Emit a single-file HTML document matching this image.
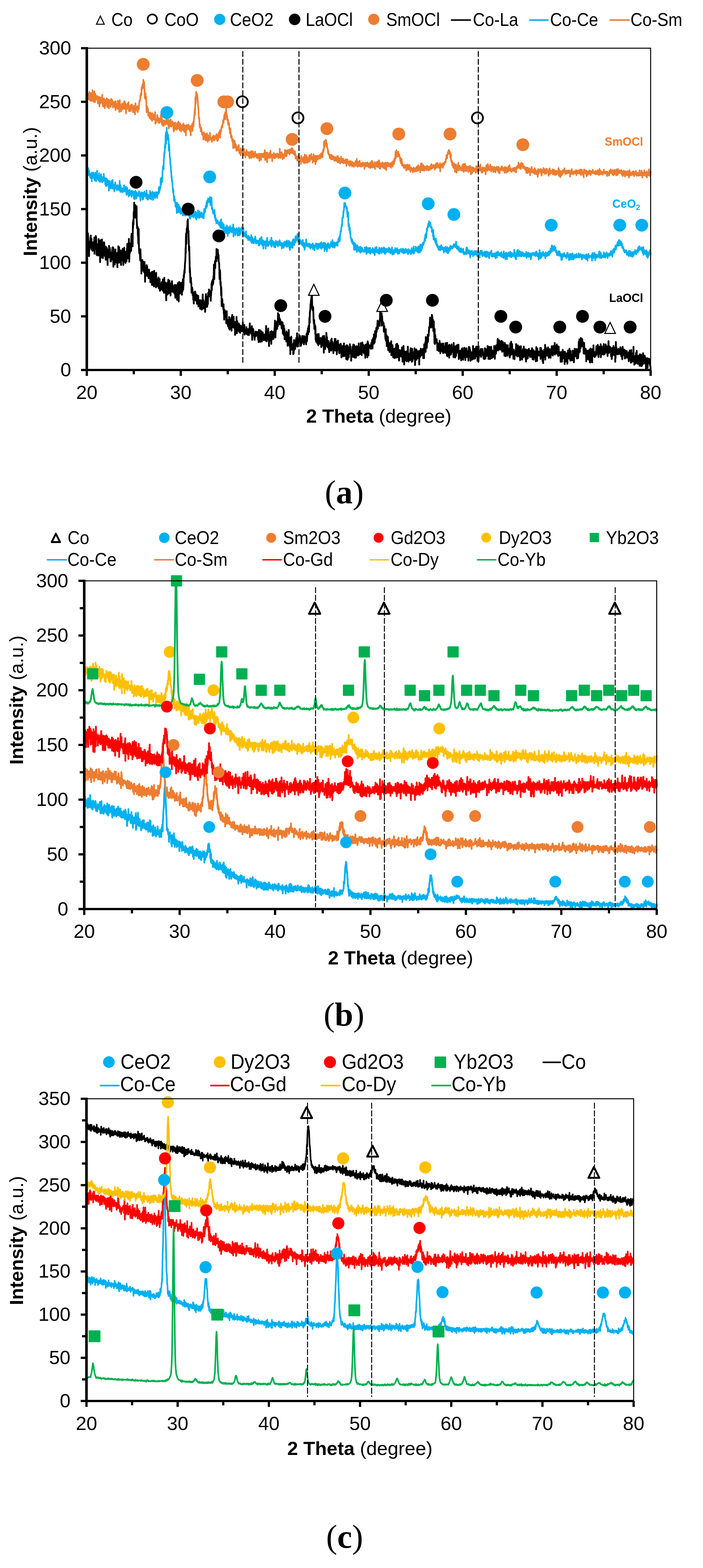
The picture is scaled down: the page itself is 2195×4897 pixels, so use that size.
<!DOCTYPE html>
<html><head><meta charset="utf-8"><title>XRD patterns</title>
<style>html,body{margin:0;padding:0;background:#fff;}svg{display:block;}</style>
</head><body>
<svg width="2195" height="4897" viewBox="0 0 2195 4897">
<rect width="2195" height="4897" fill="#fff"/>
<clipPath id="clip0"><rect x="261.0" y="151.5" width="1780.5" height="1015.0"/></clipPath>
<path d="M271 747.5 l0.5 5 0.5-14 1 11 0.5 12.5 0.5-16.5 0.5-17 0.5 7 1 32 0.5 11 0.5-11.5 0.5-12 0.5 45 1-39 0.5 19.5 0.5-9 0.5-3 0.5-4 1-13 0.5-11 0.5 22 0.5-27 0.5 38 1-18 0.5-10 0.5 15.5 0.5 16 0.5 3.5 1-8 0.5-12 0.5 23 0.5-14 0.5-0.5 1-12.5 0.5 6.5 0.5-2 0.5 19 0.5-9.5 1-16 0.5-12.5 0.5 50.5 0.5-50 0.5 3.5 1 10.5 0.5 10 0.5 10.5 0.5-31.5 0.5-8.5 1 3 0.5 9.5 0.5 17.5 0.5 28.5 0.5-21.5 1-11.5 0.5 35 0.5-29.5 0.5-0.5 0.5-4 1 33.5 0.5-9 0.5-3.5 0.5 13.5 0.5-51.5 1 40 0.5-14 0.5 10.5 0.5-32 0.5 5 1 12 0.5 50.5 0.5-39.5 0.5-10.5 0.5-5.5 1 28.5 0.5-42 0.5 55 0.5-11 0.5-27.5 1 15.5 0.5-33.5 0.5 31.5 0.5 14.5 0.5-4 1 12.5 0.5 3.5 0.5-32.5 0.5 1 0.5-12 1 35.5 0.5-41.5 0.5 34 0.5-31.5 0.5 34.5 1 5.5 0.5-16.5 0.5-13 0.5 15 0.5 13 1 13 0.5 1 0.5-32 0.5-8 0.5 20 1 15.5 0.5-32.5 0.5 36.5 0.5-9.5 0.5-22 1 48 0.5-44 0.5 16.5 0.5-11 0.5 3 1-4.5 0.5-8 0.5 24.5 0.5-36 0.5 12 1-2 0.5-5 0.5 6.5 0.5-1 0.5 13 1 25 0.5-21.5 0.5 11 0.5 10.5 0.5-27 1 13.5 0.5 7.5 0.5 0.5 0.5-21.5 0.5-1 1-15.5 0.5 21.5 0.5-17 0.5-5.5 0.5 4.5 1 56.5 0.5-57.5 0.5 14 0.5-1 0.5 1 1 0 0.5 1 0.5 11 0.5 24.5 0.5-28.5 1 11 0.5-29.5 0.5 21.5 0.5-5.5 0.5 14.5 1-5 0.5-8 0.5 23.5 0.5-28 0.5 6.5 1 17 0.5 19 0.5-45.5 0.5 12.5 0.5 4 1-4.5 0.5-32 0.5 29 0.5-2 0.5 24.5 1-48.5 0.5 11 0.5-2 0.5 16 0.5-13.5 1 8.5 0.5-4 0.5 12 0.5 20.5 0.5-38.5 1 45.5 0.5-26 0.5-0.5 0.5 13 0.5-25.5 1 12.5 0.5 3.5 0.5-14.5 0.5 15 0.5-28 1 15.5 0.5 12.5 0.5 22.5 0.5-10 0.5-36 1 17.5 0.5 3 0.5-28.5 0.5 43.5 0.5-10.5 1-1.5 0.5-16 0.5 18.5 0.5-0.5 0.5 14.5 1-35 0.5-1 0.5 19 0.5-10 0.5 21.5 1-12.5 0.5-27.5 0.5 18 0.5-32.5 0.5 45.5 1-20.5 0.5 10.5 0.5-11.5 0.5 7.5 0.5 7.5 1 3.5 0.5-58 0.5 44.5 0.5 27 0.5-21.5 1-21.5 0.5 15.5 0.5-29.5 0.5 3 0.5 14 1 2 0.5 4.5 0.5-8 0.5 7.5 0.5-43.5 1-10 0.5 36.5 0.5-6 0.5 3 0.5-17.5 1 23.5 0.5-33 0.5-42 0.5 17.5 0.5-24 1 13 0.5-39 0.5 16.5 0.5 2.5 0.5-48 1 37.5 0.5 9 0.5-23.5 0.5 1 0.5-17 1 29 0.5-24 0.5 2 0.5 25 0.5-7.5 1 19.5 0.5-40 0.5 50 0.5 3.5 0.5 15.5 1-3 0.5 2.5 0.5-3.5 0.5 27 0.5 1 1 24.5 0.5-1.5 0.5-45 0.5 31 0.5 32 1 13.5 0.5 0 0.5-9 0.5 4 0.5 15.5 1 11.5 0.5-35 0.5 17 0.5 15 0.5 0.5 1 7 0.5 36.5 0.5-41 0.5 19 0.5 0.5 1-3.5 0.5-17.5 0.5 28.5 0.5 5 0.5-28 1-0.5 0.5 25.5 0.5-20.5 0.5 13 0.5-7.5 1 23 0.5-28.5 0.5-4 0.5 9 0.5 2 1 51 0.5-45 0.5 4.5 0.5 3 0.5 7.5 1-9 0.5-4 0.5 10.5 0.5 3.5 0.5-23 1 33.5 0.5-29 0.5 13 0.5 14.5 0.5-6.5 1 9.5 0.5-21.5 0.5 5.5 0.5 13.5 0.5 8.5 1-19 0.5-8 0.5 15.5 0.5-6.5 0.5 12 1-5.5 0.5 5.5 0.5-7 0.5 25.5 0.5-29 1 13 0.5-7.5 0.5 10.5 0.5-8.5 0.5 20 1-30.5 0.5 40.5 0.5-8.5 0.5-17 0.5-16 1 17 0.5 8 0.5 16.5 0.5-16.5 0.5-1.5 1-23 0.5 15.5 0.5 30 0.5-48.5 0.5 34 1 7 0.5-31.5 0.5 21.5 0.5 4.5 0.5-7.5 1-8 0.5-1.5 0.5 33 0.5-45.5 0.5 14.5 1 19 0.5 6.5 0.5 2.5 0.5-14.5 0.5 11 1 2 0.5-21 0.5 6.5 0.5 11 0.5-15 1-8 0.5 33.5 0.5-6 0.5-20.5 0.5 3.5 1 7 0.5-12.5 0.5 31 0.5 5.5 0.5-7.5 1-13 0.5 12.5 0.5-3.5 0.5 7 0.5-4.5 1 5.5 0.5-18 0.5-5.5 0.5 17.5 0.5-3.5 1 5.5 0.5-14.5 0.5 6 0.5-19.5 0.5 36 1-19 0.5-0.5 0.5 11 0.5-12.5 0.5 27 1-47 0.5 46.5 0.5-30 0.5 27.5 0.5-30 1 21 0.5-7 0.5 1.5 0.5-13.5 0.5 19 1 35.5 0.5-29 0.5-12.5 0.5 8.5 0.5-15.5 1-3 0.5 15.5 0.5 18 0.5-38 0.5 4.5 1 18.5 0.5-31.5 0.5 32.5 0.5 10.5 0.5-13 1-16 0.5 27 0.5-38 0.5 37.5 0.5-24 1 5.5 0.5 9.5 0.5-16 0.5 34 0.5-37.5 1 19 0.5 6 0.5-16.5 0.5-4 0.5 4 1-16 0.5 12 0.5-2.5 0.5 24 0.5-8.5 1-6 0.5 8 0.5-4 0.5-2 0.5-5 1 12 0.5 3.5 0.5 6 0.5 1 0.5-26.5 1 16 0.5-11.5 0.5 27 0.5 8.5 0.5-11.5 1-28.5 0.5 1 0.5 9.5 0.5 14.5 0.5-8.5 1 2 0.5 0.5 0.5 27.5 0.5-21 0.5-9 1-22 0.5 17.5 0.5-16 0.5 23 0.5-2 1 34.5 0.5-44 0.5-1.5 0.5-15.5 0.5 28.5 1-7.5 0.5 9.5 0.5 6 0.5-6.5 0.5-5 1-22 0.5 17 0.5 9.5 0.5-12.5 0.5-1.5 1 10.5 0.5-23.5 0.5 37.5 0.5-22.5 0.5-12.5 1 24 0.5-23.5 0.5-14 0.5 8.5 0.5 24 1-15.5 0.5-29 0.5 7 0.5-1.5 0.5-12 1-11 0.5 10 0.5-14 0.5-15.5 0.5-2 1-16.5 0.5-30 0.5 16 0.5-49.5 0.5-12 1 32.5 0.5-31.5 0.5-16 0.5 5.5 0.5-6.5 1-10 0.5-12.5 0.5 18.5 0.5-24 0.5 28 1 15 0.5-7.5 0.5 23 0.5 17 0.5 22.5 1-13.5 0.5 26 0.5 25 0.5 29.5 0.5-13.5 1 29 0.5 16.5 0.5-9.5 0.5 0.5 0.5-6 1 18.5 0.5-1.5 0.5 30 0.5-11 0.5 1.5 1-6.5 0.5 12 0.5-6.5 0.5 18.5 0.5-9 1 1 0.5 22 0.5-16.5 0.5 7.5 0.5 21 1-35 0.5 17.5 0.5 7 0.5-5 0.5-5.5 1-16.5 0.5 22 0.5-7.5 0.5-10.5 0.5 11.5 1-6 0.5 20 0.5-15 0.5 11 0.5-13.5 1 26.5 0.5-2 0.5-25 0.5 19 0.5 2.5 1-5 0.5 10.5 0.5-25 0.5 33 0.5-13.5 1-5.5 0.5 6 0.5 9.5 0.5 1 0.5-15.5 1 18.5 0.5-20.5 0.5 27.5 0.5-12 0.5-7 1 16.5 0.5-23.5 0.5 8.5 0.5 13 0.5 6 1 1 0.5-20 0.5 15 0.5 2.5 0.5-14 1-31 0.5 24.5 0.5-6 0.5 6.5 0.5-7 1 26 0.5-11.5 0.5-9 0.5 3 0.5 2 1 5.5 0.5-5.5 0.5 6 0.5 20 0.5-16 1-21.5 0.5-14 0.5-4 0.5 21 0.5-11 1-1 0.5 19.5 0.5 11.5 0.5-22.5 0.5 21.5 1-19 0.5-12.5 0.5 24 0.5-19 0.5-16 1 9.5 0.5-3 0.5-6 0.5-11.5 0.5 18 1-14.5 0.5 14.5 0.5 4.5 0.5-12.5 0.5 10 1-2 0.5-1.5 0.5 19 0.5-31.5 0.5 15 1-16.5 0.5-21.5 0.5 22 0.5-2.5 0.5-26.5 1 7.5 0.5-8.5 0.5 13 0.5-17 0.5 14 1-4.5 0.5-19.5 0.5 10 0.5-21.5 0.5-25 1 45.5 0.5-16.5 0.5-28.5 0.5 10.5 0.5-21.5 1 21.5 0.5-22 0.5 1 0.5-8.5 0.5-6.5 1 15 0.5-5.5 0.5-33.5 0.5 11.5 0.5 0.5 1 1.5 0.5-5 0.5 19.5 0.5 0 0.5-25.5 1 17.5 0.5-4.5 0.5 23 0.5-18.5 0.5 18.5 1 5 0.5 6 0.5 24 0.5 20.5 0.5-2.5 1-25.5 0.5 11.5 0.5 27.5 0.5 7 0.5-9.5 1 22 0.5 20.5 0.5-25.5 0.5 16 0.5 42.5 1-21.5 0.5-0.5 0.5 1 0.5 8.5 0.5 14 1-2.5 0.5-1.5 0.5 10 0.5 4.5 0.5-17 1 29.5 0.5-4.5 0.5 22.5 0.5-29 0.5-1.5 1 5 0.5-2.5 0.5 7.5 0.5 3 0.5 0 1 10.5 0.5-16 0.5 20 0.5 15 0.5-27 1-11 0.5 35.5 0.5-9.5 0.5 8.5 0.5-3 1-4 0.5 16.5 0.5-11 0.5 15 0.5-10.5 1 8.5 0.5-1 0.5 8.5 0.5-35.5 0.5 9.5 1 30 0.5-15.5 0.5 1 0.5 1 0.5 9.5 1-26 0.5 14.5 0.5-10.5 0.5 0 0.5-10 1 39.5 0.5-43 0.5 6 0.5 9 0.5-21.5 1 26.5 0.5-7 0.5 19.5 0.5-22.5 0.5 12 1 8 0.5-31 0.5 30 0.5-3.5 0.5 2.5 1 7.5 0.5-15.5 0.5-2 0.5 5 0.5 33 1-40.5 0.5 16.5 0.5 11 0.5-22 0.5 1 1 19.5 0.5-42 0.5 45 0.5 6.5 0.5-7 1-31 0.5 20 0.5 2.5 0.5-3.5 0.5 6.5 1 1.5 0.5-0.5 0.5-16 0.5-3.5 0.5 25.5 1-15.5 0.5-6.5 0.5 23 0.5-7 0.5 7 1 3 0.5-16.5 0.5 10.5 0.5-16.5 0.5 8.5 1-5.5 0.5 9 0.5 4.5 0.5-6.5 0.5-1 1 9 0.5-13.5 0.5-3.5 0.5 7 0.5-18.5 1 28.5 0.5-13.5 0.5 11.5 0.5-7.5 0.5 13 1-23 0.5 11.5 0.5-12 0.5 30 0.5-9 1 5 0.5-4 0.5 2 0.5-6.5 0.5-1 1 0.5 0.5 6.5 0.5-9 0.5-8 0.5 22 1-11 0.5 1.5 0.5-6.5 0.5 7 0.5-0.5 1 12 0.5-12 0.5 11.5 0.5-17 0.5 8 1-1.5 0.5 11.5 0.5-20.5 0.5 2 0.5-2 1-16 0.5 27.5 0.5-15 0.5 16.5 0.5-6 1 0.5 0.5 1.5 0.5-4.5 0.5 12 0.5-4 1-6 0.5-14 0.5 31 0.5 12 0.5-15.5 1-7 0.5-0.5 0.5 1 0.5-12.5 0.5 2.5 1 12.5 0.5 5.5 0.5-1.5 0.5 0.5 0.5-1.5 1 16.5 0.5-13 0.5-0.5 0.5-2.5 0.5 1 1-11 0.5 14.5 0.5-1 0.5-11.5 0.5 9.5 1-5 0.5-5.5 0.5 3.5 0.5 2 0.5 5.5 1-10.5 0.5 6.5 0.5 8 0.5-4 0.5 13 1-3 0.5 11 0.5-14 0.5-24 0.5 22.5 1-15.5 0.5 9.5 0.5 8 0.5-24 0.5 9 1 28 0.5-33 0.5 25 0.5-10.5 0.5-10 1 11.5 0.5-16.5 0.5 4 0.5 28 0.5-13 1-9 0.5 10 0.5-4 0.5-12 0.5 5.5 1 15 0.5-13 0.5 9 0.5 7.5 0.5-1.5 1-16.5 0.5 3.5 0.5-0.5 0.5 14 0.5-11.5 1 10 0.5-1.5 0.5-9 0.5 14.5 0.5-24.5 1-21.5 0.5 24 0.5 18 0.5-9.5 0.5 15.5 1-14 0.5-10.5 0.5-1 0.5 19 0.5-16 1-10 0.5-7.5 0.5 29 0.5 2 0.5-11 1 35 0.5-28.5 0.5-3 0.5 2 0.5 13 1-16 0.5 6 0.5-18 0.5 19.5 0.5-8 1-0.5 0.5-10 0.5 36.5 0.5-26.5 0.5-13.5 1 13 0.5 13 0.5-22.5 0.5-0.5 0.5 6.5 1 9.5 0.5-5.5 0.5-6 0.5 6 0.5 11 1-14.5 0.5-9.5 0.5 4 0.5-6 0.5-3.5 1-11 0.5-16.5 0.5 15.5 0.5 23.5 0.5 13.5 1-32 0.5-3.5 0.5 12.5 0.5-18.5 0.5 10 1-15.5 0.5 7 0.5-10.5 0.5 23.5 0.5-17 1-5 0.5 13.5 0.5-40.5 0.5 27.5 0.5-23.5 1 23 0.5-5.5 0.5-17 0.5 10 0.5 1.5 1-0.5 0.5 20 0.5-10.5 0.5 7.5 0.5-12 1 10 0.5-4 0.5 2 0.5 1.5 0.5 2 1 9.5 0.5 6.5 0.5-2.5 0.5-18 0.5 10 1 0 0.5-7.5 0.5 32 0.5-17.5 0.5 20.5 1-7 0.5-8 0.5-11.5 0.5 30 0.5-6.5 1-13 0.5 32.5 0.5-20.5 0.5 9.5 0.5 7.5 1-10.5 0.5-4.5 0.5 19 0.5-14 0.5 3 1 17.5 0.5-31.5 0.5 6 0.5 24 0.5-2.5 1-15 0.5 16 0.5 16.5 0.5-33 0.5 13.5 1-21.5 0.5 19 0.5 3 0.5-30.5 0.5 36.5 1 10 0.5-13 0.5-10 0.5 28 0.5-2.5 1-15 0.5 41.5 0.5-22 0.5-21 0.5 16.5 1 13 0.5-41 0.5 40 0.5-10 0.5-1 1-5 0.5 5.5 0.5-3 0.5-1 0.5 2 1-2 0.5 29 0.5-33 0.5 22 0.5 9 1-42 0.5 31.5 0.5-17.5 0.5 11 0.5-1 1-14 0.5 18 0.5-17 0.5-0.5 0.5-9.5 1 17.5 0.5-16.5 0.5-8.5 0.5 1.5 0.5 11.5 1 1 0.5-28.5 0.5 7 0.5 34.5 0.5-20 1 3 0.5 6 0.5-1.5 0.5-4.5 0.5-5.5 1 8 0.5-2 0.5-12.5 0.5 12 0.5-3 1-6 0.5-8 0.5 4.5 0.5 9.5 0.5 1.5 1 16.5 0.5-18 0.5 15 0.5-0.5 0.5-20 1 8.5 0.5-7 0.5 13 0.5-22 0.5 12 1-12 0.5 5.5 0.5 6 0.5 7 0.5-6 1-9.5 0.5 1.5 0.5 21.5 0.5-26 0.5 14 1-12 0.5 17 0.5-16 0.5 16.5 0.5-11.5 1 4.5 0.5-1 0.5 3 0.5-6 0.5 17.5 1-31.5 0.5-2.5 0.5 15 0.5 9 0.5-10.5 1-21 0.5 1 0.5 8 0.5-17.5 0.5 19 1-9.5 0.5-17 0.5 1.5 0.5 0.5 0.5 16.5 1-43.5 0.5-2.5 0.5 17.5 0.5-34 0.5 0 1-10 0.5-14 0.5 13.5 0.5-22 0.5-4 1-4 0.5-12 0.5 11 0.5 15.5 0.5-25 1 37.5 0.5-3 0.5 11.5 0.5-4 0.5-7 1 4 0.5 17 0.5 19 0.5 6 0.5 7 1-12 0.5 27.5 0.5-15.5 0.5 15 0.5 2.5 1-12 0.5 27 0.5-22 0.5 39 0.5-4.5 1 11 0.5-8 0.5-13.5 0.5-0.5 0.5 6.5 1 1.5 0.5 17.5 0.5 2.5 0.5-18 0.5-11.5 1 20.5 0.5 11 0.5 3.5 0.5-9.5 0.5-26 1 21 0.5 10 0.5-4.5 0.5-1.5 0.5-8.5 1 11 0.5 3 0.5-8 0.5-7.5 0.5-2.5 1 2 0.5 11.5 0.5 15 0.5-10.5 0.5-12.5 1 19 0.5-18.5 0.5 10 0.5 0 0.5-19.5 1 10.5 0.5-13 0.5 27 0.5-23.5 0.5 2.5 1 46 0.5-33.5 0.5-19 0.5 9.5 0.5 14.5 1-2.5 0.5 13 0.5-17 0.5 23.5 0.5-9 1-24 0.5 13.5 0.5 4.5 0.5-3 0.5-32.5 1 20 0.5 21.5 0.5-28 0.5 21 0.5-9.5 1 16 0.5 4.5 0.5-20 0.5 19 0.5 0.5 1-19.5 0.5 24.5 0.5 3.5 0.5-22.5 0.5 29.5 1-14 0.5-4 0.5 12 0.5-2.5 0.5-20.5 1 4.5 0.5 15 0.5-17 0.5-11.5 0.5 33 1-15.5 0.5-22 0.5 16.5 0.5-2.5 0.5 12 1 7.5 0.5-22.5 0.5 6 0.5 8.5 0.5 5 1 15 0.5-21.5 0.5 10 0.5-6.5 0.5-9 1-1.5 0.5 1.5 0.5-17.5 0.5 13 0.5 22.5 1 1 0.5-36.5 0.5 35 0.5-7 0.5-20.5 1 1 0.5 20.5 0.5-3 0.5 22 0.5-8 1-6 0.5-4 0.5 4 0.5-5.5 0.5-23.5 1 20.5 0.5 2 0.5 4 0.5 2 0.5-16 1 26 0.5-10 0.5 11.5 0.5-13.5 0.5 0 1-9 0.5-3 0.5 6.5 0.5-11 0.5 0.5 1 15 0.5 0 0.5 27 0.5-26 0.5 4 1 19.5 0.5-14.5 0.5-15.5 0.5 25.5 0.5-29 1 9.5 0.5 8.5 0.5-1 0.5-11 0.5 26.5 1-40 0.5 33 0.5-0.5 0.5-22.5 0.5 5 1-6 0.5 3.5 0.5 8 0.5 19 0.5-9 1-7.5 0.5 2.5 0.5 23.5 0.5-35.5 0.5-8 1 3.5 0.5 28.5 0.5-16.5 0.5 30 0.5-44.5 1 42.5 0.5-27.5 0.5-8.5 0.5-1.5 0.5 11.5 1 20.5 0.5-15.5 0.5 2 0.5-7 0.5-7.5 1 4 0.5-17 0.5 17 0.5 12.5 0.5-23.5 1 22.5 0.5-7 0.5 1.5 0.5 28.5 0.5-30 1 0 0.5 6 0.5-1 0.5 13 0.5-15.5 1-16.5 0.5 19 0.5 4 0.5 1 0.5-30.5 1 39 0.5-25.5 0.5 8.5 0.5-21 0.5 7 1 16 0.5 17 0.5-34.5 0.5-0.5 0.5 29.5 1-21.5 0.5 17.5 0.5 0 0.5 9.5 0.5-29.5 1 7.5 0.5-3 0.5-11 0.5 9 0.5 0.5 1-2 0.5 21 0.5-12 0.5 13 0.5-3.5 1-9.5 0.5-13.5 0.5-11.5 0.5 36 0.5-14.5 1 2.5 0.5-7 0.5-1 0.5 2.5 0.5 15 1-16 0.5-6 0.5 16.5 0.5-29 0.5 25 1 4.5 0.5-11 0.5 6.5 0.5 12.5 0.5-15.5 1-19 0.5-5 0.5 29.5 0.5-17 0.5 8.5 1-2 0.5-11.5 0.5 4.5 0.5 8 0.5 12 1 2.5 0.5-12.5 0.5-5 0.5-2 0.5-3.5 1-2.5 0.5 39 0.5-38.5 0.5 22 0.5-25 1 8.5 0.5-3.5 0.5 13 0.5-9.5 0.5 24.5 1-34.5 0.5 16 0.5 25.5 0.5-42.5 0.5-7.5 1 29.5 0.5-24.5 0.5 22 0.5 17 0.5-22.5 1-8.5 0.5 2 0.5 0 0.5-3 0.5 0.5 1 4.5 0.5 3.5 0.5-4.5 0.5 0.5 0.5-1.5 1 8.5 0.5-7 0.5-8 0.5-3.5 0.5 3.5 1 0.5 0.5-9.5 0.5-4 0.5 0.5 0.5 26.5 1-16 0.5-14.5 0.5 1 0.5-3.5 0.5 2.5 1 12 0.5-25.5 0.5 28.5 0.5-29 0.5 10 1 15 0.5-14.5 0.5-20.5 0.5 19 0.5 5 1-13 0.5 4 0.5 3 0.5-22 0.5-6.5 1 13.5 0.5-15 0.5 8.5 0.5-6 0.5-4.5 1-18.5 0.5 9.5 0.5 15 0.5-20 0.5 6.5 1 1 0.5 2 0.5-11 0.5-1.5 0.5 2.5 1 10 0.5 2.5 0.5-22 0.5-1.5 0.5-23.5 1 27 0.5-14 0.5-2 0.5 15 0.5-1 1 6.5 0.5-24.5 0.5 39 0.5-15.5 0.5-14.5 1 19 0.5 7.5 0.5-7.5 0.5-1 0.5 2 1 5.5 0.5-3 0.5 0.5 0.5 26 0.5-5.5 1-12 0.5 7 0.5 6 0.5-2.5 0.5-0.5 1 23 0.5 7 0.5 1.5 0.5-32 0.5 36 1-7 0.5 1.5 0.5-11.5 0.5 34 0.5-17.5 1-12.5 0.5 3 0.5 10 0.5 9.5 0.5-21.5 1 41.5 0.5-29 0.5 7 0.5 0.5 0.5 5 1 2 0.5-7 0.5 25.5 0.5 2 0.5-15 1 2.5 0.5-0.5 0.5-15.5 0.5 26 0.5-14.5 1 5 0.5-22 0.5 44 0.5-9 0.5-0.5 1-20 0.5 25 0.5-27.5 0.5 1 0.5 9 1 5.5 0.5 23 0.5-19.5 0.5 19 0.5-12 1-6 0.5 6 0.5-14 0.5 12.5 0.5 16.5 1-5 0.5 2.5 0.5-10.5 0.5-18 0.5 9 1 2 0.5 18.5 0.5-41.5 0.5 27.5 0.5-27.5 1 37.5 0.5-3 0.5-36.5 0.5 42.5 0.5-17 1 8.5 0.5 5.5 0.5-34 0.5 36.5 0.5-21.5 1-2.5 0.5 24.5 0.5 10 0.5-1 0.5-11 1-12 0.5-1 0.5 6 0.5-1 0.5-12 1 2.5 0.5 4.5 0.5 11.5 0.5-16 0.5 7 1 10.5 0.5-2 0.5-20.5 0.5-7 0.5 27 1 18 0.5-30.5 0.5 17 0.5-18.5 0.5 12.5 1-29.5 0.5 24 0.5-9 0.5 24.5 0.5 18.5 1-34 0.5-1.5 0.5-5 0.5 14.5 0.5 8.5 1 3.5 0.5-24.5 0.5-1.5 0.5 18 0.5-4 1 2.5 0.5 13.5 0.5-24 0.5-7.5 0.5 12 1 14 0.5-14 0.5-18 0.5-8.5 0.5 21 1 12.5 0.5 13.5 0.5-5 0.5-16.5 0.5-3.5 1-0.5 0.5 6 0.5 14.5 0.5 0.5 0.5-20 1 11.5 0.5-24.5 0.5 31.5 0.5-36 0.5 27 1-10 0.5 0 0.5 6.5 0.5 19 0.5-17.5 1-23 0.5 32 0.5 6.5 0.5-18.5 0.5 2 1 10 0.5-6 0.5-3 0.5-1 0.5-6.5 1-6.5 0.5 4 0.5 0.5 0.5-15.5 0.5 6.5 1 46 0.5-29.5 0.5 14 0.5-10 0.5-17 1 11 0.5 3 0.5-20 0.5 32 0.5-16.5 1-7 0.5 5.5 0.5 13.5 0.5-13 0.5-9.5 1 5 0.5 0 0.5 0 0.5 2 0.5 15.5 1-11 0.5-8.5 0.5 39 0.5-43 0.5 4.5 1 16 0.5-4 0.5-6.5 0.5-7.5 0.5 9 1-18 0.5 8.5 0.5 13 0.5-3.5 0.5-8.5 1-6 0.5 0 0.5 8.5 0.5-3 0.5 1.5 1-10 0.5 20 0.5-18.5 0.5 27.5 0.5-27 1 1.5 0.5 2 0.5 23.5 0.5-43 0.5 7 1 9 0.5-6.5 0.5 15 0.5-18 0.5-13.5 1 30 0.5-46 0.5 34 0.5-16.5 0.5 16.5 1-16 0.5 16 0.5-9.5 0.5-8 0.5 2 1-8 0.5-17.5 0.5 22.5 0.5-5 0.5-18 1 3 0.5 1 0.5-17 0.5 4 0.5-14.5 1 0 0.5-2 0.5-5.5 0.5-15.5 0.5-7 1 14 0.5 7.5 0.5 3.5 0.5 6.5 0.5-12.5 1-4 0.5-9 0.5 21.5 0.5-36 0.5 6 1 0.5 0.5 22.5 0.5-5.5 0.5 17 0.5-24.5 1 35 0.5-4 0.5-18.5 0.5-8 0.5 33 1 7.5 0.5 27.5 0.5-44.5 0.5 19.5 0.5 28 1-28.5 0.5 6 0.5 14 0.5 4.5 0.5-12 1 7.5 0.5-0.5 0.5-6.5 0.5 2 0.5 6.5 1 3.5 0.5 22.5 0.5-1 0.5-21 0.5 3 1 2.5 0.5-3 0.5 16.5 0.5-12 0.5 18 1-11.5 0.5-9.5 0.5 18.5 0.5-29.5 0.5 9.5 1-2.5 0.5 18.5 0.5 13.5 0.5-8 0.5-14 1 9.5 0.5-11 0.5 6.5 0.5 8.5 0.5-17 1-5 0.5 24 0.5-14 0.5 4 0.5-1.5 1 4.5 0.5 13 0.5-30 0.5 27.5 0.5-2 1-17 0.5 5.5 0.5 11 0.5-1.5 0.5-5.5 1 3 0.5-12.5 0.5 20.5 0.5-17 0.5-13.5 1 15.5 0.5 12 0.5-1.5 0.5-9 0.5 8 1-21.5 0.5 35 0.5-39.5 0.5 42 0.5-22.5 1 11.5 0.5-21.5 0.5 18 0.5 4.5 0.5-9 1 1 0.5 17 0.5-27 0.5 32.5 0.5-40.5 1 17 0.5-14 0.5 17.5 0.5 2.5 0.5-16.5 1 14 0.5 11 0.5-16.5 0.5 15 0.5-15.5 1-15.5 0.5 5 0.5 11 0.5 2 0.5 2 1 3.5 0.5-11 0.5 6 0.5 3 0.5-7.5 1 26 0.5-44.5 0.5 15 0.5 23 0.5-17 1 14.5 0.5-6.5 0.5 4.5 0.5-22.5 0.5 34.5 1-18 0.5 15 0.5-18 0.5 3.5 0.5 12.5 1-32 0.5-1 0.5 24 0.5-12 0.5 8 1-4.5 0.5-14.5 0.5 21 0.5-23.5 0.5 24 1-2 0.5-22.5 0.5 18.5 0.5 26.5 0.5-25.5 1 17.5 0.5 4.5 0.5-8 0.5-14 0.5 16.5 1 3.5 0.5-11.5 0.5-9 0.5 13 0.5 7 1 10 0.5-15.5 0.5-18.5 0.5-1.5 0.5 2.5 1 11 0.5-3 0.5-13 0.5 24.5 0.5-13.5 1 25 0.5-28.5 0.5 13 0.5 8 0.5-21.5 1 21.5 0.5-3 0.5-27 0.5 29.5 0.5-4.5 1 0.5 0.5-16.5 0.5 29.5 0.5-34.5 0.5 17 1 0.5 0.5 7 0.5-8.5 0.5-18.5 0.5 14.5 1 13 0.5-6.5 0.5-10 0.5 5 0.5 4 1-10 0.5 3 0.5 16 0.5 9.5 0.5-27.5 1-15 0.5 30 0.5-7.5 0.5-17 0.5-4.5 1 19 0.5-13 0.5 5.5 0.5 14.5 0.5 16.5 1-12.5 0.5-14.5 0.5-0.5 0.5 10.5 0.5 4 1 8.5 0.5 1 0.5-17.5 0.5 16 0.5-17.5 1 9 0.5-4.5 0.5-28.5 0.5 23.5 0.5 4.5 1-2 0.5 14.5 0.5-31.5 0.5 5.5 0.5 15.5 1-8.5 0.5 10 0.5-12 0.5 19.5 0.5-18 1-14 0.5 12 0.5 11.5 0.5-17.5 0.5-11 1 13.5 0.5 7.5 0.5 10 0.5-14 0.5-17 1 44.5 0.5-33.5 0.5 9 0.5-15 0.5 18.5 1 23 0.5-47 0.5 35.5 0.5-22 0.5 10.5 1-1 0.5-2 0.5 7.5 0.5-8.5 0.5-1 1-6 0.5 8 0.5-2.5 0.5-11 0.5 25 1-11 0.5-4.5 0.5-6.5 0.5 12.5 0.5-2 1 5 0.5-18 0.5 18 0.5-11.5 0.5 9 1-1.5 0.5 14 0.5-14.5 0.5 1 0.5 16.5 1-8.5 0.5-3.5 0.5 12.5 0.5-3.5 0.5-30.5 1 28 0.5-2 0.5 6 0.5-29.5 0.5 3.5 1 7 0.5 2.5 0.5 6.5 0.5-2.5 0.5 4.5 1-15 0.5-0.5 0.5-2.5 0.5-13 0.5 15 1 1 0.5-4.5 0.5 29 0.5-17.5 0.5 17 1-35 0.5 23.5 0.5-26 0.5 8 0.5 18.5 1 12 0.5-6 0.5-24.5 0.5 15.5 0.5 13 1-14.5 0.5-22 0.5 1 0.5 23 0.5-9 1-3.5 0.5 23.5 0.5-11 0.5-1.5 0.5-9.5 1 10 0.5 9.5 0.5-20 0.5 10.5 0.5 6.5 1-0.5 0.5-12 0.5-19.5 0.5 18 0.5-15 1 37 0.5-16.5 0.5 4 0.5-12 0.5-12.5 1 14 0.5 7 0.5-25.5 0.5 18.5 0.5-12.5 1 10 0.5-14.5 0.5 9.5 0.5-14.5 0.5 1.5 1-19 0.5 25.5 0.5 9.5 0.5 1.5 0.5-7 1-11.5 0.5 12 0.5-25.5 0.5 15 0.5 13 1-5.5 0.5 2 0.5-9 0.5 14 0.5-25.5 1 19 0.5-1 0.5-12.5 0.5 19.5 0.5-7.5 1-19.5 0.5 16 0.5 2 0.5 9.5 0.5 6.5 1-30.5 0.5 22.5 0.5-22.5 0.5 29.5 0.5-21 1 17 0.5-6.5 0.5-8.5 0.5 9 0.5-3.5 1 27 0.5-12 0.5-28 0.5 26 0.5-6 1 6 0.5 5.5 0.5 10 0.5-4 0.5-31.5 1 20 0.5 12.5 0.5-3 0.5-20 0.5 20.5 1-3.5 0.5 6 0.5 1.5 0.5-33 0.5 20.5 1 2 0.5 3 0.5-14.5 0.5 7.5 0.5-3 1 2 0.5 5.5 0.5 1.5 0.5 14 0.5-14 1-30 0.5 38.5 0.5-14 0.5-3.5 0.5-10 1-16.5 0.5 34.5 0.5 5.5 0.5-22 0.5 10 1-20.5 0.5 14.5 0.5 16 0.5-5.5 0.5-6.5 1-1 0.5 18.5 0.5 9.5 0.5-3.5 0.5-25 1 9 0.5 19 0.5-14 0.5 16 0.5-19 1 7.5 0.5-3.5 0.5-5 0.5-2.5 0.5 1.5 1-13.5 0.5-12.5 0.5 18 0.5 12 0.5-10.5 1 17 0.5 1.5 0.5 0.5 0.5-13 0.5-10.5 1-11 0.5 10.5 0.5 7 0.5 16 0.5-8.5 1-5.5 0.5 8 0.5-22.5 0.5 30 0.5-1 1-12.5 0.5-18 0.5 43 0.5-11 0.5-24 1 22 0.5-30.5 0.5 32.5 0.5-21.5 0.5 13 1-6 0.5 17 0.5 6.5 0.5-27 0.5 14.5 1 4.5 0.5 2 0.5-0.5 0.5-27 0.5 25.5 1-4 0.5-28.5 0.5 27 0.5-4.5 0.5-4.5 1 7.5 0.5 4.5 0.5-22 0.5 10.5 0.5 11 1 8.5 0.5-2.5 0.5-1.5 0.5 12.5 0.5-37.5 1 12 0.5-5 0.5 22.5 0.5-10.5 0.5-3 1-3.5 0.5 3 0.5 12 0.5-26.5 0.5 4.5 1 7 0.5-11 0.5-2 0.5-2 0.5 14 1 5.5 0.5 2 0.5-15.5 0.5 18 0.5 2 1-16.5 0.5 0.5 0.5-1.5 0.5 17 0.5-13 1-7 0.5 16 0.5-2.5 0.5 0 0.5-20.5 1 7 0.5 25.5 0.5 2 0.5-24.5 0.5 9.5 1-8 0.5 3 0.5-8.5 0.5 29.5 0.5-12 1-9 0.5 0 0.5 13.5 0.5-4.5 0.5 0.5 1-7 0.5-7.5 0.5 11 0.5-1.5 0.5 22 1-11.5 0.5-33 0.5 40 0.5-34.5 0.5 18.5 1 19 0.5-39 0.5 2 0.5 20.5 0.5-15.5 1 13.5 0.5-4.5 0.5-1 0.5 4.5 0.5-9 1 2 0.5 10 0.5-9 0.5 9 0.5-7.5 1 7 0.5-6.5 0.5-17 0.5 25.5 0.5 9 1-34.5 0.5 14.5 0.5 11 0.5-4.5 0.5 7.5 1-21 0.5 2.5 0.5 1 0.5 4.5 0.5 25.5 1-10 0.5-16.5 0.5 33 0.5-29 0.5 10.5 1-18.5 0.5 9.5 0.5-14.5 0.5 8 0.5 2.5 1 12.5 0.5-18.5 0.5-19.5 0.5 46 0.5-8 1-30.5 0.5 13 0.5 9 0.5-12 0.5 5 1 11 0.5 0 0.5-17.5 0.5 6 0.5-8.5 1 4.5 0.5 14.5 0.5-24.5 0.5 27.5 0.5-5.5 1 3.5 0.5 7 0.5-23 0.5 18.5 0.5-4.5 1-18.5 0.5 0.5 0.5 16.5 0.5 7.5 0.5-13.5 1 16.5 0.5-7 0.5-7.5 0.5-3 0.5 4.5 1-5 0.5-18 0.5 8.5 0.5-9 0.5 5 1 7.5 0.5 16 0.5 1 0.5-15 0.5 4 1 5.5 0.5-15.5 0.5-9.5 0.5 14.5 0.5-2 1 7.5 0.5 1.5 0.5-30.5 0.5 36.5 0.5-12 1 3 0.5-3.5 0.5-13 0.5 1 0.5 13 1-14 0.5 22 0.5-12.5 0.5-15.5 0.5 27 1-8.5 0.5-14 0.5 27 0.5-10 0.5 5 1 9.5 0.5-16.5 0.5 14.5 0.5-27.5 0.5 19 1 3 0.5-2.5 0.5 0 0.5 4 0.5-2.5 1 7.5 0.5-0.5 0.5-11 0.5 30.5 0.5-14.5 1-9 0.5-3.5 0.5 9 0.5-6 0.5 6 1 17.5 0.5-31.5 0.5 8 0.5 14 0.5-27.5 1 9.5 0.5 15 0.5-19.5 0.5 6.5 0.5-3 1 16 0.5 0 0.5 3 0.5-3 0.5 20 1-38.5 0.5 26 0.5-20 0.5 21 0.5-16 1 15 0.5-13 0.5 17.5 0.5-11 0.5-14.5 1 5 0.5 0.5 0.5 12 0.5 15 0.5-15 1-4 0.5-22.5 0.5 10 0.5 3 0.5 10 1 1.5 0.5-15.5 0.5 11.5 0.5-0.5 0.5-25.5 1 32.5 0.5-8 0.5 0 0.5 4 0.5 9 1-30.5 0.5 30 0.5-5.5 0.5-13.5 0.5 17 1-12.5 0.5 1 0.5 0 0.5-1.5 0.5 14.5 1-10 0.5-20.5 0.5 1 0.5 19.5 0.5-19 1 23 0.5 4.5 0.5 7.5 0.5-10.5 0.5-18 1 8.5 0.5-22.5 0.5 9 0.5 13.5 0.5-2 1-0.5 0.5-14 0.5 15.5 0.5-4.5 0.5 7.5 1-23.5 0.5 18 0.5 2.5 0.5 9 0.5-29 1 17 0.5-7 0.5 3 0.5-4 0.5 19 1-14.5 0.5 2 0.5-38.5 0.5 8 0.5 8.5 1-24.5 0.5 12 0.5 28 0.5-2.5 0.5-19 1 2.5 0.5-4.5 0.5 10.5 0.5-31 0.5 24 1-17 0.5-4 0.5 23 0.5-12.5 0.5-11 1 2.5 0.5 9 0.5 5 0.5 5.5 0.5-12 1 9.5 0.5 6.5 0.5 8.5 0.5 12 0.5-12 1-21.5 0.5 28.5 0.5 3 0.5-3 0.5 1 1 5 0.5-12.5 0.5 5 0.5-9 0.5 7.5 1 5.5 0.5 26.5 0.5-25 0.5 10 0.5-19 1 12 0.5 9.5 0.5-2 0.5 8 0.5-7 1-9.5 0.5-10 0.5 8 0.5-3.5 0.5-0.5 1 14 0.5-20 0.5 31.5 0.5-16.5 0.5 7 1 16.5 0.5-41.5 0.5 41.5 0.5-31 0.5-12.5 1 22 0.5-1 0.5 19.5 0.5-19 0.5-19.5 1 22 0.5 4.5 0.5 14.5 0.5-41 0.5 9.5 1 7.5 0.5-15.5 0.5 17.5 0.5-3 0.5-28 1 34 0.5-14 0.5 0.5 0.5 1 0.5 1 1 14.5 0.5-13.5 0.5 1 0.5 5 0.5 1.5 1 2 0.5-2.5 0.5-13.5 0.5 4 0.5-18.5 1 11.5 0.5 13.5 0.5-0.5 0.5-4.5 0.5 2 1-4 0.5-22 0.5 23.5 0.5-3.5 0.5 15 1 3 0.5-15.5 0.5 3 0.5-7 0.5-13 1 20.5 0.5 2 0.5-19 0.5 16 0.5-6 1 2 0.5-23 0.5 40.5 0.5-10 0.5-17 1-6 0.5 25 0.5-25.5 0.5 18.5 0.5 3 1-1.5 0.5-11 0.5-2 0.5 15.5 0.5-12.5 1 6.5 0.5 9 0.5-33 0.5 30 0.5-12 1 14 0.5-8.5 0.5-6 0.5-1 0.5 13.5 1-10.5 0.5-5.5 0.5-13 0.5 7.5 0.5-3 1 5 0.5 14.5 0.5-4 0.5-14 0.5 18 1 5 0.5-12.5 0.5 20 0.5-11.5 0.5 4 1-8.5 0.5-19.5 0.5-11 0.5 19.5 0.5 17.5 1-19 0.5 3.5 0.5 11.5 0.5-16.5 0.5 15.5 1 1 0.5-7 0.5-7 0.5 12 0.5-8 1 24.5 0.5-24 0.5 9 0.5 0.5 0.5 23 1-12 0.5 3.5 0.5-26.5 0.5 17.5 0.5-13.5 1-4 0.5 13.5 0.5 6 0.5-25.5 0.5 11 1 17 0.5-19 0.5 13 0.5-12.5 0.5-4 1 19 0.5-14.5 0.5 39.5 0.5-40 0.5 28.5 1-50.5 0.5 25 0.5 11 0.5-19.5 0.5 21.5 1-10 0.5 5 0.5-3 0.5 6.5 0.5-11.5 1 13.5 0.5-9.5 0.5-5.5 0.5 14 0.5-16 1 4 0.5 9 0.5 2.5 0.5-5 0.5 5 1 0.5 0.5-4 0.5 1 0.5-3.5 0.5-14.5 1 5.5 0.5 1 0.5 4 0.5 13 0.5 5 1-9 0.5-16 0.5 0 0.5 30.5 0.5 3.5 1-39 0.5 3.5 0.5 23 0.5-6 0.5-1 1-11.5 0.5 18 0.5-12 0.5 4 0.5 0 1-8.5 0.5 10.5 0.5 16.5 0.5-24.5 0.5 16 1-15.5 0.5 7.5 0.5 14.5 0.5-14 0.5 10.5 1-10 0.5 8 0.5-16 0.5 20 0.5-3.5 1 4 0.5 1 0.5-5.5 0.5-5 0.5-4 1 6.5 0.5 6 0.5 12.5 0.5-28 0.5 16.5 1-10 0.5 17 0.5-29 0.5 9.5 0.5 18.5 1-14 0.5-11 0.5 17.5 0.5 17.5 0.5-24 1-15.5 0.5 39 0.5-29.5 0.5 14.5 0.5-1 1-3 0.5 2 0.5-9.5 0.5 23.5 0.5-12 1 9.5 0.5-4.5 0.5-39 0.5 43 0.5-14.5 1 2 0.5 25.5 0.5-8.5 0.5 7.5 0.5-18.5 1 13 0.5-4.5 0.5 7.5 0.5-25 0.5 1.5 1-10 0.5 19 0.5-10.5 0.5-4 0.5-11 1 38 0.5-4.5 0.5 2 0.5 4.5 0.5-23.5 1 0 0.5 24.5 0.5-3.5 0.5-15.5 0.5 9 1-8 0.5 4.5 0.5-13.5 0.5-0.5 0.5 33.5 1-36 0.5 21 0.5 7.5 0.5-19.5 0.5 18 1 3.5 0.5-10 0.5-19.5 0.5 36 0.5-8.5 1 7.5 0.5-5 0.5-12 0.5 13.5 0.5-18.5 1 2.5 0.5-7 0.5-13 0.5 33 0.5-5.5 1 1.5 0.5-2 0.5-9.5 0.5-2 0.5 13 1-21 0.5 18.5 0.5-1.5 0.5 8.5 0.5-17.5 1-0.5 0.5 8.5 0.5 24.5 0.5-21.5 0.5-9 1 11.5 0.5-3.5 0.5-7 0.5 26.5 0.5-29.5 1 30.5 0.5-22 0.5-5.5 0.5 12.5 0.5-11 1 0 0.5 11.5 0.5-1 0.5-13.5 0.5 5.5 1-3 0.5 2 0.5 11.5 0.5 5.5 0.5-0.5 1 4 0.5 7.5" fill="none" stroke="#000000" stroke-width="5.5" stroke-linejoin="round" stroke-linecap="round" clip-path="url(#clip0)"/>
<path d="M271 537.5 l0.5 0.5 0.5-8 1 19 0.5-10.5 0.5 5 0.5-10.5 0.5-8.5 1 22.5 0.5-10 0.5 2.5 0.5-2 0.5-6.5 1 16 0.5-5 0.5 5 0.5 3 0.5-1 1 7 0.5-3.5 0.5-10 0.5 2 0.5 5 1-2 0.5-1.5 0.5-5.5 0.5 26 0.5-27.5 1 8 0.5-0.5 0.5 9 0.5-5.5 0.5 3.5 1-0.5 0.5-14 0.5 16.5 0.5-2.5 0.5-9 1 15.5 0.5-9.5 0.5-1.5 0.5-3 0.5 18 1-13 0.5-11.5 0.5 22.5 0.5-20.5 0.5 7 1 18 0.5-25 0.5 3.5 0.5 14.5 0.5-8.5 1-17.5 0.5 19.5 0.5-3.5 0.5 0 0.5 1.5 1 11.5 0.5-1 0.5-8.5 0.5-4.5 0.5 5.5 1 11.5 0.5-24 0.5 17 0.5-3.5 0.5-5 1 17 0.5 1.5 0.5-16.5 0.5 16 0.5-19 1 16 0.5-20.5 0.5 7 0.5 13 0.5-2 1-2 0.5-7 0.5 16.5 0.5-12 0.5 6 1-1.5 0.5 1 0.5-1.5 0.5 0 0.5 4 1-22.5 0.5 17.5 0.5 0.5 0.5 1.5 0.5 0 1-7.5 0.5 5 0.5 1.5 0.5 14.5 0.5-14 1 6 0.5 11.5 0.5 1.5 0.5-5.5 0.5-18 1 14.5 0.5 9.5 0.5-3.5 0.5-18 0.5 6.5 1 1 0.5 0 0.5-2 0.5-2 0.5 12.5 1-6 0.5 2 0.5 23.5 0.5-27 0.5 10.5 1-10.5 0.5-3.5 0.5 8 0.5 9.5 0.5-10.5 1 12.5 0.5 4.5 0.5-16 0.5 12.5 0.5-13.5 1-2 0.5-3 0.5 13 0.5-16 0.5 22 1 2.5 0.5-26.5 0.5 6.5 0.5 13.5 0.5-3.5 1-2 0.5 6.5 0.5-1 0.5 10.5 0.5-12 1 17.5 0.5-7.5 0.5-4.5 0.5-12.5 0.5 15.5 1-19.5 0.5 13 0.5-2.5 0.5 3 0.5 1.5 1-1.5 0.5 0.5 0.5 4.5 0.5 6 0.5-11 1-4.5 0.5 11 0.5-1.5 0.5-3 0.5-6.5 1 8.5 0.5 3.5 0.5 2.5 0.5-2.5 0.5-5.5 1 4 0.5-8 0.5 13 0.5-29.5 0.5 22.5 1-2.5 0.5 14 0.5 1 0.5-21 0.5 9.5 1 3.5 0.5 2.5 0.5 1.5 0.5 3 0.5-10.5 1 4.5 0.5-1.5 0.5 9.5 0.5-11.5 0.5 5 1-1.5 0.5 7 0.5-7 0.5-4 0.5 4.5 1-0.5 0.5-14 0.5 7 0.5 2.5 0.5 2 1 8 0.5-10 0.5 10 0.5-11.5 0.5 6 1-7 0.5-2 0.5 2 0.5 19.5 0.5 4 1-14 0.5 0.5 0.5-2 0.5-7.5 0.5 16.5 1 3.5 0.5-9 0.5-2.5 0.5 9.5 0.5-7.5 1 17 0.5-17 0.5-2 0.5 14.5 0.5-3.5 1-13 0.5 17.5 0.5-13 0.5 9.5 0.5-3.5 1-2.5 0.5 3 0.5 0 0.5 1.5 0.5-6.5 1 16 0.5-19 0.5 15.5 0.5-10 0.5 4.5 1-5 0.5 0 0.5 5 0.5-8 0.5 3 1 0.5 0.5 2.5 0.5 17.5 0.5-22.5 0.5 22.5 1-9 0.5 3 0.5 7 0.5-17.5 0.5-5 1-3.5 0.5 14.5 0.5-4.5 0.5-7 0.5 13.5 1 7.5 0.5-15 0.5 1.5 0.5-4.5 0.5 3 1 4 0.5 3.5 0.5-6 0.5-2 0.5 0.5 1-1.5 0.5-0.5 0.5 5.5 0.5 3.5 0.5-14.5 1 2.5 0.5 6.5 0.5-7 0.5 10 0.5 6.5 1 2 0.5 8.5 0.5-18.5 0.5 8.5 0.5-5.5 1-1 0.5-7.5 0.5-2 0.5 1.5 0.5 0 1 12.5 0.5-4.5 0.5 13.5 0.5-21.5 0.5 0 1 20.5 0.5-19.5 0.5 4 0.5 3 0.5 4.5 1-3.5 0.5 1 0.5-14 0.5 8.5 0.5 6.5 1-3 0.5 3 0.5-6 0.5 1.5 0.5 2 1-6.5 0.5 15 0.5-7 0.5-17.5 0.5 19.5 1-5.5 0.5 10.5 0.5-7.5 0.5 12.5 0.5-17 1 8.5 0.5-5.5 0.5 12.5 0.5-13.5 0.5 0.5 1 4 0.5-1 0.5 0 0.5 3.5 0.5 2.5 1-5 0.5-17.5 0.5 23.5 0.5-9 0.5 8.5 1-11.5 0.5 8 0.5 7.5 0.5-21 0.5 6 1-3 0.5-3 0.5 10 0.5 0.5 0.5-14 1 10 0.5 9.5 0.5 6.5 0.5-12 0.5-10.5 1 5.5 0.5-1.5 0.5 6.5 0.5-5.5 0.5 1.5 1 0.5 0.5-8.5 0.5 18.5 0.5-7.5 0.5 2.5 1-8.5 0.5 7.5 0.5-9 0.5-3.5 0.5 3.5 1 2.5 0.5 4 0.5-10.5 0.5 18 0.5-5.5 1-7.5 0.5 2.5 0.5-4.5 0.5 3.5 0.5-4.5 1 3 0.5-9 0.5-11.5 0.5 11.5 0.5 6 1-5.5 0.5-2 0.5-9 0.5 6 0.5-9 1 3.5 0.5-24.5 0.5-4 0.5 12 0.5 6 1-12.5 0.5-8.5 0.5 6.5 0.5 8 0.5-1.5 1-13.5 0.5-20.5 0.5-2.5 0.5-1 0.5-11.5 1 9 0.5-5 0.5 6 0.5-32 0.5-2 1-19 0.5 6 0.5-7.5 0.5-1 0.5-18.5 1-6 0.5 13 0.5-36 0.5-2.5 0.5-10 1 36 0.5-25.5 0.5 1 0.5-25.5 0.5 22 1-8 0.5 3.5 0.5 3 0.5 17 0.5-5 1-11 0.5 17.5 0.5-10 0.5 9 0.5 34 1-21 0.5 9 0.5 3 0.5 15 0.5 13 1 6.5 0.5 2 0.5 16.5 0.5 0 0.5 0.5 1 20.5 0.5-1 0.5 11 0.5 9.5 0.5-6 1 17 0.5-3 0.5 9 0.5 1 0.5 11 1 14 0.5 2.5 0.5-8 0.5-1 0.5 18 1 5.5 0.5 12 0.5-9.5 0.5-4.5 0.5 16 1-7 0.5 8.5 0.5 1 0.5 4.5 0.5 8.5 1-4.5 0.5-7 0.5 14 0.5-7 0.5 2.5 1 22.5 0.5-15 0.5-17.5 0.5 16.5 0.5-6.5 1 10 0.5-10.5 0.5 11.5 0.5 1.5 0.5 7.5 1-24.5 0.5 18 0.5-1 0.5-3.5 0.5-3.5 1 7 0.5-9.5 0.5 18.5 0.5-2.5 0.5-4.5 1 10 0.5-15.5 0.5-0.5 0.5 16 0.5-3.5 1-2.5 0.5-8 0.5 6 0.5 2 0.5 4 1-13.5 0.5 13 0.5 8 0.5-10.5 0.5 5 1-14 0.5-4 0.5 2.5 0.5 6.5 0.5 13 1-11 0.5-3.5 0.5 8 0.5-13 0.5 21.5 1-12.5 0.5 4 0.5-6 0.5-1.5 0.5-2 1 16.5 0.5-15 0.5 13.5 0.5-1.5 0.5-1.5 1-11.5 0.5 11 0.5-6.5 0.5 4.5 0.5-8 1 9 0.5 6.5 0.5-6 0.5 6 0.5-7.5 1 11.5 0.5-5 0.5-6.5 0.5 10.5 0.5 7.5 1-22.5 0.5 22 0.5-14.5 0.5 9 0.5-8 1 1.5 0.5-1 0.5 5 0.5-2.5 0.5-4 1 2 0.5 6 0.5-8.5 0.5 2.5 0.5-2.5 1 10 0.5-9.5 0.5 10.5 0.5-9 0.5-5.5 1 5.5 0.5-1 0.5 5 0.5-6 0.5 2.5 1-5.5 0.5-3.5 0.5 19.5 0.5-8.5 0.5-10 1 5.5 0.5 5.5 0.5 13 0.5-20.5 0.5-1 1 15 0.5-10.5 0.5 11 0.5-12.5 0.5 6.5 1-17 0.5 15.5 0.5-3.5 0.5-7.5 0.5 8 1 6 0.5 5.5 0.5-9 0.5-12 0.5 9.5 1 5.5 0.5 2 0.5-9 0.5 9.5 0.5-1.5 1-1 0.5-7 0.5-4.5 0.5 14 0.5-2.5 1-3.5 0.5 5 0.5 2 0.5-10 0.5-2.5 1 3.5 0.5 10.5 0.5-12 0.5-0.5 0.5-0.5 1 15 0.5-11 0.5-10 0.5-8.5 0.5 13 1-4 0.5-3 0.5 1 0.5 3 0.5-9 1-3 0.5-8.5 0.5 1 0.5 6.5 0.5 0 1-18 0.5 15.5 0.5-2 0.5-4 0.5-15 1 8 0.5 1 0.5-1.5 0.5-9.5 0.5-4.5 1 1.5 0.5 8.5 0.5-7 0.5 2 0.5-3 1 2 0.5 7.5 0.5-5 0.5-11 0.5 19 1 6.5 0.5-18 0.5 1.5 0.5 12.5 0.5-1 1-2.5 0.5-16 0.5 19 0.5 18 0.5-7.5 1 2 0.5 6 0.5-0.5 0.5 1 0.5 11.5 1-5 0.5 1.5 0.5-1.5 0.5 6.5 0.5-3 1-1 0.5 7.5 0.5-16 0.5 23.5 0.5-1 1-6.5 0.5 9 0.5 8 0.5-5 0.5-2 1 9 0.5 7 0.5-1.5 0.5-9 0.5 9 1-4.5 0.5-0.5 0.5-0.5 0.5 3 0.5-4.5 1 9.5 0.5 0.5 0.5-4.5 0.5 3 0.5-2.5 1 8 0.5-1 0.5-5 0.5-1 0.5 2.5 1 3.5 0.5 7.5 0.5-19 0.5 5.5 0.5 15 1-10 0.5-16.5 0.5 25 0.5 3.5 0.5-10 1 3.5 0.5 0 0.5 5 0.5-16 0.5 5.5 1 5.5 0.5 5.5 0.5 15.5 0.5-27.5 0.5 13.5 1-11.5 0.5 8 0.5 3 0.5 6.5 0.5-2.5 1 6.5 0.5-8 0.5 6 0.5-4 0.5 11 1-18.5 0.5 4 0.5-3 0.5-4 0.5 8.5 1 7.5 0.5 5.5 0.5-24.5 0.5 15 0.5-9.5 1 27.5 0.5-14.5 0.5 7.5 0.5-20 0.5 8.5 1-3.5 0.5 1.5 0.5 10 0.5-4.5 0.5 6 1-9 0.5-11.5 0.5 8 0.5-9.5 0.5 10 1 7.5 0.5-13 0.5 11.5 0.5-4 0.5 4 1-2.5 0.5 6 0.5-2 0.5-2.5 0.5 0.5 1-11.5 0.5 8.5 0.5-2.5 0.5 6.5 0.5-21.5 1 37.5 0.5-17 0.5-2 0.5 3 0.5-1.5 1-7.5 0.5 12 0.5-5.5 0.5-3 0.5 2 1 15.5 0.5-9.5 0.5 1 0.5-5 0.5-1 1-5.5 0.5 10 0.5-12.5 0.5 9 0.5 6.5 1-12 0.5 10 0.5 10.5 0.5-19.5 0.5 15.5 1-8 0.5-5.5 0.5-4 0.5-2 0.5-1.5 1 24.5 0.5-2.5 0.5-5 0.5-2.5 0.5-7 1 10 0.5 3 0.5-16.5 0.5 5 0.5-5.5 1 3.5 0.5-7.5 0.5 5 0.5-3 0.5 5.5 1 2 0.5-0.5 0.5 8.5 0.5-5.5 0.5 3.5 1-4.5 0.5 13 0.5-22.5 0.5 12 0.5 13 1-1 0.5-5 0.5 1.5 0.5 0.5 0.5 0 1 5 0.5-10.5 0.5 9 0.5-4.5 0.5-2.5 1-7 0.5 19 0.5-3 0.5 2 0.5-6 1 5 0.5 3 0.5-1.5 0.5 3.5 0.5-3.5 1-3 0.5 11.5 0.5-1 0.5-6.5 0.5-5 1 8 0.5 4 0.5-6 0.5-3 0.5 5 1-2 0.5 8 0.5-8.5 0.5 4.5 0.5-5 1 11 0.5-7.5 0.5-0.5 0.5-11 0.5 23 1-15.5 0.5 18 0.5-11.5 0.5-7 0.5 2.5 1 8.5 0.5-4 0.5 2 0.5 0 0.5 5.5 1 4.5 0.5-5 0.5-1.5 0.5-3.5 0.5-4.5 1 1 0.5 1 0.5 9 0.5-10.5 0.5-7.5 1 9.5 0.5 11.5 0.5-7.5 0.5 1.5 0.5 3 1 3.5 0.5-9.5 0.5 3.5 0.5-2.5 0.5 6 1-4 0.5-2 0.5 5 0.5 2 0.5-3 1-3 0.5 8.5 0.5 6 0.5-16.5 0.5 15.5 1-9 0.5 8.5 0.5-18.5 0.5-2.5 0.5 2 1 9.5 0.5-7 0.5 5.5 0.5 1 0.5-5 1 11.5 0.5-22.5 0.5 16.5 0.5-6 0.5 1 1 15.5 0.5-4.5 0.5-11.5 0.5-0.5 0.5 12 1 7 0.5 7.5 0.5-24 0.5 6 0.5-2 1-0.5 0.5 8 0.5-8.5 0.5 7.5 0.5-4.5 1-5 0.5 12 0.5-12 0.5 23 0.5-13 1-9 0.5 5.5 0.5 8 0.5-6.5 0.5-8.5 1-10.5 0.5 21 0.5-10.5 0.5 2 0.5 12 1 1.5 0.5-14 0.5 9.5 0.5 2.5 0.5-8.5 1-0.5 0.5-0.5 0.5 4.5 0.5-5.5 0.5 4 1-1.5 0.5-5 0.5-3 0.5 5 0.5 9 1-7 0.5 10 0.5-16 0.5-9.5 0.5 29 1-8 0.5-10.5 0.5 6.5 0.5-7.5 0.5 7 1-1 0.5 3.5 0.5 2 0.5-2 0.5 5 1-11 0.5 16 0.5-14.5 0.5 8 0.5-2 1-3.5 0.5-0.5 0.5 5 0.5 9.5 0.5-10.5 1-4 0.5-7 0.5 11.5 0.5-3 0.5 3 1 1 0.5-1.5 0.5-4.5 0.5 7.5 0.5-3 1-5 0.5-3.5 0.5 15.5 0.5-12.5 0.5 5.5 1 1 0.5 2 0.5-2.5 0.5-1.5 0.5 3.5 1-15 0.5 13 0.5-9 0.5 3.5 0.5 9 1-8.5 0.5 3.5 0.5 2 0.5-3 0.5 3 1 5 0.5-1.5 0.5 9 0.5-17 0.5 7.5 1-5 0.5 4.5 0.5-2.5 0.5 1.5 0.5 6 1 1 0.5 2 0.5-9.5 0.5-7 0.5 9.5 1-10.5 0.5 11.5 0.5-9 0.5-4.5 0.5 10 1-8.5 0.5-1.5 0.5 10 0.5 1.5 0.5 2 1-4 0.5-2.5 0.5-3 0.5 12 0.5-19.5 1 19.5 0.5-6 0.5-1.5 0.5 1.5 0.5-4 1 3 0.5 5.5 0.5-7.5 0.5-9.5 0.5 5 1 13 0.5 0 0.5 5.5 0.5-20.5 0.5 25.5 1-13 0.5-9.5 0.5 0.5 0.5 0 0.5 11 1 3.5 0.5-5 0.5 3 0.5-11.5 0.5 4.5 1-7 0.5-3.5 0.5 0.5 0.5 20.5 0.5-19.5 1-6.5 0.5 6.5 0.5 6 0.5-14 0.5 18.5 1-15 0.5 14.5 0.5-6.5 0.5-8 0.5 2.5 1 4 0.5-10 0.5 4.5 0.5-13.5 0.5 19.5 1-11 0.5 4 0.5-7 0.5-3.5 0.5 6.5 1 3 0.5-14 0.5 0 0.5 10.5 0.5-15.5 1 4.5 0.5 20.5 0.5-16.5 0.5-7.5 0.5 2 1 18.5 0.5-9 0.5 2 0.5 2 0.5 2 1-2 0.5 6 0.5 6 0.5-7 0.5 9.5 1 0 0.5-7.5 0.5-2 0.5 3 0.5 2 1 3 0.5-4 0.5 8.5 0.5-1.5 0.5-7.5 1 12 0.5-18 0.5 15.5 0.5 0.5 0.5-1 1 1.5 0.5-5.5 0.5 13 0.5-14.5 0.5 6 1 15.5 0.5-13.5 0.5 6.5 0.5-8 0.5-5.5 1 1.5 0.5 7.5 0.5-5.5 0.5-7 0.5-9 1 16.5 0.5-1 0.5-4 0.5 7 0.5 1 1 1.5 0.5-6.5 0.5 5 0.5 2.5 0.5-3 1 3.5 0.5-1.5 0.5-8 0.5 6 0.5 4.5 1-4.5 0.5 3.5 0.5-9 0.5 1.5 0.5 7 1 6.5 0.5-1 0.5-5 0.5-4 0.5 7.5 1-3 0.5-0.5 0.5-6.5 0.5 0 0.5 4 1-4 0.5 8 0.5 1.5 0.5-13 0.5 18 1-7 0.5-2 0.5 4 0.5-0.5 0.5-2.5 1-4 0.5 3.5 0.5 12.5 0.5-13.5 0.5 5 1-5 0.5 0.5 0.5-4.5 0.5 2.5 0.5 2.5 1-9.5 0.5 4 0.5-1 0.5-0.5 0.5 11.5 1 3.5 0.5-16.5 0.5 13.5 0.5-9 0.5 5 1-4.5 0.5 11.5 0.5-6 0.5-4 0.5-6 1 10.5 0.5-3 0.5 0 0.5 1.5 0.5-0.5 1-1.5 0.5-4.5 0.5-5 0.5 11.5 0.5 4 1-1.5 0.5 1.5 0.5-1 0.5-17 0.5 21 1-10 0.5 5.5 0.5-5 0.5 4 0.5 0.5 1-6.5 0.5-2.5 0.5-4 0.5 4.5 0.5 9 1-10.5 0.5-4.5 0.5 12 0.5 1 0.5 13.5 1-19.5 0.5 4.5 0.5-10 0.5 6 0.5 13 1-16.5 0.5 5.5 0.5 0 0.5 2.5 0.5-5.5 1 2.5 0.5 18 0.5-14 0.5-5.5 0.5 12.5 1-17 0.5 2 0.5 9 0.5-7.5 0.5-4.5 1 10 0.5 3.5 0.5-11 0.5 7.5 0.5 3 1-7 0.5 9.5 0.5-7.5 0.5-1 0.5-3.5 1 2 0.5 0.5 0.5 3.5 0.5-14 0.5 14.5 1-7 0.5 6.5 0.5-1 0.5-6.5 0.5 4.5 1-17 0.5 18 0.5 3 0.5 2 0.5-7.5 1-0.5 0.5-5.5 0.5 0.5 0.5 4 0.5-7 1 9.5 0.5 5.5 0.5 2 0.5-7.5 0.5-7 1 7 0.5 1 0.5-7.5 0.5-1 0.5 0.5 1 2.5 0.5 4 0.5-5 0.5-4 0.5 8.5 1-5.5 0.5-4.5 0.5 13 0.5-12.5 0.5 4 1-7 0.5-6.5 0.5 4.5 0.5-2.5 0.5 7 1-14 0.5 3 0.5-5 0.5 0.5 0.5 12.5 1-17.5 0.5-1.5 0.5-9 0.5-3 0.5 3.5 1-4.5 0.5-7.5 0.5-3 0.5-2 0.5-5.5 1 4.5 0.5-18.5 0.5-7.5 0.5-0.5 0.5 0.5 1-4.5 0.5 3.5 0.5-19.5 0.5 8 0.5-10 1-2.5 0.5-10.5 0.5-11.5 0.5 14 0.5-2 1-5 0.5-6.5 0.5 1.5 0.5 8 0.5-2.5 1 3 0.5 2 0.5-0.5 0.5 6 0.5-6 1 3 0.5 1.5 0.5 19 0.5-7 0.5 15 1-15.5 0.5 11 0.5-9 0.5 21 0.5 22.5 1-3 0.5-4.5 0.5 6 0.5 14.5 0.5-8.5 1-1.5 0.5 6.5 0.5 12.5 0.5-7 0.5 4.5 1 16.5 0.5 0 0.5-0.5 0.5 3.5 0.5 5.5 1 3 0.5-6.5 0.5-1 0.5 11.5 0.5-9.5 1 12 0.5-4.5 0.5-2 0.5 0.5 0.5 4.5 1 6 0.5-1.5 0.5 6.5 0.5 10 0.5-22 1 11 0.5-10 0.5 20.5 0.5-13 0.5-5 1 1 0.5 0.5 0.5 14 0.5 2.5 0.5-1 1 2.5 0.5-10.5 0.5 16 0.5-4.5 0.5-8 1-8.5 0.5 3.5 0.5 6 0.5-5 0.5 12.5 1 0.5 0.5-9.5 0.5 7.5 0.5-1.5 0.5 5 1-8 0.5-5.5 0.5 11 0.5-11 0.5 4 1 14 0.5-6 0.5-8.5 0.5-4.5 0.5 14.5 1 2 0.5-3 0.5 0.5 0.5-9.5 0.5 8.5 1-9 0.5 0.5 0.5 9 0.5-4 0.5 0.5 1 5.5 0.5-0.5 0.5-4.5 0.5 4.5 0.5-4 1 2 0.5 2 0.5 1 0.5-1.5 0.5-12.5 1 3 0.5 3.5 0.5-2 0.5-2 0.5 11.5 1-9 0.5 5.5 0.5 10 0.5-22 0.5 5 1 14.5 0.5-13.5 0.5 4 0.5-6.5 0.5 14.5 1-3 0.5-2.5 0.5-1 0.5-4 0.5 6 1-10 0.5 12 0.5-9 0.5 12.5 0.5-5.5 1-1 0.5 5.5 0.5-15 0.5 15 0.5 3 1-8 0.5 2 0.5 1 0.5-8 0.5 0.5 1 8 0.5-1.5 0.5-4 0.5-2 0.5 4.5 1-10 0.5 5 0.5 11 0.5-10 0.5-1.5 1 9 0.5-3 0.5 1.5 0.5-8 0.5 4 1 14.5 0.5-7.5 0.5-1 0.5-4.5 0.5-11.5 1 3 0.5 4.5 0.5-3 0.5 8 0.5-8.5 1-5 0.5 17 0.5-8 0.5 0 0.5 2.5 1-1.5 0.5 2 0.5-2.5 0.5 3 0.5 3 1 5 0.5-6 0.5-2.5 0.5 5 0.5-15 1 19 0.5-15 0.5 0 0.5 4.5 0.5-0.5 1 5 0.5-3.5 0.5-2 0.5 6 0.5-10 1-3 0.5 17 0.5-10.5 0.5 1 0.5 5 1-11 0.5 11.5 0.5-0.5 0.5-7 0.5 6.5 1-5.5 0.5 3.5 0.5 1 0.5-12.5 0.5 16 1-14 0.5 16 0.5 1 0.5-2.5 0.5 4 1-8 0.5 0.5 0.5 0.5 0.5-9 0.5 12.5 1-1.5 0.5-11 0.5 7.5 0.5-6.5 0.5 2 1 2.5 0.5 3 0.5-0.5 0.5-7.5 0.5 7 1-8 0.5 6 0.5 5 0.5-14 0.5 10.5 1 3 0.5-5 0.5-1 0.5-5.5 0.5 10 1 2 0.5-4.5 0.5 8.5 0.5-3.5 0.5-7 1 3.5 0.5-4.5 0.5-1 0.5-2 0.5 5 1-9.5 0.5 18 0.5 4.5 0.5-14.5 0.5 3 1 0.5 0.5 0.5 0.5-1.5 0.5 11 0.5-10 1-3 0.5 1.5 0.5 9 0.5-6 0.5-1.5 1 1 0.5 3.5 0.5-14 0.5 10.5 0.5 1.5 1-9 0.5 3 0.5 6.5 0.5-10.5 0.5 6.5 1-1.5 0.5 6.5 0.5-13 0.5 9 0.5 5.5 1-2.5 0.5 6 0.5-6 0.5-1 0.5-5 1 3 0.5 1 0.5 1.5 0.5-2.5 0.5 7.5 1-12 0.5 5.5 0.5-0.5 0.5 0 0.5 0 1-2.5 0.5-4.5 0.5 7.5 0.5-4 0.5 0 1 6 0.5-4.5 0.5 5 0.5-2.5 0.5-1.5 1-6.5 0.5 12.5 0.5-5.5 0.5 0.5 0.5 1.5 1 1 0.5 4.5 0.5-13.5 0.5 6.5 0.5-4 1 8.5 0.5-4.5 0.5 5.5 0.5-1.5 0.5-2 1-1.5 0.5 3.5 0.5-12 0.5 9 0.5 3.5 1-3 0.5-3 0.5-0.5 0.5 5.5 0.5-2.5 1-4 0.5-2 0.5 10 0.5-2.5 0.5 7 1-10.5 0.5-5.5 0.5 11 0.5-5.5 0.5-3.5 1 8 0.5-5.5 0.5 7 0.5-6 0.5 5.5 1-6 0.5 2 0.5 0.5 0.5 0.5 0.5 7.5 1-14.5 0.5 9.5 0.5-2 0.5-12 0.5 8.5 1 6.5 0.5-3 0.5-4.5 0.5 1 0.5-2.5 1 7 0.5-5 0.5 7.5 0.5-20.5 0.5 22.5 1-13.5 0.5 10.5 0.5-9 0.5-2.5 0.5 5.5 1-3 0.5-2 0.5 2.5 0.5-3 0.5-7.5 1 13.5 0.5-10.5 0.5 9 0.5-2.5 0.5 5 1-3 0.5-4 0.5 7 0.5-1.5 0.5 1.5 1-13.5 0.5 18.5 0.5-9 0.5-2 0.5 2.5 1-12 0.5 19 0.5-11.5 0.5 4.5 0.5 1 1 6.5 0.5-8.5 0.5-2 0.5-14.5 0.5 18.5 1-5.5 0.5-8.5 0.5 15.5 0.5-11 0.5 4 1 2 0.5-15.5 0.5 1.5 0.5 9 0.5-5.5 1-4 0.5-6.5 0.5 4 0.5-4 0.5 7.5 1-4.5 0.5-3.5 0.5-0.5 0.5-3.5 0.5-0.5 1-8 0.5 4 0.5 4.5 0.5-14 0.5-6.5 1 2.5 0.5 3.5 0.5-6 0.5-4 0.5 14.5 1-14 0.5-15 0.5 6 0.5 1 0.5-9 1 0 0.5-4.5 0.5-0.5 0.5-3.5 0.5-4 1 9 0.5-11 0.5 0.5 0.5-7 0.5 5.5 1 0.5 0.5-0.5 0.5 0 0.5 1.5 0.5 7.5 1-10.5 0.5 10 0.5-0.5 0.5 6.5 0.5 0 1 0 0.5-1 0.5-0.5 0.5 15 0.5-9 1 7 0.5-4 0.5 6 0.5 4 0.5 9 1-19.5 0.5 29.5 0.5-15 0.5 5 0.5 0.5 1 7 0.5-1 0.5 7 0.5-4 0.5 4 1 5 0.5-9.5 0.5 9.5 0.5 3.5 0.5-14.5 1 18.5 0.5-1.5 0.5-9 0.5 14 0.5-5 1 0.5 0.5 3 0.5 7 0.5-5.5 0.5 2 1 3 0.5-1.5 0.5 9 0.5 0 0.5 1 1-1 0.5-7.5 0.5 8.5 0.5-11.5 0.5 12.5 1 0 0.5-3 0.5 3 0.5-4 0.5 1 1 0.5 0.5-13.5 0.5 10 0.5-7 0.5 10.5 1-2.5 0.5-0.5 0.5-4 0.5 3.5 0.5 3.5 1-5.5 0.5 1.5 0.5 0 0.5 0.5 0.5 3.5 1 10 0.5-12.5 0.5-1.5 0.5 5.5 0.5-7.5 1 1.5 0.5 2.5 0.5-2 0.5 8 0.5-12.5 1 4.5 0.5 12 0.5-7 0.5 2 0.5-5 1 2 0.5-4.5 0.5 10 0.5-13 0.5 19 1-16.5 0.5 8.5 0.5-5.5 0.5 1.5 0.5 12 1-10 0.5 0 0.5 4.5 0.5-9 0.5-2.5 1 5 0.5 4 0.5-9 0.5 3.5 0.5-9.5 1 2.5 0.5 7.5 0.5-4.5 0.5-2 0.5 1 1-0.5 0.5-2 0.5 0 0.5-0.5 0.5 7.5 1-6.5 0.5-0.5 0.5 2 0.5 1.5 0.5-3.5 1-0.5 0.5-6 0.5 8 0.5-8 0.5 3 1-1.5 0.5-1 0.5 5 0.5-1 0.5 4 1-10.5 0.5 10.5 0.5-2 0.5-1.5 0.5-13.5 1 17.5 0.5 1 0.5 3.5 0.5-10.5 0.5 4.5 1 2 0.5 4.5 0.5-6 0.5 7 0.5-0.5 1 4 0.5-11.5 0.5 0.5 0.5 7 0.5 4 1 1 0.5 3.5 0.5-4.5 0.5-6.5 0.5 11.5 1-7.5 0.5 0.5 0.5 3 0.5 5 0.5-1 1 1 0.5-12 0.5 6.5 0.5 3.5 0.5 1 1-3.5 0.5 4 0.5-6 0.5 5 0.5 1 1-5 0.5-5 0.5 15 0.5-2.5 0.5-3.5 1 8.5 0.5-3 0.5-3 0.5-0.5 0.5 1 1 4.5 0.5-4.5 0.5 1 0.5 2 0.5-2.5 1 0 0.5-12.5 0.5 13.5 0.5-18 0.5 21 1-4.5 0.5-5.5 0.5-9 0.5 14 0.5 2.5 1-3 0.5-1.5 0.5-2 0.5-3.5 0.5 5 1 5 0.5-3 0.5 5 0.5-5 0.5-1 1-4.5 0.5 13 0.5 8.5 0.5-13 0.5-1.5 1 2 0.5-6 0.5 9.5 0.5-5.5 0.5 1.5 1 2 0.5-10.5 0.5 9 0.5 1.5 0.5 1 1 0 0.5-6.5 0.5 13 0.5-10 0.5-2.5 1 3 0.5-1.5 0.5 5 0.5-10.5 0.5 6 1-2 0.5 8.5 0.5-3 0.5-5.5 0.5 1.5 1-4.5 0.5-1 0.5 1.5 0.5 6.5 0.5-4.5 1-1 0.5 10 0.5-12.5 0.5 0 0.5 16 1 0 0.5-9 0.5 3 0.5 5.5 0.5-11 1-1 0.5 4 0.5-3 0.5 4 0.5-1.5 1-1 0.5 15 0.5-10.5 0.5 0 0.5 0 1-12 0.5 9 0.5-4.5 0.5 3 0.5-7.5 1 5.5 0.5 5 0.5-1 0.5-9 0.5 15 1-5.5 0.5 7.5 0.5-3.5 0.5-4 0.5-3 1-0.5 0.5 6.5 0.5-0.5 0.5 1.5 0.5 0 1-10.5 0.5 13.5 0.5-9.5 0.5 7 0.5-2 1 5.5 0.5-5 0.5-9 0.5 15.5 0.5-16.5 1 6.5 0.5 3.5 0.5 7.5 0.5-17 0.5 2 1 6.5 0.5 6 0.5-11 0.5 4.5 0.5-7 1 9 0.5-6 0.5 4.5 0.5-4.5 0.5 4 1 12.5 0.5-1.5 0.5-8.5 0.5-7.5 0.5 5 1 0.5 0.5-1 0.5-6.5 0.5 3 0.5 0 1 2 0.5 0.5 0.5 3.5 0.5-13.5 0.5 18.5 1-4.5 0.5 1 0.5-4 0.5-1 0.5 2.5 1 6.5 0.5-5.5 0.5-2 0.5 3 0.5-3.5 1-2 0.5 8.5 0.5-8 0.5 9 0.5-1 1-9 0.5 6 0.5-2 0.5-1 0.5 13 1-6 0.5 0.5 0.5-7.5 0.5-6 0.5 8 1 1.5 0.5 6.5 0.5-7.5 0.5-2.5 0.5-1 1 5 0.5-12.5 0.5 10 0.5-1.5 0.5-5.5 1 1.5 0.5 7.5 0.5-2.5 0.5 2.5 0.5-4 1-2.5 0.5 7 0.5-6.5 0.5 6.5 0.5-8 1 10 0.5-10 0.5 2.5 0.5-3 0.5 9 1-11 0.5 15.5 0.5-6.5 0.5 0.5 0.5-2 1 8 0.5-4.5 0.5 4 0.5-3 0.5-5 1 11 0.5-20.5 0.5 2 0.5 4.5 0.5 8.5 1-5 0.5 5 0.5-1.5 0.5-4.5 0.5 6 1 10 0.5-19 0.5 8 0.5-7 0.5-3 1 8 0.5-0.5 0.5 7 0.5 1 0.5 5 1-16.5 0.5 6.5 0.5-3.5 0.5-5 0.5 1 1-3.5 0.5 11 0.5-5 0.5 2 0.5-4.5 1 8.5 0.5 1 0.5-1 0.5 1 0.5-12 1-3.5 0.5 11.5 0.5-10 0.5 6 0.5 8.5 1-5 0.5-6 0.5 12.5 0.5-13.5 0.5 11 1-10.5 0.5 1 0.5 4 0.5-2.5 0.5-0.5 1 7.5 0.5-7.5 0.5 5 0.5 2.5 0.5-7 1 1.5 0.5-14.5 0.5 14 0.5 5.5 0.5 1 1-11 0.5 16 0.5-15 0.5 4.5 0.5 2 1 13 0.5-8 0.5-2 0.5-4 0.5 1.5 1-13 0.5 14 0.5 0 0.5 1.5 0.5-7 1-13 0.5 8 0.5 10 0.5-3.5 0.5-4.5 1 10 0.5-7.5 0.5-4 0.5 0 0.5-4 1 9 0.5 1 0.5 5.5 0.5-4 0.5-9 1 12 0.5-7 0.5 5.5 0.5-5 0.5 8.5 1-5 0.5-6.5 0.5-3 0.5 11 0.5-2 1 2.5 0.5-6 0.5-2 0.5 7.5 0.5 0.5 1 2.5 0.5-9 0.5 6.5 0.5-5 0.5 0.5 1 0 0.5 1 0.5 0.5 0.5-2 0.5 7 1-4 0.5-3.5 0.5-0.5 0.5 3.5 0.5-9 1 19 0.5-7 0.5-5 0.5 1 0.5 3.5 1-3 0.5-3 0.5 6.5 0.5 3 0.5-13 1 1 0.5 12.5 0.5-9.5 0.5 4 0.5-4 1 9 0.5-3 0.5-7 0.5 5 0.5 0.5 1-5 0.5 2.5 0.5 4.5 0.5 11 0.5-12 1 4.5 0.5-7 0.5-2.5 0.5-2 0.5 4 1 1 0.5-6.5 0.5 7 0.5-4.5 0.5 4 1-5.5 0.5 4 0.5-4 0.5 4 0.5-2.5 1 5 0.5-2 0.5-0.5 0.5-4.5 0.5 4 1 4.5 0.5-8 0.5 9.5 0.5-11 0.5 0.5 1-4 0.5 7.5 0.5 4 0.5-11.5 0.5 5 1 0.5 0.5 6 0.5 3.5 0.5-5.5 0.5-1 1-2 0.5 4.5 0.5 0.5 0.5 8.5 0.5 5 1-5.5 0.5-12 0.5-0.5 0.5-11.5 0.5 0 1 20 0.5-5 0.5 11.5 0.5-12.5 0.5 2 1-7 0.5 15 0.5-11.5 0.5 2.5 0.5-1 1-3.5 0.5 8 0.5-2.5 0.5 3 0.5-12 1 0 0.5-1.5 0.5 12 0.5-2.5 0.5-0.5 1-0.5 0.5 2.5 0.5-3.5 0.5 4 0.5-6.5 1 7.5 0.5-3.5 0.5 0 0.5 11 0.5-13.5 1-5 0.5 4.5 0.5 7.5 0.5-2 0.5-9 1 11 0.5-9 0.5 2 0.5 4.5 0.5-5 1 2.5 0.5 2 0.5 1 0.5-11 0.5 8.5 1-8 0.5 0.5 0.5-3 0.5 4 0.5 7.5 1-12 0.5 2.5 0.5-0.5 0.5 4.5 0.5-5 1-10 0.5 3.5 0.5 8.5 0.5-12 0.5 0 1 5 0.5-14.5 0.5 4.5 0.5 15 0.5-11 1 4 0.5-11 0.5 9.5 0.5 2.5 0.5-1 1-5.5 0.5 3.5 0.5-5.5 0.5 12 0.5-9 1-6 0.5 0 0.5 10.5 0.5 1.5 0.5-1.5 1-1.5 0.5-4.5 0.5 8 0.5 2 0.5 5 1-5.5 0.5 5 0.5-4.5 0.5 5.5 0.5 8.5 1-8 0.5 7.5 0.5-7.5 0.5 0.5 0.5 8.5 1-8.5 0.5-2.5 0.5 2 0.5-4.5 0.5 2 1 8 0.5-0.5 0.5-9 0.5 14.5 0.5-11 1 7.5 0.5 2.5 0.5-1.5 0.5-4 0.5 7 1 1 0.5 11 0.5-17.5 0.5 8.5 0.5-7.5 1 16 0.5-10.5 0.5-4 0.5 2.5 0.5-6 1 2 0.5 5.5 0.5-7.5 0.5 8 0.5-5.5 1-1 0.5-5 0.5 7 0.5 3.5 0.5-1.5 1-0.5 0.5-2 0.5 0.5 0.5 3 0.5 2.5 1-5.5 0.5 7 0.5-5 0.5 8 0.5-13 1 4.5 0.5 5 0.5-5.5 0.5 4 0.5-13.5 1 9 0.5 4 0.5-7 0.5 5 0.5-5.5 1 9.5 0.5 8.5 0.5-14 0.5 2 0.5-1.5 1 13 0.5-10 0.5-8.5 0.5 12 0.5-4.5 1 8 0.5-15.5 0.5 6 0.5 7 0.5-6 1 0 0.5 10.5 0.5-10 0.5 8.5 0.5-2.5 1-15 0.5 8.5 0.5 1.5 0.5-2.5 0.5 8.5 1 2.5 0.5-6 0.5-7.5 0.5 1 0.5-1.5 1 5 0.5-4.5 0.5-1 0.5 10 0.5-8.5 1 5.5 0.5-4.5 0.5 2 0.5 2.5 0.5 2 1-11.5 0.5 7.5 0.5 0 0.5 3.5 0.5 0 1-4.5 0.5 1 0.5 0 0.5-3 0.5 3.5 1 1.5 0.5-11 0.5 10.5 0.5 2.5 0.5-6 1-2 0.5-1 0.5 7 0.5-8 0.5 7 1-1.5 0.5 0 0.5-7 0.5 1 0.5 6.5 1 4 0.5-5.5 0.5 4.5 0.5-2 0.5 8.5 1-13.5 0.5 1.5 0.5-1.5 0.5-1 0.5 0.5 1 6 0.5-5.5 0.5 6.5 0.5-4 0.5 7 1-7.5 0.5 7 0.5-4.5 0.5-3.5 0.5 7.5 1-8.5 0.5 2 0.5 0.5 0.5 8.5 0.5-10.5 1 12.5 0.5-9 0.5-6.5 0.5 3 0.5 10 1-2 0.5-7 0.5-1 0.5 17.5 0.5-11 1-4.5 0.5-1.5 0.5 5.5 0.5-10.5 0.5 6.5 1 0 0.5 0.5 0.5 5.5 0.5-6 0.5 0 1 1 0.5 1 0.5 1 0.5 0 0.5-2 1 2.5 0.5-1.5 0.5-1.5 0.5-0.5 0.5-3 1 9 0.5 9.5 0.5-16.5 0.5 4 0.5-12 1 9.5 0.5 5 0.5-7.5 0.5 2 0.5 6.5 1-14 0.5 8 0.5 1.5 0.5-1.5 0.5-10 1 4.5 0.5 3.5 0.5 1.5 0.5 14 0.5-19 1 8 0.5-3.5 0.5 1 0.5 0 0.5-2.5 1-1.5 0.5 10 0.5-4 0.5-4.5 0.5 2.5 1 3.5 0.5-3.5 0.5-3 0.5 2 0.5-3 1 5 0.5 0.5 0.5-4.5 0.5-11 0.5 11 1 8.5 0.5-19.5 0.5 18 0.5-1 0.5-7.5 1-0.5 0.5 1 0.5-6 0.5 8 0.5 9 1-2.5 0.5-4.5 0.5 3.5 0.5-5 0.5 4 1-1 0.5-3.5 0.5 5 0.5 0.5 0.5 0.5 1-5 0.5-1.5 0.5 3 0.5-12 0.5 6 1 0 0.5 9.5 0.5-12 0.5 3.5 0.5 4.5 1 5 0.5-9.5 0.5 6 0.5 0 0.5-8 1 6 0.5-2.5 0.5-8.5 0.5 12.5 0.5-10 1 7.5 0.5 1 0.5-3 0.5 9.5 0.5-11.5 1 2.5 0.5-4 0.5 6.5 0.5-2 0.5 1.5 1-4 0.5 0 0.5 4.5 0.5-1 0.5-7 1 3 0.5 2.5 0.5-2.5 0.5-7 0.5 9 1-13 0.5 7 0.5 1.5 0.5-2 0.5 5.5 1 3 0.5-8 0.5 11.5 0.5-7 0.5 0.5 1-13.5 0.5 4 0.5-2.5 0.5-4 0.5 4.5 1-6.5 0.5 1 0.5-1 0.5 12 0.5-11 1-2 0.5-2.5 0.5 0.5 0.5-6.5 0.5 3 1 9 0.5-2.5 0.5-9 0.5 3.5 0.5-6 1 1.5 0.5 0.5 0.5-0.5 0.5-2.5 0.5-8 1 6 0.5-7 0.5-0.5 0.5 7 0.5 5.5 1-17 0.5 10 0.5-11 0.5 5 0.5-4 1 16 0.5-14.5 0.5 7.5 0.5-3 0.5 3 1-2.5 0.5 8 0.5-1.5 0.5-8.5 0.5 10.5 1 1 0.5-3 0.5 3.5 0.5-6.5 0.5 14 1-5 0.5 0 0.5 1.5 0.5 5.5 0.5-3.5 1 4.5 0.5 5 0.5-2 0.5-0.5 0.5 6 1-2 0.5 5 0.5-7 0.5-1 0.5 5 1-1 0.5 0 0.5 2 0.5 0.5 0.5-3.5 1-2 0.5 12 0.5 1 0.5-1 0.5 2 1-6 0.5-2 0.5 3.5 0.5 2.5 0.5-4.5 1 4.5 0.5-2 0.5 7.5 0.5-14 0.5-2.5 1 13.5 0.5-1 0.5 2.5 0.5 0.5 0.5-3 1-1 0.5-10 0.5 11 0.5 2 0.5 3 1-2 0.5-4.5 0.5-6 0.5 2 0.5 4.5 1-6 0.5 12.5 0.5-6 0.5 4.5 0.5 2.5 1-9 0.5-6.5 0.5 4 0.5 2 0.5 4 1-6.5 0.5 3.5 0.5-4.5 0.5-1 0.5 2 1-9.5 0.5 10.5 0.5-5 0.5 5.5 0.5-7.5 1 2.5 0.5 7.5 0.5-9.5 0.5 1 0.5-1.5 1-2.5 0.5 7 0.5-2.5 0.5 2 0.5-10 1 10 0.5-15 0.5 9 0.5 0 0.5-4 1 4.5 0.5-7 0.5-6.5 0.5 5 0.5-4.5 1 9 0.5-5.5 0.5 3.5 0.5 2.5 0.5 0.5 1-2 0.5 0 0.5-2.5 0.5 3.5 0.5-1 1-4.5 0.5 10 0.5-3.5 0.5-5.5 0.5 15.5 1-7 0.5-4.5 0.5 3.5 0.5-10 0.5 24.5 1-18 0.5 5 0.5-2 0.5 2 0.5 0.5 1 9 0.5-8 0.5 8.5 0.5-5.5 0.5-4 1 7 0.5 0 0.5-2.5 0.5 8 0.5-14.5 1 2.5 0.5 17.5 0.5-11 0.5 1.5 0.5 2.5 1 2.5 0.5 8 0.5-18 0.5 15 0.5-13 1 0.5 0.5 4.5 0.5-2 0.5 1.5 0.5 2.5 1-6 0.5-0.5 0.5-7.5 0.5 5 0.5 4.5 1 4.5 0.5-5.5" fill="none" stroke="#00B0F0" stroke-width="5.0" stroke-linejoin="round" stroke-linecap="round" clip-path="url(#clip0)"/>
<path d="M271 299.5 l0.5 3.5 0.5 2 1 7 0.5-9.5 0.5-10.5 0.5 10 0.5-7 1-2 0.5 14.5 0.5-3 0.5 2.5 0.5 4.5 1-24.5 0.5 19 0.5-8.5 0.5 13.5 0.5-8 1 12 0.5-3.5 0.5-17.5 0.5 8.5 0.5-12 1 3 0.5 18 0.5-7 0.5-11.5 0.5 22.5 1-13 0.5 6.5 0.5-27.5 0.5 19 0.5 13.5 1-6.5 0.5 1.5 0.5-11 0.5 20.5 0.5-6.5 1-4.5 0.5-22.5 0.5 24 0.5-13.5 0.5 7 1 16.5 0.5-26.5 0.5 13 0.5-1.5 0.5 5 1-10.5 0.5 12 0.5 0 0.5-2 0.5-2.5 1-2 0.5-4 0.5 11.5 0.5-0.5 0.5 6 1 6.5 0.5-15 0.5 11 0.5-9.5 0.5-3 1-5 0.5 14 0.5-12.5 0.5 29 0.5-15 1-2 0.5-2.5 0.5-8.5 0.5 19 0.5-3 1-15.5 0.5 15 0.5-3 0.5-4 0.5 6.5 1-10.5 0.5 9.5 0.5-22.5 0.5 18 0.5 3 1 12.5 0.5-15.5 0.5 11 0.5 8 0.5-5 1-19.5 0.5 8.5 0.5-9.5 0.5 22 0.5-9.5 1 18 0.5-24.5 0.5 0.5 0.5-1.5 0.5 18.5 1-11 0.5-9 0.5 11.5 0.5-2 0.5-7.5 1 3 0.5-9 0.5 11.5 0.5-9 0.5 25 1-16 0.5 11.5 0.5-4.5 0.5-0.5 0.5-3 1-11.5 0.5 12.5 0.5 15.5 0.5-15.5 0.5-2.5 1-0.5 0.5 2.5 0.5-9.5 0.5 4 0.5-0.5 1-2 0.5 19.5 0.5-10 0.5 1 0.5-16.5 1 10 0.5 8.5 0.5-17 0.5 1.5 0.5 8 1 8.5 0.5-12.5 0.5 7 0.5 13.5 0.5-6.5 1 0 0.5-2 0.5-2.5 0.5-6 0.5 5.5 1 1.5 0.5 6 0.5-8.5 0.5 12 0.5-17.5 1-2 0.5 5.5 0.5 22.5 0.5-27 0.5 15 1 1.5 0.5-4.5 0.5-3.5 0.5 1.5 0.5 10 1-5 0.5-5 0.5 13.5 0.5-15.5 0.5-10 1 12 0.5-11.5 0.5 8 0.5-6 0.5 15.5 1 0 0.5 17 0.5-26.5 0.5 10.5 0.5-21.5 1 18 0.5 7.5 0.5-2.5 0.5-3 0.5 14 1 2 0.5-20 0.5 12.5 0.5-2 0.5-4 1-11.5 0.5 5 0.5 12.5 0.5-14.5 0.5 15.5 1-5.5 0.5-10 0.5 10.5 0.5-14.5 0.5 11.5 1-5.5 0.5-11.5 0.5 20 0.5 3 0.5-23.5 1 10.5 0.5 9 0.5-8 0.5-5.5 0.5 15 1 8.5 0.5 8.5 0.5-19 0.5 5 0.5 0.5 1-3 0.5-11 0.5 9.5 0.5-1.5 0.5-11 1 6 0.5 9.5 0.5-4.5 0.5-0.5 0.5-15.5 1 17 0.5 11 0.5-7.5 0.5-6 0.5 13.5 1-9 0.5-3.5 0.5-3.5 0.5 11 0.5 5 1-8 0.5 8 0.5-19.5 0.5 11 0.5 1 1-9 0.5 2 0.5-6.5 0.5 15 0.5-2 1 0 0.5-3 0.5 13 0.5 1.5 0.5-18 1 10 0.5 8 0.5-20.5 0.5 3.5 0.5 4 1-5 0.5-0.5 0.5 12 0.5 13.5 0.5-15 1-20 0.5 19 0.5-8.5 0.5 4.5 0.5 2 1 0.5 0.5-5.5 0.5 10 0.5 1 0.5-8 1-6.5 0.5 4.5 0.5 15 0.5-4 0.5-7 1-4.5 0.5-0.5 0.5-1.5 0.5 8 0.5-7 1-15.5 0.5-0.5 0.5-5.5 0.5 3.5 0.5-1.5 1-6.5 0.5-10.5 0.5 6 0.5-8.5 0.5-4.5 1 4 0.5 3 0.5-23.5 0.5 5.5 0.5 2 1-12.5 0.5 1.5 0.5-6.5 0.5 1 0.5-2.5 1 8.5 0.5-22 0.5 15 0.5 11.5 0.5-5 1-15 0.5 13.5 0.5 12.5 0.5 6 0.5 19.5 1-6 0.5-4.5 0.5 3.5 0.5-9 0.5 20 1-9 0.5 3.5 0.5 20.5 0.5 25 0.5-14.5 1-5 0.5 3 0.5 2 0.5 3.5 0.5 7.5 1-8 0.5 6.5 0.5 16 0.5-6.5 0.5 2 1-6 0.5 8 0.5-6.5 0.5-0.5 0.5 16 1-8.5 0.5 2.5 0.5 3.5 0.5-4 0.5-10.5 1 21.5 0.5-10.5 0.5-0.5 0.5 2 0.5-1 1-4 0.5 12 0.5 6.5 0.5-24 0.5 12 1-3.5 0.5-2 0.5 0.5 0.5 4 0.5 8.5 1 0 0.5-1.5 0.5 1.5 0.5-16.5 0.5 14.5 1-6 0.5 8 0.5-6 0.5-17 0.5 36.5 1-12.5 0.5-3 0.5 13 0.5-10.5 0.5 5.5 1-3 0.5 1.5 0.5-2.5 0.5-4 0.5-12 1 12 0.5 4 0.5-0.5 0.5-7 0.5 15.5 1-13 0.5 9 0.5-4 0.5 6 0.5-6 1 9 0.5-6.5 0.5 3.5 0.5-11 0.5 10.5 1-2.5 0.5-6.5 0.5-4.5 0.5-9 0.5 12 1 11 0.5-9.5 0.5-10.5 0.5 27.5 0.5-16 1 7 0.5 8 0.5 4 0.5-12.5 0.5 12 1-14.5 0.5 0 0.5 17 0.5-13.5 0.5-4.5 1 9.5 0.5-6.5 0.5 10.5 0.5-11.5 0.5 0.5 1 11.5 0.5-4 0.5-2 0.5 3.5 0.5 0 1-10 0.5-11.5 0.5 12 0.5 3.5 0.5 3 1-29 0.5 33 0.5-10 0.5 2.5 0.5-10.5 1 19.5 0.5-16.5 0.5 22.5 0.5-14.5 0.5 20.5 1-12.5 0.5-11.5 0.5 13.5 0.5-5.5 0.5-7 1 16 0.5-7.5 0.5 7.5 0.5-22 0.5 1.5 1 10.5 0.5 2 0.5 9.5 0.5-4 0.5-2 1 2 0.5-3 0.5 2.5 0.5-12.5 0.5 8.5 1-3.5 0.5 9 0.5-0.5 0.5 5 0.5 13 1-26.5 0.5 0.5 0.5 21 0.5-20.5 0.5 21 1-2 0.5-11 0.5 3.5 0.5-14 0.5 9 1 5 0.5 2 0.5 0.5 0.5 4 0.5-7 1 9.5 0.5-11.5 0.5-0.5 0.5-9 0.5 17.5 1-13.5 0.5 3 0.5 5.5 0.5 3 0.5-20.5 1 6.5 0.5 10 0.5 6.5 0.5-11 0.5-8 1 18 0.5 5.5 0.5-21.5 0.5 14.5 0.5-9 1 4.5 0.5-6.5 0.5 5.5 0.5 16 0.5-12 1 4 0.5 0 0.5-4.5 0.5 6 0.5-12.5 1 2 0.5 4.5 0.5-10 0.5 9.5 0.5 10.5 1-22 0.5 9 0.5 6 0.5 2.5 0.5-8.5 1 17 0.5-1.5 0.5-7 0.5-12 0.5 20 1 2.5 0.5-13 0.5 14 0.5 8 0.5-19.5 1 1 0.5-14 0.5 15.5 0.5-15.5 0.5 5.5 1 5 0.5-6.5 0.5-0.5 0.5 6.5 0.5 2 1-0.5 0.5-0.5 0.5-12.5 0.5 14.5 0.5-10.5 1 9.5 0.5 2 0.5-2.5 0.5 3 0.5 4 1-14 0.5 10.5 0.5 5 0.5 12.5 0.5-30 1 12 0.5-6 0.5-4 0.5 5.5 0.5 5 1-18.5 0.5 22.5 0.5-1.5 0.5-16 0.5-2.5 1-3 0.5-6.5 0.5 15.5 0.5-10.5 0.5-4.5 1-10 0.5-11.5 0.5-0.5 0.5-1.5 0.5-17.5 1 19 0.5-28 0.5-24.5 0.5-3 0.5 21 1-17 0.5-20 0.5 18.5 0.5-0.5 0.5-3.5 1-9 0.5 1.5 0.5 2 0.5 12 0.5-0.5 1 15.5 0.5 11 0.5-1.5 0.5 11 0.5 7 1 15 0.5 5.5 0.5-3 0.5 2 0.5 20.5 1 7.5 0.5-3.5 0.5-4.5 0.5 11 0.5-1.5 1 11 0.5-6.5 0.5-5 0.5 9.5 0.5-4 1 9 0.5-2 0.5 9.5 0.5 0 0.5-2.5 1 3 0.5-1.5 0.5-4 0.5 8 0.5 12 1-20.5 0.5-2.5 0.5 6 0.5 0 0.5-2 1 1.5 0.5 4 0.5-3.5 0.5 17.5 0.5-18.5 1 9 0.5 3.5 0.5 8 0.5-12.5 0.5-3.5 1 8.5 0.5-10.5 0.5-4.5 0.5 21.5 0.5-2 1-7 0.5 14.5 0.5-22 0.5 11.5 0.5-3 1 2 0.5-2 0.5-5 0.5 7 0.5 7 1-11.5 0.5-3 0.5 3 0.5-12.5 0.5 17.5 1 3.5 0.5-3.5 0.5-0.5 0.5-1.5 0.5 2 1-1.5 0.5-0.5 0.5 9 0.5 4 0.5-5 1-11 0.5 7 0.5-6.5 0.5 9 0.5-8 1 9.5 0.5-15 0.5 1 0.5 12 0.5-2.5 1 3 0.5-5.5 0.5 7 0.5-7 0.5-2.5 1-2 0.5 5.5 0.5-8.5 0.5 0.5 0.5 5.5 1 2.5 0.5 1 0.5-14.5 0.5 1.5 0.5 17 1-15 0.5 18.5 0.5-8 0.5 4.5 0.5-6 1 0 0.5 6 0.5-11 0.5 1 0.5-13 1-0.5 0.5-0.5 0.5 4 0.5-4.5 0.5-2 1-3.5 0.5 23 0.5-15.5 0.5 3.5 0.5-5 1-7.5 0.5 4 0.5-8 0.5-4.5 0.5 2 1-7.5 0.5 4.5 0.5-3.5 0.5 5 0.5-7 1-7 0.5-8 0.5 2 0.5 4 0.5 2.5 1-13 0.5-4.5 0.5-3 0.5-5 0.5 7.5 1-2.5 0.5-7.5 0.5-5.5 0.5 22.5 0.5-12 1-5.5 0.5 1.5 0.5-20 0.5 14.5 0.5 11 1-7 0.5 10.5 0.5-4.5 0.5 13 0.5-1 1 1 0.5-2 0.5 16.5 0.5-13 0.5 6.5 1 0.5 0.5 0.5 0.5 8 0.5-3.5 0.5 14.5 1-2 0.5 8 0.5 8 0.5-7 0.5-9 1 14.5 0.5-1 0.5 14 0.5-7.5 0.5 9.5 1-2.5 0.5-3.5 0.5 11 0.5-2.5 0.5 8 1 3 0.5-0.5 0.5-9 0.5 6 0.5 23 1-16 0.5 4 0.5-11.5 0.5 22.5 0.5-10.5 1-3.5 0.5-8.5 0.5 7 0.5 10.5 0.5-5 1-3 0.5 10 0.5 3 0.5-0.5 0.5-9 1 18.5 0.5-1.5 0.5-8.5 0.5 0 0.5-3 1 4 0.5-4 0.5 8 0.5 1 0.5 1 1 2.5 0.5 0.5 0.5-2 0.5-16 0.5 14 1 4 0.5 8 0.5-11.5 0.5 4 0.5 0.5 1 3 0.5 4 0.5-11 0.5 17.5 0.5-22.5 1 10.5 0.5-5 0.5 7 0.5-4.5 0.5 4 1-8 0.5 10 0.5-0.5 0.5 2 0.5-3.5 1-4 0.5 9 0.5-10.5 0.5 3.5 0.5 10 1-18 0.5 20 0.5-0.5 0.5-7 0.5-2 1 11.5 0.5-9 0.5 13.5 0.5-15 0.5 3.5 1-4.5 0.5 1 0.5 7.5 0.5-14 0.5-1.5 1 11 0.5 5 0.5 0.5 0.5-5 0.5 0 1 1.5 0.5-6 0.5-0.5 0.5 2 0.5 10 1-12 0.5 15.5 0.5-11.5 0.5 1 0.5 14.5 1-13.5 0.5-2.5 0.5 2.5 0.5 4 0.5-10 1 9 0.5 5.5 0.5-18 0.5 21.5 0.5-8.5 1 3.5 0.5-13.5 0.5 17.5 0.5-16 0.5 8.5 1-2.5 0.5-9.5 0.5 14.5 0.5 1.5 0.5-9.5 1 6 0.5 5 0.5 2 0.5-12.5 0.5 9.5 1-2 0.5-11 0.5 0.5 0.5-3.5 0.5 13 1-1 0.5-5 0.5 1.5 0.5 2 0.5 7 1 1 0.5-9.5 0.5-0.5 0.5 2.5 0.5 7.5 1 3 0.5-13 0.5 1.5 0.5-0.5 0.5-2 1 0 0.5 5.5 0.5-1.5 0.5 9 0.5-9 1 18 0.5-16.5 0.5 14.5 0.5-16.5 0.5-4 1 10 0.5 1 0.5-1 0.5-2 0.5 11.5 1-19.5 0.5 6.5 0.5 3.5 0.5 0 0.5-9 1 5.5 0.5 1 0.5 2.5 0.5-7 0.5 7.5 1 0 0.5-11 0.5 12 0.5-4.5 0.5-8 1 5.5 0.5-4 0.5 5 0.5-16.5 0.5 23 1 8 0.5-12 0.5-5 0.5 4.5 0.5-11.5 1 15.5 0.5 1 0.5-10 0.5 12.5 0.5 4 1 8 0.5-30.5 0.5 13.5 0.5 6 0.5-11 1 5 0.5 2 0.5-3 0.5-2 0.5-0.5 1-6 0.5 10.5 0.5-14 0.5 8.5 0.5 8 1-14.5 0.5 8 0.5 2 0.5-18.5 0.5 20 1 0.5 0.5 1 0.5-2 0.5 0 0.5 2 1-7.5 0.5-2.5 0.5 22 0.5-21 0.5 9.5 1-3 0.5-5.5 0.5 4 0.5-4.5 0.5 2.5 1-8.5 0.5 10.5 0.5 5.5 0.5 0.5 0.5-1.5 1 1.5 0.5-5 0.5-7 0.5 3.5 0.5 1 1 6.5 0.5-10.5 0.5 1.5 0.5-3 0.5 5.5 1 3 0.5 0 0.5-6.5 0.5-4 0.5 5.5 1 1.5 0.5 2 0.5-0.5 0.5 0 0.5 6.5 1-12 0.5 8.5 0.5 2 0.5-4.5 0.5-0.5 1-9 0.5-14 0.5 15 0.5 5.5 0.5-9.5 1 18 0.5-7 0.5 1 0.5-1.5 0.5 4 1-2 0.5-13 0.5 11 0.5 3.5 0.5-7.5 1-1 0.5 16 0.5-15 0.5 0.5 0.5 11.5 1-3.5 0.5-7 0.5 3 0.5-4.5 0.5 12 1-11 0.5-1.5 0.5 0.5 0.5-14 0.5 11 1 2.5 0.5 4.5 0.5-5.5 0.5-11 0.5 19 1-3.5 0.5-6 0.5 7 0.5-8 0.5 3 1-6.5 0.5-5 0.5 2.5 0.5-1 0.5 5 1-1.5 0.5-1.5 0.5 5 0.5-7 0.5-3 1 3.5 0.5 0 0.5 11 0.5-15.5 0.5 5 1-5.5 0.5 12 0.5-4.5 0.5-6.5 0.5 2.5 1-4 0.5 9 0.5-12.5 0.5 15.5 0.5-6 1 4 0.5-1 0.5-7.5 0.5-3.5 0.5 13 1 2 0.5-10 0.5 9 0.5 2.5 0.5-9 1 6.5 0.5 4 0.5-6 0.5 7.5 0.5-3.5 1-7.5 0.5 12.5 0.5 2.5 0.5-7 0.5 15 1-3.5 0.5 2 0.5 1 0.5-4.5 0.5 2.5 1-5 0.5 6 0.5 8 0.5-12 0.5 5.5 1-3 0.5 5.5 0.5 1.5 0.5-1 0.5-14 1 20.5 0.5-6 0.5 0 0.5-7.5 0.5 11.5 1-5 0.5-0.5 0.5 2.5 0.5-2.5 0.5 3.5 1-2 0.5 13.5 0.5-20.5 0.5-5.5 0.5 16.5 1-1.5 0.5 2.5 0.5-9 0.5 5.5 0.5-2.5 1-4 0.5 1 0.5 4.5 0.5 7 0.5-15.5 1-0.5 0.5 10.5 0.5-9 0.5 18 0.5-17 1 1 0.5-11.5 0.5 11 0.5 2.5 0.5-3 1 16 0.5-10.5 0.5 9.5 0.5-5 0.5-5.5 1-12.5 0.5 13 0.5-2 0.5-1.5 0.5-3.5 1 17 0.5-6.5 0.5-3 0.5 5 0.5 3 1-7.5 0.5 1 0.5-3.5 0.5-6.5 0.5 8 1-13.5 0.5 12.5 0.5 7.5 0.5-15.5 0.5-2 1 6.5 0.5 4.5 0.5 1.5 0.5-4 0.5-10.5 1-4.5 0.5 16 0.5-6.5 0.5 3.5 0.5-2.5 1 0 0.5 1.5 0.5 1.5 0.5 14 0.5-11.5 1-8.5 0.5 15.5 0.5-22 0.5 19 0.5-10 1 10.5 0.5-10 0.5 13.5 0.5-7.5 0.5-0.5 1-10.5 0.5 4 0.5 23 0.5-26.5 0.5 3.5 1 4 0.5 8.5 0.5 2 0.5-9.5 0.5-1.5 1 4 0.5-11 0.5 2.5 0.5 5 0.5-7.5 1 11.5 0.5-9 0.5-2.5 0.5 1 0.5 6.5 1-6 0.5 2.5 0.5-2 0.5 5.5 0.5-9.5 1 11 0.5-1.5 0.5-2.5 0.5-6 0.5-1.5 1-4.5 0.5 5 0.5 7.5 0.5-3.5 0.5-1.5 1 0.5 0.5 4 0.5-6.5 0.5-10 0.5 16 1-15.5 0.5 0.5 0.5-9 0.5 8 0.5-4 1-2 0.5-11.5 0.5-16 0.5 6.5 0.5 13 1-14.5 0.5-1 0.5-3.5 0.5 7 0.5-11 1-1.5 0.5 4 0.5 10 0.5-12 0.5 15.5 1 4 0.5-10 0.5 2 0.5 9 0.5 3.5 1 0.5 0.5 2.5 0.5 13 0.5-9 0.5 4 1 5.5 0.5 5 0.5-1 0.5-2 0.5 4 1 2.5 0.5 6.5 0.5-7.5 0.5-1.5 0.5 3.5 1-5 0.5 13 0.5-1.5 0.5-3 0.5-8 1 13.5 0.5-14 0.5 14.5 0.5-2.5 0.5-1 1-7.5 0.5 10.5 0.5-9 0.5 4 0.5 3 1-1 0.5-4.5 0.5-1.5 0.5 10.5 0.5-9.5 1 13 0.5-10 0.5 5.5 0.5-2.5 0.5 6 1-11 0.5 9.5 0.5-1.5 0.5-2 0.5 5.5 1 0.5 0.5-0.5 0.5-9.5 0.5-1.5 0.5 12.5 1-16 0.5 7 0.5 0.5 0.5 12.5 0.5-20 1 7 0.5 13 0.5-8 0.5-3.5 0.5 8 1-10 0.5 0.5 0.5 1.5 0.5 1.5 0.5 1.5 1 12 0.5-7 0.5-2 0.5-1.5 0.5-3.5 1-8 0.5 12 0.5 4 0.5 1.5 0.5-5 1 0.5 0.5 1 0.5-7.5 0.5 0 0.5 13.5 1-3.5 0.5-10 0.5 11 0.5 3 0.5-6.5 1-2 0.5 8 0.5 0 0.5-4 0.5-5 1 3 0.5 4 0.5 2.5 0.5-5 0.5 2.5 1-10 0.5 7 0.5 1 0.5 13 0.5-11.5 1-3 0.5-1.5 0.5 5 0.5 2.5 0.5-11.5 1 10.5 0.5-2 0.5 1 0.5 5 0.5-4.5 1 7 0.5-2.5 0.5-4.5 0.5-4 0.5 0 1 6 0.5 8 0.5-15.5 0.5 6.5 0.5 1 1 5.5 0.5-11.5 0.5 8.5 0.5-2.5 0.5 0 1 3 0.5-4.5 0.5 11.5 0.5-14.5 0.5 1 1 3 0.5 4 0.5-2 0.5-4 0.5 7 1-3.5 0.5 10.5 0.5-6 0.5-2 0.5 5.5 1-9.5 0.5 5 0.5 3.5 0.5-7 0.5-3 1-5 0.5 11 0.5 0 0.5-2 0.5 5.5 1 0.5 0.5-3 0.5-19 0.5 17.5 0.5-1 1-8.5 0.5 15.5 0.5 1.5 0.5-3.5 0.5-8.5 1 4.5 0.5 5 0.5-4 0.5 3.5 0.5-13 1 7.5 0.5-0.5 0.5-10 0.5 17.5 0.5-6 1-1.5 0.5 4 0.5-5 0.5-1.5 0.5 3 1 8 0.5-6 0.5-0.5 0.5 3 0.5-5.5 1-1 0.5 0.5 0.5-3.5 0.5 11 0.5-11 1 5 0.5 0 0.5-3.5 0.5 5.5 0.5-3 1 4 0.5-5.5 0.5 17.5 0.5-17.5 0.5 6.5 1-7.5 0.5 7 0.5 0.5 0.5-8.5 0.5 9 1 3 0.5-1 0.5-4.5 0.5-5.5 0.5 10 1-2.5 0.5 1 0.5-7.5 0.5-3 0.5 5 1 1.5 0.5 7 0.5-2 0.5 1.5 0.5 0.5 1-6 0.5 8.5 0.5-13.5 0.5 0 0.5 0 1 3 0.5 9 0.5-4 0.5 7.5 0.5-2.5 1-7.5 0.5-9.5 0.5-0.5 0.5 15 0.5-0.5 1 2 0.5-19.5 0.5 21.5 0.5-1.5 0.5-12 1-3.5 0.5 10 0.5-3.5 0.5 2.5 0.5 2 1 5 0.5-6 0.5 6.5 0.5-5.5 0.5-0.5 1-4 0.5-6.5 0.5 21.5 0.5-18.5 0.5 5 1-3.5 0.5 4.5 0.5-2.5 0.5 4.5 0.5-3 1-8 0.5 13.5 0.5 1 0.5-8.5 0.5 8 1-16 0.5 1.5 0.5 11.5 0.5 0 0.5 4 1-14 0.5 8.5 0.5-2.5 0.5-13 0.5 4.5 1 13.5 0.5 8 0.5-19.5 0.5 12.5 0.5 7.5 1-14 0.5 3.5 0.5 5 0.5-1.5 0.5-4.5 1-4.5 0.5 10 0.5-9 0.5-2.5 0.5 2.5 1-5 0.5 10.5 0.5-8 0.5 8.5 0.5 4.5 1-1 0.5 3.5 0.5-9.5 0.5-5 0.5 3.5 1-1.5 0.5 1 0.5-3.5 0.5 17 0.5-5 1-1 0.5-13.5 0.5 13.5 0.5-4.5 0.5-7 1 22 0.5-15 0.5-8 0.5 2 0.5 1 1 5 0.5 3.5 0.5-6 0.5 5.5 0.5-11.5 1 8.5 0.5-0.5 0.5-5.5 0.5 7 0.5 2.5 1-6 0.5 1 0.5 4.5 0.5-0.5 0.5-4.5 1-4.5 0.5 9.5 0.5-1.5 0.5-9 0.5 7 1 8 0.5-5 0.5-2 0.5-1.5 0.5-2 1-7 0.5 2 0.5 5.5 0.5 2.5 0.5 3.5 1-12 0.5-4 0.5-1.5 0.5 4 0.5-1.5 1 8 0.5-13.5 0.5 4 0.5-8 0.5 10 1-6.5 0.5-6.5 0.5 0.5 0.5-5.5 0.5-13.5 1 20 0.5-5.5 0.5-3 0.5-16.5 0.5 18 1-14 0.5 14.5 0.5-11.5 0.5 2.5 0.5-2 1-2 0.5 15 0.5-13.5 0.5-2 0.5 12 1-0.5 0.5 0.5 0.5 1.5 0.5-5.5 0.5 3.5 1 5 0.5 0 0.5 6 0.5-1.5 0.5 9 1-6 0.5 11 0.5-14.5 0.5 12.5 0.5 4.5 1-14.5 0.5 5 0.5 14.5 0.5-10 0.5 6 1 5 0.5 0.5 0.5-3.5 0.5-1 0.5 2 1 4 0.5 4 0.5-7 0.5 5.5 0.5 3 1-7.5 0.5-2 0.5-1 0.5 5.5 0.5 1.5 1 2 0.5-3 0.5 1.5 0.5-1 0.5 11.5 1-16.5 0.5 2 0.5 9 0.5-6.5 0.5 9.5 1-16.5 0.5 12.5 0.5-7.5 0.5 9 0.5-2 1 1 0.5-8 0.5 11.5 0.5-5.5 0.5-9.5 1 12.5 0.5-7.5 0.5-3.5 0.5 4 0.5 6 1-1 0.5 11 0.5-7 0.5-0.5 0.5-1.5 1-4 0.5 2 0.5 0 0.5 5.5 0.5-2.5 1-2 0.5 6 0.5 2.5 0.5-4.5 0.5 7.5 1-12 0.5 7 0.5-1.5 0.5-2.5 0.5-5.5 1 11 0.5-7.5 0.5 8.5 0.5-8.5 0.5 7 1 1 0.5-4.5 0.5-1.5 0.5-3 0.5-0.5 1-2 0.5 7 0.5-5 0.5 9.5 0.5-14.5 1 5.5 0.5-2 0.5 4.5 0.5 3 0.5 1 1-14.5 0.5 14.5 0.5-16.5 0.5 17 0.5-1 1-5.5 0.5 3 0.5-0.5 0.5-3 0.5 2 1-1 0.5-8 0.5 19.5 0.5-9.5 0.5 1.5 1-2 0.5-18 0.5 12.5 0.5-2 0.5-0.5 1 10.5 0.5-21 0.5 22.5 0.5-3.5 0.5-4 1 4 0.5-5 0.5 3 0.5 0 0.5-11 1 17 0.5-13 0.5 2 0.5-1.5 0.5-1 1 13 0.5-9 0.5 6.5 0.5-5 0.5 2 1-4 0.5-2.5 0.5 3.5 0.5-4 0.5 4 1-2.5 0.5 10.5 0.5-13.5 0.5-1 0.5 8 1-4 0.5 4.5 0.5-6 0.5 3.5 0.5 7 1-10 0.5 2 0.5 10 0.5-11 0.5 3.5 1 3 0.5-8.5 0.5 6 0.5 2 0.5 2 1 0 0.5-9.5 0.5 3 0.5-6 0.5-3.5 1-1 0.5 14.5 0.5-6 0.5 0 0.5-4 1 3.5 0.5 3.5 0.5-2.5 0.5-4 0.5-1.5 1 7.5 0.5-6.5 0.5-0.5 0.5-1.5 0.5 5 1 2 0.5-5.5 0.5 6.5 0.5 6.5 0.5-2 1-5.5 0.5 1 0.5 2.5 0.5-13.5 0.5 8.5 1 0.5 0.5 0.5 0.5-2 0.5 2.5 0.5 1.5 1-15 0.5 10 0.5-3 0.5-1.5 0.5 4.5 1-6.5 0.5 5.5 0.5 5 0.5 0.5 0.5 0.5 1 1 0.5-7 0.5 0 0.5 5.5 0.5-1.5 1-12 0.5 26 0.5-13 0.5-1.5 0.5-3.5 1-3 0.5 3 0.5-3.5 0.5 1 0.5 7 1-9 0.5-2 0.5 7 0.5-2 0.5 2.5 1 5.5 0.5-6 0.5-6 0.5-2.5 0.5 1.5 1 1.5 0.5-3 0.5 1 0.5 4 0.5-8 1-0.5 0.5 0.5 0.5 2.5 0.5-5.5 0.5 5 1-12.5 0.5-1 0.5 1 0.5 0.5 0.5-12 1 10 0.5-5 0.5 4.5 0.5-8.5 0.5-1.5 1-8 0.5 2.5 0.5-4 0.5 3.5 0.5-6 1 4 0.5-8 0.5 10 0.5 3 0.5-9 1 2 0.5 0 0.5 0.5 0.5 9 0.5 8 1 1.5 0.5 2 0.5-13 0.5 20.5 0.5-3 1 7.5 0.5-4 0.5-1 0.5 4 0.5 11 1-7.5 0.5-2.5 0.5 1.5 0.5 1.5 0.5 13.5 1 1 0.5-6 0.5 5 0.5-4 0.5-9 1 4.5 0.5 12 0.5-2 0.5 12 0.5-22.5 1 7 0.5 14 0.5-17 0.5 9.5 0.5-14.5 1 6 0.5 20 0.5-8 0.5 2.5 0.5-7.5 1 2 0.5-4.5 0.5 0.5 0.5 1.5 0.5-7 1-10.5 0.5 19 0.5 5 0.5-8.5 0.5 4.5 1-5.5 0.5 2.5 0.5-8.5 0.5 9 0.5 1 1 1 0.5-3 0.5 5 0.5 2 0.5-3.5 1 0 0.5-6.5 0.5 7.5 0.5-4 0.5 7 1-9.5 0.5-8 0.5 10 0.5 8 0.5-2 1 2.5 0.5-8 0.5-13.5 0.5 15 0.5 10 1-13 0.5-2.5 0.5 5.5 0.5-2.5 0.5 8.5 1-22 0.5 19 0.5-6 0.5-2.5 0.5-0.5 1 14 0.5-10 0.5-6.5 0.5 1.5 0.5 9.5 1 0.5 0.5-1.5 0.5 3.5 0.5-4.5 0.5 4 1-11 0.5 14 0.5 2.5 0.5-6.5 0.5 3 1-8 0.5 2.5 0.5 3.5 0.5-12.5 0.5 11.5 1 4.5 0.5-3 0.5-14 0.5 7.5 0.5 6 1-6.5 0.5 19.5 0.5-18.5 0.5 6.5 0.5 0 1-2.5 0.5-8 0.5 19 0.5-12 0.5 0.5 1-5 0.5 12 0.5-11.5 0.5 10 0.5-12 1 3.5 0.5 4.5 0.5 2 0.5-4.5 0.5-2 1-0.5 0.5 4 0.5-2 0.5-1 0.5 8.5 1-5 0.5 9 0.5-9.5 0.5-1.5 0.5-9.5 1 18.5 0.5-11.5 0.5 1.5 0.5 6.5 0.5-10 1-4 0.5 9.5 0.5-1.5 0.5 5.5 0.5-11.5 1-5.5 0.5 7.5 0.5 6 0.5-8.5 0.5 0 1 8 0.5 3.5 0.5-8 0.5-5 0.5 8 1-14.5 0.5 16 0.5 3 0.5-5 0.5 5.5 1-3.5 0.5 1.5 0.5 8 0.5-14 0.5 3.5 1-2.5 0.5 13 0.5-16.5 0.5 1.5 0.5 1 1 9.5 0.5-3 0.5-5.5 0.5 0.5 0.5 8 1-11 0.5 10.5 0.5-3.5 0.5 4 0.5-3.5 1-6 0.5 7.5 0.5-6.5 0.5 18.5 0.5-17 1 4 0.5-15.5 0.5 8 0.5 6.5 0.5 0.5 1 0.5 0.5 2 0.5-10.5 0.5 9.5 0.5-20.5 1 16 0.5-11 0.5 12 0.5-5 0.5 3.5 1-2 0.5 2.5 0.5-3 0.5 7 0.5-5 1-4.5 0.5-9 0.5 13 0.5-6 0.5 10.5 1-6 0.5 11 0.5-4 0.5-7.5 0.5 6 1-3 0.5-7.5 0.5 11.5 0.5 0 0.5-3 1 2 0.5-4.5 0.5 11.5 0.5-12 0.5 4.5 1-8 0.5 6 0.5-3 0.5-4 0.5 13.5 1-7 0.5-1.5 0.5-2.5 0.5 14 0.5 1 1-14.5 0.5 3.5 0.5 3 0.5-7 0.5 4.5 1-0.5 0.5-7 0.5 4.5 0.5 3 0.5 0.5 1 6.5 0.5-4.5 0.5-5 0.5 3 0.5-2.5 1-5.5 0.5 19 0.5-14.5 0.5 3 0.5 0.5 1 12.5 0.5-9.5 0.5-4.5 0.5 0 0.5-1.5 1 6 0.5-0.5 0.5-5.5 0.5 5 0.5-6 1-4.5 0.5 6 0.5-7 0.5 9.5 0.5-6 1 10 0.5-2 0.5-2.5 0.5 0 0.5 1.5 1 2.5 0.5 0 0.5-6 0.5-2.5 0.5 4 1 9 0.5-1.5 0.5 4.5 0.5-5.5 0.5-12.5 1 6.5 0.5-1 0.5 4 0.5-0.5 0.5-0.5 1 7 0.5 2.5 0.5-16 0.5 1.5 0.5 8 1-4.5 0.5 6.5 0.5-3.5 0.5 2 0.5 2.5 1-12 0.5-4.5 0.5 11 0.5-1.5 0.5-7 1 5.5 0.5-2.5 0.5-9 0.5 17 0.5-4 1-0.5 0.5-1.5 0.5 3.5 0.5 3.5 0.5-8 1 7 0.5 0 0.5 3.5 0.5-1.5 0.5-2 1-1 0.5-3.5 0.5 5.5 0.5-1 0.5-6 1-2 0.5 3.5 0.5 5 0.5-4.5 0.5-1 1 6 0.5-1 0.5-9 0.5 0 0.5 8 1-2.5 0.5-0.5 0.5 8 0.5-5.5 0.5-8 1 1.5 0.5 13.5 0.5-15.5 0.5 2.5 0.5 2 1-2.5 0.5-6 0.5 3.5 0.5-4.5 0.5 0.5 1 5.5 0.5-3 0.5-0.5 0.5-3.5 0.5-9 1 11.5 0.5-4 0.5-1 0.5 1.5 0.5 9.5 1-2 0.5-0.5 0.5-4.5 0.5-1.5 0.5-5.5 1 3.5 0.5 13 0.5-18 0.5-1.5 0.5 1.5 1 2 0.5 7.5 0.5 0 0.5-3 0.5-0.5 1 2 0.5-7 0.5 14.5 0.5-7.5 0.5 1.5 1 2.5 0.5-2.5 0.5-0.5 0.5 4.5 0.5-3 1 0 0.5 6.5 0.5-4 0.5 7.5 0.5-4.5 1-1 0.5 3 0.5-1 0.5-3 0.5 15.5 1-16.5 0.5 12.5 0.5 0 0.5-3.5 0.5-2.5 1 11.5 0.5-17.5 0.5 6.5 0.5-0.5 0.5 8.5 1-5.5 0.5-0.5 0.5-4.5 0.5 8.5 0.5-3.5 1 7 0.5-14 0.5 4 0.5 4.5 0.5 13.5 1-13.5 0.5 7 0.5-9.5 0.5 7 0.5-7 1 2.5 0.5-3.5 0.5-9 0.5 4 0.5 3 1 10 0.5-5 0.5-1.5 0.5-1 0.5 0.5 1 1.5 0.5 5 0.5-7.5 0.5 10 0.5-2.5 1-2 0.5 7 0.5-3 0.5-15 0.5 18 1-4.5 0.5-8.5 0.5-0.5 0.5 3.5 0.5 2.5 1 8 0.5-8.5 0.5 2 0.5-3.5 0.5 4 1 6 0.5-5 0.5 2.5 0.5 8.5 0.5 3 1-24.5 0.5 17 0.5-5.5 0.5-11 0.5 13 1-8 0.5-3.5 0.5 1.5 0.5 3.5 0.5-3.5 1 3.5 0.5-0.5 0.5-2 0.5 4 0.5-9 1 14.5 0.5-11 0.5 1.5 0.5-3 0.5 19 1-7 0.5-11 0.5 8 0.5-3 0.5-4 1 3 0.5 4 0.5-6 0.5 3.5 0.5-11.5 1 11 0.5-8.5 0.5 5.5 0.5 7 0.5-4 1 7.5 0.5-10.5 0.5 7 0.5-10.5 0.5 11.5 1 1 0.5-5 0.5 6 0.5-0.5 0.5-14.5 1 6.5 0.5 0 0.5-7 0.5 11 0.5-3 1-1 0.5 2 0.5 1.5 0.5 1.5 0.5-1.5 1 11.5 0.5-7.5 0.5-9.5 0.5 9 0.5-13 1-2.5 0.5 18.5 0.5-3 0.5-10.5 0.5 4 1 5 0.5 2.5 0.5-3 0.5-0.5 0.5 1.5 1-6 0.5 6 0.5-1.5 0.5-2 0.5-4 1 4.5 0.5-0.5 0.5-8 0.5 16.5 0.5-2 1-13 0.5 6 0.5 0.5 0.5 6.5 0.5-10 1 0.5 0.5-2.5 0.5 7.5 0.5 8.5 0.5-1 1-12 0.5 2 0.5 2.5 0.5 1.5 0.5 6 1-8 0.5-4 0.5 1 0.5 1 0.5 8 1-2 0.5-7.5 0.5 0 0.5 3.5 0.5 1 1-0.5 0.5-8.5 0.5-5.5 0.5 10.5 0.5 14.5 1-19.5 0.5 13 0.5-12 0.5 2 0.5 16 1-7 0.5 11.5 0.5-14.5 0.5-4 0.5 3 1-3.5 0.5 14 0.5-12.5 0.5-1 0.5 7 1-7.5 0.5 10.5 0.5-7.5 0.5-1 0.5 3 1-7 0.5 8.5 0.5-10.5 0.5 6.5 0.5 1.5 1-2.5 0.5-5.5 0.5 2.5 0.5-7.5 0.5 11 1 0 0.5 0.5 0.5 7 0.5-6.5 0.5 1.5 1-4.5 0.5 3 0.5-2.5 0.5-2.5 0.5 9.5 1-4.5 0.5 4.5 0.5-7.5 0.5 1.5 0.5-1 1 4.5 0.5-7.5 0.5 5.5 0.5-1.5 0.5 3.5 1-3.5 0.5-1.5 0.5 5.5 0.5 0.5 0.5-8 1 10 0.5-6.5 0.5 16 0.5-15 0.5-3.5 1 10 0.5-1 0.5 1 0.5-3.5 0.5 2.5 1-2 0.5-12.5 0.5 6.5 0.5 1.5 0.5 6.5 1-2 0.5-2.5 0.5-0.5 0.5 7 0.5-6 1-2 0.5 2.5 0.5-4 0.5 1 0.5 4 1-1 0.5 3 0.5-1.5 0.5-5.5 0.5 0 1 4 0.5-3.5 0.5 2 0.5-6.5 0.5 6 1 10 0.5-14.5 0.5 8.5 0.5-5 0.5 5 1-7 0.5-1 0.5 4.5 0.5 0.5 0.5 3 1-1 0.5-2 0.5-1.5 0.5 5.5 0.5-10 1 10 0.5-7 0.5 6 0.5-10 0.5 8.5 1-10.5 0.5 9.5 0.5 5.5 0.5-1.5 0.5 4.5 1-15 0.5 7.5 0.5-3.5 0.5-6 0.5 8 1 4 0.5-1.5 0.5 1.5 0.5-1.5 0.5 5 1-8.5 0.5 1.5 0.5 1 0.5 14.5 0.5-22.5 1-2.5 0.5 12 0.5-8 0.5 5 0.5-5.5 1 3 0.5 2 0.5-5.5 0.5 10.5 0.5-6 1 2 0.5-5 0.5 11.5 0.5 5.5 0.5-17.5 1 7 0.5 0.5 0.5-1 0.5 3 0.5-6.5 1 10 0.5-10 0.5 5.5 0.5 0.5 0.5 1 1-2.5 0.5-6 0.5-2.5 0.5 3 0.5 1 1-2.5 0.5 6 0.5-1 0.5 7 0.5 1.5 1-11 0.5 6.5 0.5-8 0.5 2 0.5-1 1 0 0.5-0.5 0.5 5.5 0.5-5.5 0.5 2.5 1-8 0.5 11 0.5-1.5 0.5-0.5 0.5-2.5 1 5.5 0.5-1 0.5-1 0.5 1.5 0.5-2 1-2.5 0.5 6.5 0.5-8 0.5 1.5 0.5-2.5 1 10 0.5-1.5 0.5-8.5 0.5 2.5 0.5 4.5 1-3 0.5 0.5 0.5 5.5 0.5-5.5 0.5 1.5 1 2 0.5-11 0.5 12 0.5-6 0.5 7 1-5 0.5 1 0.5 6.5 0.5-8.5 0.5 8 1-18.5 0.5 10.5 0.5-3 0.5 8.5 0.5-4.5 1-6 0.5 11.5 0.5-6.5 0.5 0 0.5 1.5 1-3 0.5 4.5 0.5 1 0.5 1 0.5-3.5 1-2 0.5 4.5 0.5 0.5 0.5 3.5 0.5-10 1 2.5 0.5 0 0.5 3 0.5-12 0.5 9.5 1 2.5 0.5-4.5 0.5 2.5 0.5 2 0.5-2.5 1-0.5 0.5 4 0.5-1.5 0.5-3.5 0.5-2 1 4.5 0.5-2.5 0.5 1.5 0.5 4.5 0.5 6.5 1-14 0.5 6.5 0.5 1.5 0.5 1.5 0.5-6.5 1 6 0.5 2 0.5 0 0.5-7.5 0.5 1 1 8 0.5-10 0.5-6 0.5 2.5 0.5 6.5 1 0 0.5-2.5 0.5-2.5 0.5-7.5 0.5 5 1 4.5 0.5 0.5 0.5-1.5 0.5 2.5 0.5-2.5 1-3 0.5-3 0.5 14 0.5-14 0.5 4.5 1 3 0.5-6 0.5 1.5 0.5 6.5 0.5 6.5 1-15 0.5 2.5 0.5 5 0.5-9.5 0.5 13 1-4.5 0.5-3 0.5 2.5 0.5-1.5 0.5 0.5 1-0.5 0.5 11 0.5-19 0.5 17 0.5-4.5 1 2.5 0.5 3 0.5-17.5 0.5 13 0.5-3 1 6 0.5-18 0.5 10.5 0.5-1.5 0.5-2.5 1 3.5 0.5-1.5 0.5 3.5 0.5 1 0.5 0 1-4 0.5-5 0.5 7.5 0.5 1 0.5-5 1 2 0.5-3.5 0.5 7.5 0.5-1.5 0.5 1.5 1-9 0.5 13.5 0.5 1 0.5-7.5 0.5 7.5 1-9 0.5 12.5 0.5-5 0.5-3 0.5-6 1 10 0.5-2 0.5-11 0.5 3.5 0.5 9 1-6.5 0.5 4 0.5 0 0.5 9 0.5-15 1-1.5 0.5 7.5 0.5-8 0.5 11 0.5-5.5 1-2 0.5 4.5 0.5 4.5 0.5-7 0.5 0.5 1-4 0.5 4.5 0.5-7.5 0.5 5 0.5 9 1-11 0.5 5.5 0.5-6 0.5 18 0.5-14.5 1 11 0.5-19.5 0.5 9 0.5 8.5 0.5-5.5 1-6 0.5 2.5 0.5 2 0.5 0.5 0.5 0.5 1 3 0.5 0.5 0.5 1 0.5-8 0.5 0 1-0.5 0.5-1.5 0.5 3 0.5 1 0.5-6 1 10.5 0.5-1.5 0.5-9 0.5 0 0.5 10 1 5 0.5-8 0.5-2 0.5 3 0.5-5 1 6.5 0.5-4 0.5 0 0.5-5.5 0.5-2 1 12 0.5-4 0.5 2.5 0.5 0.5 0.5 4.5 1-10 0.5 7.5 0.5-6.5 0.5 1.5 0.5 7 1-2.5 0.5-2 0.5 1 0.5 3 0.5 0.5 1-7 0.5-4.5 0.5 11 0.5-4 0.5-12 1 15.5 0.5-5.5 0.5 3.5 0.5 2.5 0.5-1.5 1-5 0.5 6 0.5-6.5 0.5 4.5 0.5-13 1 4.5 0.5 11.5 0.5-1.5 0.5 8 0.5-15.5 1 2 0.5-2.5 0.5 6 0.5 0 0.5 1.5 1-6.5 0.5 7.5 0.5 0.5 0.5-16 0.5 14 1-2 0.5-6.5 0.5 9 0.5-2.5 0.5-1.5 1 0 0.5 0 0.5 8.5 0.5-10 0.5 4 1-10 0.5 2.5 0.5 17 0.5-13.5 0.5-2 1 5 0.5 1 0.5 0 0.5-3 0.5 5.5 1-3 0.5-11 0.5 7 0.5-12 0.5 18.5 1-9 0.5 11.5 0.5-2 0.5 0.5 0.5-5.5 1 3.5 0.5-11" fill="none" stroke="#ED7D31" stroke-width="5.0" stroke-linejoin="round" stroke-linecap="round" clip-path="url(#clip0)"/>
<path d="M979.9 888.0L996.4 922.4L963.3 922.4Z" fill="#fff" stroke="#000000" stroke-width="3.2" stroke-linejoin="miter"/>
<path d="M1193.2 938.3L1209.8 972.6L1176.7 972.6Z" fill="#fff" stroke="#000000" stroke-width="3.2" stroke-linejoin="miter"/>
<path d="M1905.0 1006.9L1921.6 1041.3L1888.5 1041.3Z" fill="#fff" stroke="#000000" stroke-width="3.2" stroke-linejoin="miter"/>
<circle cx="756.6" cy="318.0" r="17.2" fill="none" stroke="#000000" stroke-width="5.5"/>
<circle cx="930.3" cy="368.2" r="17.2" fill="none" stroke="#000000" stroke-width="5.5"/>
<circle cx="1490.7" cy="368.2" r="17.2" fill="none" stroke="#000000" stroke-width="5.5"/>
<circle cx="521.0" cy="351.5" r="20.0" fill="#00B0F0"/>
<circle cx="654.8" cy="552.5" r="20.0" fill="#00B0F0"/>
<circle cx="1077.0" cy="602.8" r="20.0" fill="#00B0F0"/>
<circle cx="1337.0" cy="636.2" r="20.0" fill="#00B0F0"/>
<circle cx="1417.1" cy="669.8" r="20.0" fill="#00B0F0"/>
<circle cx="1721.1" cy="703.2" r="20.0" fill="#00B0F0"/>
<circle cx="1935.0" cy="703.2" r="20.0" fill="#00B0F0"/>
<circle cx="2003.9" cy="703.2" r="20.0" fill="#00B0F0"/>
<circle cx="424.8" cy="569.2" r="20.0" fill="#000000"/>
<circle cx="587.6" cy="653.0" r="20.0" fill="#000000"/>
<circle cx="683.3" cy="736.8" r="20.0" fill="#000000"/>
<circle cx="876.6" cy="954.5" r="20.0" fill="#000000"/>
<circle cx="1014.8" cy="988.0" r="20.0" fill="#000000"/>
<circle cx="1206.1" cy="937.8" r="20.0" fill="#000000"/>
<circle cx="1350.2" cy="937.8" r="20.0" fill="#000000"/>
<circle cx="1563.8" cy="988.0" r="20.0" fill="#000000"/>
<circle cx="1610.2" cy="1021.5" r="20.0" fill="#000000"/>
<circle cx="1747.8" cy="1021.5" r="20.0" fill="#000000"/>
<circle cx="1818.8" cy="988.0" r="20.0" fill="#000000"/>
<circle cx="1873.1" cy="1021.5" r="20.0" fill="#000000"/>
<circle cx="1967.5" cy="1021.5" r="20.0" fill="#000000"/>
<circle cx="447.1" cy="200.8" r="20.0" fill="#ED7D31"/>
<circle cx="615.8" cy="251.0" r="20.0" fill="#ED7D31"/>
<circle cx="698.8" cy="318.0" r="20.0" fill="#ED7D31"/>
<circle cx="710.8" cy="318.0" r="20.0" fill="#ED7D31"/>
<circle cx="912.1" cy="435.2" r="20.0" fill="#ED7D31"/>
<circle cx="1020.7" cy="401.8" r="20.0" fill="#ED7D31"/>
<circle cx="1245.1" cy="418.5" r="20.0" fill="#ED7D31"/>
<circle cx="1405.1" cy="418.5" r="20.0" fill="#ED7D31"/>
<circle cx="1632.5" cy="452.0" r="20.0" fill="#ED7D31"/>
<line x1="758.1" y1="159.5" x2="758.1" y2="1139.8" stroke="#000" stroke-width="3.2" stroke-dasharray="18 6.5"/>
<line x1="933.5" y1="159.5" x2="933.5" y2="1139.8" stroke="#000" stroke-width="3.2" stroke-dasharray="18 6.5"/>
<line x1="1493.4" y1="159.5" x2="1493.4" y2="1139.8" stroke="#000" stroke-width="3.2" stroke-dasharray="18 6.5"/>
<path d="M271.0 150.5H2031.5V1155.5" fill="none" stroke="#000" stroke-width="3.0"/>
<rect x="267.0" y="147.0" width="8.0" height="1012.0" fill="#000"/>
<rect x="267.0" y="1152.0" width="1766.0" height="7.0" fill="#000"/>
<rect x="253.0" y="1152.0" width="18.0" height="7" fill="#000"/>
<text x="222.0" y="1175.0" text-anchor="end" style="font-family:'Liberation Sans',Arial,sans-serif;font-size:60px">0</text>
<rect x="253.0" y="984.5" width="18.0" height="7" fill="#000"/>
<text x="222.0" y="1007.5" text-anchor="end" style="font-family:'Liberation Sans',Arial,sans-serif;font-size:60px">50</text>
<rect x="253.0" y="817.0" width="18.0" height="7" fill="#000"/>
<text x="222.0" y="840.0" text-anchor="end" style="font-family:'Liberation Sans',Arial,sans-serif;font-size:60px">100</text>
<rect x="253.0" y="649.5" width="18.0" height="7" fill="#000"/>
<text x="222.0" y="672.5" text-anchor="end" style="font-family:'Liberation Sans',Arial,sans-serif;font-size:60px">150</text>
<rect x="253.0" y="482.0" width="18.0" height="7" fill="#000"/>
<text x="222.0" y="505.0" text-anchor="end" style="font-family:'Liberation Sans',Arial,sans-serif;font-size:60px">200</text>
<rect x="253.0" y="314.5" width="18.0" height="7" fill="#000"/>
<text x="222.0" y="337.5" text-anchor="end" style="font-family:'Liberation Sans',Arial,sans-serif;font-size:60px">250</text>
<rect x="253.0" y="147.0" width="18.0" height="7" fill="#000"/>
<text x="222.0" y="170.0" text-anchor="end" style="font-family:'Liberation Sans',Arial,sans-serif;font-size:60px">300</text>
<rect x="267.5" y="1155.5" width="7" height="18.5" fill="#000"/>
<text x="271.0" y="1246.0" text-anchor="middle" style="font-family:'Liberation Sans',Arial,sans-serif;font-size:60px">20</text>
<rect x="414.2" y="1155.5" width="7" height="13.5" fill="#000"/>
<rect x="560.9" y="1155.5" width="7" height="18.5" fill="#000"/>
<text x="564.4" y="1246.0" text-anchor="middle" style="font-family:'Liberation Sans',Arial,sans-serif;font-size:60px">30</text>
<rect x="707.6" y="1155.5" width="7" height="13.5" fill="#000"/>
<rect x="854.3" y="1155.5" width="7" height="18.5" fill="#000"/>
<text x="857.8" y="1246.0" text-anchor="middle" style="font-family:'Liberation Sans',Arial,sans-serif;font-size:60px">40</text>
<rect x="1001.0" y="1155.5" width="7" height="13.5" fill="#000"/>
<rect x="1147.8" y="1155.5" width="7" height="18.5" fill="#000"/>
<text x="1151.2" y="1246.0" text-anchor="middle" style="font-family:'Liberation Sans',Arial,sans-serif;font-size:60px">50</text>
<rect x="1294.5" y="1155.5" width="7" height="13.5" fill="#000"/>
<rect x="1441.2" y="1155.5" width="7" height="18.5" fill="#000"/>
<text x="1444.7" y="1246.0" text-anchor="middle" style="font-family:'Liberation Sans',Arial,sans-serif;font-size:60px">60</text>
<rect x="1587.9" y="1155.5" width="7" height="13.5" fill="#000"/>
<rect x="1734.6" y="1155.5" width="7" height="18.5" fill="#000"/>
<text x="1738.1" y="1246.0" text-anchor="middle" style="font-family:'Liberation Sans',Arial,sans-serif;font-size:60px">70</text>
<rect x="1881.3" y="1155.5" width="7" height="13.5" fill="#000"/>
<rect x="2028.0" y="1155.5" width="7" height="18.5" fill="#000"/>
<text x="2031.5" y="1246.0" text-anchor="middle" style="font-family:'Liberation Sans',Arial,sans-serif;font-size:60px">80</text>
<text x="956.0" y="1320.0" style="font-family:'Liberation Sans',Arial,sans-serif;font-size:60px"><tspan font-weight="bold">2 Theta</tspan> (degree)</text>
<text transform="translate(115.0 800.0) rotate(-90)" style="font-family:'Liberation Sans',Arial,sans-serif;font-size:60px"><tspan font-weight="bold">Intensity</tspan> (a.u.)</text>
<text x="1075.0" y="1572.0" text-anchor="middle" style="font-family:'Liberation Serif','Times New Roman',serif;font-size:104px">(<tspan font-weight="bold">a</tspan>)</text>
<clipPath id="clip1"><rect x="253.0" y="1815.0" width="1807.5" height="1035.0"/></clipPath>
<path d="M263 2519 l0.5 16.5 0.5-35.5 1-13.5 0.5 20 0.5 11.5 0.5-7.5 0.5-4.5 1 12 0.5-16.5 0.5-4 0.5 19 0.5-10 1 7 0.5 1 0.5-10.5 0.5 12.5 0.5 6.5 1-2.5 0.5-4 0.5-23 0.5 20.5 0.5-5.5 1 13.5 0.5-4.5 0.5-11 0.5 9 0.5-20.5 1 10 0.5 14.5 0.5 1 0.5-37.5 0.5 17 1 14 0.5 4.5 0.5 2 0.5-15 0.5 17.5 1-11.5 0.5-9.5 0.5 24.5 0.5-4.5 0.5-7.5 1 8.5 0.5 5.5 0.5-23.5 0.5 7.5 0.5-12 1 16 0.5-2.5 0.5 3.5 0.5 2 0.5-5 1 4 0.5-2.5 0.5 1.5 0.5-13 0.5 19 1-22 0.5 22 0.5-17.5 0.5 7.5 0.5 18.5 1-2 0.5-15.5 0.5 3 0.5 12.5 0.5 4 1-18.5 0.5 7 0.5-6.5 0.5 8.5 0.5-13 1 9.5 0.5-5.5 0.5 7.5 0.5-4 0.5-1 1 10 0.5-9 0.5-6.5 0.5 0 0.5-8 1 4.5 0.5 31 0.5-23 0.5-12 0.5 17.5 1 4.5 0.5 0.5 0.5-25.5 0.5 37.5 0.5-13 1 8.5 0.5-8 0.5-5 0.5-1 0.5 3.5 1 10 0.5-4.5 0.5 4.5 0.5 7 0.5-10.5 1-15.5 0.5-2 0.5 22.5 0.5-5 0.5-7.5 1 2 0.5-2.5 0.5-5.5 0.5 17.5 0.5-4.5 1 1 0.5 7.5 0.5-16.5 0.5 2 0.5 3 1-12 0.5 25.5 0.5-32 0.5 18 0.5 18 1-9 0.5 3.5 0.5 7.5 0.5-33 0.5 8.5 1 17 0.5-1 0.5-25 0.5 12 0.5-7 1 4 0.5 14.5 0.5-6 0.5 3.5 0.5-3.5 1 3.5 0.5 0 0.5-4 0.5-6.5 0.5 3 1-9.5 0.5 25.5 0.5-15 0.5 25 0.5-18.5 1-12 0.5 1 0.5 18 0.5-12 0.5-12 1 8.5 0.5-7.5 0.5 12.5 0.5 17 0.5-21.5 1 10 0.5 7.5 0.5-4 0.5 2 0.5-12 1 9 0.5-9.5 0.5-1.5 0.5 3 0.5 19.5 1-24 0.5 4 0.5-6 0.5 1 0.5 19 1-15.5 0.5 17.5 0.5-11 0.5 3 0.5-19.5 1 11 0.5 5.5 0.5-11.5 0.5 4.5 0.5 14 1 4 0.5-4 0.5-9 0.5 15 0.5-7.5 1-3.5 0.5-12.5 0.5 17 0.5-7 0.5 17 1-18 0.5 11 0.5 8.5 0.5-18.5 0.5 8 1 5 0.5 2 0.5-11 0.5 8 0.5-5.5 1 12 0.5-8 0.5-5 0.5-8 0.5 20.5 1-9 0.5 3 0.5 0 0.5-1.5 0.5 13 1-2.5 0.5-27.5 0.5 6 0.5 8 0.5-9.5 1 14.5 0.5-1 0.5 4 0.5 0.5 0.5 12.5 1 16 0.5-26 0.5-2.5 0.5 2 0.5-8.5 1 19.5 0.5-14.5 0.5-22.5 0.5 32 0.5-11.5 1 7 0.5-6 0.5 0.5 0.5-4.5 0.5 0.5 1 14 0.5-14.5 0.5 5.5 0.5 18 0.5-18 1 21 0.5-2.5 0.5-13 0.5-19.5 0.5 20 1-7.5 0.5-1 0.5 16.5 0.5-13.5 0.5 5.5 1 29.5 0.5-24.5 0.5 0 0.5-5 0.5-2 1 18 0.5-19.5 0.5 18 0.5-13 0.5 3 1 1 0.5-6 0.5 1 0.5 14.5 0.5-8.5 1-23 0.5 52 0.5-30 0.5 4 0.5 22.5 1-38 0.5 8.5 0.5 0 0.5 17 0.5-16 1 16 0.5-37.5 0.5 30.5 0.5 2.5 0.5-19.5 1 28 0.5-8 0.5 1.5 0.5 7.5 0.5-22.5 1 17.5 0.5-16 0.5 9.5 0.5 0.5 0.5-4 1 9.5 0.5-8.5 0.5 14 0.5 12.5 0.5-4.5 1-20.5 0.5 5 0.5 12 0.5-10 0.5-10 1 21.5 0.5-22.5 0.5 14 0.5-16 0.5 12 1-7.5 0.5 12.5 0.5-17.5 0.5 17.5 0.5 4.5 1-5 0.5 8.5 0.5-8 0.5-0.5 0.5 6.5 1-11.5 0.5 10 0.5-8 0.5 15.5 0.5-1.5 1-12 0.5-6.5 0.5 12.5 0.5-11.5 0.5 15 1-8 0.5 11.5 0.5-8 0.5-14 0.5 13.5 1 16 0.5-26 0.5 23 0.5-18 0.5 4 1 6 0.5-4.5 0.5 2 0.5-22.5 0.5 14 1 9 0.5 13.5 0.5-34.5 0.5 25.5 0.5-5.5 1 3 0.5-6 0.5 9 0.5 4.5 0.5-4.5 1-7 0.5 3 0.5 11.5 0.5 13 0.5-14.5 1-9.5 0.5-9 0.5 31 0.5-10.5 0.5-1.5 1-5.5 0.5 16.5 0.5-7.5 0.5-3 0.5-8.5 1 12.5 0.5-17 0.5 6.5 0.5 14 0.5-6 1 14 0.5-15 0.5 0.5 0.5 8 0.5-12 1 10.5 0.5 2.5 0.5-11.5 0.5 2 0.5-16.5 1 22 0.5 0.5 0.5-11 0.5 9 0.5 4.5 1-6 0.5-2.5 0.5 0.5 0.5 14.5 0.5 2 1-22 0.5 17.5 0.5-11.5 0.5 10 0.5-12 1 11.5 0.5-11.5 0.5 1 0.5 16.5 0.5-25.5 1-4.5 0.5 8.5 0.5 2.5 0.5-19 0.5 1 1 19.5 0.5-35.5 0.5 3 0.5-14.5 0.5-12.5 1-12.5 0.5-4.5 0.5-14 0.5-24.5 0.5-2.5 1-18.5 0.5-3.5 0.5-12.5 0.5 9 0.5 3.5 1 20 0.5 19.5 0.5 16.5 0.5 13 0.5 12 1 16 0.5 19.5 0.5 19 0.5-7.5 0.5 1 1 1.5 0.5 9 0.5-7 0.5 8 0.5 8.5 1-2.5 0.5 2.5 0.5-1.5 0.5 25 0.5-18.5 1-1 0.5 3.5 0.5-14.5 0.5 2.5 0.5 14.5 1-2 0.5-4.5 0.5 3 0.5 6.5 0.5 0 1 18.5 0.5-15.5 0.5 3.5 0.5 18 0.5-35.5 1 6.5 0.5 13.5 0.5 1 0.5-10 0.5-5 1-1.5 0.5 21.5 0.5-9 0.5 2.5 0.5-25 1 26.5 0.5-14.5 0.5 15.5 0.5 15 0.5-17.5 1-3.5 0.5-3 0.5 12.5 0.5-9.5 0.5-1 1 12.5 0.5-12.5 0.5 15.5 0.5-8.5 0.5 15.5 1-14 0.5-2.5 0.5-2.5 0.5 2.5 0.5 12 1-9.5 0.5 9.5 0.5-9 0.5 8.5 0.5 2 1-14.5 0.5 10.5 0.5 19.5 0.5-12 0.5-11.5 1 7 0.5-7 0.5-4 0.5 15 0.5-0.5 1-9.5 0.5 3 0.5-3 0.5 8 0.5-4.5 1 18.5 0.5-6 0.5-3.5 0.5-18.5 0.5 12 1-0.5 0.5 1.5 0.5 0 0.5 13 0.5-6 1 3.5 0.5-5.5 0.5 7.5 0.5-6 0.5 3.5 1-3 0.5 13 0.5-18 0.5 0.5 0.5-3.5 1 3.5 0.5 2 0.5 12.5 0.5-11.5 0.5 2 1 4 0.5 7.5 0.5-3.5 0.5-4.5 0.5 7 1-10 0.5 0 0.5 4.5 0.5 11 0.5-16.5 1 0.5 0.5 21 0.5-20 0.5 17.5 0.5-8 1-1.5 0.5 2 0.5-15.5 0.5 18 0.5-15 1 11.5 0.5 0 0.5-13 0.5 10.5 0.5 5 1 2 0.5-12.5 0.5 8.5 0.5-11 0.5 13 1-19 0.5 15.5 0.5-10.5 0.5 27 0.5-19 1 1.5 0.5 3 0.5 21.5 0.5-25.5 0.5 0 1 15.5 0.5-7.5 0.5-3.5 0.5 0 0.5-4.5 1 12.5 0.5-5.5 0.5-8.5 0.5 7 0.5 5.5 1 5.5 0.5-22.5 0.5 22 0.5-21 0.5 7 1 8.5 0.5-5 0.5-8.5 0.5 13.5 0.5-1.5 1 6.5 0.5-7 0.5 10 0.5-10 0.5 15 1-21 0.5 15.5 0.5-14 0.5 0.5 0.5 0.5 1 15 0.5-18 0.5 4.5 0.5 21 0.5-6 1-17 0.5 24.5 0.5-21.5 0.5 10 0.5-7.5 1 8 0.5-10 0.5 4 0.5 7 0.5-2.5 1-15.5 0.5 13.5 0.5 2 0.5-5 0.5 1 1 10 0.5-20 0.5 34.5 0.5-25 0.5-3 1 11 0.5-12.5 0.5 20.5 0.5-10.5 0.5-8.5 1 1 0.5-3 0.5 13 0.5-11 0.5 7 1-3 0.5-0.5 0.5 0 0.5-14 0.5 4 1-4 0.5-9.5 0.5-8.5 0.5 23.5 0.5-24.5 1-2 0.5 10 0.5-7 0.5 4.5 0.5 10 1 0 0.5 4.5 0.5-2 0.5 26.5 0.5-20 1 6.5 0.5 24 0.5-24.5 0.5 26 0.5 2.5 1-11.5 0.5 5.5 0.5 4.5 0.5-6 0.5 0 1-1.5 0.5 21.5 0.5-3 0.5-15 0.5 4 1-4.5 0.5 1.5 0.5 0.5 0.5 14.5 0.5-6.5 1 4 0.5-1.5 0.5 5.5 0.5 3 0.5-10 1-4.5 0.5 1.5 0.5 0 0.5 7.5 0.5 1.5 1 9 0.5-22.5 0.5 6 0.5-10.5 0.5 11 1 12 0.5-11 0.5-5 0.5 7.5 0.5 9.5 1-6.5 0.5 10 0.5 0.5 0.5-1.5 0.5-8.5 1-1.5 0.5 2 0.5 6.5 0.5-20 0.5 8 1 6.5 0.5-8 0.5 5.5 0.5 2 0.5 7 1 1.5 0.5-13 0.5 4.5 0.5 6 0.5-5 1 8.5 0.5-5.5 0.5 4.5 0.5 7.5 0.5-24.5 1 9 0.5 17 0.5-8.5 0.5-23 0.5 24.5 1 2 0.5-2 0.5 9 0.5-15 0.5-7.5 1 18 0.5-1 0.5 1 0.5-14.5 0.5 30.5 1-29.5 0.5 13 0.5-5 0.5 24.5 0.5-11.5 1-6.5 0.5 9 0.5-9.5 0.5 7.5 0.5-5.5 1-10.5 0.5 10 0.5-0.5 0.5-1.5 0.5 3.5 1 3.5 0.5 15.5 0.5-6.5 0.5-11.5 0.5 10.5 1-21 0.5 7.5 0.5 3.5 0.5-13.5 0.5 17 1 0.5 0.5-8.5 0.5 21.5 0.5-0.5 0.5-8 1-2 0.5-3.5 0.5-2 0.5-2.5 0.5 11.5 1-12.5 0.5 6 0.5 0.5 0.5 5.5 0.5-7.5 1 11 0.5-17 0.5 12.5 0.5-7 0.5 6.5 1 7.5 0.5-12 0.5 5 0.5-1 0.5 0.5 1 9 0.5-3.5 0.5-8.5 0.5 7.5 0.5-7.5 1 7 0.5-4.5 0.5 10.5 0.5 0 0.5-8 1 9.5 0.5-10 0.5 7.5 0.5-3 0.5 18.5 1-10 0.5-3 0.5-4 0.5-1 0.5 9 1-14 0.5 9.5 0.5-4 0.5-2 0.5 1 1-1 0.5 9 0.5-16 0.5 21 0.5 3 1-9.5 0.5 2 0.5-14.5 0.5 13 0.5 1.5 1 2.5 0.5-6.5 0.5 4 0.5-0.5 0.5 3.5 1-3.5 0.5 4 0.5 1 0.5-16.5 0.5 8.5 1 2.5 0.5 0 0.5 3.5 0.5-0.5 0.5 0.5 1-1 0.5-0.5 0.5 3 0.5-3.5 0.5-2.5 1 11 0.5-7 0.5 20 0.5-25 0.5 3 1-4 0.5 10 0.5-6 0.5-1.5 0.5 6.5 1 2 0.5-1.5 0.5-3.5 0.5 5 0.5 8.5 1-7 0.5-9.5 0.5 1.5 0.5-1 0.5 12 1-5.5 0.5-13 0.5 16 0.5-2 0.5 10 1-6.5 0.5 6.5 0.5-7 0.5-14.5 0.5 4 1 12.5 0.5-8 0.5 3 0.5 5 0.5-23 1 13 0.5 16 0.5-17 0.5 9 0.5 7.5 1 3.5 0.5-12 0.5 1 0.5 0 0.5 7 1-5 0.5-15.5 0.5 15.5 0.5 4.5 0.5-19 1 11 0.5 8 0.5-1.5 0.5-2 0.5 12.5 1-24 0.5 6 0.5 8 0.5-2.5 0.5 4.5 1-4.5 0.5 4 0.5-7 0.5 11 0.5 0 1-18 0.5 16 0.5-7.5 0.5 4.5 0.5 3 1 0.5 0.5-4.5 0.5 2 0.5-2.5 0.5-2 1 1 0.5-9 0.5 19 0.5-16.5 0.5 4.5 1 2 0.5 4.5 0.5-9 0.5 16.5 0.5-9.5 1-7 0.5 3 0.5 3.5 0.5-4 0.5 5.5 1 12 0.5-11 0.5-5 0.5-7 0.5 6.5 1 2 0.5 1.5 0.5 12.5 0.5-10.5 0.5-11.5 1 15 0.5-5 0.5 2.5 0.5 0 0.5-9.5 1 12.5 0.5 6.5 0.5-12.5 0.5 3.5 0.5-8.5 1 5.5 0.5-2.5 0.5-1.5 0.5 16.5 0.5-9.5 1 0 0.5-1 0.5-4 0.5-8.5 0.5 17 1-12 0.5-0.5 0.5 0.5 0.5 4.5 0.5 7.5 1-3.5 0.5-5 0.5 10.5 0.5-5.5 0.5 3.5 1-6 0.5-0.5 0.5-1 0.5 5 0.5-5 1 11 0.5-11 0.5-3.5 0.5 7 0.5 3 1 6 0.5 3 0.5-16 0.5 7.5 0.5-1 1-3.5 0.5-2 0.5 8.5 0.5-13.5 0.5 12.5 1-5 0.5-3.5 0.5 11 0.5-6.5 0.5 5 1-10 0.5 5.5 0.5 4 0.5 1.5 0.5-3 1-4.5 0.5 6.5 0.5 1.5 0.5 3.5 0.5-14.5 1 16.5 0.5-15 0.5-6 0.5 17 0.5-18 1 18 0.5-12.5 0.5 4 0.5 3 0.5 0 1-3.5 0.5 5 0.5 0.5 0.5-1.5 0.5 4 1-1.5 0.5-6.5 0.5 3 0.5 4.5 0.5-4.5 1 6.5 0.5-3 0.5 6 0.5-17 0.5 8.5 1 17.5 0.5-22 0.5 4 0.5-2 0.5-0.5 1 3.5 0.5 3 0.5-5 0.5 4 0.5-1.5 1 3.5 0.5-8 0.5 2 0.5 10.5 0.5-6 1 15 0.5-12 0.5-5.5 0.5-8 0.5 7 1-5.5 0.5 8.5 0.5 7.5 0.5-10.5 0.5 2.5 1 1 0.5-4 0.5 2.5 0.5 3 0.5 9.5 1-0.5 0.5-0.5 0.5-11 0.5 0 0.5-11 1 11.5 0.5 8.5 0.5-5 0.5-1 0.5-17.5 1 24 0.5-2.5 0.5-6.5 0.5-7 0.5-6 1 15.5 0.5-12.5 0.5 6 0.5 9 0.5 4 1-8 0.5 1 0.5 0.5 0.5-1 0.5-2.5 1 0.5 0.5 10.5 0.5-16 0.5 0 0.5 0 1 5 0.5 4 0.5-2 0.5-1.5 0.5 0.5 1 4.5 0.5-12.5 0.5 12 0.5-9.5 0.5 5 1-1.5 0.5 3 0.5-5 0.5 0.5 0.5 10 1-11 0.5 10 0.5-2 0.5-13.5 0.5 4 1 7.5 0.5-4 0.5 2 0.5 5 0.5 0 1-5 0.5-5 0.5 3 0.5 8 0.5-3 1-3 0.5-0.5 0.5 7 0.5-1.5 0.5 1.5 1-13.5 0.5 7.5 0.5 5.5 0.5-9.5 0.5 15.5 1-4 0.5-5.5 0.5-3 0.5 0.5 0.5-0.5 1 1 0.5-3.5 0.5 11.5 0.5-1.5 0.5-3.5 1 8.5 0.5-3 0.5-1.5 0.5-6 0.5 0.5 1 9.5 0.5-13.5 0.5 9.5 0.5-2 0.5-0.5 1 4 0.5-2 0.5-1.5 0.5-6.5 0.5 8.5 1-7.5 0.5 9.5 0.5 1 0.5-7 0.5-1 1 10.5 0.5-16.5 0.5 5 0.5-12 0.5 11 1 3.5 0.5 4 0.5-16 0.5 11.5 0.5 7 1-12 0.5 8 0.5 3.5 0.5-11.5 0.5 8.5 1 5 0.5-6 0.5 0 0.5-0.5 0.5 8 1-4.5 0.5-10 0.5 10.5 0.5-6.5 0.5-6.5 1 3 0.5 14 0.5-6 0.5 6.5 0.5-8.5 1-1.5 0.5-0.5 0.5-2 0.5 7 0.5-7.5 1 2.5 0.5-1 0.5 1 0.5-1.5 0.5-7.5 1 12 0.5-12.5 0.5 5.5 0.5-1 0.5 7 1-1 0.5 3 0.5-12 0.5 6 0.5 13.5 1-14 0.5 15.5 0.5-10.5 0.5 0.5 0.5-13.5 1 18.5 0.5-1.5 0.5-8 0.5 4.5 0.5 3.5 1 4.5 0.5-14.5 0.5 12 0.5-8.5 0.5 14 1-7 0.5 8 0.5-18 0.5 0.5 0.5 8 1 12 0.5-15 0.5-1.5 0.5 7 0.5-9 1 9.5 0.5 4.5 0.5-6 0.5-2.5 0.5-2.5 1 4.5 0.5 4 0.5 2.5 0.5-2.5 0.5-2 1 0 0.5-6 0.5 2 0.5 0 0.5 1 1-0.5 0.5-4.5 0.5 7.5 0.5 3.5 0.5 2.5 1-4 0.5-5 0.5-1 0.5 3 0.5 7 1-0.5 0.5-4.5 0.5 6 0.5-13.5 0.5 11.5 1-14 0.5 12.5 0.5 4 0.5-6.5 0.5-6 1 3.5 0.5 7 0.5-12.5 0.5 8 0.5 17 1-18 0.5 3 0.5 4.5 0.5-2.5 0.5-2 1-3 0.5 0 0.5 11.5 0.5-4 0.5-5 1-5.5 0.5 15.5 0.5-6 0.5-7.5 0.5 3.5 1-4.5 0.5 6 0.5 6.5 0.5-5 0.5-5 1 6 0.5-19 0.5 12.5 0.5 15 0.5-10 1-1 0.5 7 0.5-6.5 0.5-0.5 0.5-4.5 1 2.5 0.5 4 0.5 1.5 0.5-3 0.5-5.5 1 6.5 0.5 5.5 0.5-0.5 0.5-1.5 0.5-6.5 1 6.5 0.5-4.5 0.5-0.5 0.5 4.5 0.5-1.5 1-0.5 0.5 0.5 0.5-2.5 0.5 3.5 0.5-5.5 1-5 0.5 13 0.5-11.5 0.5 2 0.5-7 1 2 0.5 2 0.5 2 0.5-1.5 0.5 3.5 1 4 0.5-11.5 0.5 4 0.5 4 0.5 2.5 1 0 0.5-7 0.5-1 0.5-1 0.5 1 1-5.5 0.5-2 0.5-0.5 0.5-21 0.5 7 1-1.5 0.5-2 0.5-10.5 0.5-14.5 0.5-5 1-19.5 0.5-1.5 0.5-6.5 0.5 3 0.5-11.5 1 4 0.5-1.5 0.5 7.5 0.5 14 0.5 8.5 1 0 0.5 14 0.5 8.5 0.5-2 0.5 23.5 1-2.5 0.5 4 0.5 13 0.5-2.5 0.5 2.5 1 15.5 0.5-9.5 0.5-10 0.5 7 0.5-5.5 1 3.5 0.5 3.5 0.5 3.5 0.5-3 0.5-5.5 1 13.5 0.5-2 0.5-1.5 0.5 8.5 0.5-9.5 1 2.5 0.5 3.5 0.5-3.5 0.5-7 0.5 6.5 1-4.5 0.5 16 0.5-9.5 0.5 3 0.5-0.5 1-7.5 0.5 4.5 0.5-2.5 0.5 6.5 0.5-3.5 1-3.5 0.5 12 0.5-3.5 0.5 5.5 0.5-11 1-2.5 0.5 8 0.5 2.5 0.5-5.5 0.5-5.5 1 5 0.5 1.5 0.5 2.5 0.5-7 0.5-2.5 1-0.5 0.5 16.5 0.5-5 0.5 2.5 0.5-5 1-5 0.5-5 0.5 12.5 0.5-9.5 0.5 2 1 7 0.5-2 0.5-4 0.5 0.5 0.5 4 1-1 0.5 0 0.5 5 0.5-9.5 0.5-3.5 1 9 0.5 0 0.5 8 0.5-10.5 0.5-2.5 1 3 0.5-2 0.5 0 0.5-3.5 0.5 3.5 1-1 0.5 6.5 0.5-9 0.5-5.5 0.5 8 1 10 0.5-5.5 0.5 3 0.5-9 0.5 5 1-12.5 0.5 5 0.5 4.5 0.5 8 0.5 1.5 1-19 0.5 13 0.5-4 0.5 10.5 0.5-3 1-1.5 0.5-5.5 0.5-5.5 0.5 14 0.5-5 1-10.5 0.5 7 0.5 10 0.5-5.5 0.5-5 1 1 0.5 3.5 0.5 5 0.5 0 0.5-4.5 1-1 0.5 2 0.5-2.5 0.5 9.5 0.5-11.5 1 3.5 0.5-9 0.5 8 0.5-2 0.5 1 1-2 0.5-2 0.5 4.5 0.5 0.5 0.5 7 1-12.5 0.5 6 0.5 2.5 0.5 6.5 0.5-9 1 8.5 0.5-15 0.5 1 0.5 7 0.5-4.5 1 2 0.5-8 0.5 10 0.5 6.5 0.5-7 1-9 0.5 12.5 0.5-3 0.5 5 0.5-4.5 1 4 0.5-5 0.5-2 0.5-5 0.5 8.5 1 9 0.5-9 0.5 5 0.5 3.5 0.5-11.5 1 15 0.5-9.5 0.5 6 0.5-10 0.5 3 1-2.5 0.5-2 0.5 5.5 0.5 6.5 0.5-13.5 1 3 0.5 2 0.5 2.5 0.5 4.5 0.5-5.5 1-6.5 0.5 0.5 0.5 5.5 0.5 2.5 0.5-7 1 0.5 0.5 13 0.5-9 0.5 4.5 0.5-5.5 1 2.5 0.5-5 0.5 1.5 0.5 4.5 0.5-16 1 12.5 0.5 0 0.5 2 0.5-2 0.5-5 1 5.5 0.5-1.5 0.5 3 0.5-4.5 0.5 5 1-2 0.5-2 0.5 2 0.5 13.5 0.5-8 1-5 0.5-3.5 0.5 0.5 0.5 5 0.5 1 1 1 0.5-1.5 0.5 0 0.5-3.5 0.5-0.5 1-1.5 0.5-7 0.5 14 0.5-5.5 0.5-3 1 3 0.5 0.5 0.5 1.5 0.5-9 0.5-2 1 11.5 0.5 3 0.5-7 0.5 0 0.5 4 1 3.5 0.5-16.5 0.5 13.5 0.5 1 0.5-0.5 1-9 0.5-1 0.5 12 0.5-3 0.5-2 1 4 0.5 1.5 0.5 0 0.5-7.5 0.5-2 1 13.5 0.5-4.5 0.5-3 0.5 1.5 0.5-3.5 1 3.5 0.5 4.5 0.5-7.5 0.5 6.5 0.5-4 1-4 0.5 1 0.5-1.5 0.5 2 0.5 2.5 1-7 0.5 5 0.5-6 0.5 3.5 0.5 0 1 3 0.5-4 0.5 5.5 0.5-0.5 0.5 3 1-5.5 0.5-4.5 0.5 5.5 0.5 5 0.5-2.5 1-0.5 0.5-4.5 0.5 1.5 0.5 5 0.5-5.5 1 3.5 0.5 3 0.5-8 0.5 17 0.5-14.5 1 3 0.5-4 0.5 2.5 0.5 2.5 0.5-8.5 1 4 0.5-3.5 0.5 5 0.5 4 0.5-3.5 1 3.5 0.5-8 0.5 0.5 0.5 2 0.5 2.5 1-11.5 0.5 2.5 0.5 15 0.5-6 0.5-0.5 1 0 0.5-5 0.5 7.5 0.5-4 0.5 3 1 0 0.5-2.5 0.5 1.5 0.5 0 0.5-3 1-6.5 0.5 8 0.5-0.5 0.5 2 0.5-2 1 1.5 0.5 7.5 0.5-7 0.5-1.5 0.5-3 1 7 0.5-2 0.5-3.5 0.5 4 0.5-7 1 3.5 0.5-12.5 0.5 20.5 0.5-5 0.5-3 1 3 0.5 7 0.5-6.5 0.5 0 0.5-11.5 1 5.5 0.5 2 0.5-1.5 0.5 1.5 0.5 8.5 1-7.5 0.5-3.5 0.5 4 0.5-13.5 0.5 14.5 1 2 0.5-8.5 0.5 5.5 0.5 0 0.5-1.5 1 1.5 0.5 4.5 0.5-2 0.5 5.5 0.5-10 1 2.5 0.5 1.5 0.5-4.5 0.5 2 0.5 4.5 1-3 0.5-0.5 0.5-3.5 0.5 2 0.5 7.5 1-5.5 0.5-2 0.5 4.5 0.5-13.5 0.5 6.5 1 5.5 0.5 1 0.5-8.5 0.5 2.5 0.5-0.5 1 1.5 0.5 8.5 0.5-1.5 0.5-1 0.5 2 1-5.5 0.5 3 0.5-10.5 0.5 6.5 0.5 3.5 1-2 0.5 2.5 0.5-5 0.5-1.5 0.5-6 1 2.5 0.5 9 0.5-3 0.5 3 0.5-7 1 3.5 0.5-2 0.5 7 0.5-7 0.5 4.5 1 5.5 0.5-6 0.5-7 0.5 12 0.5-7 1 1 0.5 2 0.5-10 0.5-2 0.5 4.5 1-3.5 0.5-3.5 0.5-15 0.5 8.5 0.5 1.5 1-10.5 0.5 11.5 0.5-14.5 0.5-13 0.5 2.5 1-12 0.5-4.5 0.5 6.5 0.5-17 0.5-1 1 3 0.5-2.5 0.5 1.5 0.5-1.5 0.5 5 1 5 0.5 2.5 0.5 15.5 0.5 0.5 0.5 5.5 1 4.5 0.5 5.5 0.5 8.5 0.5 3 0.5-3 1 7.5 0.5-8.5 0.5 8 0.5 6.5 0.5-5 1 5.5 0.5-0.5 0.5 2.5 0.5-4 0.5-5 1 7 0.5-0.5 0.5 0 0.5 9.5 0.5-12 1 1.5 0.5 0.5 0.5 10 0.5 6 0.5-2 1-6.5 0.5-12.5 0.5 14 0.5 4 0.5-9 1 2 0.5 0 0.5 3 0.5-5 0.5-1.5 1 1 0.5 0.5 0.5 3 0.5-1.5 0.5 2 1-1 0.5-6.5 0.5 13 0.5-5 0.5 4.5 1-1 0.5-3 0.5-0.5 0.5 0.5 0.5-0.5 1-5 0.5 13 0.5-10.5 0.5 4 0.5 4.5 1-4 0.5 2 0.5-4 0.5 1.5 0.5 6 1-11 0.5 2 0.5-5 0.5 4 0.5 12 1-5.5 0.5-9.5 0.5-1.5 0.5 7 0.5-7.5 1 3.5 0.5 11 0.5-6 0.5-8.5 0.5 6.5 1 11.5 0.5-7 0.5-1.5 0.5 3.5 0.5-7.5 1 5.5 0.5 6 0.5-6.5 0.5 0 0.5-2.5 1 2 0.5 1.5 0.5-6.5 0.5-0.5 0.5 4.5 1 4.5 0.5 3 0.5-6 0.5-1 0.5-7.5 1 8 0.5 1 0.5-4.5 0.5 5 0.5-9.5 1 1.5 0.5 8.5 0.5-11.5 0.5 9 0.5-5 1 3 0.5 6 0.5-6 0.5 0 0.5 13 1-9 0.5-2.5 0.5 3 0.5-12.5 0.5 10.5 1-1.5 0.5-4 0.5-1 0.5 2 0.5 2 1-6 0.5 3.5 0.5 2.5 0.5-7.5 0.5-3.5 1 2.5 0.5 2 0.5 5 0.5-4 0.5-2.5 1-2.5 0.5 3.5 0.5 1.5 0.5-1.5 0.5 2.5 1 1.5 0.5-5 0.5 4 0.5-3 0.5 5 1-2 0.5 3.5 0.5 2 0.5-3 0.5 6 1-3 0.5 3.5 0.5 1.5 0.5-6 0.5 8 1-5.5 0.5-1.5 0.5-0.5 0.5 10 0.5-13.5 1 3.5 0.5 7 0.5-3 0.5 1.5 0.5 1 1-6 0.5 4 0.5-3 0.5-0.5 0.5-10 1 11.5 0.5 1 0.5 6 0.5-8.5 0.5 3.5 1-4 0.5 3 0.5-2 0.5-1.5 0.5 5.5 1 0 0.5 2 0.5-10.5 0.5 4 0.5 8.5 1-11 0.5 5.5 0.5-2.5 0.5 5 0.5 0 1 1.5 0.5-1.5 0.5-1.5 0.5 2.5 0.5 0.5 1 0.5 0.5-2 0.5-8 0.5 2.5 0.5 8.5 1-6.5 0.5 1.5 0.5 1 0.5 3 0.5-5 1 2 0.5-6 0.5-0.5 0.5 10.5 0.5-11.5 1 15.5 0.5-13 0.5 6 0.5-7.5 0.5 10.5 1-8 0.5-1 0.5 5 0.5-6 0.5 7.5 1 0 0.5-1 0.5 1 0.5 0.5 0.5-7.5 1 5.5 0.5-4.5 0.5 3.5 0.5-0.5 0.5-3 1 0.5 0.5 6.5 0.5-2.5 0.5-5.5 0.5 3.5 1 5.5 0.5-5.5 0.5 11 0.5-10 0.5 5 1-7.5 0.5 0 0.5 11.5 0.5-5.5 0.5-9.5 1 11 0.5-7.5 0.5 9.5 0.5-4.5 0.5-6 1 9.5 0.5-6 0.5-1 0.5-2 0.5 7.5 1-4.5 0.5-2.5 0.5-3.5 0.5 8.5 0.5-1 1-2 0.5 3 0.5-1.5 0.5-0.5 0.5-4 1 4 0.5-4.5 0.5 1 0.5 6 0.5 1 1 1 0.5-5 0.5 3.5 0.5-3.5 0.5-0.5 1 4 0.5-6.5 0.5 12 0.5-9 0.5-4.5 1 3 0.5-1 0.5 7.5 0.5-10.5 0.5 1 1 7.5 0.5-5.5 0.5 0 0.5 4 0.5-5 1-1.5 0.5-0.5 0.5 7 0.5 4.5 0.5-4 1-3.5 0.5 2 0.5 2.5 0.5-3 0.5 7.5 1-1 0.5-8 0.5 6 0.5 4.5 0.5-9.5 1-1.5 0.5 2.5 0.5 1.5 0.5 0 0.5-1.5 1-4 0.5 6.5 0.5-1 0.5-3 0.5 5 1-3.5 0.5-4 0.5 1 0.5 8 0.5-4.5 1-0.5 0.5 0.5 0.5-3.5 0.5 8 0.5-1.5 1-4 0.5 7 0.5-7.5 0.5 2.5 0.5 0 1 2 0.5-1.5 0.5 1.5 0.5 2.5 0.5-3 1 2 0.5-2 0.5-6 0.5 10.5 0.5-18.5 1 15.5 0.5-12.5 0.5 3.5 0.5 3.5 0.5 4.5 1-1 0.5 0 0.5 1.5 0.5-4.5 0.5-2.5 1 4 0.5-5 0.5 0.5 0.5 12.5 0.5-3 1-4 0.5 6.5 0.5-5 0.5-11 0.5 9 1-3.5 0.5 8 0.5-8.5 0.5 11.5 0.5-5.5 1-1 0.5-5.5 0.5 5.5 0.5-0.5 0.5 0.5 1-0.5 0.5 5 0.5-8.5 0.5 2.5 0.5-7.5 1 15 0.5-5.5 0.5-1.5 0.5-1 0.5 0 1 6 0.5-9.5 0.5 0 0.5 5.5 0.5-0.5 1-3.5 0.5-9 0.5 11.5 0.5 3.5 0.5-4.5 1 5 0.5-11 0.5 10 0.5 3 0.5 1.5 1-10 0.5 2 0.5 6.5 0.5-4 0.5 0 1-3.5 0.5 4.5 0.5-2 0.5 0 0.5-2.5 1 0.5 0.5 0.5 0.5-5 0.5 1 0.5 8 1-1.5 0.5-8.5 0.5 12 0.5-7.5 0.5 2 1-5.5 0.5 7.5 0.5-4 0.5-0.5 0.5 0.5 1 2.5 0.5 2.5 0.5 0.5 0.5-3 0.5-1.5 1 0.5 0.5-2.5 0.5 2.5 0.5 2.5 0.5 1 1-6 0.5 5 0.5-2 0.5-3.5 0.5 8.5 1-1 0.5-3 0.5-7 0.5 8.5 0.5-7 1 6 0.5 7 0.5-14.5 0.5 6.5 0.5 1.5 1-4 0.5 13 0.5-13 0.5 0.5 0.5-0.5 1 3 0.5-1.5 0.5-2 0.5 3 0.5-2.5 1 0 0.5 0.5 0.5 3 0.5-1.5 0.5 7 1-8 0.5 1.5 0.5-3.5 0.5 5 0.5 4.5 1-9 0.5 10.5 0.5-4 0.5-7.5 0.5 8.5 1 3 0.5-2 0.5 2 0.5-10.5 0.5 0 1 8 0.5-4.5 0.5 5.5 0.5-9.5 0.5 1.5 1 6 0.5-7 0.5 9.5 0.5-6.5 0.5 10.5 1-13 0.5 6.5 0.5-3.5 0.5 0 0.5 0 1-4 0.5 6 0.5-4 0.5 5 0.5-2.5 1-4 0.5 7.5 0.5-3 0.5 5 0.5 2.5 1-6 0.5-6 0.5 10 0.5-4 0.5-3.5 1 0.5 0.5 0 0.5-2 0.5-6.5 0.5 6.5 1 5.5 0.5-5 0.5 6 0.5-3.5 0.5-3 1-0.5 0.5 1.5 0.5 4.5 0.5 0.5 0.5-13 1 9 0.5 2 0.5-3.5 0.5 0.5 0.5 3 1-2 0.5 0 0.5-1 0.5 2.5 0.5 0 1 4 0.5-10.5 0.5-5 0.5 16.5 0.5-11 1 8 0.5-13 0.5 12 0.5 3 0.5-2 1-3 0.5-2.5 0.5 1.5 0.5 0 0.5 2.5 1 0 0.5 5.5 0.5-7.5 0.5 3.5 0.5-1.5 1-4.5 0.5 4.5 0.5 0.5 0.5 6 0.5-9.5 1 5 0.5-3 0.5 7.5 0.5-2 0.5-8 1 1.5 0.5 7 0.5-3 0.5 0 0.5-1 1-0.5 0.5-2.5 0.5 3.5 0.5-4 0.5 4 1 4.5 0.5-8 0.5 7 0.5-5.5 0.5 1.5 1 0.5 0.5-1 0.5-3 0.5 5.5 0.5-2 1-2.5 0.5 2.5 0.5 3 0.5-3.5 0.5-2 1 5 0.5-5 0.5 11.5 0.5-11.5 0.5 7.5 1-1 0.5-7.5 0.5 4.5 0.5-0.5 0.5 1 1-1.5 0.5-2.5 0.5 4 0.5-6 0.5 4 1 4 0.5 0 0.5-3 0.5-2.5 0.5 1.5 1-3 0.5 4 0.5 9 0.5-7.5 0.5-5.5 1-0.5 0.5 9.5 0.5-7.5 0.5 4.5 0.5 4 1-7.5 0.5 2.5 0.5 3.5 0.5-4.5 0.5-0.5 1-4.5 0.5 4.5 0.5-1.5 0.5 0.5 0.5 4.5 1-1.5 0.5-3.5 0.5 2 0.5-2.5 0.5 6.5 1-9 0.5-0.5 0.5 7 0.5-5.5 0.5-1 1-0.5 0.5 1 0.5 0.5 0.5 0.5 0.5-3 1-4.5 0.5 0.5 0.5-4 0.5 5 0.5-0.5 1-8 0.5 5 0.5 0 0.5-5 0.5 9.5 1-5 0.5 2.5 0.5 0.5 0.5-2.5 0.5 3 1-2.5 0.5 6.5 0.5-2.5 0.5 0 0.5 9.5 1-5 0.5-1 0.5-3 0.5 4 0.5 8.5 1-8 0.5 0.5 0.5 15 0.5-11.5 0.5-2 1 3 0.5 5.5 0.5-8.5 0.5 4.5 0.5-5 1 6 0.5-1 0.5-1.5 0.5 5 0.5-1 1 4 0.5 0 0.5-14.5 0.5 5.5 0.5-3 1 9 0.5-5.5 0.5-3.5 0.5 9 0.5-4.5 1 1 0.5-2.5 0.5 6.5 0.5 1.5 0.5-7 1 3.5 0.5 0 0.5 5.5 0.5-5 0.5-2 1 4 0.5-2 0.5 5 0.5 0 0.5-3.5 1-13.5 0.5 10 0.5 3 0.5-2.5 0.5 3 1-5 0.5 6 0.5-3 0.5 2 0.5 1.5 1-11 0.5 5.5 0.5 4.5 0.5-6.5 0.5 6 1-1 0.5-4.5 0.5 0.5 0.5 14 0.5-13 1-4.5 0.5 11 0.5-6.5 0.5 2.5 0.5-2.5 1 3 0.5 0 0.5-4.5 0.5 13.5 0.5-12 1 1.5 0.5 1.5 0.5 1.5 0.5-4.5 0.5 3 1-6.5 0.5 8.5 0.5-8 0.5 2.5 0.5 4 1 1.5 0.5-1 0.5 7 0.5-10.5 0.5 2 1 2 0.5-3.5 0.5 6 0.5-2.5 0.5 0.5 1 0.5 0.5-1.5 0.5 2.5 0.5-8.5 0.5 4 1-0.5 0.5 2 0.5 4.5 0.5-0.5 0.5-2 1-0.5 0.5-2 0.5 3.5 0.5 2.5 0.5-4.5 1-2.5 0.5 10 0.5-15.5 0.5 3 0.5 0 1-3.5 0.5 8.5 0.5-3 0.5 5.5 0.5-3 1-1 0.5 12 0.5-6 0.5-3 0.5-8.5 1 4.5 0.5-4.5 0.5-3.5 0.5 10 0.5 1 1-8 0.5 10 0.5-2 0.5-1.5 0.5 2.5 1 2 0.5-3.5 0.5-10 0.5 12 0.5-7.5 1 0 0.5 1.5 0.5-2.5 0.5 7.5 0.5-8.5 1 8.5 0.5 2.5 0.5-4.5 0.5-2 0.5 0.5 1 6 0.5-6.5 0.5-2 0.5 3.5 0.5 3 1 3 0.5-0.5 0.5-3.5 0.5-5.5 0.5 6 1-1 0.5 5.5 0.5 5 0.5-15 0.5 2 1-1.5 0.5-2.5 0.5 4.5 0.5 2 0.5 7 1-5 0.5-7.5 0.5 2 0.5 5 0.5-13 1 9 0.5 1 0.5 3.5 0.5-1 0.5-1 1-8 0.5 5 0.5 4.5 0.5-1.5 0.5-2.5 1 4.5 0.5-3 0.5-0.5 0.5-0.5 0.5-1 1-1.5 0.5 5 0.5-1 0.5 2.5 0.5-0.5 1 2 0.5-13 0.5 9.5 0.5 0 0.5 0.5 1-3 0.5-2.5 0.5 5 0.5-10 0.5 5 1 4 0.5 1.5 0.5-1.5 0.5-7.5 0.5 5 1 5 0.5-5 0.5 3.5 0.5 0 0.5-6 1 2 0.5 10 0.5-7.5 0.5 2 0.5-1.5 1-1.5 0.5-0.5 0.5 0.5 0.5 2 0.5 0 1 2 0.5-3 0.5 9 0.5-7.5 0.5-5.5 1 1.5 0.5 5 0.5 0 0.5-1 0.5-1.5 1 1 0.5-8.5 0.5 3.5 0.5 1 0.5 4.5 1-3 0.5 6.5 0.5-3 0.5 1.5 0.5 0 1-1.5 0.5-3 0.5 3 0.5-3 0.5-1 1-1 0.5 2 0.5 5 0.5-6 0.5 2 1 3 0.5 0.5 0.5 0 0.5-5.5 0.5 13.5 1-15 0.5 5 0.5-1.5 0.5 1.5 0.5-7 1-0.5 0.5 7.5 0.5-3.5 0.5 5.5 0.5-6.5 1 3.5 0.5-7 0.5 6 0.5 0 0.5 4.5 1-2 0.5 8.5 0.5-11.5 0.5 5.5 0.5-8.5 1 7 0.5 3 0.5-4.5 0.5 4.5 0.5-2.5 1-1.5 0.5-1.5 0.5 0.5 0.5-3 0.5 6 1 0 0.5-2.5 0.5 0 0.5-1 0.5 4 1-1.5 0.5-1.5 0.5-1 0.5 0 0.5 5.5 1-7.5 0.5 1 0.5 2.5 0.5 0.5 0.5-4 1-1 0.5 0.5 0.5 1 0.5-2.5 0.5 3 1 6.5 0.5-0.5 0.5 0.5 0.5-7 0.5-1 1 5.5 0.5 0.5 0.5-5 0.5 5 0.5-1.5 1-3.5 0.5-4 0.5 6 0.5-7 0.5 2.5 1 0 0.5 4 0.5-9.5 0.5 8 0.5-6 1 4 0.5 3 0.5 1.5 0.5-9 0.5 0.5 1-1 0.5 5 0.5-3.5 0.5-6.5 0.5-2 1-0.5 0.5 7.5 0.5-7 0.5 1 0.5 3.5 1-9.5 0.5 2 0.5-7.5 0.5 10.5 0.5 2.5 1-4 0.5 3 0.5 3 0.5-10 0.5 2 1 4.5 0.5 8.5 0.5-7.5 0.5-2 0.5 3.5 1 2 0.5-3.5 0.5 11 0.5-5.5 0.5 11.5 1-4 0.5 1 0.5-4 0.5 1.5 0.5 1.5 1 2.5 0.5-1.5 0.5-3 0.5 7 0.5-0.5 1-3 0.5-1.5 0.5 1 0.5 3.5 0.5-1.5 1 7 0.5-11.5 0.5 3 0.5 10.5 0.5-10.5 1 5.5 0.5-3.5 0.5 2.5 0.5-4 0.5 1.5 1 6.5 0.5 0 0.5-8.5 0.5 2 0.5 5 1-7 0.5 5 0.5-3 0.5-0.5 0.5 3 1-3 0.5-1 0.5 2.5 0.5-5 0.5 1.5 1 3 0.5 1.5 0.5-7.5 0.5 8.5 0.5-1.5 1 5.5 0.5-10.5 0.5 8.5 0.5-2.5 0.5 2.5 1-4 0.5-4.5 0.5 6.5 0.5-6 0.5 9.5 1-5.5 0.5 5 0.5-5 0.5 0 0.5 1 1 2 0.5 1 0.5-4.5 0.5-1 0.5-0.5 1-4 0.5 7 0.5-3.5 0.5 2.5 0.5-2.5 1 4 0.5 0 0.5-2.5 0.5-4 0.5 7 1-6.5 0.5 8.5 0.5-6.5 0.5 5 0.5-2 1-5 0.5-0.5 0.5-7.5 0.5 13.5 0.5-2.5 1-4 0.5-4.5 0.5 8 0.5-5.5 0.5-9.5 1 9 0.5-1.5 0.5 0 0.5 11.5 0.5-12.5 1 0.5 0.5 1.5 0.5-3.5 0.5 2 0.5-0.5 1 0.5 0.5 0.5 0.5 0 0.5 4.5 0.5-9 1 2.5 0.5 2 0.5 7 0.5-3.5 0.5 0.5 1-2.5 0.5 1.5 0.5 0.5 0.5 4 0.5-2.5 1-5.5 0.5 11 0.5-7 0.5 0.5 0.5 2.5 1 2 0.5 8.5 0.5-11.5 0.5-2.5 0.5 4.5 1 2 0.5-3.5 0.5 3 0.5-1 0.5-4.5 1 4.5 0.5 4 0.5 4 0.5-12 0.5 11 1 0.5 0.5-0.5 0.5 0 0.5-1 0.5-9 1 10.5 0.5-1 0.5-3 0.5-1 0.5-2 1 8.5 0.5-12" fill="none" stroke="#00B0F0" stroke-width="5.5" stroke-linejoin="round" stroke-linecap="round" clip-path="url(#clip1)"/>
<path d="M263 2426.5 l0.5-9.5 0.5 2.5 1-8 0.5 7 0.5-2 0.5-17 0.5 21.5 1 16.5 0.5-13.5 0.5-4.5 0.5-15.5 0.5 11 1 3.5 0.5-6 0.5-8.5 0.5 15.5 0.5-0.5 1-7 0.5 23.5 0.5-20.5 0.5-5.5 0.5 20 1-12 0.5 8 0.5-7 0.5-0.5 0.5 9.5 1-19 0.5 15 0.5-2 0.5-11.5 0.5 8 1-18.5 0.5 37.5 0.5-9.5 0.5-4 0.5 19.5 1-31.5 0.5-3.5 0.5-5 0.5 7.5 0.5 18 1-12.5 0.5-3 0.5 9.5 0.5 4 0.5-15.5 1 4 0.5 15.5 0.5-13.5 0.5-4 0.5 27 1-29 0.5 7.5 0.5 1.5 0.5-2 0.5 11 1-15.5 0.5 10.5 0.5-3 0.5-15.5 0.5 14 1-1 0.5-15.5 0.5 25 0.5-12 0.5 6 1 1 0.5 4 0.5 1 0.5-4 0.5 10 1-14 0.5 14.5 0.5-12 0.5-7 0.5-14 1 24 0.5-5.5 0.5 9.5 0.5-19 0.5 14.5 1 10 0.5-19 0.5-2.5 0.5 6 0.5 0.5 1-2 0.5 3.5 0.5 4.5 0.5-4 0.5 13.5 1-24.5 0.5 15.5 0.5-16.5 0.5 37 0.5-32.5 1-6.5 0.5 5.5 0.5 16.5 0.5-5 0.5 3 1 8 0.5-13.5 0.5 13.5 0.5-6 0.5 11.5 1-16 0.5-9 0.5 6 0.5-10.5 0.5 1 1-4 0.5 13 0.5 6 0.5-7 0.5 3 1-3 0.5-0.5 0.5 25 0.5-21 0.5 6 1-2 0.5-28.5 0.5 18 0.5 6 0.5-17 1 26 0.5-2.5 0.5-3 0.5-6.5 0.5-2 1 1 0.5-12.5 0.5 25.5 0.5-13.5 0.5 7.5 1 3 0.5-8.5 0.5-8.5 0.5 10 0.5 19 1-27.5 0.5 29 0.5-24.5 0.5 1 0.5 9.5 1 3 0.5 3 0.5-14 0.5-2.5 0.5-2.5 1 10 0.5 6.5 0.5-2.5 0.5-2.5 0.5 0.5 1-19 0.5 17.5 0.5-12.5 0.5 19.5 0.5-10.5 1 5 0.5-1.5 0.5-17 0.5 23 0.5 2.5 1 0 0.5 1 0.5 11 0.5-18.5 0.5-3 1 13.5 0.5 3.5 0.5-9.5 0.5-4 0.5 5.5 1-20 0.5 29 0.5-19 0.5 15 0.5-12.5 1 15 0.5-0.5 0.5 7 0.5-7 0.5-11.5 1 10.5 0.5-6.5 0.5-3.5 0.5 30.5 0.5-29.5 1-20.5 0.5 31.5 0.5-24 0.5 31.5 0.5-11 1-6.5 0.5 7 0.5 2 0.5 11 0.5-15.5 1 10.5 0.5-9 0.5-0.5 0.5-1 0.5 6.5 1-7 0.5 1.5 0.5 0 0.5 5 0.5 3.5 1-6.5 0.5-0.5 0.5 1 0.5 6.5 0.5-5 1 6.5 0.5 5 0.5 3 0.5-9 0.5 13.5 1-9 0.5 3 0.5-15 0.5-3 0.5 20.5 1-10.5 0.5-6 0.5 21.5 0.5-3.5 0.5-2 1-6 0.5 9.5 0.5-4.5 0.5-15.5 0.5 21.5 1-7.5 0.5-2 0.5 11.5 0.5-14.5 0.5 3.5 1 1 0.5 3.5 0.5-13 0.5 8 0.5 8.5 1-6.5 0.5 7 0.5-3.5 0.5-3.5 0.5-2.5 1 3 0.5 17.5 0.5-7.5 0.5-10.5 0.5-6 1 11.5 0.5 19.5 0.5-18.5 0.5-14 0.5 17.5 1 3 0.5-2.5 0.5-3.5 0.5-6 0.5 15 1-13.5 0.5 2.5 0.5 7.5 0.5 0 0.5-3 1 6.5 0.5 9 0.5-13 0.5-13 0.5 12 1-7 0.5 9 0.5 7 0.5-19.5 0.5-0.5 1 29.5 0.5-32.5 0.5 9.5 0.5 11 0.5-24 1 20 0.5-5.5 0.5 20.5 0.5-19.5 0.5 3 1-1.5 0.5-8 0.5 6.5 0.5 7 0.5-10.5 1 14 0.5 10 0.5 4.5 0.5-19 0.5-7.5 1-8 0.5 6 0.5 16 0.5 4.5 0.5-15 1 11.5 0.5-7.5 0.5 8 0.5 5.5 0.5-24 1 23 0.5-8.5 0.5-8.5 0.5 13 0.5-1.5 1-11.5 0.5 8.5 0.5 8 0.5-17 0.5 13.5 1 8 0.5-19 0.5 7 0.5-12.5 0.5 17.5 1-11.5 0.5 8 0.5 4.5 0.5-2.5 0.5 2 1-3 0.5-8.5 0.5-9 0.5 18 0.5-5 1-0.5 0.5 6.5 0.5-6.5 0.5 11 0.5-15.5 1 9.5 0.5-3 0.5 3 0.5-5.5 0.5 10.5 1-20.5 0.5 4.5 0.5 12.5 0.5-23.5 0.5 14.5 1-0.5 0.5 18.5 0.5-11.5 0.5 21 0.5-39 1 18 0.5 0.5 0.5 12.5 0.5 6.5 0.5-16 1-28 0.5 30.5 0.5-8.5 0.5 2 0.5 1 1 11 0.5-19 0.5 11.5 0.5-3 0.5-1.5 1-8.5 0.5 7.5 0.5-6.5 0.5 1 0.5 5.5 1 10.5 0.5-4 0.5-2 0.5-1.5 0.5-5 1 13 0.5-31.5 0.5 18 0.5 2.5 0.5-10 1 3 0.5 11 0.5-14.5 0.5 0.5 0.5-3.5 1-9.5 0.5 5.5 0.5 4 0.5-11 0.5-0.5 1-14.5 0.5-15 0.5-3 0.5-16.5 0.5 1 1-19 0.5-9 0.5-11.5 0.5-14.5 0.5-15 1-11 0.5 22 0.5-1 0.5 0 0.5 23.5 1 10 0.5 19.5 0.5 4.5 0.5-3.5 0.5 15 1 7.5 0.5 22.5 0.5 2 0.5-4 0.5 19 1 9.5 0.5 7 0.5-6.5 0.5 18.5 0.5-18 1-1 0.5-6.5 0.5 8.5 0.5-10.5 0.5 26.5 1-11 0.5-1 0.5 3.5 0.5-3.5 0.5 12.5 1 5.5 0.5-10.5 0.5 1.5 0.5 5 0.5-11 1 14 0.5-8 0.5 3.5 0.5-11.5 0.5 16 1-9 0.5-18.5 0.5 22 0.5-20 0.5 21 1-27.5 0.5 30.5 0.5 3 0.5-13.5 0.5 4.5 1 4.5 0.5-4 0.5 4 0.5-5 0.5-13.5 1 19.5 0.5-0.5 0.5 3 0.5-11.5 0.5 7 1 3 0.5-13 0.5 7.5 0.5 0 0.5 17 1-18.5 0.5 10.5 0.5 0.5 0.5-9 0.5-2 1 6.5 0.5 1.5 0.5 4 0.5 4.5 0.5-23 1 20 0.5-4.5 0.5 8.5 0.5-7 0.5-2 1 7 0.5-2 0.5-5 0.5 5.5 0.5-8.5 1 8.5 0.5 3 0.5-11.5 0.5-6 0.5 32 1-19.5 0.5 5 0.5-25 0.5 34.5 0.5-17.5 1 2.5 0.5 14.5 0.5-3 0.5-9.5 0.5 10.5 1-2.5 0.5 3 0.5-3 0.5-3 0.5 8.5 1-10 0.5 18.5 0.5-23.5 0.5 14 0.5-1.5 1 11 0.5-8.5 0.5 7 0.5 0.5 0.5-21.5 1 13.5 0.5 0 0.5-15 0.5 15.5 0.5 3.5 1 4.5 0.5-3 0.5-7 0.5-16 0.5 29.5 1-11 0.5 7 0.5-6.5 0.5 4 0.5 2.5 1 4.5 0.5-6 0.5-3 0.5 5 0.5 12.5 1-11 0.5-2 0.5 14 0.5-10.5 0.5-15.5 1 3 0.5 19 0.5-5.5 0.5-14.5 0.5 13 1-2.5 0.5 10 0.5-3.5 0.5-7 0.5-3.5 1 9.5 0.5 2 0.5 0 0.5-3.5 0.5 3 1 2.5 0.5-20.5 0.5 17.5 0.5 8 0.5-0.5 1-1.5 0.5-22 0.5 9.5 0.5 3 0.5-1 1 5 0.5 1 0.5 19 0.5-20.5 0.5 7 1 3 0.5-24 0.5 23 0.5-4.5 0.5 19.5 1-28.5 0.5 11.5 0.5-6 0.5 10 0.5-14 1 11 0.5-10.5 0.5-7.5 0.5 2.5 0.5-8 1 19.5 0.5-9 0.5 1.5 0.5-1 0.5 3 1 7.5 0.5-11.5 0.5-2 0.5 3.5 0.5 2 1-1 0.5 5 0.5-7.5 0.5-6.5 0.5 22.5 1-18 0.5-2.5 0.5 4.5 0.5-13 0.5-1 1 10.5 0.5 2.5 0.5-26 0.5 7.5 0.5-9 1-4.5 0.5 6 0.5-6.5 0.5-23.5 0.5 1.5 1-13.5 0.5 2 0.5-17.5 0.5-3 0.5-9 1-21 0.5 7 0.5-31.5 0.5 28.5 0.5-11 1 7 0.5 11.5 0.5 8.5 0.5 16.5 0.5 16 1-6.5 0.5 2.5 0.5 19.5 0.5 14 0.5-4 1 12.5 0.5 1 0.5 9.5 0.5-4 0.5 0 1 15.5 0.5-3.5 0.5 15 0.5-21 0.5 15 1-5.5 0.5-5 0.5 5.5 0.5 4.5 0.5-6.5 1-4.5 0.5 18 0.5-25.5 0.5 21.5 0.5-1 1-14 0.5 1.5 0.5 18.5 0.5-4 0.5 8 1-14.5 0.5-16.5 0.5 10.5 0.5 4.5 0.5-14.5 1 0.5 0.5-27.5 0.5 21 0.5-3.5 0.5-10.5 1 0.5 0.5-9.5 0.5 2 0.5-18.5 0.5 9.5 1-4 0.5 4 0.5 1 0.5-1 0.5-3 1 15.5 0.5 18 0.5-14.5 0.5 9.5 0.5 6 1 7.5 0.5 20 0.5-11.5 0.5 14.5 0.5-11.5 1 8.5 0.5 13.5 0.5-13.5 0.5 15.5 0.5-1 1 3 0.5 2 0.5-3 0.5 7 0.5-9.5 1 16.5 0.5-5 0.5 2 0.5 10 0.5-24 1 23.5 0.5-8 0.5-9.5 0.5 8 0.5 7 1-3 0.5 10 0.5-12.5 0.5-6.5 0.5 4.5 1 8 0.5-2.5 0.5 10.5 0.5-5 0.5 0 1-5 0.5-2.5 0.5 10 0.5-1 0.5 1.5 1 17 0.5-15.5 0.5-12 0.5 1 0.5-14.5 1 25 0.5-4 0.5-1.5 0.5 12.5 0.5-16.5 1 3.5 0.5 13 0.5-4.5 0.5-22 0.5 8.5 1 12.5 0.5 5 0.5-4.5 0.5-2 0.5-5.5 1 5.5 0.5-11.5 0.5 10 0.5 3.5 0.5 7 1-4.5 0.5 0.5 0.5 1 0.5-4.5 0.5 4 1-2.5 0.5 2 0.5 13.5 0.5-2 0.5-8.5 1 1 0.5-2 0.5 5.5 0.5-2.5 0.5 4.5 1-4.5 0.5-9 0.5 20.5 0.5-6 0.5-1.5 1 0 0.5 1.5 0.5-13.5 0.5 8.5 0.5 8.5 1-5 0.5 0.5 0.5 12 0.5-13 0.5-1 1 2.5 0.5 1 0.5-4 0.5 9 0.5 1 1 0 0.5-2 0.5-5.5 0.5 6 0.5-6 1-1.5 0.5 6.5 0.5 4 0.5-1 0.5 2 1 7 0.5-9.5 0.5-3 0.5 1 0.5 6.5 1 5 0.5-17.5 0.5 7 0.5 1.5 0.5 3 1-16.5 0.5 23 0.5-14 0.5-5.5 0.5 5.5 1 9.5 0.5 2.5 0.5-14.5 0.5 15 0.5-8 1 17.5 0.5-13.5 0.5-10 0.5 11 0.5 4.5 1-3.5 0.5-8 0.5 8 0.5 2.5 0.5-8.5 1-11 0.5 22.5 0.5-13 0.5 9.5 0.5-8 1-5 0.5 15.5 0.5-4 0.5-3 0.5 1 1-1 0.5 8.5 0.5-18.5 0.5 19 0.5-4.5 1 4.5 0.5-15.5 0.5 17.5 0.5-20 0.5 7.5 1 7.5 0.5-7 0.5 6.5 0.5-10 0.5-9.5 1 13.5 0.5 1.5 0.5-7 0.5 5.5 0.5 24 1-18 0.5 12.5 0.5-14.5 0.5-5.5 0.5 5.5 1 14.5 0.5-9.5 0.5-10.5 0.5 8.5 0.5 4.5 1-9 0.5 15.5 0.5-14 0.5 0.5 0.5 7.5 1-12.5 0.5-2 0.5 11.5 0.5-2 0.5-5 1 4.5 0.5-0.5 0.5 1.5 0.5 4.5 0.5-11 1-2 0.5-9 0.5 22.5 0.5-7 0.5-5.5 1 4.5 0.5-7.5 0.5 12 0.5-7 0.5 3.5 1-5.5 0.5 3 0.5 10 0.5-13 0.5 3.5 1 0.5 0.5 7 0.5-13 0.5 12.5 0.5-4.5 1-1 0.5 2.5 0.5 1 0.5-6.5 0.5-4.5 1 19.5 0.5-14.5 0.5 3.5 0.5-4 0.5 2 1 4 0.5 6.5 0.5-16 0.5 8.5 0.5 9 1-8.5 0.5 2 0.5 4.5 0.5 2.5 0.5-6 1 6 0.5 0.5 0.5-16.5 0.5 14 0.5-0.5 1-5 0.5 8 0.5-6 0.5-13.5 0.5 8.5 1-4 0.5 4.5 0.5 1 0.5 7 0.5-10 1 2 0.5-5.5 0.5 6 0.5-2 0.5 8 1-7 0.5 8 0.5 6 0.5-3 0.5-22 1 13.5 0.5-3 0.5 6.5 0.5 2.5 0.5 0.5 1 12 0.5-13 0.5-5.5 0.5-6 0.5 7.5 1-4.5 0.5 5 0.5-10.5 0.5 13.5 0.5-2.5 1-7 0.5 4.5 0.5 4 0.5-11 0.5 10.5 1-23.5 0.5 29.5 0.5-9 0.5 7.5 0.5-10.5 1 11.5 0.5-4 0.5-9.5 0.5 7.5 0.5-7.5 1 15.5 0.5-12 0.5 12 0.5-12.5 0.5-8 1 15 0.5 8 0.5-15.5 0.5 7 0.5-7.5 1 8.5 0.5 7 0.5-8 0.5-10.5 0.5 4.5 1 4 0.5 1.5 0.5-5.5 0.5-0.5 0.5-3 1 5.5 0.5 2 0.5-9.5 0.5-1.5 0.5 10 1 22.5 0.5-19.5 0.5-10 0.5-10.5 0.5 24 1-4.5 0.5 1.5 0.5-8 0.5 4 0.5 5 1-7.5 0.5-1 0.5 2.5 0.5-7 0.5 9.5 1 1 0.5 3 0.5-12.5 0.5 10.5 0.5-5.5 1 5 0.5 13 0.5-7.5 0.5-8 0.5-0.5 1 8.5 0.5-9 0.5-5.5 0.5 7.5 0.5-2.5 1 4.5 0.5 3.5 0.5 3 0.5-5 0.5-9 1 14 0.5-6 0.5 0.5 0.5 8.5 0.5-19.5 1 4 0.5-3 0.5 6.5 0.5-14.5 0.5 5.5 1 19 0.5-24.5 0.5 3.5 0.5 6 0.5-3.5 1 6 0.5-3 0.5-5.5 0.5 0 0.5 6.5 1-9.5 0.5 3.5 0.5 13.5 0.5-1.5 0.5-6 1-5.5 0.5 2.5 0.5-10 0.5 6.5 0.5-2 1 2 0.5-2 0.5-8.5 0.5-9 0.5 16.5 1 6 0.5-4 0.5 9 0.5-3 0.5-0.5 1-8.5 0.5 6 0.5-1 0.5 8 0.5-8 1 1.5 0.5-0.5 0.5 7 0.5 15 0.5-5.5 1-16.5 0.5-4 0.5 6.5 0.5-8 0.5 5.5 1-0.5 0.5 10 0.5-3.5 0.5 5.5 0.5-2.5 1-5 0.5-2.5 0.5 9.5 0.5-0.5 0.5-7 1 4 0.5 7 0.5-7 0.5 3.5 0.5-2 1 0.5 0.5-1 0.5 7 0.5 7.5 0.5-10 1-4.5 0.5 11.5 0.5-6.5 0.5-18 0.5 23.5 1-1 0.5-5.5 0.5 15.5 0.5-13.5 0.5 2.5 1 1 0.5-11.5 0.5 0.5 0.5 4.5 0.5 5 1-2.5 0.5-2 0.5-7.5 0.5 17.5 0.5-8 1 11.5 0.5-8.5 0.5 6 0.5-8.5 0.5-1.5 1 1.5 0.5-4 0.5 7.5 0.5-11 0.5 7 1 0 0.5-6 0.5 8 0.5 2.5 0.5-3.5 1-2 0.5-2 0.5 1 0.5-8.5 0.5 23.5 1-16.5 0.5-0.5 0.5 2 0.5 7 0.5-7 1 1 0.5 8.5 0.5-9 0.5-2.5 0.5 3.5 1 5.5 0.5-5.5 0.5-0.5 0.5 8 0.5-1.5 1 5.5 0.5-8.5 0.5 5 0.5-8.5 0.5 1 1 6 0.5-4.5 0.5-1.5 0.5-5 0.5-0.5 1 3.5 0.5 10.5 0.5-17 0.5 12.5 0.5 11 1-2 0.5-17.5 0.5 3 0.5 8.5 0.5-1 1-17.5 0.5 23.5 0.5-6.5 0.5-5.5 0.5 10 1-3 0.5-10.5 0.5 7.5 0.5-4.5 0.5 14 1-13 0.5 0 0.5 12 0.5-5 0.5-2.5 1 10 0.5-16.5 0.5 15.5 0.5-9 0.5-5.5 1 4 0.5-5.5 0.5 13.5 0.5-1.5 0.5-10 1 5.5 0.5 1 0.5-3.5 0.5-1.5 0.5 0 1 9 0.5-9 0.5-1.5 0.5-6.5 0.5 6.5 1-4 0.5 5 0.5-5 0.5 3.5 0.5-6.5 1 11 0.5 12 0.5-7 0.5-1.5 0.5-1.5 1 3 0.5-15 0.5 21.5 0.5-5.5 0.5 1 1-14 0.5 6 0.5 1 0.5 4.5 0.5 3 1-3 0.5-4.5 0.5 3.5 0.5-15.5 0.5 10 1 14.5 0.5 0.5 0.5 0 0.5-7.5 0.5 3.5 1-4 0.5 8 0.5-3.5 0.5-1.5 0.5-4.5 1 5 0.5-15 0.5 3.5 0.5 4.5 0.5 6 1 2.5 0.5-5.5 0.5-4 0.5 2 0.5 5 1 8 0.5-11.5 0.5 7.5 0.5-5 0.5-11.5 1 14 0.5-2.5 0.5-15.5 0.5 12 0.5-1.5 1 5 0.5-3 0.5-2 0.5 2 0.5-5 1 11 0.5-9.5 0.5 0 0.5 16 0.5-18 1 1.5 0.5 5 0.5 1 0.5 8 0.5-10 1 9 0.5-12 0.5 8 0.5-8 0.5 1 1 10.5 0.5-3.5 0.5-1.5 0.5-6 0.5 0 1 5 0.5-5.5 0.5 3 0.5-4.5 0.5 2.5 1 0.5 0.5 9.5 0.5 2.5 0.5-14 0.5-14.5 1 14.5 0.5-7 0.5 9 0.5 3 0.5 7 1-12.5 0.5-8 0.5 1.5 0.5-7 0.5-6.5 1-9.5 0.5 4.5 0.5 9 0.5-24 0.5 13.5 1 7.5 0.5-13.5 0.5-8 0.5-1.5 0.5 0.5 1 0.5 0.5-0.5 0.5-2 0.5 0.5 0.5 17 1-6.5 0.5-0.5 0.5-7.5 0.5 22 0.5 9.5 1-10 0.5-3 0.5 19.5 0.5-6.5 0.5-5.5 1-2.5 0.5 21.5 0.5 3.5 0.5-7.5 0.5 5.5 1-8 0.5-2 0.5 1 0.5 9 0.5 3 1-8 0.5 1.5 0.5 11 0.5-14.5 0.5 13 1-3 0.5-11 0.5 11.5 0.5-11.5 0.5-0.5 1 15 0.5-3.5 0.5-1 0.5-2 0.5 0.5 1 2 0.5 13.5 0.5-2 0.5-13 0.5 1.5 1-2 0.5 0 0.5-5 0.5 12 0.5-3 1-1 0.5 3.5 0.5 4.5 0.5-7 0.5 1.5 1-1.5 0.5 3 0.5-12 0.5 1.5 0.5 10 1 11 0.5-9 0.5-11.5 0.5 13 0.5-12.5 1 6 0.5-2.5 0.5 13 0.5-0.5 0.5-9.5 1-5 0.5 17.5 0.5-18.5 0.5-9.5 0.5 18.5 1 8 0.5-7 0.5 2 0.5-7.5 0.5 6 1-6 0.5 3.5 0.5-4.5 0.5 7 0.5 13.5 1-6.5 0.5-8.5 0.5-4.5 0.5 2 0.5 2.5 1 1 0.5-2.5 0.5 1.5 0.5 0.5 0.5-10 1 9 0.5-10.5 0.5 7.5 0.5 2.5 0.5 2 1-4 0.5 9 0.5-11 0.5 6 0.5 3.5 1-5 0.5-9.5 0.5 5 0.5 8.5 0.5-8 1 0 0.5 11 0.5-6 0.5 6 0.5-11 1 6 0.5-4 0.5 6 0.5 7 0.5-7.5 1 3 0.5-1.5 0.5-2 0.5 3 0.5-9.5 1 3.5 0.5 2.5 0.5 2 0.5 2.5 0.5 0.5 1-11 0.5 3.5 0.5-3.5 0.5 7 0.5 0.5 1-3 0.5 5 0.5 4 0.5-0.5 0.5-7.5 1 6.5 0.5-11.5 0.5-3.5 0.5 10 0.5-1.5 1-6.5 0.5 6.5 0.5 17 0.5-24 0.5 15 1-9 0.5 2.5 0.5 5 0.5-6 0.5-1.5 1 4 0.5 1.5 0.5-13 0.5 3 0.5 3.5 1 0.5 0.5 17 0.5-13.5 0.5-8 0.5-4.5 1 16 0.5-15.5 0.5 12 0.5-3 0.5 1.5 1 5 0.5-6 0.5 1 0.5 9 0.5-7 1-3 0.5 3 0.5-9.5 0.5 1.5 0.5 1.5 1 20 0.5-14 0.5 5.5 0.5-3 0.5-5 1-3.5 0.5 5 0.5 20.5 0.5-16 0.5-1 1 3.5 0.5-0.5 0.5-0.5 0.5-2.5 0.5-10.5 1 8.5 0.5 6.5 0.5-16 0.5 16.5 0.5-7.5 1-10.5 0.5 4.5 0.5 8 0.5-2.5 0.5 3.5 1 3 0.5-3.5 0.5 4.5 0.5 6.5 0.5-9.5 1 17 0.5-22 0.5 4 0.5-1.5 0.5 0 1 5 0.5-7 0.5 9.5 0.5-5.5 0.5 7 1-12 0.5-1 0.5 6 0.5-1.5 0.5 1.5 1-6.5 0.5 2 0.5 3.5 0.5 1 0.5-5.5 1-0.5 0.5 7 0.5 10 0.5-7.5 0.5-6 1-5 0.5 1 0.5 8.5 0.5-11.5 0.5 10 1-10.5 0.5 14.5 0.5-3.5 0.5-11.5 0.5 11 1-3.5 0.5-2 0.5 8 0.5-5 0.5-1 1-9.5 0.5 7.5 0.5-4.5 0.5 13 0.5-6 1 3.5 0.5 10 0.5-2 0.5-10.5 0.5 20 1-15 0.5-7 0.5 13 0.5-17.5 0.5 3.5 1 2 0.5 1 0.5 2.5 0.5-9.5 0.5 0 1 14 0.5-5 0.5 0 0.5-1.5 0.5-18.5 1 19 0.5 14.5 0.5-23 0.5 22 0.5-19.5 1-1.5 0.5 5.5 0.5-0.5 0.5 4 0.5-1.5 1-1 0.5 9 0.5-6 0.5-4 0.5 8.5 1-14.5 0.5 3.5 0.5-4.5 0.5 5.5 0.5 4 1 9 0.5-5.5 0.5 2 0.5-20.5 0.5 25.5 1-4 0.5-7 0.5 7 0.5-7 0.5-0.5 1-2 0.5 8 0.5 1.5 0.5-7.5 0.5 10 1-10.5 0.5-2 0.5-2.5 0.5 11.5 0.5 3.5 1-23.5 0.5 16.5 0.5-2.5 0.5 3.5 0.5-2 1 7.5 0.5-11.5 0.5 14.5 0.5-11.5 0.5 3 1 0.5 0.5 0 0.5 9.5 0.5-25.5 0.5 28.5 1-25.5 0.5 21 0.5-15 0.5 7 0.5 12.5 1-17 0.5 4 0.5-7 0.5 1 0.5-1 1-15.5 0.5 22.5 0.5-1 0.5-3 0.5 8.5 1 8.5 0.5-4 0.5-7.5 0.5-5.5 0.5-7 1 0 0.5 8 0.5-2.5 0.5 2 0.5 1 1-6 0.5 3 0.5 0.5 0.5-3.5 0.5-5 1 4.5 0.5 5 0.5-6.5 0.5 3.5 0.5 10.5 1-6 0.5 1.5 0.5-8 0.5 1.5 0.5-1 1 5 0.5 1.5 0.5 0.5 0.5-8.5 0.5 4 1-5.5 0.5 6.5 0.5 15.5 0.5-6.5 0.5-0.5 1-10.5 0.5 1.5 0.5-6 0.5 12 0.5-6 1 7.5 0.5-10.5 0.5 4 0.5-1 0.5-6.5 1 13 0.5 6 0.5-9 0.5-1.5 0.5-11 1 20 0.5-25 0.5 11 0.5 1 0.5 4 1-0.5 0.5-1.5 0.5 7.5 0.5-7.5 0.5 2 1 0.5 0.5-3.5 0.5-5.5 0.5 7.5 0.5 8.5 1-20 0.5 17 0.5-11 0.5 11.5 0.5-20 1 9 0.5-8.5 0.5 6.5 0.5-1 0.5-0.5 1 5.5 0.5-3 0.5 0.5 0.5 0 0.5-13.5 1-5 0.5 13.5 0.5-16.5 0.5 0 0.5-9 1 3 0.5 2 0.5-18 0.5 4 0.5 2 1 0 0.5 7.5 0.5-9 0.5 10 0.5 6 1-6.5 0.5 13 0.5 1.5 0.5 3.5 0.5 11.5 1-23.5 0.5 22 0.5-9.5 0.5 12.5 0.5 5.5 1-9 0.5 14 0.5-5 0.5-1.5 0.5-8 1 16.5 0.5-17.5 0.5 7 0.5-5 0.5 0 1 10.5 0.5-8 0.5 12 0.5-6.5 0.5-0.5 1 2.5 0.5-2 0.5-4.5 0.5-3 0.5 10 1 6.5 0.5-15 0.5 4.5 0.5 7.5 0.5-0.5 1-4.5 0.5-1 0.5 3.5 0.5-11 0.5 3 1 4 0.5 7 0.5-16 0.5 3 0.5 12.5 1-6 0.5 4.5 0.5-7 0.5 2.5 0.5-4.5 1 1.5 0.5-10 0.5 10.5 0.5 6 0.5 6 1-4 0.5-11 0.5-9.5 0.5 4 0.5 4 1 9 0.5 4.5 0.5-20.5 0.5 14 0.5 1 1-14.5 0.5 18.5 0.5 4 0.5-7.5 0.5 7 1-3 0.5-2 0.5-3.5 0.5 7 0.5 4 1-8.5 0.5 1.5 0.5 0.5 0.5-13.5 0.5 17 1-5 0.5-9.5 0.5 8 0.5-2 0.5-3 1 6.5 0.5-7 0.5 4.5 0.5-3.5 0.5 3.5 1 2 0.5-2.5 0.5-8.5 0.5 10.5 0.5-4 1 8 0.5-8 0.5 4 0.5 3 0.5-0.5 1-5.5 0.5 1.5 0.5-3.5 0.5 10.5 0.5-9.5 1 22 0.5-16 0.5-1 0.5 2 0.5-5.5 1 3 0.5 0 0.5 9.5 0.5-15.5 0.5 3.5 1 4 0.5-5.5 0.5-3.5 0.5-4.5 0.5 17.5 1-3.5 0.5 5.5 0.5-19 0.5 12.5 0.5-0.5 1 0 0.5 1 0.5-8.5 0.5 15 0.5-3 1-2 0.5-2 0.5 2 0.5-3.5 0.5 3 1-1 0.5 1.5 0.5 3.5 0.5-11 0.5 2.5 1-4.5 0.5 1 0.5 1 0.5 15 0.5-6.5 1 1 0.5-4.5 0.5 6.5 0.5-10.5 0.5 3 1-3 0.5 5.5 0.5 0 0.5-8 0.5 11.5 1-20.5 0.5 10.5 0.5 1.5 0.5-7.5 0.5 9 1-5 0.5 5.5 0.5 7.5 0.5-12.5 0.5 11 1-3.5 0.5 15 0.5-27.5 0.5-2 0.5 9 1 9 0.5-12.5 0.5-0.5 0.5 16.5 0.5-8 1-1.5 0.5 17.5 0.5-14 0.5-8 0.5 3.5 1 6 0.5-5.5 0.5-13.5 0.5 14 0.5 3 1-4.5 0.5-4.5 0.5 4.5 0.5 4.5 0.5-4.5 1 15 0.5-27.5 0.5 19.5 0.5-3 0.5 4.5 1-0.5 0.5-9.5 0.5-2.5 0.5 9 0.5-2 1-5.5 0.5 7 0.5-1.5 0.5 7 0.5-14.5 1 8 0.5 3 0.5-16.5 0.5 22.5 0.5-4 1 5 0.5-5.5 0.5-11.5 0.5 4 0.5 3.5 1-3 0.5 8 0.5-1 0.5-5 0.5-0.5 1 9.5 0.5-13.5 0.5 10.5 0.5-8 0.5-6.5 1 18.5 0.5-11 0.5 0 0.5 12 0.5-11 1-0.5 0.5-11 0.5 13 0.5-2 0.5-1 1 3 0.5-1.5 0.5 3 0.5 14.5 0.5-24.5 1 8.5 0.5 2.5 0.5-4.5 0.5 2 0.5-1.5 1 1 0.5 1.5 0.5 1 0.5 3 0.5-5 1 2 0.5-1.5 0.5-0.5 0.5-5.5 0.5 7 1-2 0.5 0 0.5-15 0.5 12.5 0.5-5 1 8 0.5-5 0.5 5.5 0.5-5.5 0.5-2 1 1 0.5 15 0.5-10 0.5 7.5 0.5-10 1-2 0.5 2 0.5-1 0.5-7.5 0.5 6.5 1 10.5 0.5-5.5 0.5-0.5 0.5-3 0.5 7.5 1-21.5 0.5 21 0.5-9 0.5 14.5 0.5-11.5 1 3 0.5 4 0.5-3.5 0.5-10 0.5 18 1-14 0.5 15.5 0.5-9.5 0.5-1.5 0.5 8.5 1-8 0.5 4.5 0.5-6.5 0.5-8 0.5 18 1-4.5 0.5 5.5 0.5-9 0.5-0.5 0.5-3 1 6.5 0.5-4 0.5 4.5 0.5-4.5 0.5-2 1 2 0.5 6 0.5-7.5 0.5 5 0.5-2 1-2.5 0.5-1 0.5 0.5 0.5 5 0.5-3.5 1-1 0.5 12 0.5-8.5 0.5 7.5 0.5-13.5 1 5 0.5 9 0.5-20.5 0.5 6.5 0.5-1.5 1 13.5 0.5-4.5 0.5 4.5 0.5-12.5 0.5 5.5 1 9.5 0.5-13.5 0.5 12.5 0.5-3 0.5-9 1 8.5 0.5 12.5 0.5-20 0.5 8.5 0.5-4.5 1 2 0.5-3 0.5 8 0.5-0.5 0.5-18.5 1 15 0.5-4 0.5-5 0.5 3 0.5 1 1 1 0.5-2.5 0.5 1 0.5 0.5 0.5-2.5 1 9 0.5-12.5 0.5 16.5 0.5-7 0.5-5 1 5.5 0.5-3.5 0.5 8.5 0.5-11 0.5-0.5 1 9 0.5-2 0.5-2 0.5 12 0.5-13 1-2.5 0.5 3.5 0.5 9 0.5-18.5 0.5 12 1 4 0.5-2.5 0.5-10.5 0.5 3.5 0.5 4.5 1-6.5 0.5 7 0.5 10.5 0.5 0 0.5 0 1-10 0.5-3 0.5-1 0.5 9.5 0.5 0.5 1-7 0.5 2.5 0.5-8.5 0.5-1.5 0.5 4.5 1-1 0.5 6 0.5-11 0.5 13.5 0.5-7 1 8 0.5-1.5 0.5-0.5 0.5-11 0.5 16 1-3 0.5-15.5 0.5 1.5 0.5 13.5 0.5-1.5 1-1 0.5 2.5 0.5-11 0.5 6.5 0.5-0.5 1 1 0.5 7 0.5-2 0.5-4.5 0.5 16.5 1-8.5 0.5 1 0.5-9 0.5 1.5 0.5-5.5 1-1 0.5 16.5 0.5-3.5 0.5-1.5 0.5-2.5 1-9.5 0.5 10 0.5-6.5 0.5 10 0.5 2 1-6 0.5-1 0.5-2 0.5-6 0.5 12.5 1 0 0.5-1.5 0.5-4 0.5 4 0.5-6.5 1 2.5 0.5 0 0.5 1 0.5 0 0.5 3 1-6 0.5 13 0.5-13 0.5-1 0.5 8.5 1 2.5 0.5-8 0.5-4 0.5 6 0.5-2 1-3.5 0.5 11 0.5 1 0.5-1.5 0.5 0.5 1 3 0.5-11 0.5 3 0.5-6.5 0.5 5.5 1 4.5 0.5-14.5 0.5 15 0.5-11.5 0.5 7 1-4.5 0.5-6.5 0.5 18 0.5-13.5 0.5-7 1 16 0.5-5.5 0.5-1.5 0.5 1 0.5 4.5 1-3 0.5 1 0.5-1.5 0.5 4 0.5-5.5 1 6 0.5-1 0.5 7 0.5-7 0.5 4 1-6 0.5-2.5 0.5-4.5 0.5 3.5 0.5 10.5 1-1.5 0.5 4 0.5-4.5 0.5-2 0.5-7.5 1 2 0.5 9 0.5-3 0.5-8.5 0.5 18 1-7.5 0.5-6.5 0.5 9.5 0.5-13 0.5 5.5 1 0.5 0.5-11 0.5 9.5 0.5-4 0.5 8 1 2.5 0.5-12.5 0.5 5 0.5-1 0.5-2 1 9.5 0.5-5.5 0.5 5 0.5-5.5 0.5 7.5 1-5.5 0.5 12 0.5-18.5 0.5 6.5 0.5-3 1-0.5 0.5-2.5 0.5-0.5 0.5 6 0.5-1 1 5.5 0.5-6.5 0.5-1.5 0.5-3 0.5 9 1-1.5 0.5 6 0.5-2 0.5-15 0.5 11.5 1-6.5 0.5 10 0.5-8 0.5 1.5 0.5-4 1 9.5 0.5-1.5 0.5-7.5 0.5 11 0.5 2 1-9.5 0.5-4 0.5 2 0.5 22 0.5-13 1-2.5 0.5-4.5 0.5 10 0.5-1.5 0.5-9 1 5.5 0.5-8 0.5 4 0.5-6 0.5 1.5 1 10 0.5-12.5 0.5 13 0.5-3.5 0.5-0.5 1-2.5 0.5 3.5 0.5-8 0.5 15 0.5 0 1-3.5 0.5-3.5 0.5 7.5 0.5-9.5 0.5-7 1 7.5 0.5-1 0.5-1 0.5 0.5 0.5-6.5 1 7.5 0.5-2 0.5 5 0.5-5.5 0.5 2 1 3 0.5 1.5 0.5-13.5 0.5 12.5 0.5 6 1-9.5 0.5 0.5 0.5-1.5 0.5 9.5 0.5-6 1-7 0.5 11 0.5-14 0.5 14 0.5-8 1 3 0.5-3 0.5 7 0.5 0 0.5-4 1 6.5 0.5-3.5 0.5-7.5 0.5 5 0.5-10 1 9.5 0.5-1 0.5-1 0.5 7 0.5 7.5 1-12.5 0.5-3.5 0.5-3.5 0.5 17 0.5-10.5 1-0.5 0.5-0.5 0.5 0 0.5 3 0.5 0.5 1-2 0.5 1 0.5 4 0.5-1 0.5-6 1 11.5 0.5 0.5 0.5-11 0.5 1.5 0.5 1 1-2.5 0.5-2.5 0.5-2.5 0.5 8 0.5-13.5 1 2 0.5 11.5 0.5-4.5 0.5-1 0.5-1.5 1 2 0.5 18 0.5-8 0.5-7 0.5 0 1 6 0.5-2 0.5-7 0.5 9 0.5-2 1-8.5 0.5 15 0.5-3.5 0.5-3 0.5 0.5 1-8 0.5 2 0.5 7.5 0.5 0 0.5-0.5 1-2 0.5 1.5 0.5 1.5 0.5-5.5 0.5-5 1 7.5 0.5-7.5 0.5 0.5 0.5-7.5 0.5 21.5 1-12.5 0.5 4 0.5 8 0.5-0.5 0.5-9 1 4 0.5 1.5 0.5-2.5 0.5 3 0.5 2.5 1-5.5 0.5 1.5 0.5 2.5 0.5-13.5 0.5 7 1-5 0.5 2.5 0.5-13 0.5 17 0.5 0.5 1-7.5 0.5 3.5 0.5 3 0.5-7.5 0.5 9.5 1-9.5 0.5 16.5 0.5-14 0.5 6.5 0.5-1.5 1 4 0.5 8 0.5-14.5 0.5-0.5 0.5 1 1 2.5 0.5-3 0.5-2 0.5 2.5 0.5 8 1-7 0.5 7.5 0.5-8.5 0.5 2.5 0.5 2.5 1-4.5 0.5-6 0.5 7 0.5 8 0.5 1 1-10.5 0.5 1.5 0.5-0.5 0.5-2.5 0.5 18 1-22 0.5 13.5 0.5-7.5 0.5 3 0.5-4 1 15 0.5-6.5 0.5-0.5 0.5-8.5 0.5 2 1 7 0.5 4 0.5-7 0.5-3 0.5-11 1 10 0.5 4 0.5-7.5 0.5 9.5 0.5-18.5 1 5.5 0.5 13 0.5-3 0.5-3 0.5 6 1 1.5 0.5-12 0.5 2 0.5 12 0.5-7 1 0.5 0.5-13 0.5 10 0.5 18 0.5-17.5 1-3 0.5 4.5 0.5-3.5 0.5 8.5 0.5 1.5 1-1 0.5-1 0.5-7.5 0.5 4.5 0.5-3.5 1-4 0.5 5.5 0.5-2.5 0.5 3 0.5-0.5 1-1 0.5-13.5 0.5 18.5 0.5 2 0.5 1.5 1-10 0.5 3 0.5 5.5 0.5 1.5 0.5-8.5 1-2.5 0.5-7 0.5 9 0.5-10 0.5 23 1-11 0.5 0 0.5 4 0.5-3 0.5-8 1 8 0.5 4 0.5-9.5 0.5 3.5 0.5 1 1-3.5 0.5 1 0.5 0 0.5 4 0.5-11 1 20 0.5-6.5 0.5-16.5 0.5 19.5 0.5-13.5 1 10 0.5-1 0.5-4 0.5 1.5 0.5 5 1-6 0.5 9.5 0.5-9 0.5 6 0.5-7.5 1 1 0.5-2.5 0.5 1 0.5 4 0.5-13 1 7 0.5 3.5 0.5 6.5 0.5-6 0.5 0 1 5.5 0.5-2.5 0.5 1.5 0.5-0.5 0.5 1 1-3 0.5 3.5 0.5-2.5 0.5-8.5 0.5 8.5 1 15 0.5-18.5 0.5 0.5 0.5-6.5 0.5 11 1 0 0.5 4 0.5-16 0.5 13.5 0.5 1 1-12 0.5 4 0.5 3 0.5 0 0.5 2.5 1 0.5 0.5 0.5 0.5-10 0.5 8 0.5-3.5 1 0 0.5-2 0.5 0 0.5 3.5 0.5-4.5 1 0.5 0.5 1.5 0.5-6 0.5 12 0.5 0.5 1-2.5 0.5-7 0.5-2.5 0.5 5.5 0.5 15 1-11.5 0.5 9.5 0.5-15.5 0.5 2.5 0.5 5 1-6 0.5 0.5 0.5 4 0.5 3.5 0.5-10.5 1 11 0.5-8.5 0.5 10 0.5-0.5 0.5-6 1 9.5 0.5-4.5 0.5-6 0.5 12.5 0.5-5.5 1-7.5 0.5-4.5 0.5 10 0.5-2.5 0.5 11 1-16 0.5 5 0.5-1.5 0.5-5.5 0.5 6.5 1-3.5 0.5 3 0.5 1 0.5 5.5 0.5-15 1 12 0.5-3.5 0.5-4.5 0.5-0.5 0.5 9 1-12 0.5 8.5 0.5-4 0.5 9.5 0.5-9 1 7 0.5 3 0.5-8.5 0.5 9.5 0.5-9 1 5 0.5 4.5 0.5-9 0.5 15.5 0.5-11.5 1 7.5 0.5-4.5 0.5-10 0.5-1 0.5 5 1 2.5 0.5-5 0.5-0.5 0.5 3.5 0.5-9 1 1.5 0.5 2 0.5 7.5 0.5-3 0.5 0 1 4 0.5-3 0.5-1.5 0.5 5 0.5-0.5 1-6 0.5 0 0.5 10 0.5-8.5 0.5 1 1 3 0.5 7.5 0.5-8.5 0.5-17 0.5 12 1-4 0.5 2 0.5 3.5 0.5 1.5 0.5-2.5 1 1.5 0.5 8.5 0.5-3.5 0.5-5 0.5 1 1 4 0.5 7.5 0.5-9.5 0.5 3 0.5-3.5 1-6 0.5-4 0.5 3.5 0.5 8 0.5 4.5 1-10 0.5 7.5 0.5-10 0.5-3 0.5 12 1 1.5 0.5-8.5 0.5 5.5 0.5-17.5 0.5 24.5 1-5.5 0.5-3 0.5-2 0.5 0 0.5 5 1-11.5 0.5 7 0.5-10.5 0.5 6 0.5 12.5 1-6.5 0.5 4 0.5-2.5 0.5-4 0.5 8 1-8 0.5 4 0.5 9 0.5-9 0.5-0.5 1-11 0.5 16 0.5-2 0.5-4 0.5 4.5 1-15.5 0.5 13.5 0.5 7 0.5-9.5 0.5 12.5 1-19 0.5 11.5 0.5-8.5 0.5 3.5 0.5-4 1 4.5 0.5-5.5 0.5 1 0.5-3.5 0.5 3.5 1 11 0.5-1 0.5-2.5 0.5-10.5 0.5 6.5 1 1 0.5 4 0.5 5 0.5-6 0.5 3 1-0.5 0.5-3 0.5-8.5 0.5-2 0.5 16.5 1-10.5 0.5-2.5 0.5-4.5 0.5 15.5 0.5-5 1 10 0.5-6.5 0.5 1.5 0.5-6.5 0.5-4.5 1 2.5 0.5 3 0.5 4.5 0.5-7 0.5 1 1 14 0.5-12.5 0.5 1 0.5 5 0.5-3 1-1.5 0.5-5.5 0.5-2.5 0.5 5.5 0.5 1.5 1 1.5 0.5 0.5 0.5-8.5 0.5 5.5 0.5-9.5 1 7.5 0.5-2.5 0.5 11 0.5-8.5 0.5 10 1-12 0.5-2 0.5-3 0.5 5 0.5 5 1 2 0.5-1.5 0.5-6.5 0.5 4 0.5-3.5 1 5.5 0.5-3.5 0.5 8 0.5-4 0.5-5 1 4.5 0.5-5 0.5 5 0.5-7.5 0.5 6.5 1 1.5 0.5 0.5 0.5 3.5 0.5-4 0.5-1 1 4.5 0.5-8 0.5 0 0.5 4 0.5-1 1 8 0.5-7.5 0.5-7.5 0.5 13.5 0.5 1 1-9.5 0.5 6 0.5-4.5 0.5 1 0.5-7.5 1 14.5 0.5 0.5 0.5-8 0.5 4 0.5-6.5 1 7.5 0.5-4.5 0.5-1 0.5 2.5 0.5 2 1-2 0.5-10.5 0.5 0 0.5 3 0.5 1.5 1 3.5 0.5-3 0.5 2 0.5 17.5 0.5-16 1 2 0.5-10 0.5 8.5 0.5 1 0.5 1 1 5 0.5-6 0.5-1.5 0.5 2 0.5-5 1 6.5 0.5-4 0.5-12 0.5 15.5 0.5-8.5 1 8 0.5-5.5 0.5-5 0.5 5 0.5 1.5 1 3 0.5 6.5 0.5-10 0.5 9 0.5-1.5 1-0.5 0.5-5.5 0.5 1 0.5 3 0.5-13 1 1.5 0.5 10 0.5 9 0.5-8 0.5-3 1 4 0.5-3.5" fill="none" stroke="#ED7D31" stroke-width="5.5" stroke-linejoin="round" stroke-linecap="round" clip-path="url(#clip1)"/>
<path d="M263 2305 l0.5-12.5 0.5-10.5 1 26.5 0.5-21.5 0.5 14.5 0.5-21 0.5 18.5 1-5 0.5 39.5 0.5-43 0.5-3.5 0.5 3.5 1 11 0.5-14.5 0.5 13.5 0.5-5.5 0.5 22.5 1-39 0.5 29.5 0.5 25 0.5-5 0.5-34 1 1 0.5 7 0.5-14.5 0.5 3.5 0.5-21.5 1 30.5 0.5-21 0.5 26 0.5 4 0.5-33.5 1 50.5 0.5-47 0.5 2.5 0.5 31 0.5-21 1-5 0.5 28 0.5-27 0.5 2 0.5 34 1-28.5 0.5 4.5 0.5 2 0.5-3.5 0.5 49.5 1-70 0.5 36 0.5-8 0.5-6.5 0.5-1 1-1 0.5 51.5 0.5-33 0.5-30.5 0.5 29 1-12 0.5 16 0.5 13 0.5-61.5 0.5 36.5 1-10 0.5 2.5 0.5-6 0.5 12.5 0.5-5.5 1 1 0.5 8.5 0.5-7 0.5 26 0.5-12 1-19.5 0.5 16 0.5-16.5 0.5 3.5 0.5 12.5 1 7 0.5-13.5 0.5 5 0.5-4.5 0.5 7 1 11.5 0.5-4 0.5 2 0.5-27 0.5 7.5 1-20 0.5 16 0.5 14 0.5-20.5 0.5 28 1-6 0.5 12.5 0.5-23 0.5 5.5 0.5 33 1-23.5 0.5-18.5 0.5-2.5 0.5 14.5 0.5-8 1 21.5 0.5 17 0.5-39 0.5 23 0.5-28 1 35.5 0.5-3 0.5 11 0.5-27 0.5 3.5 1 5.5 0.5-3 0.5-25 0.5 20.5 0.5-10 1 0 0.5 17 0.5-23.5 0.5 8 0.5 18.5 1-7 0.5 6.5 0.5 6 0.5 3 0.5-9 1-19.5 0.5 6 0.5-0.5 0.5-0.5 0.5 15 1 7.5 0.5-6.5 0.5 7.5 0.5-15.5 0.5 5 1-14 0.5 7.5 0.5 7 0.5-6 0.5 16.5 1-20.5 0.5-12.5 0.5 41.5 0.5-17.5 0.5 16.5 1-30 0.5 18 0.5-24.5 0.5 31.5 0.5-22 1 30 0.5-19.5 0.5 4.5 0.5-6.5 0.5 13.5 1-25 0.5-1 0.5 10.5 0.5 37 0.5-42.5 1-2 0.5-5 0.5 22.5 0.5 10.5 0.5-14 1 8.5 0.5-21.5 0.5 24.5 0.5-24.5 0.5 5 1 24.5 0.5-27.5 0.5 10 0.5-23.5 0.5 20 1 12.5 0.5-11 0.5 14.5 0.5-22.5 0.5 45.5 1-48 0.5 27 0.5-1.5 0.5-4 0.5-17.5 1 9 0.5-37.5 0.5 25.5 0.5 7 0.5 5.5 1 4 0.5-31.5 0.5 32 0.5-2.5 0.5-5.5 1 1.5 0.5-3.5 0.5 11 0.5 3.5 0.5-8.5 1 23 0.5-11.5 0.5-4 0.5-15 0.5 30 1-20 0.5 10.5 0.5-17.5 0.5 5 0.5-3.5 1-21.5 0.5 71 0.5-43 0.5 2 0.5-5.5 1-4 0.5 17 0.5-1.5 0.5 0 0.5 10.5 1-18.5 0.5 1 0.5-9 0.5-3.5 0.5 34 1-32 0.5 33 0.5 13 0.5-30.5 0.5-12.5 1 15 0.5 5 0.5-26.5 0.5 27 0.5-0.5 1-7 0.5-17 0.5 24.5 0.5-5 0.5 14.5 1-8.5 0.5-4.5 0.5-15 0.5 4 0.5 9 1 16 0.5-26 0.5 14 0.5 25.5 0.5-54 1 25 0.5 21.5 0.5-22 0.5 14 0.5-14.5 1 14 0.5-3 0.5-17 0.5-21 0.5 27 1-1 0.5 11.5 0.5 5 0.5-5.5 0.5 9.5 1-18.5 0.5-24 0.5 3.5 0.5 14 0.5 15 1 3.5 0.5-20.5 0.5 35 0.5-6 0.5-21.5 1 6.5 0.5 15.5 0.5-14 0.5 9 0.5 7.5 1 1 0.5-44 0.5 31 0.5 1.5 0.5 4 1-10 0.5 18 0.5-11 0.5-19.5 0.5 22.5 1 5.5 0.5-29 0.5 17 0.5-4 0.5-4 1 17 0.5 5.5 0.5 10 0.5-24 0.5 7.5 1-5.5 0.5 21.5 0.5-29.5 0.5 21 0.5 2.5 1-5.5 0.5-1 0.5 6.5 0.5-4.5 0.5-1 1-24 0.5 17.5 0.5-16 0.5 0 0.5 16.5 1-10.5 0.5 42 0.5-33 0.5-6.5 0.5 7.5 1 13 0.5-11 0.5 6.5 0.5-4.5 0.5-2 1 22.5 0.5-19.5 0.5-12.5 0.5-3 0.5-2 1 34.5 0.5-18.5 0.5 15 0.5-16.5 0.5-8 1 0 0.5-18.5 0.5 22 0.5-31 0.5 60 1-16 0.5 1 0.5 7.5 0.5 0 0.5 6.5 1-30 0.5 18 0.5-17.5 0.5 11.5 0.5 10 1 10.5 0.5-14 0.5-15.5 0.5 20.5 0.5 2.5 1 3 0.5-4.5 0.5-21.5 0.5 9.5 0.5 4 1 3 0.5-18 0.5 5.5 0.5 24 0.5-4.5 1-18 0.5 5 0.5-0.5 0.5 7 0.5-1.5 1 3.5 0.5-11.5 0.5-5.5 0.5 29 0.5-28 1 16.5 0.5-16 0.5-11.5 0.5 33 0.5-22 1-3 0.5 33.5 0.5-35 0.5 16.5 0.5-6 1-3 0.5 10.5 0.5-17.5 0.5 22.5 0.5-18 1 29 0.5-20.5 0.5 9 0.5-8.5 0.5-8 1 17 0.5-10 0.5 7.5 0.5-10.5 0.5 6.5 1-16.5 0.5 1.5 0.5-2.5 0.5 27.5 0.5-33 1 7 0.5-10 0.5 0.5 0.5-23.5 0.5-3.5 1-11.5 0.5-1 0.5-0.5 0.5-10 0.5 5 1 3 0.5 16.5 0.5-30 0.5-16.5 0.5 2.5 1 1.5 0.5 8.5 0.5 3 0.5-14 0.5 15.5 1 7 0.5-14 0.5 25 0.5-16.5 0.5 38.5 1-20 0.5 41 0.5-11 0.5 8 0.5-9.5 1-6.5 0.5 23.5 0.5-8 0.5 5 0.5-18.5 1 2 0.5 47.5 0.5-13.5 0.5-22 0.5 21.5 1-0.5 0.5 7 0.5-2.5 0.5 6.5 0.5-12.5 1 11 0.5 8.5 0.5-11.5 0.5 25 0.5-59.5 1 33 0.5-4.5 0.5 4 0.5-4.5 0.5 9.5 1 0 0.5-3.5 0.5 9.5 0.5-22.5 0.5 10 1-4 0.5 17.5 0.5-12.5 0.5-9.5 0.5 26.5 1-1.5 0.5-14 0.5 5.5 0.5-1.5 0.5 3.5 1 31.5 0.5-21.5 0.5-14.5 0.5-22 0.5 27.5 1 7.5 0.5-19.5 0.5 12 0.5-11.5 0.5 16 1-11 0.5 32 0.5-32 0.5 2.5 0.5 7.5 1 1.5 0.5-7.5 0.5 19.5 0.5-29 0.5-3.5 1 18.5 0.5 7.5 0.5 2 0.5-26 0.5 24 1 3 0.5-2.5 0.5-7 0.5 24.5 0.5-27.5 1 1 0.5-5.5 0.5 26.5 0.5-17 0.5 8 1-18.5 0.5 1 0.5 18 0.5-3.5 0.5 4 1-9 0.5-14 0.5-16 0.5 43.5 0.5-21.5 1 13 0.5 18 0.5-16 0.5-15 0.5 7.5 1 5 0.5 19 0.5-7 0.5-17.5 0.5 15.5 1-10.5 0.5-2.5 0.5-5.5 0.5 11.5 0.5 5 1-17 0.5 7 0.5 2 0.5 14 0.5-15 1-11.5 0.5 20 0.5 2 0.5 3 0.5 10.5 1-3.5 0.5-10 0.5-15.5 0.5-6.5 0.5 52.5 1-14.5 0.5-25.5 0.5 23.5 0.5-24 0.5-5.5 1 0.5 0.5 19.5 0.5 2 0.5-24.5 0.5 0 1 9 0.5 18.5 0.5 4 0.5-12 0.5 9.5 1-19.5 0.5 7.5 0.5 12.5 0.5-41 0.5 27 1-6 0.5 18.5 0.5 9 0.5-18 0.5-2.5 1 20 0.5-54 0.5 40 0.5-8.5 0.5 8 1 7.5 0.5-11.5 0.5 10.5 0.5-12 0.5 14 1 10 0.5-32 0.5 22.5 0.5-18 0.5 36.5 1-26.5 0.5 14.5 0.5-36.5 0.5 25.5 0.5-12.5 1 10.5 0.5 0.5 0.5-0.5 0.5-27.5 0.5 36.5 1-16.5 0.5 24 0.5-1 0.5-10.5 0.5 0 1-2.5 0.5-10.5 0.5 11.5 0.5 0 0.5-12.5 1 7.5 0.5 9.5 0.5-7.5 0.5-8.5 0.5-19.5 1 18 0.5 6.5 0.5-7 0.5 7.5 0.5-7 1-6.5 0.5 14 0.5 15 0.5-13.5 0.5-23 1 6.5 0.5 22 0.5-26.5 0.5-18.5 0.5 33 1-17 0.5-6.5 0.5-11.5 0.5 23.5 0.5-31.5 1 4 0.5 49 0.5-30.5 0.5-3 0.5 9.5 1-11.5 0.5-32 0.5 3.5 0.5 19 0.5-18 1 2 0.5-32.5 0.5 26 0.5 2 0.5 11 1-28 0.5 29 0.5 11.5 0.5-9 0.5 0.5 1 11 0.5-23 0.5-2.5 0.5 21 0.5-2.5 1 19 0.5 10 0.5-12 0.5-1.5 0.5 11.5 1 22.5 0.5-10 0.5-16 0.5-2 0.5 2.5 1 6 0.5 4.5 0.5 5 0.5 3 0.5-5.5 1 4.5 0.5 10.5 0.5 4 0.5 13 0.5-17.5 1-9.5 0.5-2 0.5 5 0.5 10.5 0.5 1 1-21 0.5 32 0.5-9.5 0.5-4 0.5-2.5 1-7.5 0.5 1.5 0.5 8 0.5-0.5 0.5-17.5 1 11.5 0.5 13.5 0.5 3.5 0.5-19.5 0.5 3.5 1 8.5 0.5 2 0.5 12.5 0.5-0.5 0.5 1 1-52.5 0.5 52 0.5-30 0.5-8.5 0.5 17.5 1 10.5 0.5 9 0.5 2 0.5-29 0.5 7.5 1-8 0.5 19.5 0.5-5 0.5 25.5 0.5-27.5 1-7.5 0.5 0.5 0.5 15 0.5-6 0.5 3 1 3.5 0.5-4.5 0.5-12.5 0.5-4 0.5 32 1-19.5 0.5 0.5 0.5-15.5 0.5 1 0.5 39.5 1-24 0.5 0.5 0.5 28.5 0.5-22 0.5 13.5 1-29.5 0.5 39 0.5-12.5 0.5-12 0.5-3.5 1-2 0.5-3.5 0.5 9 0.5-5.5 0.5-13.5 1 49.5 0.5-39 0.5 40 0.5-34 0.5-14.5 1 17 0.5-17 0.5 25.5 0.5 5 0.5-9.5 1 11 0.5-8.5 0.5 15.5 0.5-23.5 0.5 10 1-9 0.5 10 0.5-4 0.5-11 0.5 13 1 25.5 0.5-17.5 0.5 6 0.5-5.5 0.5-4 1 2 0.5-8.5 0.5 6.5 0.5-4 0.5 4 1-12 0.5 4.5 0.5 12.5 0.5 12 0.5-21.5 1-18.5 0.5 28.5 0.5-3.5 0.5-15 0.5 13 1-13 0.5 2 0.5 13.5 0.5-1 0.5 2.5 1 9 0.5-2.5 0.5-20.5 0.5 21.5 0.5 24.5 1-34 0.5 2.5 0.5 5.5 0.5-24 0.5 23.5 1-23.5 0.5 6.5 0.5 14 0.5 2 0.5-7 1 1.5 0.5 9 0.5 4 0.5 4 0.5-14 1-5.5 0.5 9 0.5-11 0.5 8.5 0.5-20 1 5.5 0.5 2 0.5 7 0.5 7.5 0.5-1.5 1-5 0.5-28 0.5 45 0.5-34.5 0.5 19.5 1-17 0.5 9.5 0.5 7.5 0.5 3 0.5-2.5 1 7.5 0.5-42 0.5 30 0.5 21.5 0.5-26 1 1 0.5 10 0.5 14.5 0.5-2 0.5-8.5 1 1.5 0.5-6 0.5-38 0.5 22.5 0.5 8.5 1 10 0.5-15 0.5-1.5 0.5 17 0.5-22.5 1 14.5 0.5 1.5 0.5-14.5 0.5 25 0.5-7 1 7 0.5-31.5 0.5 32 0.5-14.5 0.5-20 1 33 0.5-26 0.5 49.5 0.5-24.5 0.5-15.5 1 15 0.5 4.5 0.5-17.5 0.5 11 0.5-7 1 13.5 0.5 8 0.5-9 0.5-15 0.5-7 1 10 0.5 10 0.5-3.5 0.5-31 0.5-1.5 1 34 0.5-8.5 0.5 14 0.5-17.5 0.5-2 1 13 0.5-16.5 0.5 28 0.5-20 0.5 13 1 0.5 0.5 20.5 0.5-43 0.5 23 0.5-11 1-2 0.5 5.5 0.5-12.5 0.5 24 0.5-15 1 20.5 0.5-5 0.5-0.5 0.5 9.5 0.5-9.5 1-18.5 0.5 15.5 0.5-1 0.5-15 0.5 18.5 1-7.5 0.5 16.5 0.5-20.5 0.5 31 0.5-23.5 1 11 0.5-5 0.5 16.5 0.5-21 0.5-3.5 1-4.5 0.5-5.5 0.5 10.5 0.5-4 0.5 15 1-5 0.5 1.5 0.5 18.5 0.5-20.5 0.5-8.5 1 12 0.5 4 0.5-17.5 0.5 28 0.5-20.5 1-17.5 0.5 3.5 0.5-0.5 0.5 33 0.5-20 1 4.5 0.5-0.5 0.5 2.5 0.5-14.5 0.5 20 1 10.5 0.5-23 0.5 0 0.5-6 0.5 3.5 1 34 0.5-36 0.5 6.5 0.5-20.5 0.5 21 1-11.5 0.5-10.5 0.5 27 0.5-11.5 0.5-3 1 21 0.5-4.5 0.5-2.5 0.5-9.5 0.5 6 1-18 0.5 11 0.5 16.5 0.5 8.5 0.5-28.5 1-12.5 0.5 28.5 0.5-31 0.5 45 0.5-14 1 4 0.5-13.5 0.5-3.5 0.5 3 0.5 19 1-1 0.5-28.5 0.5 19 0.5-2.5 0.5-3.5 1 6.5 0.5-6.5 0.5 2 0.5 0 0.5-22.5 1-5.5 0.5 27 0.5-8.5 0.5 19 0.5-9 1-20 0.5 13.5 0.5 2 0.5 10 0.5-8.5 1 6 0.5 23 0.5-27 0.5 10 0.5-23 1 37.5 0.5-24.5 0.5-7 0.5 6.5 0.5-17 1 5 0.5 40.5 0.5-47.5 0.5 30.5 0.5-25 1 20 0.5-11.5 0.5 11 0.5-5.5 0.5-31 1 24 0.5 8.5 0.5 1 0.5 13.5 0.5-24.5 1-2 0.5 7.5 0.5 3.5 0.5-3 0.5-5 1 16.5 0.5-30.5 0.5 25 0.5-6 0.5 13.5 1-23 0.5 41 0.5-39 0.5 18.5 0.5 0.5 1-17.5 0.5 6 0.5 2.5 0.5 2.5 0.5 2 1-7.5 0.5 7 0.5-21.5 0.5 18 0.5-18 1 23 0.5-2.5 0.5 3.5 0.5 2.5 0.5-9.5 1 21.5 0.5-23.5 0.5 12 0.5-12 0.5 2 1 14.5 0.5-12.5 0.5-14 0.5 9 0.5 3 1 10.5 0.5 5.5 0.5-22 0.5-7.5 0.5 16.5 1-5.5 0.5 14.5 0.5-7.5 0.5 5 0.5-9.5 1-7.5 0.5 11 0.5 2 0.5-14 0.5 9.5 1 4.5 0.5-17.5 0.5 23.5 0.5-28 0.5 25 1-18.5 0.5 14.5 0.5-29 0.5 47 0.5-19 1-32 0.5 31 0.5-10.5 0.5 9 0.5-21 1 11.5 0.5 19.5 0.5-8 0.5-14.5 0.5 16 1-14.5 0.5 15 0.5-10.5 0.5 3.5 0.5 5 1 2.5 0.5 19 0.5-23 0.5-13 0.5 7 1 20.5 0.5-12 0.5-14.5 0.5-7 0.5 22.5 1-26 0.5 18.5 0.5 3.5 0.5 16.5 0.5-20 1 9 0.5-11.5 0.5-6.5 0.5 10 0.5-3.5 1-1 0.5 15 0.5-9 0.5 0.5 0.5 15 1-5 0.5-2 0.5 8 0.5-13.5 0.5 7.5 1-31 0.5 23 0.5-0.5 0.5 5.5 0.5-0.5 1-18.5 0.5-6.5 0.5 24 0.5-11 0.5-8.5 1 8 0.5 9.5 0.5 5 0.5-4.5 0.5-2 1 2 0.5-9 0.5-3.5 0.5 2 0.5-13.5 1 7.5 0.5 13.5 0.5 2.5 0.5-5 0.5-11.5 1 11.5 0.5-12.5 0.5 15 0.5 7 0.5-12.5 1 3 0.5-4 0.5-21 0.5 26.5 0.5-3.5 1 8 0.5 16.5 0.5-20 0.5-6 0.5 5 1 13 0.5-5.5 0.5-15.5 0.5-4 0.5 4.5 1 10.5 0.5-0.5 0.5 5 0.5-21 0.5 20.5 1-8.5 0.5 6.5 0.5 12.5 0.5-32 0.5 19 1-14.5 0.5 18.5 0.5 2.5 0.5-4 0.5-1 1-25.5 0.5 18.5 0.5-12 0.5 16.5 0.5-12.5 1 18.5 0.5-9.5 0.5-20.5 0.5 20.5 0.5 13 1-45.5 0.5 26 0.5 11 0.5 6.5 0.5-11.5 1-22.5 0.5 34 0.5-17 0.5 14.5 0.5 22.5 1-9.5 0.5-10.5 0.5-1.5 0.5-22.5 0.5 29 1-3 0.5-21 0.5 15.5 0.5-19.5 0.5 16.5 1 4.5 0.5-17 0.5 15 0.5-21.5 0.5 8 1-1 0.5 17 0.5 4 0.5-18.5 0.5-16.5 1 25.5 0.5-1.5 0.5 4.5 0.5 5.5 0.5-8.5 1 7.5 0.5-1.5 0.5 14 0.5-13.5 0.5 5 1-8.5 0.5-3 0.5-14.5 0.5 26 0.5-19.5 1 1.5 0.5 4 0.5-4.5 0.5 35.5 0.5-24 1-1.5 0.5-22 0.5 21 0.5-4.5 0.5 30.5 1-33 0.5 25 0.5-8 0.5-43 0.5 42 1-6 0.5-22.5 0.5 12.5 0.5 22 0.5-22 1 14 0.5 18.5 0.5-29 0.5-2.5 0.5-6 1 19.5 0.5 7.5 0.5 4.5 0.5-18.5 0.5-3.5 1-7 0.5-7 0.5 6 0.5 44.5 0.5-42 1 6.5 0.5 2 0.5 11 0.5-16 0.5-0.5 1-4 0.5 7 0.5 0.5 0.5 7 0.5-4.5 1-1.5 0.5-19 0.5 14 0.5-6 0.5 7 1 7.5 0.5 1 0.5-13.5 0.5 2 0.5 4.5 1 4 0.5-6 0.5 4.5 0.5-7 0.5 17.5 1-17.5 0.5 4 0.5-14 0.5 13.5 0.5-5 1 13.5 0.5 8.5 0.5-15 0.5-5 0.5 10 1-21.5 0.5 13 0.5 17.5 0.5 0 0.5-13.5 1-18.5 0.5 6.5 0.5 21.5 0.5-0.5 0.5-22 1 3.5 0.5-8.5 0.5 22 0.5-15.5 0.5 8.5 1-7.5 0.5-1 0.5-2.5 0.5 17 0.5-8.5 1-12 0.5 15 0.5-19 0.5 1.5 0.5 3.5 1-3.5 0.5 4 0.5-15.5 0.5 17.5 0.5-38.5 1 28 0.5-2.5 0.5 6.5 0.5-3 0.5-11.5 1-27 0.5 32 0.5 17 0.5-11.5 0.5-24 1 21.5 0.5-8.5 0.5-1 0.5-22 0.5 26.5 1-5 0.5 26.5 0.5-29 0.5-0.5 0.5 27.5 1-13.5 0.5 11.5 0.5-7 0.5 3 0.5-12.5 1-25 0.5 51.5 0.5-13.5 0.5-1 0.5 3 1 6 0.5-26.5 0.5 22 0.5 4.5 0.5 1 1-10 0.5-1 0.5 5.5 0.5 0 0.5 9 1-6.5 0.5 10.5 0.5 7 0.5-10 0.5-6 1 21.5 0.5-2.5 0.5-17 0.5 10 0.5-9 1 21 0.5-17.5 0.5 2 0.5 0.5 0.5 0 1-1 0.5 8.5 0.5-4.5 0.5-21 0.5 21 1 4 0.5-1 0.5 6.5 0.5-18 0.5 7 1 8.5 0.5-24 0.5 4 0.5 13.5 0.5 10 1-6.5 0.5-4.5 0.5 2 0.5 6 0.5-5 1-3 0.5-8.5 0.5 19.5 0.5-15 0.5 22.5 1-19.5 0.5 17 0.5-29.5 0.5 36 0.5-25 1-21.5 0.5 29 0.5 11 0.5 7.5 0.5-16 1 15 0.5-17 0.5-13.5 0.5-7.5 0.5 32 1-27.5 0.5 11.5 0.5 17 0.5-16.5 0.5 5.5 1 1.5 0.5-7.5 0.5 6.5 0.5 13.5 0.5-17.5 1 2.5 0.5-10.5 0.5 1.5 0.5 8 0.5-7.5 1 0.5 0.5 25 0.5-9 0.5-9 0.5-1.5 1 1 0.5-0.5 0.5-13 0.5 19.5 0.5-11 1 2.5 0.5-5 0.5 1 0.5 15 0.5-5 1-3 0.5 18.5 0.5-29.5 0.5 19.5 0.5 1.5 1-16 0.5 6.5 0.5-0.5 0.5 5.5 0.5-5.5 1 8.5 0.5-3.5 0.5-3 0.5-1.5 0.5 1.5 1 2.5 0.5-2.5 0.5-7 0.5-6 0.5 17 1-5 0.5-7 0.5 12 0.5-10.5 0.5-5 1-1 0.5 3.5 0.5 5 0.5 11.5 0.5-22.5 1 8.5 0.5 1.5 0.5-4 0.5-17.5 0.5 28 1-9.5 0.5 5 0.5-12 0.5 9 0.5 7.5 1-23.5 0.5 25 0.5-11 0.5-11.5 0.5 15 1 14.5 0.5-20.5 0.5 21.5 0.5-5 0.5 0 1-21 0.5 18 0.5 4.5 0.5-4 0.5-14 1 20 0.5-46.5 0.5 62 0.5-27.5 0.5-12.5 1 38 0.5-27 0.5 0.5 0.5-7.5 0.5 9.5 1 1 0.5 0.5 0.5 3 0.5-16 0.5-18.5 1 7.5 0.5 28 0.5-19 0.5-5 0.5 13.5 1-9.5 0.5 14 0.5-1.5 0.5 13.5 0.5-30.5 1 28.5 0.5-8.5 0.5-5 0.5-1 0.5-1 1-9 0.5 21.5 0.5-15.5 0.5 13 0.5 4 1-9 0.5-11.5 0.5 13 0.5 5 0.5-7.5 1 0 0.5-15 0.5 8 0.5-14 0.5 29 1-13.5 0.5 10.5 0.5-10.5 0.5 9 0.5 5 1-8.5 0.5-23 0.5 11 0.5 6.5 0.5 4.5 1 9 0.5 10 0.5-30.5 0.5 20.5 0.5-22.5 1 8 0.5-3.5 0.5 5.5 0.5 1 0.5 11.5 1 1 0.5-16 0.5-2.5 0.5 5.5 0.5-4.5 1 2 0.5-0.5 0.5-2 0.5-1 0.5 6.5 1 6.5 0.5-11.5 0.5 8 0.5-0.5 0.5-2 1-4.5 0.5-1.5 0.5-11 0.5 21 0.5 4 1-4 0.5 10.5 0.5-15 0.5 22.5 0.5-19 1-6.5 0.5 13.5 0.5-30 0.5 34 0.5-5.5 1-16 0.5-11 0.5 3 0.5 22 0.5-4.5 1 0.5 0.5-3 0.5 11 0.5-19 0.5 20 1 0 0.5-2 0.5-24 0.5 15.5 0.5 28.5 1-27 0.5-19 0.5 13 0.5 13 0.5-4.5 1-2 0.5-3 0.5-0.5 0.5-6.5 0.5-5.5 1 2.5 0.5 2 0.5-4 0.5 22 0.5 2.5 1-17.5 0.5-3 0.5 14.5 0.5-7 0.5-25 1 16.5 0.5 3 0.5 5 0.5 0.5 0.5 16 1-17 0.5 5.5 0.5 16.5 0.5-41 0.5 36.5 1-19 0.5 10 0.5-1 0.5 2 0.5-20.5 1 10.5 0.5-4.5 0.5 18 0.5-20.5 0.5 4.5 1-4 0.5 8 0.5 7 0.5 5.5 0.5-17.5 1 0.5 0.5-1 0.5 5.5 0.5-1 0.5 11 1 5.5 0.5-14.5 0.5 33.5 0.5-30.5 0.5-8.5 1 2.5 0.5-14 0.5 5 0.5 26 0.5-10 1-2 0.5-0.5 0.5 4.5 0.5-17.5 0.5 24.5 1-13 0.5 11 0.5-5 0.5-4.5 0.5 13.5 1-2 0.5-12.5 0.5 8 0.5 24.5 0.5-26 1-14.5 0.5 11 0.5-4 0.5-4.5 0.5 4 1-3.5 0.5 22 0.5-39 0.5 7 0.5 28.5 1-6 0.5-6.5 0.5-10 0.5 14 0.5-12 1 3.5 0.5 6 0.5 13.5 0.5-14.5 0.5 3 1-5 0.5-20.5 0.5 29.5 0.5-8 0.5 16.5 1-13.5 0.5-20.5 0.5 25.5 0.5-13 0.5-1.5 1-10 0.5 26 0.5-13 0.5-0.5 0.5-7.5 1 6 0.5-8 0.5 1.5 0.5 8.5 0.5 17 1-8 0.5-11 0.5-5 0.5 7 0.5-12.5 1 5 0.5 14 0.5-10 0.5-13 0.5 21 1-21 0.5 15 0.5 3 0.5-33.5 0.5 27.5 1-11.5 0.5 3.5 0.5 3 0.5 3 0.5-7 1-27 0.5 28.5 0.5-24.5 0.5 35 0.5 7.5 1-32.5 0.5 6.5 0.5 5.5 0.5 2.5 0.5-10 1 16 0.5-26 0.5 3.5 0.5 10 0.5 9.5 1-16.5 0.5-1.5 0.5 0 0.5 12 0.5 7.5 1 4 0.5-1.5 0.5-19.5 0.5 4 0.5 16 1-29 0.5 17.5 0.5 18.5 0.5-21.5 0.5-6 1-2.5 0.5 15 0.5-5.5 0.5-0.5 0.5-16.5 1 12 0.5-18 0.5 31 0.5-25 0.5 12.5 1-23.5 0.5 43.5 0.5-14.5 0.5 1.5 0.5-24 1 16.5 0.5 13 0.5-27.5 0.5 38 0.5-9 1 1.5 0.5-5 0.5-8.5 0.5 3 0.5-7 1-18 0.5 28.5 0.5-9 0.5 4.5 0.5 10 1-10 0.5-11.5 0.5-5.5 0.5 21 0.5-1 1 4 0.5-6.5 0.5-5 0.5 9.5 0.5 1.5 1-5 0.5-1.5 0.5 13 0.5-2.5 0.5-7 1 7.5 0.5 18 0.5-7 0.5 0.5 0.5 8.5 1-9.5 0.5-3.5 0.5-5.5 0.5-12.5 0.5-7 1 22.5 0.5-6.5 0.5-13.5 0.5 13.5 0.5-1 1 7 0.5 7.5 0.5-7.5 0.5-5.5 0.5 11.5 1-0.5 0.5-2.5 0.5 24 0.5-23 0.5-8 1 16.5 0.5-19 0.5 1.5 0.5 8.5 0.5-6 1-1.5 0.5-15.5 0.5 14 0.5-7.5 0.5-3 1 8.5 0.5 0.5 0.5 0 0.5 12 0.5-15 1 16 0.5-29 0.5 36 0.5-33 0.5 33 1-15.5 0.5-2 0.5 7 0.5 2.5 0.5-4 1 23 0.5-38.5 0.5 6 0.5 1.5 0.5 22 1-13 0.5-12 0.5 6 0.5 12 0.5 6.5 1-24.5 0.5 6 0.5-1 0.5 2.5 0.5 14.5 1-8.5 0.5-3 0.5-5 0.5 3.5 0.5 17 1-31.5 0.5 8.5 0.5 4.5 0.5 0 0.5 0.5 1 22 0.5 7 0.5-26 0.5-21 0.5 16.5 1 14.5 0.5-14 0.5-16 0.5 30.5 0.5-16.5 1 1.5 0.5 3 0.5 10.5 0.5-0.5 0.5 1.5 1-1 0.5-15 0.5 6.5 0.5-7 0.5-9.5 1-6.5 0.5 33.5 0.5-24.5 0.5-0.5 0.5-5.5 1 18.5 0.5-15.5 0.5 19 0.5-32.5 0.5 20.5 1 9 0.5-11.5 0.5 20 0.5-25 0.5-3 1-4 0.5 19 0.5 18 0.5-13 0.5-13 1 2.5 0.5 10.5 0.5-0.5 0.5 6 0.5-8 1 6 0.5-16.5 0.5 8 0.5 7 0.5-1 1-9 0.5 13 0.5-15 0.5 16 0.5 15 1 1.5 0.5-23 0.5 5.5 0.5-14.5 0.5 0.5 1-24.5 0.5 29.5 0.5 3 0.5-6 0.5 10.5 1-7 0.5 13 0.5-28.5 0.5 18 0.5-6 1-3 0.5 14 0.5-10.5 0.5 2.5 0.5 3.5 1-25.5 0.5 29.5 0.5-29.5 0.5 34 0.5 12 1-27.5 0.5-4.5 0.5 9 0.5 0.5 0.5 14.5 1-17.5 0.5-7 0.5 15.5 0.5 12 0.5-19 1 3.5 0.5-6.5 0.5-8.5 0.5 11.5 0.5-17 1 36.5 0.5-11 0.5 8.5 0.5-9.5 0.5-1.5 1 0.5 0.5-16.5 0.5 12 0.5 17 0.5-4 1-16.5 0.5 34.5 0.5-20.5 0.5-17.5 0.5 7.5 1-7 0.5 7.5 0.5 13.5 0.5-9 0.5 9 1-14.5 0.5-15.5 0.5 28.5 0.5-9.5 0.5 9.5 1-15.5 0.5-5 0.5 23.5 0.5-35.5 0.5 17 1-0.5 0.5 3 0.5-2 0.5 7 0.5-12.5 1 6 0.5 10.5 0.5-16 0.5-5 0.5 11.5 1-7.5 0.5 12.5 0.5-9 0.5 12 0.5-16.5 1-4.5 0.5-1.5 0.5 10.5 0.5 3 0.5 3.5 1-14 0.5 18.5 0.5-4 0.5-1.5 0.5-3.5 1 2 0.5-13 0.5-5 0.5 5 0.5 6 1 4 0.5 3.5 0.5-9.5 0.5 9 0.5-4 1 0.5 0.5-3.5 0.5 0.5 0.5 33 0.5-27.5 1 9.5 0.5 2 0.5-1.5 0.5-8.5 0.5 1.5 1 7 0.5-16.5 0.5 25.5 0.5-19.5 0.5 10.5 1-32 0.5 18.5 0.5 9.5 0.5-10.5 0.5 1.5 1-9 0.5 13.5 0.5 7 0.5 1 0.5-9.5 1 12 0.5-20.5 0.5 9 0.5-3 0.5 3.5 1 7 0.5-12.5 0.5 3.5 0.5-11.5 0.5 17 1-1 0.5-18 0.5 17.5 0.5 2 0.5-9 1-17 0.5 8 0.5-2.5 0.5 20.5 0.5-29 1 20.5 0.5-3.5 0.5-6 0.5 21.5 0.5-17 1 28 0.5-6 0.5-21 0.5-2.5 0.5 12 1-4.5 0.5 17.5 0.5-16.5 0.5 12 0.5-12 1-21 0.5 30 0.5-11.5 0.5-6.5 0.5 4 1 13 0.5 8.5 0.5-20 0.5 6.5 0.5 7.5 1-18 0.5 15 0.5-9 0.5 5.5 0.5-9.5 1-3.5 0.5 13 0.5 1 0.5-3.5 0.5 0 1-10.5 0.5 12 0.5-8 0.5 3 0.5 9 1-14 0.5 0.5 0.5 5 0.5 27 0.5-31.5 1 12 0.5-6.5 0.5 5.5 0.5-19 0.5 11 1-10 0.5 26 0.5-1 0.5-11 0.5 4.5 1-3 0.5 8 0.5-3.5 0.5-6.5 0.5 1 1 1 0.5-19.5 0.5 27.5 0.5 0 0.5-25.5 1 14.5 0.5-5 0.5-5.5 0.5 27 0.5-24 1 24.5 0.5-9 0.5-22 0.5 26 0.5 0 1-21 0.5 7.5 0.5 19.5 0.5-12.5 0.5 18.5 1-34.5 0.5 25.5 0.5-1 0.5-15.5 0.5 4 1-7 0.5 13 0.5-1.5 0.5 0 0.5 15.5 1-21.5 0.5 25 0.5-38.5 0.5 5.5 0.5 7 1-0.5 0.5 7 0.5 7.5 0.5-9 0.5-8 1 13 0.5-16 0.5-0.5 0.5-6.5 0.5-0.5 1 13 0.5 9.5 0.5 3.5 0.5-6.5 0.5-5 1 6 0.5-3 0.5-5 0.5 7.5 0.5 1 1 16.5 0.5-24 0.5 18 0.5-13.5 0.5-3 1 13 0.5-10.5 0.5-3 0.5 5.5 0.5-3.5 1-19 0.5 26 0.5-10.5 0.5 10.5 0.5-13 1-12 0.5 14 0.5-1 0.5 36.5 0.5-29.5 1 7.5 0.5-4 0.5-13.5 0.5 12 0.5-10.5 1 4.5 0.5 9 0.5-9.5 0.5 17 0.5-21.5 1-1.5 0.5-2.5 0.5 7 0.5 9.5 0.5-1.5 1 12.5 0.5-17.5 0.5-1 0.5-8.5 0.5 20.5 1-10.5 0.5 16 0.5-23.5 0.5 7.5 0.5-2 1-1.5 0.5 3 0.5 3.5 0.5-10 0.5 10.5 1-17 0.5 17 0.5 0.5 0.5-18.5 0.5 19.5 1-3 0.5-9.5 0.5 1.5 0.5 15 0.5-39.5 1 15.5 0.5-4 0.5 29 0.5-18.5 0.5 3 1 7 0.5 2 0.5-8.5 0.5-19 0.5 28 1-19 0.5 44.5 0.5-27.5 0.5 3.5 0.5 24.5 1-39.5 0.5 33 0.5-20 0.5 3.5 0.5-17 1 3.5 0.5 8 0.5 5.5 0.5-3 0.5-18.5 1 27.5 0.5 7 0.5 11 0.5-43.5 0.5 14 1-3.5 0.5-0.5 0.5-6.5 0.5 10.5 0.5 2.5 1 3 0.5-1 0.5 0.5 0.5-15.5 0.5 18.5 1 1 0.5-5.5 0.5 1 0.5 4.5 0.5-11.5 1-13 0.5 13 0.5-6 0.5 3 0.5 7.5 1-1.5 0.5 3 0.5-7 0.5 8 0.5 3.5 1-27.5 0.5 4.5 0.5 7 0.5-1.5 0.5 16.5 1-8.5 0.5 13.5 0.5 5.5 0.5-8.5 0.5-2 1-17 0.5 4.5 0.5 20.5 0.5-13.5 0.5-11.5 1 9 0.5 6 0.5-6.5 0.5 8 0.5-15 1 5 0.5-7 0.5 1 0.5-2 0.5 2 1-15.5 0.5 19 0.5 0 0.5 24 0.5-9.5 1-13 0.5-5 0.5-3.5 0.5 17.5 0.5 1.5 1-10.5 0.5 2.5 0.5 1 0.5-19 0.5 7 1 14.5 0.5 7.5 0.5 13.5 0.5-40.5 0.5 16.5 1 4.5 0.5 6 0.5-5.5 0.5-3 0.5-23.5 1 33.5 0.5-24.5 0.5 13 0.5-1.5 0.5 6 1-4.5 0.5 20.5 0.5-17 0.5 9 0.5-4 1-8.5 0.5-5 0.5 4 0.5-14 0.5 6 1 13.5 0.5 7 0.5-15 0.5-11.5 0.5 10 1 5.5 0.5-15 0.5 9 0.5 11.5 0.5 1.5 1 5.5 0.5-11.5 0.5-15 0.5-2.5 0.5 6.5 1 10 0.5-2 0.5-26.5 0.5 36.5 0.5-4 1-16 0.5-1.5 0.5 22.5 0.5-11 0.5 4.5 1-4.5 0.5-9 0.5 29.5 0.5-18 0.5 14.5 1-30.5 0.5 21 0.5-9 0.5-3.5 0.5 4 1-14 0.5 42.5 0.5-38.5 0.5 26.5 0.5 3.5 1 1.5 0.5-29.5 0.5 21 0.5-21.5 0.5 3 1 24.5 0.5-15.5 0.5 0 0.5-18.5 0.5 22 1 3 0.5-19 0.5 15.5 0.5 24.5 0.5-31 1 2 0.5-2 0.5 2.5 0.5 0 0.5 4.5 1-9 0.5-6 0.5-1.5 0.5-6.5 0.5 19.5 1 1.5 0.5-5.5 0.5 3.5 0.5-7 0.5 2 1 6 0.5-2.5 0.5 13 0.5-23 0.5 20.5 1-16.5 0.5-3 0.5 4 0.5 4.5 0.5-7 1-5 0.5 13 0.5 8.5 0.5-15 0.5-1.5 1-4.5 0.5 5 0.5-6.5 0.5 11.5 0.5-4 1-13.5 0.5 39 0.5-6.5 0.5-1.5 0.5-25 1 18.5 0.5-6 0.5 11.5 0.5-15.5 0.5 11.5 1-13.5 0.5 1.5 0.5 7 0.5 5 0.5-5.5 1 12.5 0.5-14 0.5 21 0.5-15 0.5 7.5 1-20.5 0.5 19.5 0.5-7 0.5-13 0.5 29 1-35 0.5 3 0.5-5 0.5 3.5 0.5 11 1-10.5 0.5 8.5 0.5 0 0.5-1 0.5-1 1 8.5 0.5 8 0.5-18.5 0.5 12 0.5-4 1-2.5 0.5 6 0.5-2 0.5-2 0.5 13 1-17.5 0.5 7 0.5 0.5 0.5 16.5 0.5-31.5 1 17 0.5 10 0.5-39.5 0.5 27.5 0.5-6 1 19.5 0.5-23.5 0.5-8.5 0.5 8.5 0.5 19 1-8.5 0.5-3 0.5-6 0.5 14.5 0.5-9.5 1-4.5 0.5 5.5 0.5 3 0.5-1 0.5-27.5 1 10.5 0.5 4 0.5 13.5 0.5-3 0.5-12.5 1-3.5 0.5 16.5 0.5 4 0.5-11.5 0.5 7 1 18.5 0.5-21.5 0.5 1 0.5-12 0.5 9 1-2.5 0.5 23 0.5-10 0.5-7 0.5-12 1 9 0.5 10.5 0.5-12 0.5-1.5 0.5 6 1-12.5 0.5 15 0.5 9.5 0.5-6 0.5-16.5 1-0.5 0.5 11.5 0.5-13 0.5 1.5 0.5 6.5 1 12.5 0.5-8.5 0.5-3 0.5 5.5 0.5 0.5 1-13 0.5-9 0.5 19.5 0.5-31.5 0.5 24.5 1 3.5 0.5-7 0.5 7 0.5 6 0.5 0 1-18 0.5 33 0.5-11 0.5 3 0.5-22 1 1 0.5 3 0.5-20.5 0.5 23.5 0.5-9.5 1 15 0.5 2 0.5 2.5 0.5-6 0.5 1.5 1-4 0.5 3.5 0.5 4.5 0.5-6.5 0.5 3 1 3.5 0.5-4 0.5 3 0.5 2 0.5-10 1-8.5 0.5 8.5 0.5-3 0.5-14 0.5 26.5 1 2.5 0.5-7.5 0.5-4.5 0.5 1.5 0.5-7.5 1 1 0.5 19 0.5-21.5 0.5 1.5 0.5 7 1-4.5 0.5 2 0.5 4.5 0.5 1 0.5-11 1 12 0.5-5.5 0.5 1 0.5 4.5 0.5-12 1 8.5 0.5 12 0.5-7.5 0.5 4 0.5-7.5 1-3 0.5 10 0.5 2 0.5-1 0.5-6.5 1-2.5 0.5 5.5 0.5 3.5 0.5-23.5 0.5 12 1-2 0.5 3.5 0.5 2 0.5-1 0.5 9.5 1 1 0.5-3 0.5-8 0.5 7 0.5-10.5 1 2.5 0.5 10.5 0.5-18.5 0.5 16.5 0.5 0.5 1-20.5 0.5 18 0.5-8 0.5 21 0.5-12.5 1-2 0.5 1.5 0.5-23.5 0.5 7 0.5 8.5 1 25 0.5-11.5 0.5-6 0.5 2.5 0.5 1 1-6.5 0.5 5 0.5-14 0.5 12.5 0.5-19 1 24 0.5-12.5 0.5 24 0.5-14 0.5 0 1-2.5 0.5-7 0.5 3 0.5-2.5 0.5 3 1 4 0.5 4.5 0.5 6.5 0.5-21 0.5 6.5 1-3 0.5 8.5 0.5-7.5 0.5-3.5 0.5 22.5 1-31 0.5 16.5 0.5 1 0.5-12 0.5 3 1 4.5 0.5 8.5 0.5-1.5 0.5-9.5 0.5 2 1 8.5 0.5-5 0.5 3 0.5-27.5 0.5 29.5 1-6.5 0.5-2.5 0.5 18 0.5-21.5 0.5 3 1 1.5 0.5 15 0.5-23 0.5 17 0.5 10 1-13.5 0.5-8 0.5 2.5 0.5 1 0.5-6.5 1 9.5 0.5 4 0.5-11 0.5 8.5 0.5 0.5 1-14.5 0.5-22 0.5 26 0.5 9 0.5-13 1 12.5 0.5-9 0.5 17.5 0.5-13 0.5 8.5 1 3 0.5-8 0.5-11 0.5 17.5 0.5-17 1-9 0.5-8 0.5 14.5 0.5 14.5 0.5-4 1-6 0.5 14 0.5 5 0.5-16.5 0.5 11.5 1-14 0.5 22.5 0.5-24 0.5 8 0.5 1.5 1 1.5 0.5-7 0.5-5 0.5 16.5 0.5-5.5 1 3 0.5-17 0.5-10 0.5 13 0.5 12 1-14 0.5-19 0.5 24 0.5-3 0.5 11 1-4 0.5-6 0.5 25 0.5-11 0.5-34 1 30.5 0.5 0 0.5 10 0.5-15 0.5 3.5 1-4.5 0.5-1 0.5 1.5 0.5 8.5 0.5-3.5 1-12.5 0.5 4.5 0.5 13.5 0.5-33.5 0.5 13.5 1 8.5 0.5-11.5 0.5 6.5 0.5 8 0.5 12.5 1-20.5 0.5 15 0.5-9.5 0.5-6.5 0.5 12.5 1 14 0.5-2 0.5-20.5 0.5 8.5 0.5-9.5 1 11 0.5-25 0.5 5.5 0.5 18 0.5-28 1 36.5 0.5-4 0.5-11.5 0.5 13.5 0.5-5 1-21.5 0.5 25.5 0.5-18 0.5 6 0.5-13.5 1 18 0.5-6 0.5-19.5 0.5 14 0.5 6.5 1 5 0.5-25.5 0.5 22.5 0.5-4.5 0.5 8 1 9.5 0.5-6.5 0.5 2 0.5-12 0.5 5 1 8 0.5-24.5 0.5-10 0.5 25 0.5-5 1 2.5 0.5 1 0.5-10.5 0.5 17 0.5-5 1-5 0.5 10.5 0.5-6 0.5-11 0.5 18 1-7 0.5 8.5 0.5-13.5 0.5 5.5 0.5-19 1 29 0.5 7 0.5-22 0.5 1.5 0.5 6 1-9.5 0.5 15.5 0.5-3.5 0.5 2.5 0.5-4.5 1-1.5 0.5-7.5 0.5-5 0.5 30.5 0.5-24.5 1 12 0.5-12 0.5 11.5 0.5-8 0.5 2 1-6.5 0.5 5.5 0.5-3.5 0.5 6 0.5-5 1 0 0.5-21 0.5 25.5 0.5-8 0.5-4 1 18 0.5-26 0.5 20.5 0.5 1.5 0.5-15 1 13 0.5 2 0.5 3 0.5-8 0.5 26 1-33 0.5 10 0.5-17 0.5 18.5 0.5-11.5 1 17 0.5-23.5 0.5 9 0.5 14 0.5 1.5 1-24.5 0.5 20" fill="none" stroke="#FF0000" stroke-width="5.5" stroke-linejoin="round" stroke-linecap="round" clip-path="url(#clip1)"/>
<path d="M263 2066 l0.5 9.5 0.5 40.5 1-15.5 0.5-4 0.5-10 0.5 6 0.5 1.5 1 13 0.5-13 0.5-9 0.5 8.5 0.5 2 1-3.5 0.5 1 0.5-9.5 0.5 6.5 0.5 11.5 1-2 0.5 5 0.5-16 0.5 10 0.5-8.5 1 1.5 0.5-5.5 0.5 9.5 0.5-0.5 0.5 1 1 2.5 0.5-12 0.5-4.5 0.5 11 0.5 10.5 1 2 0.5-6 0.5-14.5 0.5 8.5 0.5-4 1 37 0.5-43.5 0.5 10 0.5 3 0.5-4 1 0.5 0.5 7.5 0.5 2.5 0.5-17.5 0.5-12.5 1 20.5 0.5 1.5 0.5-9.5 0.5 7 0.5-1.5 1 9 0.5-7.5 0.5-3 0.5 9 0.5-6 1 13 0.5-35.5 0.5 30 0.5 0.5 0.5-22 1 24 0.5-24 0.5 29 0.5-9.5 0.5 11 1-1.5 0.5-16.5 0.5 1.5 0.5 8 0.5 9 1-11 0.5-9.5 0.5 25.5 0.5-22.5 0.5-0.5 1 11.5 0.5-19 0.5 31.5 0.5-23.5 0.5-2 1 9 0.5 30.5 0.5-18 0.5 6.5 0.5 3.5 1-5 0.5-27 0.5 23.5 0.5 7 0.5-12 1 2 0.5-2.5 0.5 6.5 0.5 2 0.5-25.5 1 13.5 0.5-3 0.5 8 0.5-2 0.5-2.5 1 5 0.5 0 0.5-1 0.5 4 0.5 15.5 1-9 0.5-11.5 0.5-0.5 0.5 6 0.5 18 1-22.5 0.5-1 0.5-1 0.5-11 0.5 11 1 5 0.5-7.5 0.5 6.5 0.5-2 0.5-2 1 12.5 0.5 0 0.5-19 0.5 16 0.5-7 1 14.5 0.5 6 0.5-3.5 0.5-17 0.5 0 1 23 0.5-33 0.5 13 0.5 19 0.5-21.5 1 2.5 0.5-11 0.5 14 0.5-6 0.5-0.5 1 15 0.5-4 0.5 3 0.5-7.5 0.5 9 1-12.5 0.5 22 0.5-26 0.5 13.5 0.5-3.5 1 16.5 0.5-27 0.5 15.5 0.5 32.5 0.5-36 1 14 0.5-5.5 0.5 12.5 0.5-16 0.5 7 1 12.5 0.5-33 0.5 15.5 0.5-3.5 0.5-12 1 31.5 0.5-13.5 0.5 0.5 0.5-3 0.5 5 1 2 0.5-10.5 0.5 11 0.5 8.5 0.5-7.5 1-17.5 0.5 21 0.5-37 0.5 48 0.5-24 1 16.5 0.5-28.5 0.5 20.5 0.5-7.5 0.5 0.5 1 16 0.5-1 0.5-16 0.5 24 0.5-13 1 4.5 0.5-10.5 0.5 1 0.5 34 0.5-59.5 1 31.5 0.5-10 0.5 5 0.5 12.5 0.5-5 1-7 0.5 12.5 0.5-9 0.5-18 0.5 29 1-14 0.5 11 0.5 21.5 0.5-17.5 0.5-5.5 1-8.5 0.5 16.5 0.5-24 0.5 22 0.5-2 1-3 0.5-13 0.5 17 0.5-12.5 0.5-6 1 24.5 0.5-7 0.5 9.5 0.5-24 0.5 1.5 1-5 0.5 10 0.5 3.5 0.5 2 0.5 0.5 1 4.5 0.5-9 0.5 4.5 0.5-1 0.5 6 1-7.5 0.5 14.5 0.5-14 0.5 11.5 0.5-4 1-8.5 0.5 2 0.5-3.5 0.5-13.5 0.5 13 1 11 0.5 13.5 0.5-23 0.5 15.5 0.5-3.5 1 8 0.5 2.5 0.5-12 0.5-2.5 0.5 5.5 1 20.5 0.5-15 0.5-4.5 0.5 3.5 0.5-19.5 1 31.5 0.5-6 0.5 1.5 0.5-18 0.5 6.5 1 5 0.5-11.5 0.5 4 0.5 21 0.5-30.5 1 2.5 0.5 1 0.5 5 0.5 18 0.5-16.5 1-10 0.5-1.5 0.5 24.5 0.5-4 0.5-1.5 1 0 0.5-6.5 0.5 17.5 0.5-24.5 0.5-2 1 5 0.5 12 0.5-17 0.5 27 0.5-9.5 1 0 0.5-12 0.5-7.5 0.5 33 0.5-22.5 1 17.5 0.5-10.5 0.5 2.5 0.5-20.5 0.5 19.5 1 5 0.5-5 0.5 6.5 0.5-4.5 0.5 5 1-17.5 0.5 19.5 0.5 6.5 0.5-14 0.5-3.5 1 3 0.5 6.5 0.5-11 0.5 5.5 0.5 5.5 1 4.5 0.5 0 0.5-14.5 0.5-5.5 0.5 17.5 1-18 0.5 19.5 0.5-3 0.5-13 0.5 9.5 1 1 0.5-17.5 0.5 17.5 0.5 4.5 0.5-9 1-3 0.5 4 0.5 13 0.5-18 0.5 8 1 33 0.5-38 0.5 25 0.5-13 0.5 8.5 1-21 0.5 22 0.5-27 0.5 12.5 0.5 10 1-13.5 0.5-5 0.5 23.5 0.5-3 0.5-25 1 24.5 0.5-13.5 0.5 11 0.5-8.5 0.5-2.5 1 2 0.5 22.5 0.5-21 0.5 5 0.5-2 1-5.5 0.5-1.5 0.5 0.5 0.5 0 0.5 9.5 1-9.5 0.5 7 0.5-10.5 0.5 10 0.5-11.5 1 14 0.5 19 0.5-14 0.5-8 0.5 9 1 9 0.5-15 0.5-3 0.5 6 0.5 0.5 1 13.5 0.5-19.5 0.5 16.5 0.5-15.5 0.5 3.5 1-7 0.5 14.5 0.5 3 0.5-7 0.5 12 1 0.5 0.5-18 0.5 9.5 0.5-9 0.5 19.5 1-5.5 0.5-19.5 0.5 18 0.5-24.5 0.5 30 1-25.5 0.5 5.5 0.5 15 0.5-3 0.5-8 1 10 0.5-2.5 0.5 4.5 0.5-4.5 0.5-11 1 3.5 0.5-6 0.5 4 0.5 8.5 0.5-3.5 1 6.5 0.5-16 0.5-4 0.5 6.5 0.5-2.5 1 8 0.5-30 0.5 10.5 0.5 2 0.5-9 1-7.5 0.5 8 0.5 2 0.5-1 0.5-18 1-5.5 0.5 0.5 0.5-7 0.5 14.5 0.5-11 1-18.5 0.5-7 0.5-7.5 0.5 13.5 0.5-10.5 1-3 0.5 16.5 0.5-8 0.5 0.5 0.5 20.5 1-7 0.5 23 0.5-2.5 0.5 1 0.5 3.5 1 5.5 0.5 16.5 0.5-4.5 0.5 6 0.5 25.5 1-33.5 0.5 21 0.5 10 0.5-4.5 0.5 14 1-14.5 0.5 12 0.5 4.5 0.5-8.5 0.5-9.5 1 17.5 0.5-8 0.5-8.5 0.5 2.5 0.5 26 1-1.5 0.5-13.5 0.5 5 0.5-7 0.5 8 1 2.5 0.5-3 0.5 16 0.5-21 0.5-6 1 9.5 0.5-5.5 0.5-6.5 0.5 16 0.5 0.5 1 1 0.5 9.5 0.5-15.5 0.5 9.5 0.5-16.5 1 16.5 0.5 2.5 0.5-12 0.5 8.5 0.5-15 1 22 0.5-8 0.5 0.5 0.5-6 0.5 0.5 1-1 0.5 31.5 0.5-29 0.5 6.5 0.5 10.5 1-11.5 0.5-7 0.5 11 0.5 6 0.5-22 1 23 0.5-3.5 0.5-13 0.5 7.5 0.5 5 1 4.5 0.5 0.5 0.5-15.5 0.5 0 0.5 21.5 1-0.5 0.5-16.5 0.5-2 0.5 24 0.5-9 1 3.5 0.5-7.5 0.5 12.5 0.5-2.5 0.5-13.5 1-20.5 0.5 36 0.5-16.5 0.5 16.5 0.5-21.5 1 20.5 0.5-12.5 0.5 3.5 0.5-6.5 0.5 8 1 23.5 0.5-40.5 0.5 29 0.5-11.5 0.5 3.5 1 7.5 0.5-10.5 0.5 20 0.5-10 0.5-3 1 10.5 0.5-22.5 0.5 4.5 0.5 20 0.5-5 1-3.5 0.5-9.5 0.5-2.5 0.5-3 0.5 19 1-11.5 0.5-14 0.5 23 0.5 6 0.5-2.5 1-2 0.5 5 0.5-4 0.5 2 0.5-2.5 1 2 0.5 20 0.5-28 0.5 5.5 0.5 0.5 1 6.5 0.5 13 0.5-21 0.5 5 0.5 21.5 1-25 0.5-3 0.5 1 0.5 6 0.5 15.5 1-13.5 0.5 2 0.5 0 0.5 3 0.5-2 1-1.5 0.5-9 0.5 19.5 0.5-13.5 0.5-1.5 1 1.5 0.5-4 0.5 7.5 0.5 1 0.5-16 1-3 0.5 3.5 0.5 13.5 0.5-6 0.5 10 1-0.5 0.5 5.5 0.5-4.5 0.5-6.5 0.5 1.5 1 12.5 0.5-10 0.5-16.5 0.5 21.5 0.5-14 1 3 0.5-7 0.5 21.5 0.5-12 0.5-17.5 1 12.5 0.5 1 0.5 17 0.5 6.5 0.5-20.5 1 13.5 0.5-11.5 0.5 17 0.5-11 0.5-36 1 19.5 0.5 9 0.5 3 0.5-8 0.5 13.5 1-14.5 0.5-10 0.5 12 0.5 4 0.5-7 1-7 0.5-5.5 0.5 19 0.5-28 0.5 20 1-4 0.5 10 0.5-7 0.5 4.5 0.5-9 1 5.5 0.5 0 0.5 17.5 0.5-28.5 0.5-2 1 5 0.5 0.5 0.5-6.5 0.5 0.5 0.5-1 1 11.5 0.5-22.5 0.5 8.5 0.5 7 0.5 17.5 1-13.5 0.5 6.5 0.5-1 0.5 6.5 0.5 1.5 1-10 0.5 4.5 0.5 11 0.5 11 0.5-36.5 1 25 0.5-20 0.5 23.5 0.5-9.5 0.5 25.5 1-19.5 0.5 5.5 0.5 6 0.5-2 0.5-18.5 1 9 0.5-7.5 0.5-3 0.5 16.5 0.5-2 1-10 0.5 2.5 0.5 7.5 0.5-8.5 0.5 11.5 1 13 0.5 2.5 0.5-5.5 0.5-3.5 0.5-1 1-1 0.5 12 0.5-5 0.5 5 0.5 6.5 1-14.5 0.5 5.5 0.5-4 0.5 14.5 0.5 0 1 14.5 0.5-14 0.5-21.5 0.5 11.5 0.5 7 1 2 0.5-23.5 0.5 5 0.5 20 0.5-6.5 1 5.5 0.5-8 0.5 11 0.5-17 0.5 2.5 1 15.5 0.5-3.5 0.5 2 0.5-4 0.5-1 1 2 0.5-1 0.5 2 0.5-5.5 0.5 2.5 1 15.5 0.5-9.5 0.5 6 0.5-8.5 0.5-5 1-14 0.5 26 0.5-11.5 0.5 13.5 0.5 4.5 1-6.5 0.5-7.5 0.5-3.5 0.5 16.5 0.5-13.5 1 6 0.5 6 0.5-2.5 0.5 4 0.5-6 1 15.5 0.5-16.5 0.5 28 0.5-31.5 0.5 9.5 1-9.5 0.5 3.5 0.5 4.5 0.5-1.5 0.5 20.5 1-16.5 0.5 6 0.5-3.5 0.5-6.5 0.5 17 1-7.5 0.5-0.5 0.5 6.5 0.5-10 0.5 2.5 1 5 0.5-8 0.5 8.5 0.5 9.5 0.5-3.5 1-5 0.5 1 0.5 13 0.5-15.5 0.5 8.5 1 6.5 0.5-4 0.5-9.5 0.5 12 0.5-10 1 1.5 0.5 10 0.5 6 0.5-14 0.5-3.5 1 22 0.5-15 0.5 10 0.5-3.5 0.5 0 1-9.5 0.5 19.5 0.5-9.5 0.5-15 0.5 19.5 1-2 0.5 19.5 0.5-25.5 0.5-7 0.5 15 1-6.5 0.5 6 0.5-11 0.5 5 0.5 0.5 1 3.5 0.5 7 0.5-26.5 0.5 32 0.5-33 1 21.5 0.5-15 0.5 6.5 0.5 10 0.5 8.5 1-11.5 0.5-8.5 0.5 9.5 0.5 4.5 0.5-2 1-18 0.5 17.5 0.5 0 0.5-5.5 0.5 0 1 5.5 0.5 10.5 0.5-14.5 0.5-0.5 0.5 9.5 1-7.5 0.5 3.5 0.5 0 0.5-6 0.5 6 1 13 0.5-16.5 0.5-10.5 0.5 33.5 0.5-3.5 1-13 0.5 13 0.5-22.5 0.5 11.5 0.5-2 1-20.5 0.5 10.5 0.5 5 0.5 4.5 0.5 3 1 1 0.5-14 0.5 11 0.5 4 0.5-14 1 0 0.5 10.5 0.5-4.5 0.5-3.5 0.5 5 1-2.5 0.5-3 0.5 13.5 0.5-4 0.5 12 1-11.5 0.5-10 0.5-1.5 0.5 2 0.5 8 1 18 0.5-18 0.5 11 0.5 2.5 0.5-24.5 1 13 0.5 6 0.5-11 0.5 13 0.5-16 1-3 0.5 5 0.5 4.5 0.5-6.5 0.5 5 1-2.5 0.5 5 0.5-4.5 0.5-2.5 0.5 0.5 1-2.5 0.5 17 0.5-6 0.5 14 0.5-16.5 1 2.5 0.5 10 0.5-21 0.5 5.5 0.5-6 1 5.5 0.5-4.5 0.5 8 0.5-9.5 0.5 9.5 1 0 0.5-1 0.5-12 0.5 14.5 0.5-7 1 13 0.5 5 0.5-17 0.5 4.5 0.5-20.5 1 33.5 0.5-8 0.5-5 0.5-9 0.5 15 1-1 0.5 8 0.5-18 0.5 1.5 0.5-10 1 17 0.5-12.5 0.5 12.5 0.5-2.5 0.5-19.5 1 19 0.5 5 0.5-11 0.5 22.5 0.5-21 1 5 0.5 16.5 0.5-24 0.5 10 0.5 5.5 1-5 0.5-0.5 0.5-7.5 0.5 3 0.5-6 1 7.5 0.5-3.5 0.5 2.5 0.5 11 0.5-13.5 1 21 0.5-19.5 0.5 14.5 0.5-11.5 0.5 2 1 1.5 0.5-1 0.5-10 0.5-2.5 0.5 15.5 1 0 0.5-17.5 0.5 11 0.5-7.5 0.5 15 1-3.5 0.5-16.5 0.5 34 0.5-14 0.5-5 1 4.5 0.5 3.5 0.5-7.5 0.5 6 0.5-1 1-24.5 0.5 34.5 0.5-26.5 0.5 21 0.5-6.5 1-5.5 0.5-0.5 0.5 11.5 0.5-16 0.5 2 1-11.5 0.5 15.5 0.5 3 0.5-5 0.5 4 1-4.5 0.5 1 0.5 11 0.5-6 0.5-21 1 13 0.5 4 0.5 11.5 0.5-4 0.5-5 1-10.5 0.5 22 0.5-19.5 0.5 11.5 0.5 2 1 3 0.5-8.5 0.5-10 0.5 17.5 0.5-1 1-12.5 0.5 4.5 0.5 1.5 0.5 5.5 0.5 9.5 1-7 0.5-14 0.5 5.5 0.5 2.5 0.5-10.5 1-4 0.5 10 0.5-2.5 0.5-3 0.5 5 1 6 0.5-1.5 0.5-1.5 0.5 1.5 0.5-12.5 1-7.5 0.5 10 0.5 6.5 0.5 5 0.5 2.5 1-26.5 0.5 12 0.5 7.5 0.5 7.5 0.5-16 1 16 0.5-0.5 0.5-9 0.5 10.5 0.5-12.5 1-5.5 0.5 19 0.5 2 0.5-16.5 0.5 7 1 4 0.5-2.5 0.5-15 0.5 26 0.5-8 1 7 0.5-7.5 0.5 3.5 0.5-11.5 0.5 0 1 2 0.5 2.5 0.5-7 0.5-1 0.5 13 1-1 0.5 2 0.5-28 0.5 30 0.5-3 1 0.5 0.5-1 0.5-6 0.5-5.5 0.5 6.5 1 0 0.5-2.5 0.5-6 0.5 10 0.5-14 1 15.5 0.5-4.5 0.5 7.5 0.5-5 0.5-9.5 1 16 0.5-11 0.5 9.5 0.5 0.5 0.5-12.5 1 0.5 0.5 15 0.5-1 0.5-8 0.5 1.5 1 17.5 0.5-16.5 0.5-3 0.5 2 0.5-13.5 1 22 0.5-4.5 0.5-1.5 0.5 7 0.5-17.5 1-4.5 0.5 9 0.5-2 0.5 1 0.5 1.5 1-5.5 0.5 11.5 0.5-11.5 0.5 8.5 0.5 11.5 1-10.5 0.5 8.5 0.5-14 0.5 4.5 0.5 16 1-8.5 0.5-8 0.5-4 0.5 7.5 0.5 10.5 1-13.5 0.5-14.5 0.5 6.5 0.5 12.5 0.5-9 1 0.5 0.5 5 0.5 9 0.5-2.5 0.5-7 1 3.5 0.5 3.5 0.5-8 0.5-2 0.5-1 1 10 0.5-12 0.5 9.5 0.5-11.5 0.5 1 1 8.5 0.5 5 0.5-4 0.5 7 0.5-10.5 1 0 0.5-8.5 0.5 12.5 0.5-10.5 0.5 5 1 9 0.5 2.5 0.5-2.5 0.5-2 0.5-22 1 19.5 0.5-2 0.5-1 0.5 5 0.5-5.5 1 6.5 0.5 10 0.5-4 0.5-18 0.5 6 1-2.5 0.5-2.5 0.5 10 0.5-7.5 0.5-0.5 1 13 0.5-15.5 0.5-12 0.5 12.5 0.5 0.5 1 9.5 0.5-7.5 0.5 7 0.5 2.5 0.5-12 1 0.5 0.5 1 0.5 17.5 0.5-9 0.5-1 1 4 0.5-12 0.5 2 0.5 1.5 0.5 1.5 1 1 0.5 0 0.5-3 0.5 21.5 0.5-16 1-9 0.5 0.5 0.5 11 0.5-13 0.5 6.5 1 9.5 0.5-1 0.5-16 0.5 11.5 0.5 5 1-1 0.5-8 0.5 5.5 0.5-8 0.5 9.5 1 20.5 0.5-27 0.5-7 0.5 14 0.5-13 1 13.5 0.5-13.5 0.5 4 0.5 17.5 0.5 12.5 1-22.5 0.5-10 0.5 26 0.5-1 0.5-17 1 8.5 0.5-3.5 0.5 5.5 0.5-13.5 0.5 1.5 1 0.5 0.5 1 0.5 0 0.5 8 0.5-8 1 8.5 0.5-19 0.5 11 0.5-8 0.5 4 1 14.5 0.5-14 0.5 23.5 0.5-10.5 0.5-4.5 1-16.5 0.5 20.5 0.5-0.5 0.5 9 0.5-4.5 1-7 0.5 13 0.5-9 0.5-17.5 0.5 5 1 0.5 0.5-9 0.5 7.5 0.5 15 0.5-1.5 1-22 0.5 16 0.5-17 0.5 8 0.5 33.5 1-17.5 0.5-0.5 0.5 7 0.5-8 0.5-1 1-1.5 0.5-3.5 0.5-12.5 0.5-9.5 0.5 24 1-4.5 0.5 14.5 0.5-5.5 0.5-4 0.5-3.5 1 4.5 0.5-11 0.5 13.5 0.5 6.5 0.5-5 1-5 0.5-4.5 0.5 14.5 0.5 8.5 0.5-20.5 1 2 0.5 5 0.5-0.5 0.5 2.5 0.5-5 1-8.5 0.5 11.5 0.5-7 0.5-5.5 0.5 16.5 1-14 0.5 4 0.5-2.5 0.5 7 0.5 0 1-12 0.5 11.5 0.5 13.5 0.5-21.5 0.5 6 1-0.5 0.5 9.5 0.5-21.5 0.5 9 0.5 6 1-3 0.5-0.5 0.5 15.5 0.5-26.5 0.5 5.5 1 10 0.5-15.5 0.5 23 0.5-11.5 0.5-11 1 1.5 0.5-10 0.5 2.5 0.5 16 0.5-10 1 13.5 0.5-5.5 0.5-5.5 0.5-5.5 0.5-2.5 1 18.5 0.5-9 0.5-5 0.5-17.5 0.5 13 1 14 0.5-26 0.5 31 0.5-4.5 0.5-20.5 1 3 0.5 22.5 0.5-22 0.5 8.5 0.5-23.5 1 5 0.5 3.5 0.5 0.5 0.5 2.5 0.5-1 1-14 0.5 0.5 0.5-1.5 0.5-14.5 0.5 14 1 15.5 0.5-12 0.5 11 0.5-9 0.5 1 1 4.5 0.5-3 0.5-2.5 0.5-5 0.5 1.5 1 2.5 0.5 12 0.5-9 0.5-4.5 0.5 10.5 1 2.5 0.5-15 0.5 21.5 0.5-7.5 0.5 5.5 1 9.5 0.5-7 0.5-5 0.5 9.5 0.5-7.5 1 5 0.5 3.5 0.5 0.5 0.5-5.5 0.5-7.5 1 20.5 0.5-7.5 0.5-4 0.5 7 0.5 0.5 1 7.5 0.5 4.5 0.5-20 0.5 13.5 0.5 7.5 1-10.5 0.5 3.5 0.5-5.5 0.5-1.5 0.5 28.5 1-24.5 0.5 5 0.5 7 0.5-19.5 0.5 18.5 1-2.5 0.5-5.5 0.5-4.5 0.5 19.5 0.5 1.5 1-10.5 0.5-4 0.5 9.5 0.5-9.5 0.5 0 1 0.5 0.5-9.5 0.5 15.5 0.5 7 0.5-15 1-7 0.5 8.5 0.5 3.5 0.5 19 0.5-31 1 18 0.5-2 0.5 3.5 0.5-12.5 0.5 15 1-8.5 0.5 1 0.5 1 0.5 3.5 0.5 5 1 1.5 0.5-12.5 0.5 5.5 0.5-6 0.5 0 1 8 0.5-19 0.5 15 0.5 2 0.5 2.5 1-6 0.5 3.5 0.5-1 0.5 2 0.5-3 1-11 0.5 16 0.5-9 0.5-1.5 0.5 7 1-7.5 0.5 1.5 0.5 10 0.5 4 0.5-9.5 1 8 0.5-3 0.5 3.5 0.5-2 0.5-3 1-4.5 0.5 16.5 0.5-10.5 0.5 0.5 0.5-9 1 20.5 0.5-19 0.5 1 0.5 4.5 0.5 11.5 1 1.5 0.5-19.5 0.5 1.5 0.5 3.5 0.5-6 1 5.5 0.5 12.5 0.5-7.5 0.5 8.5 0.5-27.5 1 9 0.5 11 0.5-3 0.5 1.5 0.5 2.5 1-10.5 0.5-2 0.5 0 0.5 9.5 0.5 7 1-15.5 0.5 4 0.5 12.5 0.5-15 0.5 9.5 1-12 0.5 2.5 0.5-2 0.5 5.5 0.5 6.5 1-5 0.5 9 0.5-9 0.5-5.5 0.5 1 1 7 0.5-14 0.5 11.5 0.5-1.5 0.5-3.5 1 19 0.5-10.5 0.5 5.5 0.5-8.5 0.5-2.5 1 2 0.5-4.5 0.5 2 0.5-0.5 0.5 11.5 1-6.5 0.5 1 0.5 1 0.5-12 0.5 4.5 1-2 0.5-8.5 0.5-3.5 0.5 9.5 0.5 11.5 1 1.5 0.5-1.5 0.5-11 0.5 9 0.5-2 1-7.5 0.5-1 0.5 12.5 0.5-11.5 0.5 5 1-0.5 0.5-2.5 0.5 7.5 0.5-10 0.5 15.5 1-10.5 0.5 8 0.5-16.5 0.5 1.5 0.5 8 1 10.5 0.5-10.5 0.5 0.5 0.5 5 0.5-2 1-4 0.5 9 0.5-7.5 0.5 8.5 0.5-2 1-5 0.5-8 0.5 7.5 0.5-4 0.5 9 1-21 0.5 32.5 0.5-32.5 0.5 17 0.5-4.5 1 4 0.5 0.5 0.5 1 0.5-14 0.5 13 1-3.5 0.5 4 0.5 2 0.5-10 0.5 5.5 1-4.5 0.5 1.5 0.5 7 0.5 1.5 0.5-11 1 10 0.5-4 0.5-3.5 0.5 3 0.5 9.5 1-6 0.5-13 0.5 4.5 0.5-3.5 0.5 9 1 0.5 0.5-13 0.5 12 0.5-6 0.5 2 1 13 0.5-1.5 0.5-10.5 0.5 8.5 0.5-9.5 1 6.5 0.5-8.5 0.5 9 0.5-0.5 0.5-6 1-11.5 0.5 23 0.5-12.5 0.5 5 0.5-11.5 1 12 0.5-1 0.5-4.5 0.5 3 0.5 9.5 1-13.5 0.5 9 0.5-2.5 0.5 4.5 0.5-4 1 20.5 0.5-19.5 0.5-6.5 0.5 1.5 0.5-4.5 1 5 0.5 1.5 0.5-5.5 0.5 10 0.5-26.5 1 39 0.5 5.5 0.5-22.5 0.5 3.5 0.5-18 1 7.5 0.5 4 0.5 5.5 0.5 9.5 0.5-7.5 1-15.5 0.5 3 0.5 6.5 0.5 3 0.5-1 1 11.5 0.5-16.5 0.5 1 0.5 2.5 0.5 15 1-10 0.5 5 0.5-1 0.5-17.5 0.5 13 1 4 0.5-13 0.5 9 0.5-2 0.5-14 1 11 0.5-1 0.5-6 0.5 9.5 0.5-8 1 7.5 0.5 4.5 0.5-8.5 0.5-7.5 0.5 17 1-2.5 0.5-13 0.5-1 0.5 6 0.5-11.5 1 15.5 0.5 2.5 0.5 9 0.5-10.5 0.5-8.5 1 9 0.5 6.5 0.5-15 0.5 14.5 0.5-8.5 1-1.5 0.5 5.5 0.5 5 0.5-13 0.5 12 1 1.5 0.5-3 0.5-5.5 0.5-15 0.5 17.5 1-13.5 0.5-5 0.5 18.5 0.5-11.5 0.5 8.5 1 6.5 0.5-1 0.5-4.5 0.5-10 0.5 2.5 1 9.5 0.5 12 0.5-11 0.5-1.5 0.5 3.5 1-1.5 0.5-2 0.5 7.5 0.5 0.5 0.5-1 1-5 0.5 10 0.5-15 0.5-0.5 0.5-0.5 1 9.5 0.5-22 0.5 26 0.5 1.5 0.5-20.5 1 11 0.5 1.5 0.5-10.5 0.5-1.5 0.5 4.5 1-4.5 0.5 11 0.5 1 0.5-15.5 0.5 6 1 11.5 0.5-1 0.5-18.5 0.5 11 0.5 5.5 1-9 0.5 5 0.5 2.5 0.5-5.5 0.5-3.5 1-1 0.5 13 0.5-8.5 0.5 2.5 0.5-2 1-4.5 0.5 8.5 0.5-5.5 0.5 4.5 0.5 1 1-2.5 0.5-7.5 0.5 10.5 0.5 8 0.5-8 1-5 0.5-10 0.5-4 0.5 32 0.5-17 1-1 0.5-3.5 0.5 3.5 0.5 11 0.5-18.5 1 9 0.5 4 0.5-7 0.5-6 0.5 4.5 1 12 0.5-14.5 0.5-8.5 0.5 15.5 0.5 5 1-4 0.5-17.5 0.5 21.5 0.5-20 0.5 0.5 1 10 0.5-3 0.5-3.5 0.5 9 0.5 7 1-18.5 0.5 9.5 0.5 10.5 0.5-17.5 0.5 3 1-8.5 0.5 10.5 0.5-8 0.5 2 0.5-12 1 25 0.5-13.5 0.5 9.5 0.5-4 0.5-1.5 1 19.5 0.5-13.5 0.5-15 0.5 9 0.5-16 1 17.5 0.5-10.5 0.5 2.5 0.5 13 0.5-5.5 1-11 0.5-0.5 0.5 4 0.5 0.5 0.5 5 1-13.5 0.5 13 0.5-13 0.5 9 0.5 4.5 1-4 0.5 0 0.5 1 0.5-2 0.5 6 1-2 0.5-14.5 0.5 11 0.5-5.5 0.5-2 1 9 0.5-3.5 0.5 2 0.5 18 0.5-15 1-1.5 0.5-3.5 0.5 8 0.5-6.5 0.5 6.5 1 4.5 0.5-8.5 0.5-7.5 0.5 0.5 0.5 9 1 8 0.5-8 0.5 3.5 0.5-3 0.5 6 1 12 0.5-19 0.5 23.5 0.5-16.5 0.5 0.5 1 5 0.5-9.5 0.5 18 0.5-11.5 0.5-6.5 1 10.5 0.5-9.5 0.5 1.5 0.5 5.5 0.5 6 1 1.5 0.5-13 0.5 6.5 0.5-7 0.5 3 1 7 0.5-5 0.5 1.5 0.5 1 0.5 0 1 5.5 0.5-3.5 0.5 0 0.5 14 0.5-17 1 22 0.5-4 0.5-10 0.5-1 0.5-8.5 1 8 0.5 1 0.5-24.5 0.5 27 0.5-1 1-16 0.5 7.5 0.5 19 0.5-8 0.5-6.5 1-8 0.5 1 0.5 9 0.5-0.5 0.5-14 1 30 0.5-22 0.5 12 0.5-15 0.5 8 1 0 0.5-6.5 0.5 4.5 0.5 4.5 0.5-13 1 14 0.5-11.5 0.5 12 0.5-6.5 0.5 23 1-37.5 0.5 37.5 0.5-28.5 0.5 16.5 0.5-8 1 8.5 0.5-11 0.5 0 0.5-4 0.5 6 1-2.5 0.5-1 0.5 3.5 0.5 4.5 0.5-9.5 1 1 0.5-4 0.5 9 0.5-15.5 0.5 17 1-21 0.5 10 0.5 8.5 0.5-13.5 0.5 15 1-4.5 0.5-0.5 0.5 4 0.5-10 0.5 8.5 1 12 0.5-0.5 0.5-10 0.5 2 0.5-10 1 24.5 0.5-14 0.5 0.5 0.5-3 0.5-11.5 1 7 0.5-0.5 0.5 8.5 0.5 5.5 0.5-13 1 1.5 0.5-11.5 0.5 19.5 0.5-7.5 0.5 3 1 6.5 0.5-19.5 0.5-4.5 0.5 18.5 0.5-8 1 13.5 0.5-5.5 0.5-11.5 0.5 11 0.5-4 1-3.5 0.5 1.5 0.5 10 0.5-9.5 0.5-1 1 5.5 0.5 5 0.5-8 0.5-5 0.5 9.5 1-1 0.5-8.5 0.5 15.5 0.5-2 0.5 2 1-8 0.5 10 0.5-17.5 0.5-1.5 0.5 3 1-2.5 0.5 10 0.5-4.5 0.5 5.5 0.5-0.5 1-4.5 0.5-2.5 0.5 4.5 0.5-6.5 0.5 11.5 1-3 0.5-18 0.5 14 0.5 9.5 0.5 2.5 1-18 0.5 3.5 0.5 4.5 0.5 2.5 0.5-4 1 5.5 0.5 1.5 0.5 8 0.5-16 0.5 4 1-8.5 0.5 5.5 0.5-5.5 0.5 11 0.5-10 1 5.5 0.5 0.5 0.5-4 0.5 10 0.5-8 1 1 0.5 5 0.5-6 0.5-2.5 0.5 1.5 1 7 0.5-6.5 0.5 5 0.5 7.5 0.5 0 1-8.5 0.5 1.5 0.5 2.5 0.5-8.5 0.5 5.5 1 1 0.5-15.5 0.5 18.5 0.5-9 0.5 5.5 1-8 0.5 13 0.5-5.5 0.5-7 0.5 0 1 2 0.5 8.5 0.5-10 0.5 8.5 0.5-9.5 1 12.5 0.5-8.5 0.5 11 0.5-5 0.5-4 1 2.5 0.5-3 0.5-2.5 0.5 1 0.5 1 1 2.5 0.5 0 0.5-6.5 0.5 15 0.5-10.5 1-22 0.5 15.5 0.5 5.5 0.5 10 0.5-10 1 7.5 0.5-7.5 0.5-6 0.5 8.5 0.5-3.5 1-12 0.5 17 0.5 0 0.5-2 0.5 4 1-8 0.5 5 0.5-6.5 0.5-4 0.5 10.5 1-7.5 0.5 4 0.5 5.5 0.5-7.5 0.5 13 1-13 0.5 3 0.5 8 0.5-1 0.5-15 1 16.5 0.5-0.5 0.5 7 0.5-32.5 0.5 5.5 1 29 0.5-12 0.5-10.5 0.5 8.5 0.5 5 1 4.5 0.5-10.5 0.5-1.5 0.5-5.5 0.5 11 1-3.5 0.5 8 0.5-16.5 0.5 7.5 0.5 7 1-17 0.5 8 0.5-10 0.5 4 0.5 4 1 10 0.5-9.5 0.5 24 0.5-32.5 0.5 19 1-6.5 0.5-8.5 0.5 4 0.5 1.5 0.5 13.5 1-11.5 0.5-0.5 0.5 0.5 0.5-2 0.5 4.5 1-8 0.5-9 0.5 2.5 0.5 3 0.5-5.5 1 30 0.5-20.5 0.5 5 0.5 4 0.5-9 1-13.5 0.5 13 0.5-0.5 0.5-4.5 0.5 17 1 0 0.5-2.5 0.5-9.5 0.5 2.5 0.5 6 1-6 0.5-2.5 0.5 4.5 0.5 6 0.5 1.5 1-23.5 0.5 23 0.5-12.5 0.5 3.5 0.5 0 1 14 0.5-3.5 0.5-12 0.5 10.5 0.5-4 1 6.5 0.5-11 0.5 8.5 0.5-10.5 0.5 15 1-15 0.5 12 0.5-6 0.5-1.5 0.5 1 1-11 0.5 1 0.5-2.5 0.5 6.5 0.5-12 1 31.5 0.5-21.5 0.5 9 0.5-12.5 0.5 12.5 1-1 0.5-3.5 0.5 13 0.5-24.5 0.5 6 1 4.5 0.5 14.5 0.5-21.5 0.5 22 0.5-32 1 24.5 0.5-8 0.5 1.5 0.5-2 0.5 0.5 1 8 0.5-5.5 0.5-6 0.5-6.5 0.5 14.5 1 1 0.5-6.5 0.5 1.5 0.5-7.5 0.5 7.5 1-0.5 0.5 4.5 0.5-4 0.5-4.5 0.5-4 1 17 0.5 0.5 0.5-16 0.5 0 0.5 7.5 1 7 0.5 5 0.5-2 0.5-8.5 0.5 9 1-16 0.5-10 0.5 11 0.5 10 0.5-8 1-16.5 0.5 22 0.5-8.5 0.5-7.5 0.5 10.5 1 5 0.5-1.5 0.5 7 0.5-7 0.5-8.5 1 12.5 0.5-4.5 0.5-5 0.5 12.5 0.5-26.5 1 18.5 0.5-1.5 0.5 3 0.5-0.5 0.5 1 1 14.5 0.5-15.5 0.5 1.5 0.5 2.5 0.5-11.5 1 26 0.5-17 0.5 14.5 0.5-14 0.5-4.5 1 12 0.5-10.5 0.5-6 0.5 10.5 0.5-14.5 1 15 0.5-6 0.5 5 0.5-13.5 0.5 11.5 1-1 0.5-7.5 0.5 12.5 0.5 5.5 0.5-11 1 2 0.5-12 0.5 14 0.5 2.5 0.5-6.5 1 9.5 0.5-5.5 0.5-8.5 0.5 0 0.5 8.5 1-0.5 0.5-11 0.5 10 0.5 10 0.5-15.5 1-11.5 0.5 13 0.5-7.5 0.5 11 0.5 0.5 1 7 0.5 4.5 0.5-14.5 0.5 3 0.5 3.5 1-0.5 0.5-6.5 0.5 7 0.5 3.5 0.5 0.5 1-11.5 0.5 5 0.5-1.5 0.5 8.5 0.5-9.5 1-0.5 0.5 13.5 0.5-13 0.5-19 0.5 22.5 1 13 0.5-6.5 0.5-16 0.5 1.5 0.5 9 1 1.5 0.5-5.5 0.5 6.5 0.5-1 0.5 6 1-12 0.5 13 0.5-5 0.5-1.5 0.5-12.5 1 1 0.5 3.5 0.5 2.5 0.5-7 0.5 9.5 1 12 0.5-10.5 0.5 4.5 0.5-8.5 0.5 2.5 1 2.5 0.5-8.5 0.5 22.5 0.5-9 0.5-27.5 1 24 0.5-2.5 0.5-10.5 0.5 12 0.5-2.5 1-4 0.5-0.5 0.5-1 0.5 3 0.5-9 1 18.5 0.5-18 0.5 23 0.5-1.5 0.5-15.5 1 1 0.5 11 0.5-7.5 0.5-0.5 0.5-8.5 1-12.5 0.5 24 0.5-4 0.5 1 0.5-5.5 1 4.5 0.5-0.5 0.5 8 0.5-7.5 0.5-4.5 1 10 0.5-12.5 0.5 13 0.5-13 0.5 17.5 1-23 0.5 14 0.5-1 0.5 3.5 0.5 9.5 1-6.5 0.5 1 0.5-5 0.5-6.5 0.5 8 1-20 0.5 16.5 0.5 6.5 0.5-7 0.5-6.5 1 2.5 0.5 1.5 0.5-3 0.5 12 0.5-7 1 13.5 0.5-14.5 0.5 17 0.5-18 0.5-1.5 1-6 0.5 0.5 0.5 10 0.5-1.5 0.5-4.5 1 15.5 0.5-11.5 0.5 6 0.5 1.5 0.5-5 1 0 0.5-6.5 0.5 12 0.5-9.5 0.5-5.5 1 9 0.5 10 0.5-12.5 0.5 5 0.5 8 1-6 0.5-2 0.5-6 0.5 8 0.5-10 1 13.5 0.5 5.5 0.5-10 0.5-1.5 0.5-4 1 0 0.5 7.5 0.5-11 0.5 2 0.5 13 1-12 0.5 6 0.5-1.5 0.5-11.5 0.5-7 1 24 0.5-10.5 0.5 13 0.5-9 0.5-1 1 5 0.5 2.5 0.5-15.5 0.5 7 0.5-0.5 1 4.5 0.5 4 0.5-7 0.5 2.5 0.5 4 1-4.5 0.5-6 0.5 3 0.5-2 0.5-3.5 1 10 0.5-3 0.5 2 0.5-1.5 0.5-15 1 18 0.5 6 0.5 3 0.5-21.5 0.5 14 1 2 0.5-10 0.5 9 0.5-10.5 0.5-2 1 12.5 0.5-21 0.5 11.5 0.5 6.5 0.5-5.5 1-3.5 0.5 7.5 0.5-5.5 0.5 7 0.5-4 1 11 0.5-11.5 0.5 6 0.5 1.5 0.5 4 1-0.5 0.5-6.5 0.5-3.5 0.5 3.5 0.5-3.5 1-1.5 0.5-9 0.5 15 0.5-3 0.5-2 1-0.5 0.5 3.5 0.5 6.5 0.5 9 0.5-6 1-1 0.5-3.5 0.5 0.5 0.5-6.5 0.5-0.5 1-4.5 0.5 7.5 0.5-12 0.5 0 0.5 21 1-15.5 0.5 13 0.5-9.5 0.5-1.5 0.5 0 1-5 0.5 5 0.5-5 0.5 0.5 0.5 2 1 3.5 0.5-2.5 0.5 11 0.5-2 0.5-1 1-11.5 0.5 10.5 0.5-1.5 0.5 9.5 0.5-26 1 20 0.5-4 0.5-2 0.5 11.5 0.5-6 1-5.5 0.5 9 0.5-16 0.5 8 0.5-5.5 1 13 0.5-6.5 0.5-1 0.5-0.5 0.5 15 1-23 0.5 3.5 0.5 17 0.5-8.5 0.5-0.5 1-6.5 0.5 9.5 0.5 4 0.5-0.5 0.5-13.5 1 19 0.5-13.5 0.5-1 0.5 11 0.5-10.5 1-0.5 0.5-4 0.5 1.5 0.5 5.5 0.5 0.5 1-5 0.5 0 0.5-1 0.5-4 0.5 17 1-12 0.5-3 0.5 6 0.5 7.5 0.5-9 1 2.5 0.5-9.5 0.5 17.5 0.5-6.5 0.5 7 1-13.5 0.5 1 0.5 6 0.5 2 0.5-3 1-5.5 0.5 1 0.5 8 0.5-4 0.5-8 1 20.5 0.5-3.5 0.5-8 0.5 1.5 0.5-1 1-21 0.5 14 0.5 2.5 0.5-2 0.5 12 1-6 0.5-6 0.5-7 0.5 9 0.5-1 1 12 0.5-14.5 0.5 8 0.5-3.5 0.5-4 1 5 0.5 21 0.5-17 0.5-1.5 0.5-3 1-2 0.5-1 0.5 8.5 0.5-11 0.5 1 1-0.5 0.5-0.5 0.5 9.5 0.5-9 0.5 3 1 6.5 0.5 0 0.5-5 0.5 13.5 0.5-8 1-6.5 0.5-1 0.5 1.5 0.5 4 0.5-0.5 1 4 0.5-6 0.5-6 0.5 4 0.5-4 1-8 0.5 1 0.5 6.5 0.5 6.5 0.5-21 1 20.5 0.5 3.5 0.5-5 0.5 3.5 0.5-6.5 1 2 0.5-7 0.5 9 0.5 17.5 0.5-10.5 1-4.5 0.5-0.5 0.5-14.5 0.5 19 0.5-9 1 6 0.5-5.5 0.5-2.5 0.5 7.5 0.5 5.5 1 1 0.5-8.5 0.5 4.5 0.5-11 0.5 11 1-0.5 0.5-5 0.5-4.5 0.5 11.5 0.5-6.5 1 5 0.5-1.5 0.5 0.5 0.5-1.5 0.5 17.5 1-30.5 0.5 9 0.5 2.5 0.5 8 0.5-7.5 1-1 0.5-2.5 0.5 17.5 0.5-14 0.5 5 1-6.5 0.5 4 0.5 0 0.5 5 0.5-10 1 9 0.5-6 0.5 5 0.5-5 0.5-3 1 2 0.5-2 0.5 10 0.5-23 0.5 10 1 1 0.5 1.5 0.5 6.5 0.5 0.5 0.5-7 1 3 0.5-0.5 0.5 0 0.5-3 0.5-5 1-2 0.5 7.5 0.5 10.5 0.5-6 0.5 0.5 1 4 0.5-1 0.5 3 0.5-15 0.5 15.5 1-14.5 0.5 10.5 0.5-7.5 0.5 9 0.5 5.5 1-7.5 0.5-3 0.5 5.5 0.5-8.5 0.5-3.5 1 3 0.5-0.5 0.5 7.5 0.5-8.5 0.5-5 1 21 0.5-20.5 0.5 4 0.5 16 0.5-15.5 1 1.5 0.5 3.5 0.5 2 0.5-2.5 0.5 9 1-9.5 0.5-11 0.5 24 0.5 0.5 0.5-19 1 0 0.5 7 0.5-9 0.5-13 0.5 24 1-5.5 0.5 1.5 0.5-1 0.5-5.5 0.5 21 1-11 0.5-4 0.5 4.5 0.5-5.5 0.5 7.5 1 16.5 0.5-32 0.5 15 0.5-5 0.5 12.5 1-15.5 0.5-2.5 0.5 15 0.5-13 0.5-1 1 4.5 0.5 7 0.5-6 0.5 5 0.5-4.5 1-2.5 0.5 9.5 0.5-9 0.5 2 0.5-4.5 1 6.5 0.5 0 0.5-6 0.5 12.5 0.5-8 1 6 0.5-2 0.5-6 0.5 3 0.5-15.5 1 25 0.5-11 0.5 4 0.5-6 0.5-2.5 1 5.5 0.5-5 0.5 5 0.5 3 0.5-12.5 1 7.5 0.5 13 0.5-22 0.5 7 0.5 5 1 2.5 0.5-2 0.5 10.5 0.5-24.5 0.5 11.5 1-7.5 0.5 5 0.5 6 0.5-6 0.5 10.5 1-10 0.5 0.5 0.5 8.5 0.5 0.5 0.5-7.5 1-13 0.5 12 0.5 4.5 0.5-6.5 0.5 13.5 1-3.5 0.5-10 0.5 7 0.5-5 0.5 2.5 1 7.5 0.5-12.5 0.5 4 0.5 3.5 0.5-11 1 15 0.5-26 0.5 9 0.5 8 0.5 18.5 1-6 0.5-4.5 0.5-5.5 0.5-15.5 0.5 17 1-7.5 0.5 9.5 0.5-0.5 0.5-7.5 0.5 15.5 1-7.5 0.5-0.5 0.5 3 0.5-7 0.5-4.5 1 5.5 0.5-8.5 0.5 0 0.5 4 0.5 9 1-0.5 0.5-5 0.5-3.5 0.5 6.5 0.5-4.5 1-3 0.5 1 0.5-4 0.5 12 0.5-3 1-10 0.5 21.5 0.5-11.5 0.5-5.5 0.5 1.5 1 14 0.5-10.5 0.5-7.5 0.5 6 0.5 7.5 1-14.5 0.5 9 0.5-6 0.5 3 0.5 2 1 2.5 0.5-7.5 0.5 6 0.5-1 0.5 21 1-14 0.5-4 0.5-9.5 0.5 1.5 0.5-7 1 6 0.5 3.5 0.5 7 0.5 3.5 0.5-18 1 10.5 0.5-1 0.5 3 0.5-7.5 0.5 3.5 1 3 0.5-15" fill="none" stroke="#FFC000" stroke-width="5.5" stroke-linejoin="round" stroke-linecap="round" clip-path="url(#clip1)"/>
<circle cx="529.9" cy="2036.1" r="18.5" fill="#FFC000"/>
<circle cx="666.4" cy="2155.7" r="18.5" fill="#FFC000"/>
<circle cx="1103.1" cy="2241.1" r="18.5" fill="#FFC000"/>
<circle cx="1371.5" cy="2275.2" r="18.5" fill="#FFC000"/>
<rect x="272.0" y="2086.9" width="35.0" height="35.0" rx="2" fill="#00B050"/>
<rect x="533.6" y="1796.5" width="35.0" height="35.0" rx="2" fill="#00B050"/>
<rect x="605.1" y="2104.0" width="35.0" height="35.0" rx="2" fill="#00B050"/>
<rect x="674.8" y="2018.6" width="35.0" height="35.0" rx="2" fill="#00B050"/>
<rect x="737.7" y="2086.9" width="35.0" height="35.0" rx="2" fill="#00B050"/>
<rect x="798.1" y="2138.2" width="35.0" height="35.0" rx="2" fill="#00B050"/>
<rect x="856.2" y="2138.2" width="35.0" height="35.0" rx="2" fill="#00B050"/>
<rect x="1070.7" y="2138.2" width="35.0" height="35.0" rx="2" fill="#00B050"/>
<rect x="1119.9" y="2018.6" width="35.0" height="35.0" rx="2" fill="#00B050"/>
<rect x="1263.2" y="2138.2" width="35.0" height="35.0" rx="2" fill="#00B050"/>
<rect x="1307.9" y="2155.2" width="35.0" height="35.0" rx="2" fill="#00B050"/>
<rect x="1352.9" y="2138.2" width="35.0" height="35.0" rx="2" fill="#00B050"/>
<rect x="1397.2" y="2018.6" width="35.0" height="35.0" rx="2" fill="#00B050"/>
<rect x="1439.5" y="2138.2" width="35.0" height="35.0" rx="2" fill="#00B050"/>
<rect x="1482.2" y="2138.2" width="35.0" height="35.0" rx="2" fill="#00B050"/>
<rect x="1524.8" y="2155.2" width="35.0" height="35.0" rx="2" fill="#00B050"/>
<rect x="1608.5" y="2138.2" width="35.0" height="35.0" rx="2" fill="#00B050"/>
<rect x="1648.1" y="2155.2" width="35.0" height="35.0" rx="2" fill="#00B050"/>
<rect x="1767.3" y="2155.2" width="35.0" height="35.0" rx="2" fill="#00B050"/>
<rect x="1806.9" y="2138.2" width="35.0" height="35.0" rx="2" fill="#00B050"/>
<rect x="1845.3" y="2155.2" width="35.0" height="35.0" rx="2" fill="#00B050"/>
<rect x="1883.1" y="2138.2" width="35.0" height="35.0" rx="2" fill="#00B050"/>
<rect x="1923.4" y="2155.2" width="35.0" height="35.0" rx="2" fill="#00B050"/>
<rect x="1961.2" y="2138.2" width="35.0" height="35.0" rx="2" fill="#00B050"/>
<rect x="1999.9" y="2155.2" width="35.0" height="35.0" rx="2" fill="#00B050"/>
<path d="M263 2195 l1 0.5 1 0.5 1-2 1 3 1-4.5 1-0.5 1 2 1 1 1-1.5 1 4 1-3 1 0 1 3 1-3 1-0.5 1-1 1-3 1 1.5 1-0.5 1-4.5 1-4.5 1-9 1-4.5 1-9.5 1-2.5 1-5 1 3.5 1 7.5 1 5.5 1 8 1 7 1 4.5 1 4 1 1 1 0.5 1 1.5 1 0.5 1 1 1-0.5 1 2 1-1.5 1 0 1 1.5 1 0.5 1 1.5 1-2 1-1 1 0.5 1-0.5 1 1.5 1-0.5 1-1.5 1 2.5 1-1.5 1 1.5 1-1 1 1 1-1.5 1 3 1-1.5 1 0.5 1 0 1-2.5 1 1 1 2 1 1.5 1-3 1 2 1-0.5 1-2 1 0.5 1 0 1 2 1-1 1-1 1 2.5 1 0 1 0 1-1 1-2.5 1 2 1-1 1 1 1-1 1 1 1 2 1-3 1 2.5 1-0.5 1 0 1-3.5 1 1.5 1 1.5 1 0 1 0 1 0 1 0.5 1-2 1 1 1 0 1 0 1 2 1-0.5 1-2.5 1 0 1 1.5 1 1.5 1-2.5 1 0.5 1 0.5 1 0.5 1-0.5 1-0.5 1 0 1 1 1 1.5 1-1 1-1.5 1 0.5 1 0.5 1 0 1 0 1 1 1-1 1 1 1 2 1-3 1 0.5 1-1 1 1 1-2 1 1 1 1 1 1 1-2 1 2 1 0.5 1-1.5 1 1 1-2 1 3 1 1.5 1-3 1-1.5 1 2.5 1-0.5 1 1.5 1 1.5 1-3 1 0 1 0 1 1.5 1-1.5 1 1 1 0 1-1.5 1 0.5 1 1 1-0.5 1 1 1-3.5 1 2.5 1 0 1-0.5 1 0.5 1 1 1-0.5 1-0.5 1 2.5 1-4 1 1 1 1 1 0.5 1-1 1 1 1-1 1-0.5 1-2 1 1 1 3 1-1 1 0.5 1 0.5 1-1.5 1 0.5 1-0.5 1 0.5 1 1.5 1-2.5 1 2 1-3 1 3.5 1-2 1-0.5 1-1 1 1 1 1 1-1 1-0.5 1 2 1 0.5 1 2 1-1.5 1-1.5 1 0.5 1 1 1-0.5 1-0.5 1 1 1-0.5 1-0.5 1 0 1-0.5 1 0.5 1 0 1-1.5 1 1 1-0.5 1 0 1 1 1 4 1-3 1-3.5 1 4 1-2.5 1 0.5 1 1.5 1 0.5 1-2.5 1 2.5 1-2 1 0.5 1 0 1-1 1 3 1-0.5 1-1 1-0.5 1-0.5 1 2 1-1.5 1 0.5 1-0.5 1 1 1-2.5 1 2 1 1 1-3.5 1 0.5 1 0.5 1 1 1-1.5 1-1 1 3 1-0.5 1 2.5 1-4.5 1 0.5 1-0.5 1 1 1-1.5 1-1 1 1.5 1-2.5 1 2.5 1 0 1-1 1-2.5 1 1 1-2 1-1.5 1-2.5 1-1 1-2 1-1.5 1-3 1-3 1-6 1-10.5 1-17.5 1-27 1-47.5 1-65 1-84.5 1-87 1-63 1-8.5 1 58 1 84.5 1 86.5 1 68 1 51 1 31 1 20 1 9.5 1 5 1 6 1 3.5 1 0.5 1 3 1 3.5 1 1.5 1-0.5 1 0.5 1-0.5 1 2.5 1-0.5 1 1 1-1 1 0.5 1 1.5 1 1 1-0.5 1-1.5 1 1 1 2.5 1-1 1 0.5 1-1.5 1 2 1 0 1-1.5 1 3 1-1.5 1-0.5 1 0 1 0.5 1 0.5 1-2.5 1-0.5 1-0.5 1-4 1-2.5 1-3.5 1-4 1-5.5 1 2 1 2.5 1 3 1 3 1 5 1 1 1 4 1 2 1 1 1 0.5 1-1 1 1 1-2.5 1 0.5 1-0.5 1 1 1 1.5 1-1.5 1-0.5 1-1.5 1-3 1 1.5 1 0 1-1.5 1 0 1-3.5 1 1 1 2.5 1-1 1 2.5 1 1.5 1 0.5 1-0.5 1 0.5 1 2.5 1 1.5 1 0.5 1 0 1 0.5 1-3 1 3.5 1-2.5 1 1 1-1 1-0.5 1 2 1-3.5 1 0 1 0 1 3 1 0.5 1 1.5 1 0 1-2.5 1 1 1-0.5 1-0.5 1-0.5 1 2.5 1-1.5 1 1 1-1.5 1 0.5 1-1 1-0.5 1 1.5 1-2.5 1 3.5 1 0 1-0.5 1-3 1 1.5 1 0.5 1 1 1-1 1-0.5 1 0.5 1-1.5 1 0 1-4.5 1 3 1-1 1-3 1 0.5 1-2.5 1-5 1-8 1-11 1-18 1-26 1-27 1-26.5 1-8 1 9 1 23.5 1 29.5 1 23.5 1 19.5 1 11.5 1 8.5 1 4.5 1 3 1 3 1-1.5 1 2 1 1.5 1-0.5 1 0.5 1 1 1-0.5 1 2 1 0.5 1-1 1-2 1 3 1-1 1 1 1 2.5 1-2.5 1 1.5 1 0.5 1 0 1-2 1 1.5 1-1.5 1 1.5 1-3 1 1.5 1 3.5 1-2.5 1 3 1-4 1 1.5 1-0.5 1 1 1 0 1 0.5 1 0.5 1-1.5 1 2 1-1.5 1 1 1-4.5 1 3.5 1 0 1-1 1 0.5 1 1 1-3.5 1-1.5 1-2.5 1 1 1-7.5 1-2.5 1-6.5 1-4 1 1 1 3 1 7 1-1.5 1-2 1-4.5 1-10.5 1-14 1-15.5 1-2.5 1 3 1 15.5 1 12.5 1 15 1 10 1 0.5 1 7 1-2.5 1 4 1-0.5 1 1 1-0.5 1 0 1 2.5 1-1.5 1-0.5 1 2 1-1 1-1 1 1.5 1-0.5 1-0.5 1 0.5 1-0.5 1 0.5 1 1 1-1.5 1 1 1-2.5 1 3 1-2 1 3.5 1-2.5 1-0.5 1 1 1 0.5 1 0.5 1 1 1-2.5 1-1 1 1.5 1 0.5 1-3.5 1 0 1-1 1-3.5 1 1 1-3 1-0.5 1-3.5 1 1.5 1 0 1 2 1 1.5 1 3 1-1.5 1 5 1 1 1 0 1 1.5 1-1.5 1 1.5 1 1 1 0.5 1 0.5 1-2 1 0.5 1 2 1-2.5 1 0.5 1-0.5 1-1.5 1 2.5 1 0 1 0.5 1-2.5 1 1.5 1 0 1 1.5 1-1.5 1 3 1-4 1 1.5 1-0.5 1 2 1 0.5 1-1 1-1.5 1 0 1-3 1 3.5 1-2.5 1 2.5 1-0.5 1 0.5 1-1.5 1 0.5 1-0.5 1-0.5 1 2.5 1-2.5 1 0 1-2.5 1-2 1-2.5 1-1 1-5.5 1-2 1 0.5 1 2 1 2 1 5 1 1 1-1 1 3 1 1.5 1 3 1-1.5 1 1.5 1-1 1 2.5 1-2 1 4 1-1.5 1 0.5 1-2 1 1 1-0.5 1 1.5 1-2.5 1 1 1-1.5 1 1.5 1 0.5 1 0.5 1-0.5 1-0.5 1 2 1-0.5 1-1.5 1-1 1 2.5 1-2 1 0.5 1-0.5 1-2 1 3 1 2 1-1 1-0.5 1 0.5 1 0 1 2 1-4 1 2 1 0 1 0 1-3 1 0.5 1-2 1-1 1-0.5 1-1 1 3 1-1.5 1-1 1-1 1 1 1 1.5 1 0 1 0 1 3.5 1 1.5 1-1 1 0 1 1 1 0 1-0.5 1 2.5 1 0 1-3 1 1 1 1 1-1 1-2 1 3.5 1 0 1-0.5 1-0.5 1 1 1 0 1-3 1 3.5 1-2 1 0 1 0 1 1 1 1 1-2.5 1 1 1 3 1-1 1-0.5 1-1.5 1 0.5 1-3 1 2.5 1-0.5 1-1 1 0 1-0.5 1 2 1-0.5 1-2.5 1-2 1-5.5 1-3.5 1-8 1-6.5 1-5 1 2 1 9 1 6.5 1 5.5 1 5 1 1.5 1 1.5 1 2 1 0.5 1 0 1-2.5 1-3 1 1 1 0.5 1-4.5 1 2 1-5 1 1.5 1-0.5 1-1.5 1 2.5 1 4 1 0.5 1 2 1 0.5 1 5 1-3 1 1 1 0 1 1.5 1-0.5 1 1 1-0.5 1-1.5 1-0.5 1 3 1-2.5 1 0 1 0.5 1 0 1 1 1-0.5 1 0.5 1-0.5 1 1 1 0 1-1.5 1 1 1-2.5 1 1.5 1 1.5 1 1.5 1-2 1-2.5 1 2.5 1-1.5 1 3 1-2.5 1 0.5 1-0.5 1-0.5 1-1.5 1 3 1-1.5 1 0 1 2 1 0.5 1-2 1 1.5 1-0.5 1-1.5 1 2.5 1-1.5 1-0.5 1-1 1 1.5 1-1 1-0.5 1-1.5 1 3.5 1 1.5 1-4.5 1 2.5 1-0.5 1 0 1 0 1-1 1 0 1 1 1-1.5 1 0.5 1-1 1 0 1-0.5 1-1.5 1 3 1-1.5 1-2 1-4.5 1 0 1-2 1 1.5 1 2 1-2.5 1-3 1 2.5 1 5 1-2 1 1.5 1 2.5 1 1 1-1 1 0 1 1.5 1 2 1-1 1-3 1 3 1 0 1-2.5 1 2 1-1.5 1 1 1 1 1 0.5 1-2 1 1.5 1-1 1 0.5 1-1 1-3 1 4.5 1-1 1 0 1 0 1-3.5 1 2 1-1.5 1 1 1-2 1 1 1-3.5 1 0.5 1 0.5 1-3 1-3.5 1-4 1-10.5 1-11 1-22 1-27.5 1-31.5 1-25.5 1-8 1 13.5 1 26.5 1 33.5 1 23.5 1 18.5 1 12.5 1 9 1 2 1 6 1 0 1 2 1 1.5 1 0.5 1 0.5 1 0.5 1 1.5 1 0 1-1 1 1.5 1-1.5 1 1.5 1-0.5 1 1.5 1-2.5 1 2 1 1 1-2.5 1 1 1 0.5 1 0.5 1-1.5 1 0 1 1.5 1-1 1 1 1-1 1 0.5 1-1 1-0.5 1 1 1-2.5 1 1.5 1 0 1-3 1-1 1-1 1-3.5 1 1 1 0.5 1-0.5 1 5.5 1-1.5 1 2.5 1 0.5 1-1 1 3 1 1 1-1 1 0 1 3 1-1.5 1-0.5 1 0.5 1 1 1-1.5 1 1 1-1.5 1 0.5 1-0.5 1 1 1 0 1 0.5 1-0.5 1 2 1-2.5 1 0.5 1 0 1 2 1 0 1-0.5 1-2 1 0 1 1 1 0.5 1 1 1-1.5 1 0 1-0.5 1-0.5 1 1.5 1-0.5 1 1 1-3.5 1 2.5 1 0.5 1 0.5 1 1 1-1.5 1-1 1-2.5 1 3.5 1 2 1-3 1 2.5 1-2 1 2 1-3 1 0 1 0 1 3 1-2.5 1 0.5 1 1 1-1 1-0.5 1 2 1-1 1 0.5 1 0 1-2.5 1 0.5 1 0.5 1 1.5 1 0.5 1 0 1-2 1-0.5 1 2 1 1 1-1.5 1-1.5 1 1 1-3 1 2 1-1 1-2 1-2.5 1-1.5 1-5.5 1-2.5 1-0.5 1-3 1 1 1 5 1 2.5 1 3 1 3.5 1 1.5 1 1 1 2 1-1.5 1 1.5 1 1 1 3 1-4 1 1.5 1 1.5 1-3.5 1-1.5 1 1 1 0.5 1 0.5 1 1 1 0 1-0.5 1 1.5 1-0.5 1 0 1-2 1 2 1 0 1 0 1-3 1 4 1-1.5 1 1 1 0 1-1.5 1 0 1-2 1 0.5 1-1.5 1-3 1-1 1 2 1-4 1 2 1 0 1 0 1 6 1-5 1 3.5 1 1 1 1 1 0.5 1-0.5 1-0.5 1 2 1-0.5 1 2.5 1-1 1-0.5 1-1.5 1 0 1-2.5 1 2 1 0.5 1 0 1 1 1 0.5 1 1 1-3 1-0.5 1 0 1-2 1 4 1 0 1 0 1-1 1 0.5 1 0.5 1-0.5 1-1.5 1-2 1-0.5 1-1 1-2.5 1-1 1-3.5 1-2.5 1-2.5 1 1.5 1 2.5 1 3.5 1-1 1 5.5 1 0.5 1 3.5 1 0.5 1 0 1-0.5 1-0.5 1 1.5 1-1 1 2.5 1-0.5 1-2.5 1 2.5 1-2 1 2 1-1 1-1.5 1 1.5 1-1.5 1-0.5 1 1 1 0.5 1-2.5 1-0.5 1 1 1-2 1 2 1-1.5 1 0.5 1-3 1 0 1-4.5 1-4 1-4 1-8 1-14.5 1-20 1-22.5 1-16 1-6.5 1 13.5 1 17 1 21 1 18.5 1 8.5 1 11.5 1 5 1 3.5 1 2 1-0.5 1 1 1 1.5 1-0.5 1-1 1-1.5 1-1 1-4 1-1.5 1-6 1-2 1-3 1 2.5 1 4 1 3.5 1 2.5 1 3 1 2.5 1 1.5 1 4 1-4.5 1 2.5 1 0.5 1-0.5 1 2.5 1-1.5 1-1 1 0.5 1-3 1 0.5 1-5 1-0.5 1-2 1-4.5 1-3 1 0.5 1 1 1 1.5 1 2.5 1 6.5 1 1.5 1 1.5 1 3 1 0.5 1 0 1-0.5 1 2 1-1 1 0 1 0.5 1-0.5 1 0.5 1-1.5 1 1.5 1 2 1-2 1-2 1 2.5 1-3 1 1.5 1 0 1 1.5 1-0.5 1-1.5 1 1.5 1-0.5 1 2 1-0.5 1-3 1-2.5 1-1.5 1-3 1-0.5 1-3.5 1 0.5 1-3 1-2 1-2 1 0.5 1 2.5 1 5 1 1.5 1 3 1 3.5 1 2 1-0.5 1 0 1 0.5 1 1.5 1 0 1 0 1-2.5 1 1.5 1 2 1-0.5 1 1.5 1-2 1-0.5 1 1.5 1 1.5 1 1 1-1.5 1-2 1 1.5 1-0.5 1-3 1 3.5 1-4 1 2.5 1-1.5 1 2 1-4 1-1 1-0.5 1 0 1-2 1-2 1-1 1-1.5 1 3.5 1 0 1-1.5 1 2 1 4.5 1-1 1-1 1 3 1 1.5 1 1 1-2 1 1 1 1 1 1 1 1 1-3.5 1 3 1-1.5 1-0.5 1 0.5 1-2 1 0.5 1 1.5 1-1.5 1 3.5 1-2.5 1 3 1-2 1-0.5 1-1 1 0 1 1 1 0 1-2.5 1 1.5 1-0.5 1 0.5 1 2.5 1-2 1-0.5 1 0.5 1 1.5 1-2.5 1 1 1 1 1 1 1 0.5 1-2.5 1 1 1-2 1 1 1-2 1 1 1 0.5 1 2 1-1.5 1-0.5 1-2 1 1 1-0.5 1 2 1-5.5 1-3 1-3.5 1-5 1-2.5 1-3.5 1 0.5 1 1 1 2.5 1 5 1 5 1 0 1 4 1-0.5 1 2 1-4.5 1-1.5 1 0 1 1 1-1.5 1-0.5 1 0 1 3 1 1.5 1 1 1 4 1 0.5 1 0 1-1.5 1 1.5 1 3.5 1-5.5 1 2 1 1.5 1 2 1-2.5 1-1 1 4 1-1.5 1-3 1 3.5 1-1 1-1 1-2.5 1 3.5 1-2 1 1 1-0.5 1 1 1 1 1-0.5 1-1 1 0 1-1.5 1 1 1-0.5 1-0.5 1-2.5 1-0.5 1 0.5 1-1.5 1-2 1 2 1 2.5 1-1.5 1-1.5 1 3 1-2 1 2.5 1-0.5 1 2 1 2 1-0.5 1-2 1 3.5 1-2.5 1 3.5 1-3 1-3 1 2.5 1 1 1-0.5 1-1 1 3 1 0 1-3 1 3 1-3.5 1 2 1 0 1 1.5 1-0.5 1-2 1 0.5 1 1 1-0.5 1 0.5 1-1.5 1 3 1-1.5 1 0 1 0.5 1 1.5 1-2 1-1 1 1.5 1-3 1 2 1 0 1 0 1 3 1-3.5 1 1.5 1 1 1-0.5 1 2 1-2 1 0.5 1 0 1 1 1-2 1 2.5 1-2.5 1-0.5 1 0.5 1 0 1 0 1 0 1 1 1 0 1-0.5 1-0.5 1-0.5 1 1.5 1-1.5 1 1 1-0.5 1 0.5 1 0 1 2 1-1.5 1-1.5 1 0.5 1-0.5 1-1 1 0.5 1 0 1-2 1 3.5 1-0.5 1-1 1 3 1 1 1-2.5 1 0.5 1 0 1-1.5 1-1 1 2 1-3 1 2 1-1.5 1 2 1-1.5 1 0 1 0.5 1 2 1-0.5 1-1 1-2 1 1.5 1 0 1-0.5 1 1.5 1-2.5 1-1 1-1 1-1 1-1 1 0 1-3 1 0 1 1.5 1-1 1-1.5 1 3 1 0.5 1 1.5 1 2.5 1 0.5 1-1 1 0.5 1 3.5 1-2 1 0 1 2.5 1-2.5 1-1 1 2.5 1-2.5 1 1 1 0 1 1.5 1-2 1 0 1 0 1 0.5 1-1.5 1 0.5 1 1 1-2.5 1 2.5 1-2 1 0 1 1 1-1.5 1-2 1 0.5 1-2.5 1-2.5 1 2.5 1-4 1 0.5 1 2.5 1-1 1 0.5 1 5 1-0.5 1 0 1 1 1 1 1 2.5 1 1 1-5 1 2 1 2.5 1 0.5 1-2 1 0.5 1-1.5 1 0.5 1 0.5 1-2.5 1 2.5 1-1 1-1.5 1 3 1 0.5 1-2 1 1.5 1-1 1-3.5 1 2 1-2 1-2 1 2 1-4 1 0.5 1-2 1 0 1 0.5 1 1 1 1 1 0 1 1 1 2 1 1 1 0.5 1-1.5 1 3.5 1-1.5 1 1.5 1 0 1-0.5 1 1.5 1 1 1-1 1-1 1-1 1 0.5 1-1 1 1 1 0.5 1-1.5 1 2 1-1.5 1 0 1 0 1 0 1 1.5 1-2 1-1.5 1-2 1 0.5 1-2 1-3 1-0.5 1 1.5 1-1 1-1 1 4.5 1-2 1 4.5 1-1.5 1 3 1 1.5 1 0 1 0 1-1 1 1.5 1 0 1-1 1 1.5 1 2 1-1 1-1 1 0 1 0 1-0.5 1 1 1 1 1-2 1 0.5 1 1 1-1.5 1-0.5 1-1 1-1.5 1-0.5 1 0 1-1.5 1 0 1-3 1 0 1-1.5 1-0.5 1-1.5 1 3.5 1 2.5 1 2 1-1 1-0.5 1 2.5 1-1 1 0.5 1 1.5 1 2 1-1.5 1 0.5 1 1 1 0.5 1 0.5 1-2.5 1 2.5 1-0.5 1-0.5 1-2 1 3.5 1-1 1 0 1-4.5 1 2 1 2 1-2 1-0.5 1-2.5 1-1 1 1 1-1.5 1-3 1-1 1 1.5 1 0.5 1-2 1 3.5 1 3 1-2 1-0.5 1 5 1-1 1 3.5 1-2.5 1 1.5 1 2 1-2 1-1.5 1 0 1 1 1 0.5 1-0.5 1-1.5 1 3 1-2.5 1 1 1-1.5 1 1 1 2.5 1-2.5 1 2 1-1 1-1 1 3 1-2.5 1-1 1 0.5 1-0.5 1-1 1-3.5 1 1 1-2.5 1-0.5 1 0 1-2 1 0 1 0 1 3.5 1 1 1 0 1 4 1-0.5 1-1 1-1.5 1 3 1-2 1 0.5 1 2.5 1 0 1 0 1 2 1-1.5 1 1.5 1 0.5 1 0 1-0.5 1-1.5 1-0.5 1 0 1 1 1 0.5 1 0 1-0.5 1-2 1 3 1 1 1-4 1 1 1 1.5" fill="none" stroke="#00B050" stroke-width="5.5" stroke-linejoin="round" stroke-linecap="round" clip-path="url(#clip1)"/>
<path d="M982.5 1881.9L1000.0 1916.9L965.0 1916.9Z" fill="#fff" stroke="#000000" stroke-width="6.0" stroke-linejoin="round"/>
<path d="M1198.8 1881.9L1216.3 1916.9L1181.3 1916.9Z" fill="#fff" stroke="#000000" stroke-width="6.0" stroke-linejoin="round"/>
<path d="M1919.7 1881.9L1937.2 1916.9L1902.2 1916.9Z" fill="#fff" stroke="#000000" stroke-width="6.0" stroke-linejoin="round"/>
<circle cx="516.8" cy="2411.9" r="18.5" fill="#00B0F0"/>
<circle cx="653.3" cy="2582.8" r="18.5" fill="#00B0F0"/>
<circle cx="1080.5" cy="2630.6" r="18.5" fill="#00B0F0"/>
<circle cx="1344.4" cy="2668.2" r="18.5" fill="#00B0F0"/>
<circle cx="1427.6" cy="2753.6" r="18.5" fill="#00B0F0"/>
<circle cx="1733.8" cy="2753.6" r="18.5" fill="#00B0F0"/>
<circle cx="1950.7" cy="2753.6" r="18.5" fill="#00B0F0"/>
<circle cx="2022.5" cy="2753.6" r="18.5" fill="#00B0F0"/>
<circle cx="541.9" cy="2326.5" r="18.5" fill="#ED7D31"/>
<circle cx="682.5" cy="2411.9" r="18.5" fill="#ED7D31"/>
<circle cx="1125.5" cy="2548.6" r="18.5" fill="#ED7D31"/>
<circle cx="1398.1" cy="2548.6" r="18.5" fill="#ED7D31"/>
<circle cx="1483.6" cy="2548.6" r="18.5" fill="#ED7D31"/>
<circle cx="1803.2" cy="2582.8" r="18.5" fill="#ED7D31"/>
<circle cx="2029.0" cy="2582.8" r="18.5" fill="#ED7D31"/>
<circle cx="521.0" cy="2206.9" r="18.5" fill="#FF0000"/>
<circle cx="655.4" cy="2275.2" r="18.5" fill="#FF0000"/>
<circle cx="1085.5" cy="2377.8" r="18.5" fill="#FF0000"/>
<circle cx="1351.3" cy="2382.9" r="18.5" fill="#FF0000"/>
<line x1="985.2" y1="1833.8" x2="985.2" y2="2833.5" stroke="#000" stroke-width="3.0" stroke-dasharray="18.6 5.45"/>
<line x1="1200.2" y1="1833.8" x2="1200.2" y2="2833.5" stroke="#000" stroke-width="3.0" stroke-dasharray="18.6 5.45"/>
<line x1="1920.9" y1="1833.8" x2="1920.9" y2="2833.5" stroke="#000" stroke-width="3.0" stroke-dasharray="18.6 5.45"/>
<path d="M263.0 1814.0H2050.5V2839.0" fill="none" stroke="#000" stroke-width="3.0"/>
<rect x="259.0" y="1810.5" width="8.0" height="1032.0" fill="#000"/>
<rect x="259.0" y="2835.5" width="1793.0" height="7.0" fill="#000"/>
<rect x="245.0" y="2835.5" width="18.0" height="7" fill="#000"/>
<text x="213.0" y="2858.5" text-anchor="end" style="font-family:'Liberation Sans',Arial,sans-serif;font-size:60px">0</text>
<rect x="245.0" y="2664.7" width="18.0" height="7" fill="#000"/>
<text x="213.0" y="2687.7" text-anchor="end" style="font-family:'Liberation Sans',Arial,sans-serif;font-size:60px">50</text>
<rect x="245.0" y="2493.8" width="18.0" height="7" fill="#000"/>
<text x="213.0" y="2516.8" text-anchor="end" style="font-family:'Liberation Sans',Arial,sans-serif;font-size:60px">100</text>
<rect x="245.0" y="2323.0" width="18.0" height="7" fill="#000"/>
<text x="213.0" y="2346.0" text-anchor="end" style="font-family:'Liberation Sans',Arial,sans-serif;font-size:60px">150</text>
<rect x="245.0" y="2152.2" width="18.0" height="7" fill="#000"/>
<text x="213.0" y="2175.2" text-anchor="end" style="font-family:'Liberation Sans',Arial,sans-serif;font-size:60px">200</text>
<rect x="245.0" y="1981.3" width="18.0" height="7" fill="#000"/>
<text x="213.0" y="2004.3" text-anchor="end" style="font-family:'Liberation Sans',Arial,sans-serif;font-size:60px">250</text>
<rect x="245.0" y="1810.5" width="18.0" height="7" fill="#000"/>
<text x="213.0" y="1833.5" text-anchor="end" style="font-family:'Liberation Sans',Arial,sans-serif;font-size:60px">300</text>
<rect x="249.0" y="2750.1" width="14.0" height="7" fill="#000"/>
<rect x="249.0" y="2579.2" width="14.0" height="7" fill="#000"/>
<rect x="249.0" y="2408.4" width="14.0" height="7" fill="#000"/>
<rect x="249.0" y="2237.6" width="14.0" height="7" fill="#000"/>
<rect x="249.0" y="2066.8" width="14.0" height="7" fill="#000"/>
<rect x="249.0" y="1895.9" width="14.0" height="7" fill="#000"/>
<rect x="259.5" y="2839.0" width="7" height="18.5" fill="#000"/>
<text x="263.0" y="2928.5" text-anchor="middle" style="font-family:'Liberation Sans',Arial,sans-serif;font-size:60px">20</text>
<rect x="408.5" y="2839.0" width="7" height="13.5" fill="#000"/>
<rect x="557.4" y="2839.0" width="7" height="18.5" fill="#000"/>
<text x="560.9" y="2928.5" text-anchor="middle" style="font-family:'Liberation Sans',Arial,sans-serif;font-size:60px">30</text>
<rect x="706.4" y="2839.0" width="7" height="13.5" fill="#000"/>
<rect x="855.3" y="2839.0" width="7" height="18.5" fill="#000"/>
<text x="858.8" y="2928.5" text-anchor="middle" style="font-family:'Liberation Sans',Arial,sans-serif;font-size:60px">40</text>
<rect x="1004.3" y="2839.0" width="7" height="13.5" fill="#000"/>
<rect x="1153.2" y="2839.0" width="7" height="18.5" fill="#000"/>
<text x="1156.8" y="2928.5" text-anchor="middle" style="font-family:'Liberation Sans',Arial,sans-serif;font-size:60px">50</text>
<rect x="1302.2" y="2839.0" width="7" height="13.5" fill="#000"/>
<rect x="1451.2" y="2839.0" width="7" height="18.5" fill="#000"/>
<text x="1454.7" y="2928.5" text-anchor="middle" style="font-family:'Liberation Sans',Arial,sans-serif;font-size:60px">60</text>
<rect x="1600.1" y="2839.0" width="7" height="13.5" fill="#000"/>
<rect x="1749.1" y="2839.0" width="7" height="18.5" fill="#000"/>
<text x="1752.6" y="2928.5" text-anchor="middle" style="font-family:'Liberation Sans',Arial,sans-serif;font-size:60px">70</text>
<rect x="1898.0" y="2839.0" width="7" height="13.5" fill="#000"/>
<rect x="2047.0" y="2839.0" width="7" height="18.5" fill="#000"/>
<text x="2050.5" y="2928.5" text-anchor="middle" style="font-family:'Liberation Sans',Arial,sans-serif;font-size:60px">80</text>
<text x="1024.0" y="3012.0" style="font-family:'Liberation Sans',Arial,sans-serif;font-size:60px"><tspan font-weight="bold">2 Theta</tspan> (degree)</text>
<text transform="translate(72.4 2388.0) rotate(-90)" style="font-family:'Liberation Sans',Arial,sans-serif;font-size:60px"><tspan font-weight="bold">Intensity</tspan> (a.u.)</text>
<text x="1074.0" y="3203.0" text-anchor="middle" style="font-family:'Liberation Serif','Times New Roman',serif;font-size:104px">(<tspan font-weight="bold">b</tspan>)</text>
<clipPath id="clip2"><rect x="260.0" y="3432.6" width="1728.4" height="953.8"/></clipPath>
<path d="M270 3510.5 l0.5 7.5 0.5 1 1 1 0.5 4.5 0.5-10 0.5-5 0.5 12 1 1 0.5 3.5 0.5-11.5 0.5 7.5 0.5-1.5 1 5.5 0.5 2 0.5-13.5 0.5 6 0.5-1 1-5 0.5-2 0.5 9 0.5-0.5 0.5 9 1 2 0.5-3.5 0.5-12.5 0.5 11.5 0.5-14.5 1 10.5 0.5-3.5 0.5 3.5 0.5-3.5 0.5 6.5 1 0.5 0.5-6.5 0.5 4 0.5 5 0.5-1.5 1 0.5 0.5-12 0.5 9.5 0.5 7.5 0.5-8 1 1.5 0.5-0.5 0.5 6.5 0.5-10 0.5-2 1 2.5 0.5 3.5 0.5 7.5 0.5-0.5 0.5 2.5 1-24 0.5 16.5 0.5 5 0.5 4.5 0.5-6.5 1 6 0.5-12 0.5-3.5 0.5 5 0.5 8.5 1-8.5 0.5-3 0.5 1 0.5 9 0.5-5.5 1 0 0.5 2.5 0.5-4 0.5 3 0.5 0 1 2 0.5 12 0.5-8 0.5-4 0.5-14 1 9 0.5 6.5 0.5-9.5 0.5 4.5 0.5 1.5 1 5.5 0.5-5 0.5-5 0.5 12.5 0.5-6 1 3 0.5 1 0.5-14 0.5 14 0.5 1 1-6 0.5 6 0.5-5.5 0.5 3.5 0.5-1 1 2.5 0.5-9.5 0.5 3 0.5-4 0.5 11.5 1-7 0.5 12 0.5-6.5 0.5-11 0.5 9 1-2.5 0.5-2 0.5 7.5 0.5 1 0.5 0 1-6 0.5 3.5 0.5 1 0.5-13.5 0.5 13.5 1 5 0.5-13 0.5 13 0.5-6.5 0.5-2.5 1 17 0.5-5.5 0.5-8.5 0.5-2.5 0.5-3 1 5 0.5 8.5 0.5-7.5 0.5 1.5 0.5 8 1-11 0.5 1 0.5 0 0.5-4 0.5 11.5 1-1 0.5 3.5 0.5-1.5 0.5 1 0.5-1.5 1-9 0.5 8 0.5-1.5 0.5-1 0.5-6 1-3 0.5 6.5 0.5-0.5 0.5 5.5 0.5-0.5 1-7.5 0.5 4.5 0.5 4.5 0.5-1.5 0.5-1.5 1-2 0.5 6.5 0.5-5 0.5 7 0.5-6 1 0.5 0.5-9.5 0.5 5 0.5 10 0.5-3.5 1-3 0.5-1.5 0.5-3 0.5 6 0.5 3.5 1-11.5 0.5 17 0.5-10 0.5-1.5 0.5 7.5 1-6 0.5-3.5 0.5-0.5 0.5 9 0.5-7 1 4 0.5 7 0.5-13.5 0.5 4 0.5 2 1 5 0.5-5 0.5 0 0.5-3 0.5 8.5 1-5 0.5-2.5 0.5-5 0.5 9.5 0.5-3 1-2 0.5 11 0.5-10.5 0.5-5 0.5 5 1 5.5 0.5-9.5 0.5 16.5 0.5-9.5 0.5 6.5 1-5 0.5-2.5 0.5 4 0.5-8 0.5 4 1 8 0.5-8.5 0.5 6 0.5-5 0.5-8 1 6.5 0.5 5.5 0.5-3.5 0.5 1.5 0.5-1 1-3 0.5 0 0.5 6.5 0.5 1.5 0.5-2 1-4.5 0.5 10.5 0.5 1 0.5-9 0.5-6 1 14 0.5-7.5 0.5-2.5 0.5 5 0.5-1.5 1 2 0.5-3.5 0.5-2 0.5 1.5 0.5 7 1-9.5 0.5 11 0.5-10 0.5 3 0.5 9.5 1-14 0.5 11 0.5-1 0.5-9.5 0.5 4 1 2.5 0.5-7.5 0.5 1.5 0.5 7.5 0.5 3.5 1-0.5 0.5-0.5 0.5 11.5 0.5-21.5 0.5 8.5 1 0 0.5 4 0.5-8.5 0.5 6.5 0.5 8 1-27.5 0.5 6.5 0.5 11 0.5 2.5 0.5-6.5 1 2.5 0.5-1 0.5-8 0.5 20.5 0.5-12.5 1 1 0.5 8.5 0.5 0.5 0.5-7.5 0.5 2 1-0.5 0.5-12 0.5 19.5 0.5-6 0.5 3 1-18 0.5 20 0.5-2 0.5-2 0.5-2.5 1 4.5 0.5-6.5 0.5 6.5 0.5-8 0.5 4.5 1 3 0.5-3.5 0.5-7 0.5 11.5 0.5-5 1 4.5 0.5 7 0.5-4.5 0.5 5 0.5-2.5 1-6 0.5 2.5 0.5-0.5 0.5-3 0.5 6.5 1 0 0.5-1.5 0.5-1.5 0.5-6 0.5 3 1-2.5 0.5 6 0.5 7 0.5-6 0.5-2 1 10.5 0.5-3.5 0.5-3 0.5-3 0.5 1.5 1 4 0.5-5 0.5 6 0.5-7 0.5-4 1 0.5 0.5 8.5 0.5-1.5 0.5 2.5 0.5 4.5 1-2.5 0.5 0.5 0.5-5.5 0.5-1 0.5 16.5 1-15 0.5 7.5 0.5-4.5 0.5-5 0.5 4 1 6 0.5-10.5 0.5 10 0.5-1.5 0.5 1 1 4 0.5 0 0.5 5.5 0.5-13 0.5 2.5 1-1.5 0.5 9 0.5-4 0.5-7 0.5 16 1-8 0.5 3.5 0.5 0.5 0.5-3 0.5 0.5 1-9.5 0.5 8.5 0.5-2 0.5 5.5 0.5-2.5 1-3 0.5 15 0.5-19.5 0.5 2 0.5-5.5 1 7.5 0.5-2 0.5 7.5 0.5-6 0.5 5.5 1-5 0.5 5 0.5-10.5 0.5 11 0.5 11 1-22.5 0.5 14 0.5 6 0.5-6 0.5 0 1-1 0.5-8.5 0.5 2.5 0.5 8.5 0.5 0 1 3.5 0.5 2.5 0.5-12.5 0.5 0.5 0.5 3.5 1-2.5 0.5-3 0.5 1 0.5 7.5 0.5-0.5 1 8 0.5 1 0.5-2 0.5-2 0.5-5 1-3.5 0.5-2 0.5 7 0.5-0.5 0.5-5 1 14.5 0.5-1.5 0.5-3 0.5-6.5 0.5-1 1-1 0.5 7 0.5-2.5 0.5-1.5 0.5-2.5 1 5 0.5 0.5 0.5 9 0.5-14.5 0.5 1 1 5 0.5-1 0.5 7.5 0.5 5.5 0.5-3 1-9 0.5 6.5 0.5-5.5 0.5-5 0.5 6 1 0 0.5-5.5 0.5 9 0.5-9 0.5 1 1 15 0.5-7 0.5 6.5 0.5-16.5 0.5 7.5 1 4 0.5-5 0.5 0 0.5 1.5 0.5-1.5 1-3.5 0.5 0 0.5 13.5 0.5-7.5 0.5-3 1 11 0.5-9.5 0.5 1.5 0.5 12 0.5-6.5 1-0.5 0.5 3.5 0.5-14 0.5 12.5 0.5-17 1 23 0.5-12.5 0.5-4.5 0.5 14 0.5-7 1-7 0.5 8 0.5 1.5 0.5 1 0.5-13.5 1 9.5 0.5 4.5 0.5-9 0.5 5.5 0.5-3 1 0 0.5-6.5 0.5 5.5 0.5 1.5 0.5 8 1-10.5 0.5 6.5 0.5 3 0.5-8.5 0.5 12 1-19 0.5 20.5 0.5-10.5 0.5 0 0.5 9 1-4.5 0.5-5.5 0.5 9.5 0.5-8.5 0.5-7.5 1 28 0.5-27 0.5 14 0.5-7.5 0.5-3 1 4 0.5 7 0.5 8.5 0.5-10.5 0.5 6 1-5 0.5-4 0.5-4.5 0.5 14.5 0.5-4 1-4 0.5-5 0.5 2.5 0.5 10.5 0.5-9.5 1-7 0.5 10 0.5 3 0.5-3 0.5-9.5 1 10.5 0.5-1 0.5 0.5 0.5-1 0.5 1.5 1-2.5 0.5 4 0.5-4.5 0.5-1 0.5 1.5 1 8.5 0.5-5.5 0.5 4 0.5-4 0.5-9 1 14 0.5-7 0.5 7 0.5-7.5 0.5 6.5 1-6 0.5 5 0.5 2.5 0.5-3.5 0.5 1.5 1 2.5 0.5-3.5 0.5 3 0.5 3.5 0.5-2.5 1-4.5 0.5 2 0.5 2.5 0.5-0.5 0.5-3.5 1 4 0.5 1 0.5-16 0.5 17 0.5-8 1 5.5 0.5-7 0.5 5.5 0.5-2 0.5-2.5 1 9 0.5-14.5 0.5 12 0.5 0.5 0.5-14 1 13.5 0.5-2.5 0.5 6 0.5-1 0.5-12.5 1 9.5 0.5 3.5 0.5-1 0.5 0.5 0.5-4.5 1 1.5 0.5 12.5 0.5-7 0.5-1 0.5 5 1-2 0.5-13 0.5 17.5 0.5-11.5 0.5 6 1-12 0.5 4 0.5 21 0.5-13.5 0.5 0.5 1 0 0.5 1.5 0.5-3 0.5 1 0.5-6 1 8 0.5-1 0.5 2 0.5-3 0.5 1 1-2.5 0.5-1 0.5 3.5 0.5-3 0.5 1 1 0.5 0.5-1.5 0.5-3 0.5 6.5 0.5-1.5 1 5.5 0.5-10 0.5 0 0.5-5.5 0.5 12.5 1 11.5 0.5-12 0.5 4 0.5-2 0.5 2 1-7.5 0.5 6 0.5-1.5 0.5-2 0.5 0 1-7.5 0.5 0.5 0.5 7 0.5-7.5 0.5 15 1-8.5 0.5 2.5 0.5-3.5 0.5 1.5 0.5-1 1 5.5 0.5-3 0.5 3.5 0.5 2.5 0.5-5.5 1 6 0.5-7 0.5 0 0.5 7 0.5-8 1 2 0.5 8 0.5-6.5 0.5 0 0.5 5 1-14.5 0.5 2.5 0.5 14 0.5 0 0.5-12 1 5.5 0.5 6.5 0.5-15 0.5 10.5 0.5-2 1-14 0.5 19 0.5-1.5 0.5-3 0.5 3 1-6.5 0.5 16.5 0.5 1.5 0.5-14.5 0.5 8.5 1 0 0.5-4.5 0.5-2 0.5 4.5 0.5-3.5 1-2.5 0.5-0.5 0.5 3 0.5 0.5 0.5 3 1 9 0.5-8 0.5-4 0.5-10 0.5 9.5 1 4.5 0.5 2.5 0.5 0.5 0.5-10.5 0.5 17.5 1-16.5 0.5 1.5 0.5 10.5 0.5-3.5 0.5 6 1-2.5 0.5-3.5 0.5 6.5 0.5-12 0.5 3 1 4 0.5-12 0.5 1.5 0.5 16.5 0.5-11 1-4 0.5-6.5 0.5 4.5 0.5 10 0.5-9 1 6.5 0.5-6.5 0.5-0.5 0.5 10 0.5-1.5 1-9 0.5 5.5 0.5-2 0.5 2 0.5 7.5 1-19.5 0.5 17.5 0.5 5.5 0.5-11 0.5 11.5 1-10.5 0.5 1 0.5-2 0.5-0.5 0.5 7 1 4 0.5-15 0.5 17 0.5-0.5 0.5-8.5 1-4 0.5 6.5 0.5 14.5 0.5-23.5 0.5 11.5 1-6.5 0.5 7.5 0.5 1 0.5-5 0.5 6.5 1-4.5 0.5 1.5 0.5-2.5 0.5 7.5 0.5-5 1 0 0.5-12.5 0.5 0.5 0.5 16 0.5-8.5 1 7.5 0.5-1 0.5 0 0.5-6 0.5-0.5 1 9 0.5-1 0.5 3.5 0.5-11 0.5 7 1-5 0.5 3.5 0.5 2 0.5 3.5 0.5-6 1 3.5 0.5-6.5 0.5 3 0.5-5.5 0.5 11.5 1-1.5 0.5 2 0.5-6.5 0.5 6 0.5-8 1 17.5 0.5-13 0.5 1 0.5 4.5 0.5 0 1-13.5 0.5 10 0.5-6.5 0.5 5.5 0.5-1 1 6.5 0.5-4.5 0.5 4.5 0.5-5.5 0.5-4 1-7 0.5 5.5 0.5 1 0.5 3 0.5 13 1-13 0.5 5 0.5-7.5 0.5 0.5 0.5 8 1-2.5 0.5-6.5 0.5 12 0.5-19 0.5 16.5 1-1.5 0.5-0.5 0.5 4 0.5-9 0.5 4.5 1 7 0.5-4 0.5-4.5 0.5-4 0.5 5.5 1 2 0.5 3 0.5-1 0.5-1 0.5 0.5 1-2.5 0.5-9.5 0.5 6.5 0.5 0.5 0.5-2 1 16.5 0.5-14 0.5 3.5 0.5-1 0.5 5.5 1-6.5 0.5 4.5 0.5-9 0.5 17.5 0.5-6.5 1-10.5 0.5 10.5 0.5-13 0.5 8.5 0.5-2 1 1 0.5 5.5 0.5 1 0.5-0.5 0.5-10 1 6 0.5 3.5 0.5 1.5 0.5-1.5 0.5-6.5 1 9.5 0.5-0.5 0.5-7 0.5-3 0.5 4 1 4 0.5-10 0.5 16 0.5-11 0.5 12.5 1-9 0.5 4 0.5-3 0.5 1 0.5 2 1 3 0.5-13 0.5 10.5 0.5-4 0.5-5.5 1 4 0.5 0 0.5-2 0.5 2.5 0.5 4 1-2 0.5 8 0.5-10 0.5 4.5 0.5-8.5 1 12 0.5-1.5 0.5-6.5 0.5-9 0.5 14.5 1 7.5 0.5-14.5 0.5-2.5 0.5 12 0.5-8.5 1 7.5 0.5-13 0.5 11.5 0.5 6 0.5-6.5 1-13 0.5 15 0.5 1 0.5 0.5 0.5-2.5 1 1 0.5 5.5 0.5 4 0.5-9.5 0.5-0.5 1-6.5 0.5-4.5 0.5 17.5 0.5-3 0.5-8.5 1 7.5 0.5-2.5 0.5-2 0.5 6 0.5-0.5 1-8.5 0.5 15.5 0.5-12 0.5-1.5 0.5 16 1-16.5 0.5-13.5 0.5 17.5 0.5-3 0.5 0 1-1 0.5 5.5 0.5-1.5 0.5-3 0.5 7.5 1-4 0.5-7 0.5 7.5 0.5 6.5 0.5-6.5 1-2 0.5-3.5 0.5 2.5 0.5 1.5 0.5 3 1-10.5 0.5 7.5 0.5-9 0.5 19.5 0.5-20 1 14.5 0.5 0 0.5-4 0.5-3.5 0.5 4.5 1-2.5 0.5-2.5 0.5 10.5 0.5-9 0.5 4 1 0 0.5-1.5 0.5 2 0.5-1 0.5-11 1 11.5 0.5 2.5 0.5-4.5 0.5 8 0.5-1.5 1-13.5 0.5 5.5 0.5 3 0.5-1.5 0.5-2.5 1 6.5 0.5-8.5 0.5 4 0.5-0.5 0.5 5.5 1-4 0.5 2.5 0.5 1 0.5-7 0.5 5.5 1-10.5 0.5 1 0.5 4 0.5 7 0.5-12.5 1-5.5 0.5 12 0.5-5.5 0.5 10.5 0.5-8 1 5 0.5-0.5 0.5-6 0.5 0 0.5 3 1-19 0.5 12.5 0.5-6.5 0.5 14 0.5-4 1-2.5 0.5-11.5 0.5 11 0.5-2 0.5-5.5 1 4 0.5 0.5 0.5 12 0.5-10 0.5 10 1-8 0.5 13 0.5-6.5 0.5 5 0.5-5 1 1 0.5-1.5 0.5-2 0.5 4.5 0.5-1.5 1 11.5 0.5-11 0.5 9.5 0.5-16.5 0.5 3.5 1 11.5 0.5-9 0.5-6 0.5-0.5 0.5 12 1-8.5 0.5 1 0.5 18 0.5-22 0.5 10.5 1 2.5 0.5 1 0.5-7.5 0.5 3 0.5-6 1 9.5 0.5-5 0.5 4 0.5-5 0.5 2 1-1 0.5-8 0.5 2 0.5 9 0.5 1 1-4.5 0.5-3.5 0.5 1 0.5-1 0.5 7 1-3.5 0.5 5.5 0.5-5 0.5-3 0.5 4.5 1-7 0.5 4.5 0.5 1 0.5-13.5 0.5 6 1 8.5 0.5-0.5 0.5 2 0.5 2 0.5-9 1 3.5 0.5-0.5 0.5-8 0.5 9.5 0.5 1.5 1-5.5 0.5 1.5 0.5 3.5 0.5 3 0.5-4 1-1.5 0.5-6 0.5 15.5 0.5-6.5 0.5 8 1-11 0.5 2 0.5-0.5 0.5-1 0.5-4 1 1 0.5 2 0.5-2.5 0.5 5 0.5-10 1 3.5 0.5 2.5 0.5 4.5 0.5 1 0.5-3 1 3.5 0.5-16.5 0.5 18.5 0.5-14 0.5 8 1-5.5 0.5-1.5 0.5-6.5 0.5 17 0.5-9.5 1 2 0.5 5 0.5-13 0.5 7.5 0.5-10 1 5 0.5-13 0.5 1.5 0.5-3 0.5-5.5 1-6.5 0.5-5 0.5-4 0.5-11.5 0.5-17.5 1-2.5 0.5-16 0.5-14.5 0.5-10 0.5-2.5 1-8 0.5-1 0.5-3.5 0.5 5 0.5 6.5 1 4.5 0.5 15 0.5 7 0.5 17.5 0.5 5.5 1 6.5 0.5 8.5 0.5 10 0.5 9 0.5 10.5 1 3 0.5 0 0.5 12 0.5 2 0.5-4.5 1 5.5 0.5 5 0.5-7 0.5 1.5 0.5 3.5 1 3 0.5-2.5 0.5-1 0.5 7 0.5-3 1-1.5 0.5 5 0.5 3.5 0.5-4 0.5-4 1 16.5 0.5-12 0.5 3.5 0.5 0 0.5-10.5 1 19 0.5-10.5 0.5 3.5 0.5 1 0.5-4.5 1 12.5 0.5-13 0.5-5 0.5 12 0.5 1 1-3.5 0.5 4 0.5-12.5 0.5 9.5 0.5-1.5 1 0 0.5-5.5 0.5 8.5 0.5-20 0.5 22 1-10.5 0.5 3 0.5 7 0.5-6.5 0.5-5 1 5 0.5 9.5 0.5-10.5 0.5 5 0.5-10.5 1 13 0.5 1.5 0.5-12.5 0.5 10.5 0.5-7.5 1-1 0.5 0 0.5-1.5 0.5 9.5 0.5-10 1 5 0.5-1.5 0.5 7 0.5-7.5 0.5 2 1-4 0.5-9 0.5 12.5 0.5-1.5 0.5 3 1-9.5 0.5 6 0.5-12 0.5 15.5 0.5-5 1 7 0.5-9.5 0.5 5.5 0.5-10 0.5 3 1 5 0.5-8.5 0.5 5.5 0.5 6.5 0.5-5 1 5 0.5-8 0.5 6 0.5-2.5 0.5-5.5 1 0.5 0.5 7 0.5-1.5 0.5 2 0.5-7 1-0.5 0.5 0 0.5 2 0.5-0.5 0.5 4.5 1-1.5 0.5-2 0.5-1 0.5 2 0.5-4 1 6.5 0.5-2 0.5-2 0.5-4.5 0.5-1.5 1 12 0.5-10.5 0.5 0.5 0.5 4.5 0.5-2.5 1 3 0.5-4.5 0.5 4 0.5-0.5 0.5 1 1 3.5 0.5-1.5 0.5 2.5 0.5 1 0.5-9 1 10 0.5-8 0.5 3 0.5 12 0.5-1.5 1-8 0.5 2.5 0.5-2.5 0.5-2.5 0.5-2.5 1-2.5 0.5 7 0.5-3.5 0.5 4 0.5-1.5 1-4.5 0.5 7.5 0.5-4 0.5-3.5 0.5 10 1-13 0.5 7 0.5-3.5 0.5 15.5 0.5-4 1 5.5 0.5-5.5 0.5-5 0.5-2.5 0.5-2 1 3 0.5 7.5 0.5-6.5 0.5 4.5 0.5-2.5 1 12 0.5-26 0.5 20.5 0.5-5 0.5-3 1 6.5 0.5-7 0.5 10 0.5-2.5 0.5-10 1 6 0.5-8 0.5 3.5 0.5 13 0.5-10 1 5 0.5 11 0.5-4 0.5-3.5 0.5-18 1 24.5 0.5-9.5 0.5-4.5 0.5 5.5 0.5 3.5 1 6 0.5-11 0.5-3 0.5 11 0.5-6 1-2.5 0.5 4.5 0.5-4 0.5 3 0.5 8 1-4.5 0.5 0 0.5-6.5 0.5-3.5 0.5 12 1 6 0.5-11.5 0.5 8 0.5-9.5 0.5 0.5 1 11 0.5-14.5 0.5 10 0.5-3.5 0.5 7.5 1-1.5 0.5-6 0.5-4 0.5 6.5 0.5-2.5 1-8.5 0.5 5 0.5 10 0.5-2 0.5-1 1-4 0.5 7 0.5 2 0.5 0 0.5-0.5 1 6 0.5-6 0.5-4.5 0.5-5 0.5 8 1 2.5 0.5-18 0.5 12.5 0.5 7.5 0.5-0.5 1 6.5 0.5-9.5 0.5-4 0.5-1.5 0.5 3 1 9 0.5-6.5 0.5-4.5 0.5 5.5 0.5 0 1-8.5 0.5 6.5 0.5 6 0.5 0 0.5-10 1 5.5 0.5 10 0.5-22.5 0.5 23.5 0.5-17.5 1 1.5 0.5 0.5 0.5 9 0.5-7 0.5-1.5 1-2.5 0.5 9 0.5-8.5 0.5 7 0.5 3.5 1-4.5 0.5 4 0.5-2 0.5-11 0.5 13 1 7 0.5-12 0.5 3 0.5 9.5 0.5-10 1-3 0.5 3.5 0.5-5.5 0.5 12.5 0.5-2 1-2.5 0.5-1 0.5 0 0.5-8.5 0.5 13.5 1-13.5 0.5-4 0.5 11.5 0.5-11 0.5 12.5 1-8 0.5 8 0.5-4.5 0.5 5 0.5-8 1 9.5 0.5 1 0.5-9 0.5-2.5 0.5 0 1-2.5 0.5 7.5 0.5-2 0.5-2.5 0.5-5.5 1 11.5 0.5-11 0.5-8 0.5 5 0.5 6.5 1-3 0.5-9.5 0.5 8 0.5-8 0.5 0.5 1-9.5 0.5-2.5 0.5 0 0.5 7.5 0.5-9 1 5.5 0.5 0.5 0.5 3 0.5-9 0.5 6 1 11.5 0.5-1.5 0.5-4 0.5 5.5 0.5 4.5 1-11 0.5 5.5 0.5 4.5 0.5-1.5 0.5 4 1 2 0.5-1 0.5 15 0.5-15.5 0.5 6.5 1-6 0.5 8.5 0.5-0.5 0.5 1 0.5 6.5 1-2 0.5-4.5 0.5 3.5 0.5 4.5 0.5-7 1-6.5 0.5 14.5 0.5-14.5 0.5 9 0.5 10.5 1-7 0.5 3.5 0.5-17 0.5 3 0.5 9 1 9.5 0.5-11 0.5 5.5 0.5-14 0.5 8 1 11 0.5-15 0.5-7 0.5 13 0.5 0 1-3.5 0.5 10.5 0.5-9 0.5 10.5 0.5-8.5 1 5 0.5-1 0.5-8.5 0.5-3.5 0.5 4 1-2 0.5 12.5 0.5-7.5 0.5 10 0.5-1.5 1-12 0.5-5.5 0.5 4.5 0.5 16.5 0.5-2 1-23 0.5 19 0.5 6 0.5-4.5 0.5-9.5 1 8.5 0.5 0.5 0.5-11 0.5 11.5 0.5-11 1 0 0.5 3 0.5 7.5 0.5 5.5 0.5 0 1-10.5 0.5 5.5 0.5-7.5 0.5 4 0.5 3.5 1 4.5 0.5-10 0.5 2 0.5 10 0.5-4 1-3 0.5 3.5 0.5 8 0.5-16 0.5-4.5 1 9 0.5-6.5 0.5 6.5 0.5 8.5 0.5-5.5 1-1 0.5-2 0.5 1 0.5 8 0.5-5.5 1 2.5 0.5-10.5 0.5 5.5 0.5 0 0.5 1 1-3.5 0.5 8.5 0.5-4 0.5-3.5 0.5-2.5 1 6 0.5 5.5 0.5-6.5 0.5 2 0.5 4 1 8.5 0.5-10 0.5-8.5 0.5 2.5 0.5 2 1 3 0.5 1 0.5-1 0.5-3 0.5-6.5 1 10.5 0.5-3 0.5 7 0.5-1 0.5-4 1-2 0.5 7.5 0.5-5.5 0.5-8.5 0.5 6.5 1 1.5 0.5 2 0.5-3 0.5 9 0.5-1.5 1-14.5 0.5 11.5 0.5-0.5 0.5-1.5 0.5-1.5 1-1.5 0.5 10.5 0.5-1.5 0.5-6.5 0.5-4 1 6.5 0.5 4 0.5 0.5 0.5-0.5 0.5-5.5 1 4 0.5 8.5 0.5-5 0.5-12.5 0.5 8.5 1-4.5 0.5 4 0.5 8 0.5-10 0.5 5.5 1-1.5 0.5-8 0.5 4.5 0.5 9 0.5-13 1 10 0.5 4 0.5-8.5 0.5 1 0.5-2.5 1 3 0.5-2.5 0.5 3 0.5-10.5 0.5 11.5 1-3.5 0.5 4.5 0.5-8.5 0.5 6 0.5-9 1 5.5 0.5-1.5 0.5 10 0.5 2 0.5-6 1-1 0.5 1.5 0.5 1 0.5-4 0.5 8 1-8 0.5 0 0.5-2.5 0.5 5 0.5 4.5 1-10 0.5 5 0.5-4.5 0.5-1 0.5 2 1-1.5 0.5 0 0.5 8.5 0.5-7 0.5 4 1 6 0.5 0 0.5-5.5 0.5 4 0.5-14.5 1 4 0.5 9.5 0.5 0 0.5-0.5 0.5-7.5 1-1.5 0.5-5.5 0.5 19.5 0.5-10 0.5 8.5 1-3.5 0.5 2 0.5-6.5 0.5 0 0.5 8 1-6.5 0.5 0.5 0.5 3 0.5-17.5 0.5 18.5 1-5.5 0.5 1 0.5 5 0.5 0.5 0.5-9.5 1 9.5 0.5 4.5 0.5-13.5 0.5 9.5 0.5-7.5 1 6 0.5 6 0.5-6.5 0.5-4 0.5 3 1-6 0.5-9 0.5 18 0.5-2 0.5-0.5 1 2.5 0.5 6.5 0.5-8.5 0.5 2.5 0.5-1.5 1 4.5 0.5-8.5 0.5 2 0.5-0.5 0.5 6 1-12.5 0.5-4.5 0.5 13 0.5-4 0.5 1 1 15 0.5-16.5 0.5-3 0.5 2 0.5 8.5 1-7 0.5 10.5 0.5-3.5 0.5-5 0.5-3 1 3.5 0.5-5.5 0.5 8.5 0.5 0 0.5-5.5 1 2 0.5 5.5 0.5-1.5 0.5-3 0.5-2.5 1 14.5 0.5-11.5 0.5-9.5 0.5 7.5 0.5 1.5 1-4.5 0.5 6 0.5-8 0.5 15.5 0.5-4.5 1-6 0.5 4.5 0.5-3 0.5 1 0.5 5 1-7 0.5 0 0.5 0.5 0.5 3 0.5-11.5 1 12.5 0.5 0.5 0.5 1 0.5-6.5 0.5 6 1-0.5 0.5 6 0.5-5 0.5-0.5 0.5 0 1 3 0.5-8.5 0.5 0 0.5 11.5 0.5-3.5 1-10.5 0.5 10.5 0.5-1 0.5-12.5 0.5 12.5 1-4.5 0.5-3.5 0.5 7 0.5-4.5 0.5-1.5 1 6 0.5 0.5 0.5 3 0.5-4 0.5 6.5 1-13.5 0.5 3.5 0.5 0.5 0.5 16 0.5-11.5 1-1.5 0.5 5 0.5-7.5 0.5-4.5 0.5 11.5 1-4.5 0.5 11 0.5-10 0.5 1 0.5-6.5 1 16 0.5-2.5 0.5-10.5 0.5 0 0.5 3.5 1-0.5 0.5-5 0.5 3.5 0.5-1.5 0.5 2 1 6 0.5-12 0.5 7 0.5 10 0.5-14 1 0 0.5-6.5 0.5 13.5 0.5 1.5 0.5 6 1-5 0.5-1 0.5-10 0.5 3.5 0.5 2.5 1 6 0.5-4.5 0.5 0 0.5-0.5 0.5-0.5 1 2.5 0.5-1 0.5 3.5 0.5-5.5 0.5 11 1-8 0.5 0 0.5-7 0.5 4.5 0.5 0 1 5 0.5-13.5 0.5 12.5 0.5-0.5 0.5 2.5 1-1 0.5-9 0.5 7 0.5-5 0.5 6 1-7 0.5 4 0.5 7.5 0.5-10.5 0.5 13.5 1-11 0.5 8.5 0.5-12.5 0.5 11 0.5-11.5 1 6 0.5-4.5 0.5 3 0.5-2 0.5 8 1-6.5 0.5 5.5 0.5 5.5 0.5-10.5 0.5-5.5 1 2.5 0.5 1 0.5 3 0.5 3.5 0.5-7.5 1 6.5 0.5-0.5 0.5 4.5 0.5 3.5 0.5-6.5 1-1 0.5-1 0.5-2 0.5-2.5 0.5 6.5 1-3 0.5 5 0.5-3.5 0.5 1 0.5-9 1 11.5 0.5-5.5 0.5 1.5 0.5-3.5 0.5 4.5 1-5 0.5 2 0.5 2 0.5 0.5 0.5-2 1-1.5 0.5 8.5 0.5-8 0.5 9 0.5-2.5 1 0.5 0.5-5.5 0.5 12.5 0.5-19.5 0.5 14.5 1-1 0.5-10.5 0.5 3.5 0.5 4 0.5 0.5 1 2.5 0.5-2 0.5-7.5 0.5 5.5 0.5 2.5 1-2 0.5-2.5 0.5 5 0.5-9.5 0.5 9 1-1.5 0.5 14.5 0.5-23 0.5 10.5 0.5 0 1-11 0.5 6.5 0.5 2 0.5 0.5 0.5-4.5 1 0.5 0.5 4.5 0.5-7.5 0.5 6 0.5 1 1 0 0.5-2.5 0.5 1 0.5-8.5 0.5 7 1-3 0.5-1.5 0.5 0 0.5 10.5 0.5-5 1 4 0.5 8 0.5-11 0.5 6.5 0.5-6.5 1 7.5 0.5-14 0.5 8.5 0.5-14 0.5 15 1 1.5 0.5-2 0.5 3 0.5-6 0.5 4.5 1 2.5 0.5-1.5 0.5-6 0.5-1 0.5-3 1 10 0.5-10 0.5 4.5 0.5 12.5 0.5-6.5 1-3 0.5-6 0.5 2.5 0.5 14 0.5-11.5 1-2 0.5-4 0.5 6 0.5 1 0.5-7 1 6 0.5 0 0.5-7 0.5 3.5 0.5 3.5 1-1.5 0.5-1 0.5 6.5 0.5-2 0.5-6.5 1 9.5 0.5 0.5 0.5-4 0.5-3.5 0.5 7.5 1-10.5 0.5 4.5 0.5-3.5 0.5-1 0.5 5 1-4 0.5 2.5 0.5-5 0.5 12 0.5-7 1 4.5 0.5 5 0.5-10.5 0.5 5 0.5-1 1 0 0.5-3.5 0.5 0.5 0.5 3.5 0.5 0.5 1 8 0.5-12 0.5-1.5 0.5 10 0.5-12 1 4 0.5 14.5 0.5-11 0.5-7 0.5 8.5 1-1.5 0.5 0 0.5 0 0.5-3.5 0.5 5.5 1 7 0.5-7 0.5 2 0.5-2.5 0.5 0.5 1-10 0.5 5 0.5 0.5 0.5 2 0.5 8 1-4 0.5-3 0.5 7.5 0.5-5 0.5-4 1-4.5 0.5 6 0.5 2 0.5-5 0.5 4.5 1-7.5 0.5 4 0.5 7.5 0.5-5.5 0.5-3.5 1 7.5 0.5-0.5 0.5-6.5 0.5 12 0.5-9.5 1-3 0.5 3 0.5-3 0.5 7 0.5 7.5 1-3 0.5 2.5 0.5-13.5 0.5 7 0.5-8.5 1 4.5 0.5-5.5 0.5 9.5 0.5 11 0.5-11.5 1 0 0.5 1 0.5 6.5 0.5-7 0.5 3.5 1-9 0.5 1.5 0.5 0.5 0.5 2.5 0.5 0 1 8.5 0.5-7.5 0.5-2 0.5-4 0.5 5.5 1-0.5 0.5 0 0.5-2 0.5-3.5 0.5 14 1-12 0.5-4 0.5 12.5 0.5-3.5 0.5-1 1-12 0.5 24 0.5-15.5 0.5 0 0.5 0.5 1 4.5 0.5 5 0.5-6 0.5-9 0.5 7 1 8.5 0.5-6 0.5-7 0.5 8 0.5 0.5 1-2.5 0.5-5.5 0.5-0.5 0.5-2 0.5 6 1 13 0.5-12.5 0.5 1.5 0.5-6.5 0.5 15.5 1-24 0.5 21 0.5-6.5 0.5-9.5 0.5 13 1-5 0.5-3.5 0.5 4.5 0.5-4 0.5 7 1-13 0.5 9 0.5-1 0.5 2 0.5 3.5 1 2.5 0.5-3.5 0.5-2 0.5 1.5 0.5 14.5 1-9 0.5-9 0.5 8 0.5 10 0.5-13.5 1-4.5 0.5 3 0.5-10 0.5 15.5 0.5-1.5 1-9.5 0.5 13 0.5-0.5 0.5-9.5 0.5 1.5 1-4.5 0.5-2.5 0.5 2 0.5 5.5 0.5 1 1-5 0.5 0.5 0.5 7.5 0.5-4.5 0.5-0.5 1-2.5 0.5 5.5 0.5-0.5 0.5-9 0.5 4 1-1 0.5 10 0.5-2 0.5-0.5 0.5 11.5 1-16 0.5 2 0.5 3.5 0.5-4.5 0.5-1 1 3.5 0.5 3 0.5 3.5 0.5-5 0.5-4.5 1-4.5 0.5 5.5 0.5-0.5 0.5-2 0.5 15.5 1-21 0.5 10.5 0.5 2.5 0.5-1 0.5-3.5 1 7 0.5-6 0.5-15 0.5 7.5 0.5 9 1 0.5 0.5 0.5 0.5 7.5 0.5-15 0.5-3 1 13 0.5-7.5 0.5 12 0.5-9.5 0.5-1 1 7.5 0.5-5.5 0.5 8 0.5-13 0.5-2 1 4 0.5 0.5 0.5 6 0.5 1 0.5-8.5 1 6.5 0.5 1.5 0.5-5 0.5-4 0.5 8.5 1 3 0.5-5.5 0.5-1.5 0.5 2 0.5 5 1-3 0.5-8.5 0.5-3 0.5 10.5 0.5-1.5 1-2.5 0.5 4.5 0.5-4.5 0.5 9 0.5-13 1 10 0.5-4.5 0.5 2 0.5 1 0.5-1 1-15 0.5 17 0.5 0 0.5 1 0.5 4.5 1-2.5 0.5-7 0.5 6.5 0.5-4.5 0.5-5.5 1 17 0.5-10.5 0.5-6 0.5 10 0.5 2 1-10 0.5 2.5 0.5 6.5 0.5-2 0.5 5.5 1 7 0.5-18 0.5-1 0.5 3 0.5 5.5 1-2.5 0.5 4.5 0.5-5 0.5-11 0.5 10 1 3.5 0.5-9 0.5-3 0.5 16 0.5-1 1 0.5 0.5-4 0.5-12 0.5 7 0.5 4 1-5.5 0.5 3 0.5 8.5 0.5-7 0.5-0.5 1 3 0.5 2 0.5-13.5 0.5 19.5 0.5-11 1-3 0.5 15 0.5-11 0.5-1 0.5 3.5 1 2 0.5-2 0.5-3 0.5 2.5 0.5 2.5 1-4 0.5 1.5 0.5-2.5 0.5 3 0.5 3 1 4.5 0.5-6 0.5-1 0.5 0 0.5 0 1 0.5 0.5 1 0.5-4.5 0.5 4.5 0.5-4.5 1-2.5 0.5 12.5 0.5-8 0.5 4.5 0.5-3 1-6 0.5 8 0.5-4 0.5-5.5 0.5 12.5 1-6.5 0.5-3 0.5 1 0.5-10 0.5 14 1-4.5 0.5 7.5 0.5 3 0.5-2.5 0.5-4.5 1-0.5 0.5 9 0.5-19.5 0.5 18 0.5 4.5 1-13 0.5 4 0.5-2 0.5 1.5 0.5 3 1-0.5 0.5 3.5 0.5-14.5 0.5 17 0.5-10 1 3 0.5 1 0.5-2 0.5-1.5 0.5 1 1-4.5 0.5 2 0.5 0 0.5-3 0.5 9.5 1 2.5 0.5-4.5 0.5 2.5 0.5-2 0.5 4 1-1.5 0.5-3.5 0.5 1.5 0.5-7.5 0.5 10.5 1 5.5 0.5-3.5 0.5-11 0.5 6.5 0.5-6.5 1 1.5 0.5 5 0.5-7.5 0.5 9.5 0.5 0.5 1-11.5 0.5 3 0.5 1 0.5 2 0.5-3.5 1 0.5 0.5 5 0.5 4 0.5-3 0.5 3.5 1-5.5 0.5 1.5 0.5 2 0.5-4.5 0.5 1.5 1 1.5 0.5-1.5 0.5 2.5 0.5 1.5 0.5 1 1 0 0.5-1.5 0.5-7.5 0.5-2.5 0.5 8 1-0.5 0.5-6.5 0.5 1 0.5 3.5 0.5-1 1 13 0.5 0 0.5-9.5 0.5 0.5 0.5 0.5 1-2.5 0.5 1 0.5-3.5 0.5 1.5 0.5 9.5 1-6 0.5 0.5 0.5-9.5 0.5 11.5 0.5-3.5 1-3.5 0.5-1 0.5-1 0.5 0.5 0.5 5 1-3.5 0.5 6 0.5 0 0.5 0.5 0.5-7 1 8 0.5-9 0.5 13.5 0.5-1 0.5 3.5 1-24.5 0.5 13 0.5-2.5 0.5 7 0.5 1 1 0.5 0.5-8.5 0.5 4 0.5 7 0.5-7.5 1 1.5 0.5 5.5 0.5-6.5 0.5 1.5 0.5-3.5 1-5.5 0.5 14 0.5-3 0.5-13 0.5 11.5 1 1 0.5 5 0.5 0 0.5-8 0.5 1.5 1-2 0.5 8 0.5 1 0.5-2.5 0.5-10 1 1 0.5 3 0.5-4.5 0.5 11.5 0.5-2 1-3.5 0.5-0.5 0.5-4 0.5 0.5 0.5 7.5 1 0 0.5-8.5 0.5 3 0.5-0.5 0.5-4 1 5.5 0.5 3 0.5 3.5 0.5-4 0.5-3.5 1-4.5 0.5 3 0.5 10.5 0.5-2.5 0.5-9.5 1 17 0.5-6 0.5-3 0.5 6.5 0.5-11.5 1 9 0.5-1 0.5-7 0.5-0.5 0.5 4.5 1 0.5 0.5-2 0.5 3.5 0.5-4.5 0.5 0 1 1 0.5-5.5 0.5 1.5 0.5 9 0.5-4 1-8 0.5 5 0.5 2.5 0.5 4 0.5-6.5 1 14.5 0.5-10 0.5-3 0.5 7 0.5-10 1-5 0.5 5.5 0.5 1.5 0.5 0 0.5-4.5 1-2.5 0.5 4.5 0.5 4.5 0.5-2 0.5-3 1 2.5 0.5-2.5 0.5 3.5 0.5-3 0.5 10.5 1-11.5 0.5 3.5 0.5-4 0.5 10.5 0.5-9 1 6 0.5-9.5 0.5 8.5 0.5-6.5 0.5 4.5 1-5.5 0.5-4.5 0.5 6 0.5 6.5 0.5-2.5 1-9.5 0.5 4.5 0.5 1 0.5 0.5 0.5-4 1 15 0.5-10.5 0.5-8.5 0.5 0.5 0.5 10.5 1-19 0.5 19 0.5-15 0.5-1.5 0.5-5.5 1 3.5 0.5 3 0.5-6 0.5 0.5 0.5-8 1 7.5 0.5-2 0.5-1 0.5 2.5 0.5 1.5 1 4.5 0.5-8 0.5 10 0.5 3 0.5-4.5 1 1 0.5 3.5 0.5 7 0.5-2.5 0.5 2.5 1-2.5 0.5-2 0.5 6.5 0.5-1.5 0.5 6 1-9 0.5 5 0.5-0.5 0.5-8.5 0.5 10 1 10 0.5-11 0.5-4 0.5 2.5 0.5 7 1-4 0.5-6.5 0.5 6.5 0.5-4.5 0.5 5 1 4 0.5-3.5 0.5 2.5 0.5-1.5 0.5-2 1-0.5 0.5-1 0.5 3 0.5-2.5 0.5 7.5 1-10 0.5 7.5 0.5-18 0.5 10.5 0.5 3.5 1 6 0.5-2.5 0.5-3 0.5 2.5 0.5 0 1-12.5 0.5 13 0.5-3.5 0.5-1.5 0.5 4 1 1.5 0.5-0.5 0.5-5 0.5 9 0.5-7.5 1 3 0.5 5 0.5-4.5 0.5 0.5 0.5 4 1-9.5 0.5-1 0.5 1.5 0.5 7.5 0.5-4.5 1 1 0.5 0 0.5 1.5 0.5 1.5 0.5-8.5 1-7 0.5 9 0.5 8 0.5-1 0.5-7.5 1 8.5 0.5 2 0.5-0.5 0.5-7.5 0.5 2 1-6.5 0.5 1.5 0.5 15 0.5-19 0.5 2.5 1 4.5 0.5 4 0.5-4.5 0.5 5 0.5 3.5 1-7.5 0.5 1 0.5 3 0.5 11 0.5-15 1 2 0.5 12 0.5-12.5 0.5 0 0.5 9.5 1-1 0.5-6 0.5 0 0.5-10.5 0.5 5 1 3.5 0.5 4 0.5-3.5 0.5-6.5 0.5 10.5 1-6.5 0.5 4 0.5 4.5 0.5-5 0.5 3.5 1-4 0.5-1 0.5-2.5 0.5-3 0.5 14 1-16 0.5 14 0.5 0.5 0.5-5.5 0.5 8.5 1-9.5 0.5 1.5 0.5-1.5 0.5 8 0.5-1.5 1-4 0.5 1 0.5 4 0.5-12 0.5 12.5 1-2 0.5-3.5 0.5 2.5 0.5-9.5 0.5 7.5 1 1 0.5-5.5 0.5 1 0.5 7 0.5-10.5 1 5.5 0.5-3 0.5-5.5 0.5 11 0.5-2.5 1 3.5 0.5 5 0.5-1.5 0.5 3.5 0.5-9 1 15 0.5-11 0.5-4 0.5 2.5 0.5 1.5 1-8 0.5 1 0.5 4.5 0.5 2.5 0.5-1.5 1 9 0.5-12.5 0.5 2 0.5-1 0.5 0.5 1 16.5 0.5-19.5 0.5 20 0.5-19 0.5 0.5 1-4 0.5 4 0.5 1 0.5 5 0.5-1.5 1 11.5 0.5-4 0.5-1 0.5-9.5 0.5 5.5 1-9.5 0.5 1.5 0.5-3 0.5 0.5 0.5 5" fill="none" stroke="#000000" stroke-width="5.0" stroke-linejoin="round" stroke-linecap="round" clip-path="url(#clip2)"/>
<path d="M270 3994 l0.5-13 0.5 25.5 1-13 0.5 2.5 0.5 3 0.5-13 0.5 10.5 1 2 0.5 4.5 0.5-8.5 0.5 5.5 0.5-1 1 6.5 0.5-10.5 0.5-5 0.5 8.5 0.5-2.5 1 2 0.5-3 0.5-3.5 0.5 6.5 0.5 14.5 1-15 0.5 8.5 0.5 0.5 0.5-7.5 0.5 1.5 1-12.5 0.5 3.5 0.5 2 0.5 5 0.5 10 1-10 0.5 2.5 0.5 2 0.5-2 0.5 2.5 1-13.5 0.5 10 0.5-1.5 0.5 1.5 0.5 0 1-2 0.5-3 0.5 18.5 0.5-9 0.5-3.5 1-0.5 0.5-0.5 0.5 5 0.5-6.5 0.5 0 1-4.5 0.5 7.5 0.5 3 0.5 1.5 0.5-6 1 2.5 0.5 5.5 0.5 5 0.5-12.5 0.5 4 1 6.5 0.5-6.5 0.5-5.5 0.5 1 0.5 3 1 5 0.5-5.5 0.5-4 0.5 8 0.5-10.5 1 12 0.5-15.5 0.5 12.5 0.5-4.5 0.5 1.5 1-1.5 0.5 10.5 0.5-1.5 0.5-6.5 0.5-4 1 3 0.5 1 0.5 10 0.5-11.5 0.5-1.5 1-3 0.5 14.5 0.5-5.5 0.5 5 0.5-4 1-3 0.5 6 0.5-4.5 0.5 4 0.5-11 1 4.5 0.5 5 0.5 14.5 0.5-21 0.5 4 1-1.5 0.5 3.5 0.5-1 0.5 0 0.5 4 1 8 0.5-12 0.5 3.5 0.5-1 0.5-2.5 1 8 0.5-7 0.5-9 0.5 13.5 0.5 4.5 1-9.5 0.5-0.5 0.5 5.5 0.5-5.5 0.5 2 1 7 0.5-6 0.5 0.5 0.5 1.5 0.5-3 1 1.5 0.5 10 0.5-5 0.5-8.5 0.5 3.5 1-1.5 0.5 1.5 0.5 2.5 0.5-3 0.5 2 1 1.5 0.5 4.5 0.5-0.5 0.5 0.5 0.5 2 1 3.5 0.5-16 0.5 4.5 0.5 2.5 0.5-14 1 15 0.5-5 0.5 7 0.5-3.5 0.5-6 1 6 0.5 0 0.5 0.5 0.5 5.5 0.5-8.5 1 12.5 0.5-11 0.5-1 0.5 7.5 0.5 0.5 1-0.5 0.5-3.5 0.5 8.5 0.5-17 0.5-2.5 1 8 0.5 9.5 0.5 11 0.5-14 0.5-11 1 12.5 0.5-12.5 0.5 12 0.5-7 0.5-5 1 8.5 0.5 2 0.5 8.5 0.5 0 0.5-5 1-1 0.5-4.5 0.5 7.5 0.5-6 0.5-4.5 1 0 0.5 10 0.5-0.5 0.5 1 0.5-2.5 1 3 0.5 2.5 0.5-2.5 0.5 6.5 0.5-16 1 3.5 0.5 0.5 0.5 8.5 0.5-5.5 0.5-3.5 1-0.5 0.5 13 0.5-9 0.5-4.5 0.5 9.5 1-9 0.5-9 0.5 24.5 0.5-18 0.5 11 1 2 0.5-2 0.5 2 0.5 2.5 0.5-2.5 1-4.5 0.5 3.5 0.5-1 0.5 0 0.5-3.5 1-1.5 0.5 4 0.5 4 0.5 1 0.5-12 1 6 0.5 1 0.5 9.5 0.5-1 0.5-10.5 1 3 0.5-0.5 0.5 2.5 0.5 0.5 0.5 0 1 0 0.5-5 0.5-2.5 0.5 3 0.5 1 1 5.5 0.5 16 0.5-14.5 0.5-7.5 0.5 12 1-8 0.5 5.5 0.5 4.5 0.5-11.5 0.5 2.5 1 9 0.5-5.5 0.5 4 0.5-4 0.5-2.5 1-0.5 0.5 2.5 0.5 3.5 0.5-7 0.5 7 1 3.5 0.5-5.5 0.5 3 0.5-1.5 0.5-4 1-4.5 0.5 10.5 0.5 3 0.5-9.5 0.5 0 1 7 0.5 7.5 0.5-8 0.5 1.5 0.5 0 1-1 0.5-5 0.5 0 0.5 9.5 0.5-7.5 1 7 0.5-7 0.5 1 0.5-3 0.5 8.5 1-8.5 0.5 4 0.5 0 0.5-2.5 0.5 8.5 1-11 0.5 3 0.5 6 0.5-4 0.5 9 1-5.5 0.5 0 0.5 1 0.5 2.5 0.5-9 1 13.5 0.5-11 0.5-6 0.5 6.5 0.5 4 1 5.5 0.5-11.5 0.5 1 0.5 5 0.5 4 1-3.5 0.5 5.5 0.5-11 0.5 7.5 0.5-8.5 1 0 0.5 7 0.5-11.5 0.5 10 0.5 1.5 1 3 0.5-1.5 0.5 8 0.5-13 0.5 8.5 1-16 0.5 10 0.5-11.5 0.5 18.5 0.5-5.5 1 15 0.5-25.5 0.5 19 0.5-10.5 0.5 4.5 1-2 0.5 0 0.5 2 0.5 0.5 0.5-3.5 1-0.5 0.5 6 0.5-2 0.5 3.5 0.5 1 1-10 0.5-1 0.5 8.5 0.5-7.5 0.5 1 1 9 0.5-7.5 0.5 11 0.5-6 0.5 1.5 1-3 0.5 6 0.5-5.5 0.5-1 0.5 4.5 1-5.5 0.5-7.5 0.5 6.5 0.5-1 0.5-0.5 1 5 0.5-0.5 0.5-2.5 0.5-3.5 0.5 8.5 1-14 0.5 3.5 0.5 12 0.5-12 0.5-1.5 1 12 0.5-2 0.5-8.5 0.5-4 0.5 10.5 1-9.5 0.5-12.5 0.5 14 0.5-7 0.5 4.5 1-13.5 0.5-1 0.5-2 0.5-13 0.5 1.5 1-11 0.5-20.5 0.5-13.5 0.5-27.5 0.5-24 1-25.5 0.5-25 0.5-28 0.5-42 0.5-26.5 1-31 0.5-19.5 0.5-16.5 0.5-8 0.5 11 1 17.5 0.5 32 0.5 28.5 0.5 35 0.5 36 1 26.5 0.5 31 0.5 23 0.5 24.5 0.5 17.5 1 7 0.5 19 0.5 13.5 0.5-2.5 0.5 10.5 1 21.5 0.5-5.5 0.5 2 0.5-5.5 0.5 15.5 1-4 0.5-4.5 0.5 3.5 0.5 1 0.5 2 1-12.5 0.5 17 0.5-6.5 0.5 3.5 0.5 9 1-6 0.5-8 0.5 16.5 0.5-5.5 0.5 6.5 1 3.5 0.5-11 0.5 11 0.5-4.5 0.5-5 1 3.5 0.5 9.5 0.5-4 0.5-8 0.5 9 1-5 0.5-1 0.5-3 0.5 8.5 0.5-0.5 1-7 0.5-3 0.5 10.5 0.5-15.5 0.5 16.5 1 2.5 0.5 1 0.5-12 0.5 1.5 0.5 4.5 1-9 0.5 19.5 0.5-14 0.5 7 0.5 1.5 1-3.5 0.5 0 0.5 5.5 0.5-2 0.5-3 1 2.5 0.5 2.5 0.5-3.5 0.5-3.5 0.5 9 1-8.5 0.5 2 0.5 2.5 0.5 2 0.5 3 1-5.5 0.5 5.5 0.5-8 0.5 5.5 0.5-1 1 0.5 0.5 4.5 0.5-7 0.5 5.5 0.5 1.5 1 1 0.5-5.5 0.5 2 0.5 1.5 0.5 6.5 1-7 0.5 1 0.5 2 0.5-1.5 0.5 4.5 1-17.5 0.5 15.5 0.5-3.5 0.5 9 0.5-2.5 1-13 0.5 6 0.5 7.5 0.5-1 0.5-0.5 1 3 0.5-11.5 0.5 6.5 0.5 4.5 0.5-2 1-0.5 0.5 2.5 0.5-4 0.5 0 0.5-1.5 1-3.5 0.5 7 0.5 8.5 0.5-12 0.5-1 1 8.5 0.5 10.5 0.5-15.5 0.5 4 0.5 1 1-2.5 0.5-4.5 0.5 4.5 0.5-3 0.5 2.5 1-5.5 0.5 2 0.5 1.5 0.5 8.5 0.5-3 1-3.5 0.5 0.5 0.5 4.5 0.5-3 0.5 0 1 5.5 0.5-19 0.5 10.5 0.5-10.5 0.5 18.5 1-0.5 0.5-13 0.5 12.5 0.5-8 0.5 6.5 1-1 0.5 10.5 0.5-5.5 0.5-10 0.5 4.5 1-4 0.5 20.5 0.5-8.5 0.5-15.5 0.5 7 1 7.5 0.5-3.5 0.5-2 0.5 6.5 0.5-1.5 1-5.5 0.5 7 0.5-11.5 0.5 5 0.5-1 1 3.5 0.5 0 0.5 8 0.5-6 0.5-1.5 1-6 0.5 0 0.5-1 0.5 14 0.5-8.5 1 0 0.5 9 0.5-10.5 0.5 6.5 0.5-1 1-14 0.5 8.5 0.5 5 0.5-10 0.5 5 1-5 0.5-6.5 0.5 12.5 0.5-19 0.5 8.5 1-6.5 0.5-6.5 0.5-3 0.5 0 0.5-3.5 1-14 0.5-9.5 0.5-2 0.5-11.5 0.5-5 1-18 0.5 4 0.5 1.5 0.5-4 0.5-1.5 1 2 0.5-3 0.5 7 0.5 12 0.5 12.5 1 0.5 0.5 15 0.5 13.5 0.5 6.5 0.5 2 1 15.5 0.5 2.5 0.5-12.5 0.5 1.5 0.5 8.5 1 13.5 0.5-11.5 0.5 14.5 0.5-7.5 0.5 1 1 0.5 0.5 0 0.5 7 0.5 4.5 0.5-11.5 1 3 0.5 9 0.5-1 0.5-3.5 0.5 5.5 1-4.5 0.5-3.5 0.5 4.5 0.5 1 0.5-3 1-0.5 0.5 10 0.5 1 0.5-4 0.5-1 1-5 0.5 4 0.5 3.5 0.5 0 0.5-4 1-2 0.5 5 0.5-2.5 0.5 8.5 0.5-1 1-12.5 0.5 6.5 0.5-2.5 0.5 7 0.5 0 1-0.5 0.5-7 0.5 3 0.5-4.5 0.5 13 1-4.5 0.5-2.5 0.5-0.5 0.5 0.5 0.5 2.5 1 2 0.5-9.5 0.5 4 0.5 2.5 0.5-4.5 1 0.5 0.5 1.5 0.5-7 0.5 5 0.5 6.5 1-7 0.5 9 0.5-8 0.5 5.5 0.5 2.5 1-8 0.5 3.5 0.5 6 0.5-6 0.5 0 1-3.5 0.5-1 0.5 6.5 0.5-4.5 0.5 9.5 1-20.5 0.5 18.5 0.5 3 0.5-10 0.5 3 1 2 0.5-5.5 0.5 8 0.5-0.5 0.5-3 1 5.5 0.5-4 0.5-9.5 0.5 14.5 0.5-12 1 6 0.5 4 0.5-6.5 0.5 0.5 0.5-0.5 1 1 0.5 0 0.5 5 0.5 5 0.5-6 1 3 0.5-4.5 0.5 1.5 0.5 6.5 0.5-14 1 8 0.5 13.5 0.5-14.5 0.5 6.5 0.5-10 1 1.5 0.5-8 0.5 11.5 0.5-8.5 0.5 7.5 1 2 0.5-7.5 0.5 11 0.5-7 0.5 3.5 1 2 0.5 0.5 0.5-4 0.5 7.5 0.5-4.5 1 8.5 0.5-13 0.5 3.5 0.5 4.5 0.5-6 1-7 0.5 4.5 0.5 2 0.5 11.5 0.5 0 1-8 0.5-1 0.5 0.5 0.5 7 0.5-1.5 1-7 0.5 6 0.5-1 0.5 0.5 0.5-2.5 1-5.5 0.5-4 0.5 17.5 0.5-4.5 0.5-4.5 1-1.5 0.5 5 0.5-1.5 0.5 4.5 0.5 1 1-1.5 0.5-7.5 0.5 9 0.5-4 0.5-1.5 1 6 0.5-3 0.5-1.5 0.5 6 0.5-5 1-0.5 0.5-8 0.5 9 0.5 3 0.5-9 1 3.5 0.5 6 0.5-9.5 0.5 11 0.5 1.5 1-14 0.5 7.5 0.5 7.5 0.5-12.5 0.5 11.5 1-12 0.5 9 0.5-7.5 0.5 5.5 0.5-6 1 1 0.5 2.5 0.5 4 0.5 0.5 0.5-2.5 1 5 0.5-6.5 0.5 6 0.5-4 0.5 3 1 5.5 0.5-9.5 0.5 1 0.5 4 0.5-12.5 1 10 0.5 4 0.5 2.5 0.5-10 0.5 6 1-5.5 0.5-8.5 0.5 10 0.5 3.5 0.5-1 1 1.5 0.5-1.5 0.5 2.5 0.5 1.5 0.5-6 1 1 0.5 8.5 0.5-5.5 0.5 0 0.5-0.5 1-3 0.5 4 0.5 4 0.5-5.5 0.5 3 1-2.5 0.5 0 0.5 3.5 0.5-3 0.5 5 1-6.5 0.5 11.5 0.5-16.5 0.5 21 0.5-14.5 1-2.5 0.5 5.5 0.5-5.5 0.5 1.5 0.5 3 1 1.5 0.5-2.5 0.5 4.5 0.5 5.5 0.5-13.5 1 6 0.5 2 0.5 2.5 0.5-7 0.5 6 1-6.5 0.5 8 0.5-5.5 0.5-2.5 0.5 1 1 2 0.5 0 0.5-6 0.5 2.5 0.5 2.5 1 7.5 0.5-9 0.5 0 0.5 2.5 0.5 0 1 4.5 0.5-4 0.5-1 0.5 3.5 0.5-0.5 1 4 0.5-1 0.5-2 0.5-2.5 0.5 1.5 1-5 0.5 8 0.5 0 0.5-5.5 0.5-0.5 1 2 0.5-0.5 0.5 3 0.5 2 0.5-1 1-5 0.5 1.5 0.5 9 0.5-5.5 0.5 0.5 1-3 0.5 2 0.5-2.5 0.5-3 0.5 6 1-2 0.5-5.5 0.5 21 0.5-9.5 0.5-7 1 8.5 0.5-2 0.5-5.5 0.5-9.5 0.5 16.5 1-2.5 0.5-2 0.5 12 0.5-6.5 0.5-4.5 1-4.5 0.5 6.5 0.5-4 0.5 9.5 0.5-9 1 7.5 0.5 0 0.5-6 0.5 2.5 0.5-3.5 1-0.5 0.5 2.5 0.5-2 0.5 2 0.5 11 1-8.5 0.5-5.5 0.5-11 0.5 25.5 0.5-11.5 1 0 0.5-3.5 0.5-3.5 0.5 4 0.5 3 1-3.5 0.5 2 0.5-2 0.5 7.5 0.5-5 1 0.5 0.5-5 0.5 7 0.5 5.5 0.5-6 1 3.5 0.5 3.5 0.5-12.5 0.5 6.5 0.5-0.5 1-3 0.5 3.5 0.5-5 0.5 3 0.5 2 1 0 0.5-5 0.5 5.5 0.5-5.5 0.5-1.5 1-1.5 0.5 10.5 0.5 1.5 0.5-9.5 0.5-5.5 1 9 0.5-1.5 0.5 10.5 0.5-10 0.5 6.5 1-9.5 0.5 4 0.5-2 0.5-2 0.5 11 1 4 0.5-4.5 0.5-10 0.5 3 0.5 2.5 1-5.5 0.5 1.5 0.5 6.5 0.5-5.5 0.5-2.5 1-1.5 0.5 7 0.5-3 0.5 5 0.5-0.5 1-11.5 0.5 10.5 0.5-6 0.5 8.5 0.5-0.5 1 1.5 0.5-4.5 0.5-0.5 0.5-3.5 0.5 9 1-2.5 0.5-6.5 0.5 2.5 0.5 3.5 0.5-6 1 7 0.5 6 0.5-9 0.5-1.5 0.5 3 1-1.5 0.5-4 0.5 0.5 0.5 10 0.5-12 1 12 0.5-6 0.5 2 0.5 4.5 0.5-6.5 1 3.5 0.5 2 0.5-1.5 0.5-2.5 0.5 3.5 1-10 0.5 2.5 0.5-1 0.5 4.5 0.5-7 1-5 0.5 14.5 0.5 6 0.5-12 0.5-7 1 6 0.5-1.5 0.5 6.5 0.5-2 0.5 0.5 1-4 0.5 7 0.5-4.5 0.5-5 0.5-1 1 9.5 0.5 5 0.5-5 0.5 0 0.5-1.5 1-0.5 0.5-0.5 0.5-3.5 0.5 7 0.5-7 1 13 0.5-10 0.5-1.5 0.5 5.5 0.5-13 1 3 0.5-1.5 0.5 6 0.5-1 0.5 4 1-0.5 0.5-7.5 0.5 12 0.5 0 0.5 0 1-7 0.5 4.5 0.5-2 0.5 1 0.5-1 1 0 0.5-4.5 0.5 6 0.5-1 0.5-3 1 4 0.5-3.5 0.5 3 0.5-12 0.5 3.5 1 11 0.5-5 0.5-1 0.5 1.5 0.5 3.5 1 6.5 0.5-6.5 0.5-9.5 0.5 3.5 0.5 8 1-4 0.5-1.5 0.5-4 0.5 6 0.5-3.5 1-2 0.5-6.5 0.5 10.5 0.5-4.5 0.5-14.5 1 3 0.5 1.5 0.5 8.5 0.5-11.5 0.5 1.5 1 2 0.5-3.5 0.5-2.5 0.5 3 0.5-9 1 17 0.5 2.5 0.5-1 0.5 3 0.5-4.5 1 9.5 0.5-7.5 0.5 0 0.5 5.5 0.5 1 1 1 0.5-4 0.5 0 0.5 7 0.5-0.5 1 1.5 0.5-1 0.5-11.5 0.5 12.5 0.5-4 1-6 0.5 10.5 0.5-1 0.5-4.5 0.5 14 1-16 0.5 3 0.5 4 0.5-3.5 0.5-1 1-5.5 0.5 8 0.5-5.5 0.5 2 0.5 3.5 1-1 0.5-0.5 0.5-2 0.5 3.5 0.5-2 1 1.5 0.5-3 0.5-0.5 0.5 1.5 0.5 8 1-11 0.5 4 0.5 1.5 0.5-4.5 0.5 1.5 1 1 0.5-4.5 0.5 7.5 0.5-5 0.5 10.5 1-9.5 0.5-5 0.5 12.5 0.5-2.5 0.5 0 1-5.5 0.5-1.5 0.5-0.5 0.5-0.5 0.5 0.5 1 6 0.5-2 0.5 3 0.5 2.5 0.5-2 1 0.5 0.5-2.5 0.5 4.5 0.5-3.5 0.5-0.5 1-3 0.5 2.5 0.5 1.5 0.5 2.5 0.5-9 1 3.5 0.5-1 0.5-3 0.5 1.5 0.5 4.5 1-9.5 0.5 3 0.5 3.5 0.5-3 0.5-1 1 6 0.5-4 0.5 4 0.5 0 0.5-11.5 1 10.5 0.5 3.5 0.5-4.5 0.5 0 0.5-5 1 6 0.5 3 0.5-5 0.5-1 0.5-0.5 1 10.5 0.5-8.5 0.5 4.5 0.5-1 0.5 5 1-6.5 0.5-2.5 0.5-0.5 0.5-8 0.5 10 1-2.5 0.5-1 0.5-2 0.5 6.5 0.5-7 1 9 0.5-7 0.5 0 0.5-1.5 0.5-1 1 0 0.5-7 0.5 0.5 0.5 0.5 0.5 1 1-2.5 0.5 1 0.5-9 0.5 3.5 0.5 8 1-11 0.5-15 0.5 0 0.5-14 0.5-12.5 1-9.5 0.5-23 0.5-3 0.5-14 0.5-13.5 1-17 0.5-22 0.5-11.5 0.5-19.5 0.5-19.5 1 0 0.5-8.5 0.5-3 0.5 20 0.5 9 1 13 0.5 12.5 0.5 19.5 0.5 25.5 0.5 7.5 1 18 0.5 18 0.5 15 0.5 16 0.5 4.5 1 12.5 0.5 3.5 0.5 10.5 0.5 0 0.5-3 1 7 0.5 5.5 0.5 5 0.5 6 0.5 2 1-6.5 0.5-5 0.5 1 0.5 7.5 0.5-3.5 1 4 0.5 2 0.5-0.5 0.5 1.5 0.5-4.5 1 7 0.5-7.5 0.5 1.5 0.5 9 0.5-9.5 1 4 0.5 4 0.5-9 0.5 2.5 0.5 8 1-4.5 0.5-0.5 0.5 0 0.5 1.5 0.5 5.5 1-3.5 0.5-2.5 0.5 1 0.5 6.5 0.5-2.5 1-7 0.5 14.5 0.5-8 0.5-0.5 0.5 5 1-8.5 0.5 6 0.5-5.5 0.5 0.5 0.5 5.5 1-12.5 0.5 13.5 0.5-7.5 0.5 6.5 0.5-5.5 1 0 0.5 5.5 0.5-10.5 0.5 7.5 0.5-2.5 1 4 0.5 4.5 0.5-5.5 0.5-2 0.5 2 1-1.5 0.5 3.5 0.5-3.5 0.5 5.5 0.5-3 1-14 0.5 13 0.5 0.5 0.5-5.5 0.5 8 1-5 0.5 0.5 0.5 0.5 0.5 5 0.5 4 1-1.5 0.5-10 0.5 2 0.5-1 0.5-0.5 1 8.5 0.5-2.5 0.5-6.5 0.5 5 0.5 5.5 1-5.5 0.5 2.5 0.5-7.5 0.5-2.5 0.5 6 1-2 0.5 4.5 0.5 4.5 0.5-5.5 0.5-4.5 1 2.5 0.5-7.5 0.5 5.5 0.5 3.5 0.5 3.5 1-5 0.5 8 0.5-11.5 0.5-0.5 0.5 5.5 1 2.5 0.5 4.5 0.5-11.5 0.5 3 0.5 0 1-3 0.5 8.5 0.5-6 0.5 4 0.5 8 1-5.5 0.5-10.5 0.5 5 0.5 0 0.5-1 1 0 0.5 6 0.5-13 0.5 13.5 0.5-10.5 1 9 0.5-6 0.5 6 0.5-5 0.5 5.5 1 2 0.5-6 0.5 2 0.5-6.5 0.5 1 1-1.5 0.5 3.5 0.5 5 0.5-4 0.5 0.5 1-4 0.5 6 0.5-5 0.5 2.5 0.5-3.5 1 0.5 0.5 4.5 0.5-1.5 0.5 6 0.5-10 1 2.5 0.5 4.5 0.5-4 0.5 3 0.5-3.5 1 2 0.5-0.5 0.5-6 0.5 10 0.5-4 1-0.5 0.5 1 0.5-3.5 0.5 12.5 0.5-10.5 1-1 0.5 5.5 0.5-3 0.5 3.5 0.5-2.5 1-1.5 0.5 3 0.5-6 0.5 1 0.5 4.5 1-3 0.5-3 0.5 6.5 0.5 4.5 0.5-8 1 3.5 0.5 2 0.5 0.5 0.5-1 0.5-4.5 1-1 0.5 2 0.5 0.5 0.5-1 0.5 0.5 1-3.5 0.5 0 0.5 5 0.5 5.5 0.5-6.5 1-1.5 0.5-0.5 0.5 4.5 0.5 4 0.5-12 1 17.5 0.5-12 0.5 3.5 0.5-5 0.5-3 1 3.5 0.5 2.5 0.5 3 0.5-4.5 0.5 1 1 3.5 0.5-8 0.5-1 0.5-7.5 0.5 18 1-2 0.5-3.5 0.5 1.5 0.5 0.5 0.5-10.5 1 10 0.5-4 0.5 1 0.5 1.5 0.5 9.5 1-17 0.5 4 0.5 4 0.5 5 0.5-10.5 1 4.5 0.5-1 0.5-0.5 0.5-4 0.5 5 1-8.5 0.5-1.5 0.5 14 0.5-7.5 0.5 0.5 1 6 0.5-2 0.5-9.5 0.5 9 0.5 0.5 1-4.5 0.5 4.5 0.5 4 0.5-6 0.5 1 1-4.5 0.5 11 0.5-5.5 0.5-2.5 0.5-1 1-9 0.5 13.5 0.5-0.5 0.5 1.5 0.5 1.5 1-2 0.5 3 0.5 4 0.5-12 0.5 0 1-4 0.5 4.5 0.5-0.5 0.5 8 0.5-6 1-3.5 0.5 5 0.5-0.5 0.5-2.5 0.5-3.5 1 5 0.5 0.5 0.5 1 0.5 1.5 0.5 0 1-6.5 0.5 6.5 0.5 2.5 0.5 1 0.5-4 1-6.5 0.5 2 0.5-3 0.5 6.5 0.5-12.5 1 13 0.5-5.5 0.5 2.5 0.5 4.5 0.5 1 1-1 0.5-11 0.5 8 0.5 3.5 0.5-4 1 8 0.5-9.5 0.5 13 0.5-12.5 0.5-1 1 7 0.5-16 0.5 13.5 0.5-3 0.5 0 1 7.5 0.5-10 0.5 7.5 0.5 8.5 0.5-6.5 1-7 0.5 0.5 0.5-3 0.5 6 0.5-5.5 1-3.5 0.5 9.5 0.5 0 0.5-6 0.5 0.5 1 5.5 0.5-4 0.5 6.5 0.5-8.5 0.5 3.5 1 0 0.5 1.5 0.5-6 0.5 7.5 0.5-2 1 3 0.5-4.5 0.5 6 0.5-10 0.5 5 1-5.5 0.5 5.5 0.5-1 0.5 11 0.5-15.5 1-3 0.5 9 0.5-3.5 0.5-0.5 0.5 14 1-11 0.5-3.5 0.5-2.5 0.5 8.5 0.5-0.5 1-8.5 0.5 9.5 0.5-5 0.5-2 0.5-2.5 1 2 0.5 0 0.5 3.5 0.5-1.5 0.5 3 1-1.5 0.5-1.5 0.5-6 0.5 3.5 0.5 1 1-4 0.5 3 0.5 4 0.5-3 0.5 2 1-7.5 0.5 5 0.5-5 0.5 7 0.5-2.5 1-0.5 0.5 4.5 0.5-4.5 0.5-9.5 0.5 7 1-11.5 0.5 13 0.5-18 0.5-4 0.5-2.5 1-18.5 0.5 2.5 0.5-3 0.5-11.5 0.5-14 1-11.5 0.5-11.5 0.5-9.5 0.5-9 0.5-12 1-18 0.5 8 0.5-4.5 0.5-0.5 0.5-6.5 1 5 0.5 12 0.5 17.5 0.5 15.5 0.5 0.5 1 12 0.5 16 0.5 10.5 0.5 12 0.5 10 1 5.5 0.5 10.5 0.5-1 0.5 4 0.5-5 1 12 0.5-2.5 0.5 3.5 0.5 5.5 0.5-12.5 1 22.5 0.5-5 0.5-7 0.5 2 0.5 1 1 3 0.5-2.5 0.5-3 0.5-5.5 0.5 13 1 2 0.5-8.5 0.5 8 0.5 7.5 0.5-10 1-1.5 0.5 4 0.5 1 0.5-3 0.5-0.5 1 7.5 0.5-6 0.5-3 0.5-7 0.5 10 1-2 0.5 8 0.5-0.5 0.5-4 0.5 7 1-9.5 0.5 4.5 0.5-3 0.5-1 0.5 6 1-6.5 0.5 3.5 0.5 5 0.5-3 0.5-2.5 1 3 0.5-4.5 0.5 2 0.5-1 0.5 3 1 2 0.5-3 0.5-3.5 0.5 4.5 0.5-2 1-3.5 0.5 6 0.5-2.5 0.5 0.5 0.5 4.5 1-2.5 0.5 1 0.5-4 0.5-3 0.5 8.5 1-6.5 0.5 0 0.5 4 0.5-1.5 0.5 2.5 1-1.5 0.5-3 0.5 3 0.5-1 0.5 0 1-3 0.5 2.5 0.5-0.5 0.5-2.5 0.5 2 1 4 0.5 0 0.5-3 0.5 4.5 0.5-3 1-1 0.5-5 0.5 3.5 0.5 1.5 0.5 0.5 1-2.5 0.5-10 0.5 10 0.5 1.5 0.5-3 1-3 0.5 5.5 0.5-12 0.5-3 0.5 7.5 1-7 0.5-2 0.5-0.5 0.5 6 0.5-8.5 1-0.5 0.5-2.5 0.5-1 0.5-5 0.5-1 1-3 0.5 10 0.5-11.5 0.5 3.5 0.5-5 1 13 0.5-3 0.5-3 0.5-2 0.5 13 1-1 0.5 4.5 0.5-9 0.5 17 0.5-0.5 1 0 0.5-2.5 0.5 8.5 0.5 5.5 0.5-10 1 10.5 0.5-9 0.5 5 0.5-5 0.5-2.5 1 10 0.5 3 0.5-11.5 0.5 4 0.5-3.5 1 9.5 0.5-4 0.5 5.5 0.5-10 0.5 10 1-2 0.5-4.5 0.5 3 0.5-3.5 0.5-2 1 5.5 0.5 3.5 0.5-5.5 0.5-2.5 0.5 1.5 1 8.5 0.5-8.5 0.5 0 0.5 3 0.5-5 1 14 0.5-11.5 0.5 6.5 0.5-3.5 0.5-0.5 1 3.5 0.5-5 0.5-2.5 0.5 1 0.5 4.5 1 1.5 0.5 2.5 0.5-8 0.5 8.5 0.5-5 1-2.5 0.5 3 0.5 1 0.5 5 0.5-9.5 1 2.5 0.5-3.5 0.5 15 0.5-11.5 0.5-2 1-4 0.5 7.5 0.5 1.5 0.5-5 0.5-1 1-1 0.5 0 0.5 6 0.5-3 0.5 0 1 8.5 0.5-13 0.5 1 0.5 1.5 0.5 3 1-3 0.5 1.5 0.5 3 0.5 2.5 0.5-2 1-1 0.5 0.5 0.5-2 0.5 4 0.5-4 1 3 0.5-3 0.5 7.5 0.5-4 0.5-5 1 8 0.5-6.5 0.5 3 0.5-2.5 0.5-1.5 1 3 0.5-6 0.5 5.5 0.5 2.5 0.5-5.5 1 0.5 0.5-2.5 0.5-0.5 0.5 6 0.5-3 1-3 0.5 5 0.5 3 0.5 2.5 0.5-7 1-1.5 0.5-4 0.5 5 0.5-1 0.5 2.5 1-1.5 0.5-3.5 0.5 5 0.5 1.5 0.5 3.5 1-4 0.5-1.5 0.5 2 0.5-3 0.5 1 1-1 0.5-4 0.5 5.5 0.5 6 0.5-5 1-3 0.5 1 0.5-2 0.5 9 0.5-3.5 1 0 0.5-5.5 0.5 1.5 0.5 3.5 0.5 2.5 1-2.5 0.5-7 0.5 6 0.5 1 0.5-2.5 1 7 0.5-13 0.5 10 0.5-9.5 0.5 3.5 1 6 0.5 7.5 0.5-11.5 0.5-4.5 0.5 8 1-10.5 0.5 8.5 0.5 0.5 0.5 5.5 0.5-11.5 1 9.5 0.5-6.5 0.5 6 0.5-2 0.5-2 1 2.5 0.5-4.5 0.5-0.5 0.5 0.5 0.5 1 1 3.5 0.5-5 0.5 8.5 0.5-5.5 0.5-1.5 1 2 0.5 2 0.5-5.5 0.5 6 0.5 0 1 3 0.5-7.5 0.5 4 0.5-1.5 0.5 1 1-5.5 0.5 7 0.5-1 0.5 4.5 0.5-7 1-2.5 0.5 0 0.5 1 0.5-1 0.5 6.5 1-4.5 0.5-2.5 0.5 4.5 0.5-2 0.5 3 1-0.5 0.5-5.5 0.5 2.5 0.5 3 0.5-4.5 1 4 0.5-4 0.5 8.5 0.5-3.5 0.5 0.5 1 0 0.5-5.5 0.5-2.5 0.5 5 0.5 5 1 5.5 0.5-3 0.5-2.5 0.5-4 0.5-1.5 1-3.5 0.5 8 0.5-3 0.5 0.5 0.5-1.5 1 0.5 0.5 4 0.5-7 0.5 5 0.5 4 1-4 0.5-0.5 0.5-2.5 0.5-1 0.5-1 1 2.5 0.5-1.5 0.5 0 0.5 4 0.5-0.5 1 1 0.5-5 0.5-6 0.5 8.5 0.5 2 1-8.5 0.5 3.5 0.5 6.5 0.5-3.5 0.5 2 1-3.5 0.5 8 0.5-5.5 0.5-2.5 0.5 4.5 1-5.5 0.5 6 0.5-3 0.5 8.5 0.5-7 1-5 0.5 9 0.5-5.5 0.5-2.5 0.5 11 1-2 0.5-2 0.5-7.5 0.5 4 0.5-1 1-1.5 0.5 6 0.5-4 0.5-2 0.5 6 1-6 0.5 4.5 0.5-4.5 0.5 4.5 0.5-4.5 1 3.5 0.5 0.5 0.5-7.5 0.5 8.5 0.5-0.5 1-5 0.5 0.5 0.5-5.5 0.5 6 0.5 4.5 1-14 0.5 15 0.5-10 0.5 7 0.5 0.5 1 9.5 0.5-6 0.5-5.5 0.5 1 0.5-8 1 13.5 0.5-2.5 0.5-1 0.5-1 0.5-3.5 1 1 0.5-1.5 0.5-1.5 0.5 15 0.5-8 1 2 0.5-5.5 0.5-3 0.5 0 0.5 2 1 4 0.5-5.5 0.5 5 0.5 2 0.5-6.5 1-1.5 0.5 2.5 0.5 3 0.5 1.5 0.5-3 1-1.5 0.5 1 0.5 6.5 0.5-8.5 0.5 4.5 1 2 0.5-11.5 0.5 3.5 0.5 6 0.5-3.5 1 7 0.5-4 0.5-8 0.5 7.5 0.5 9.5 1-12 0.5 5.5 0.5-1 0.5-13.5 0.5 15 1-7 0.5-0.5 0.5 3 0.5 3 0.5-2.5 1-10 0.5 13 0.5-2 0.5 9.5 0.5-9 1 0.5 0.5-6 0.5 2 0.5 0 0.5 4 1-3.5 0.5 1 0.5 3 0.5 3.5 0.5 1.5 1-10 0.5-1 0.5 4 0.5 5 0.5-3.5 1 0.5 0.5-1 0.5-1.5 0.5-1 0.5 8 1-10.5 0.5 6 0.5 0 0.5 1.5 0.5-5 1-4 0.5 3.5 0.5-1.5 0.5 0.5 0.5 1.5 1 3 0.5 1 0.5-4.5 0.5 2 0.5 0.5 1 0.5 0.5-1.5 0.5 2 0.5-2.5 0.5-3.5 1 0.5 0.5 2.5 0.5 1 0.5-2.5 0.5-3.5 1 5 0.5 0.5 0.5 0.5 0.5 1.5 0.5-5.5 1 9 0.5-2.5 0.5 1 0.5-6.5 0.5 12 1-10.5 0.5 5 0.5 0 0.5-6 0.5 2 1 8 0.5-1.5 0.5-6 0.5 3 0.5-8 1 7 0.5-5.5 0.5 1 0.5 7.5 0.5-8.5 1-0.5 0.5 7 0.5-6 0.5 4 0.5 1.5 1 0.5 0.5-5.5 0.5-2 0.5 7 0.5-5 1 0 0.5 0 0.5 6 0.5-6.5 0.5 8.5 1-2.5 0.5 1 0.5-4 0.5-0.5 0.5 3.5 1-0.5 0.5-8 0.5 7.5 0.5-3 0.5 0.5 1 4 0.5-9.5 0.5 6.5 0.5-9.5 0.5 11 1-3.5 0.5 0.5 0.5-2 0.5 5.5 0.5-3.5 1 1 0.5-11 0.5 8 0.5-7.5 0.5 5 1-2 0.5-1 0.5 1.5 0.5 3.5 0.5-13.5 1 6.5 0.5-1.5 0.5-6 0.5-1 0.5 0 1-6.5 0.5-4 0.5-1 0.5 2 0.5 5.5 1-2.5 0.5 0 0.5 5 0.5 0.5 0.5 4.5 1-1 0.5 1.5 0.5 0.5 0.5 1.5 0.5 4.5 1 0 0.5-2 0.5 2.5 0.5 2 0.5 4.5 1-2.5 0.5 2.5 0.5 2.5 0.5 0 0.5-2.5 1 3 0.5-1.5 0.5-7 0.5 8 0.5 4.5 1-3 0.5-3.5 0.5 3.5 0.5 0 0.5 6 1-5 0.5-9 0.5 5.5 0.5-5.5 0.5 5 1 8.5 0.5-10 0.5 2.5 0.5 3.5 0.5-7 1 3 0.5 3.5 0.5 0 0.5-2.5 0.5 8 1-8 0.5 1.5 0.5 0 0.5-0.5 0.5-7.5 1 7.5 0.5-3 0.5 3 0.5 1 0.5-5.5 1 5 0.5-4 0.5-0.5 0.5 5 0.5-7 1 2.5 0.5 0.5 0.5 1 0.5-5.5 0.5 12 1-2 0.5-6.5 0.5 9.5 0.5-5 0.5 0 1 6.5 0.5-1 0.5-8.5 0.5-4 0.5 17 1-16.5 0.5 6 0.5 5 0.5-3 0.5-4 1 8 0.5-0.5 0.5-6 0.5 5.5 0.5-7.5 1 1.5 0.5 3.5 0.5-2 0.5-1 0.5 3.5 1-1 0.5 1.5 0.5-3 0.5 0 0.5 1.5 1 0.5 0.5-1.5 0.5-3 0.5 3 0.5-2 1 4 0.5-6 0.5-1 0.5 1.5 0.5 2.5 1 3 0.5-0.5 0.5-1.5 0.5-3.5 0.5 7 1-2.5 0.5-2.5 0.5 2.5 0.5-2 0.5 4.5 1-8.5 0.5 1.5 0.5 2.5 0.5-5.5 0.5 8.5 1-2.5 0.5 5 0.5-6 0.5-4 0.5 6 1 0.5 0.5 0 0.5-1.5 0.5-2.5 0.5 2.5 1 1.5 0.5-0.5 0.5-0.5 0.5-0.5 0.5-2.5 1 4 0.5-3.5 0.5 1 0.5-4.5 0.5 5.5 1 5.5 0.5-6.5 0.5 0.5 0.5 1 0.5 2 1-2.5 0.5-2.5 0.5 10.5 0.5-9.5 0.5 0 1-1 0.5 2 0.5 6 0.5-5 0.5 2.5 1 1 0.5 0.5 0.5-8 0.5 2.5 0.5 10.5 1-8 0.5-1.5 0.5 2 0.5-1.5 0.5 0.5 1-1.5 0.5-1.5 0.5-1.5 0.5 5 0.5-2 1-0.5 0.5-5.5 0.5 5 0.5-1 0.5 3.5 1-2.5 0.5-4 0.5 2.5 0.5 3.5 0.5-0.5 1 1 0.5 4.5 0.5-6.5 0.5 1.5 0.5-2.5 1 8.5 0.5-6 0.5 2 0.5-3 0.5 0.5 1 1.5 0.5 1 0.5-1 0.5-2 0.5 2.5 1-2 0.5 1 0.5-1 0.5-2.5 0.5 3 1-3 0.5 5 0.5-1.5 0.5-0.5 0.5-3.5 1 0 0.5 5 0.5-1.5 0.5-5.5 0.5 5 1 2.5 0.5-3 0.5 0.5 0.5-5.5 0.5 8 1 0.5 0.5-4 0.5 0 0.5-3 0.5 5 1 8 0.5-5.5 0.5 1 0.5-5 0.5-4 1 3 0.5 5.5 0.5-9.5 0.5 8.5 0.5-4.5 1-0.5 0.5 5 0.5-2 0.5 2 0.5-2.5 1-9 0.5 3 0.5 8.5 0.5 0.5 0.5 1 1-1.5 0.5 0 0.5-5 0.5 6 0.5 1.5 1-6 0.5 1 0.5-5 0.5 8 0.5-4 1 2 0.5 1.5 0.5-1.5 0.5 2 0.5-6.5 1 5 0.5-4 0.5 2.5 0.5 2 0.5 1 1-3 0.5 2 0.5 5 0.5-5 0.5-1.5 1 1 0.5-1 0.5-5 0.5 5.5 0.5-2 1 4 0.5-1 0.5 4 0.5-11.5 0.5 7.5 1 4.5 0.5-3.5 0.5-1 0.5-2.5 0.5-4 1 2.5 0.5 5 0.5 1 0.5-5 0.5 0.5 1-1 0.5-3.5 0.5-2 0.5 9 0.5-3.5 1 4.5 0.5-5 0.5 1.5 0.5-5.5 0.5 6.5 1 2 0.5-2 0.5-2.5 0.5-4.5 0.5 11 1-6.5 0.5 0.5 0.5 0 0.5 1.5 0.5 2 1-4 0.5 7 0.5-12.5 0.5-0.5 0.5 6 1 5.5 0.5-5.5 0.5 0.5 0.5 3 0.5-4 1-0.5 0.5 0.5 0.5 0 0.5-1.5 0.5-6 1 3 0.5-5.5 0.5 0.5 0.5 10 0.5-5 1 5.5 0.5-14 0.5 2 0.5-9 0.5 6.5 1-3.5 0.5-1 0.5-3 0.5-7 0.5 1 1-7 0.5-1 0.5-4.5 0.5-0.5 0.5-5.5 1-2 0.5-5.5 0.5 1.5 0.5 0 0.5 0 1-1 0.5-1 0.5 4 0.5-2 0.5 9.5 1-7 0.5 10.5 0.5 3 0.5 2 0.5 4.5 1-1.5 0.5 7.5 0.5 3.5 0.5-0.5 0.5 8.5 1-4.5 0.5 2 0.5 3.5 0.5-0.5 0.5 4 1 10 0.5-12 0.5 4.5 0.5 1.5 0.5 2.5 1 1 0.5-2 0.5 3.5 0.5-1 0.5-2.5 1 4 0.5 0.5 0.5 1.5 0.5-5 0.5-1 1 3 0.5 4 0.5-0.5 0.5-3 0.5 4 1-6 0.5 6 0.5-2 0.5-1 0.5-7.5 1 8.5 0.5-1 0.5-4 0.5 7 0.5-0.5 1 0 0.5 2 0.5-8 0.5 0 0.5 3.5 1-1.5 0.5 1.5 0.5-2.5 0.5 2.5 0.5-1 1-1.5 0.5-1 0.5 3.5 0.5 2 0.5-5.5 1 5.5 0.5-2.5 0.5-2 0.5 1 0.5 3 1 0 0.5-1 0.5 6 0.5-4.5 0.5-1.5 1 0.5 0.5-11 0.5 15 0.5-5.5 0.5 0 1 1 0.5 0 0.5-4.5 0.5 0 0.5-2.5 1 3.5 0.5 3.5 0.5-3.5 0.5-1 0.5 2.5 1-10 0.5 5 0.5-1 0.5 4 0.5 0 1-1 0.5-6 0.5 2.5 0.5-4.5 0.5-7 1 3 0.5-2 0.5-2 0.5-3.5 0.5 0 1-2 0.5-8.5 0.5 3.5 0.5-0.5 0.5-3 1 1.5 0.5-3 0.5-7 0.5 7 0.5-2 1-0.5 0.5 1 0.5 10.5 0.5-3.5 0.5 0 1 2.5 0.5 2 0.5 4 0.5 8.5 0.5 1 1-7 0.5 5 0.5-2.5 0.5 11.5 0.5-6.5 1-3 0.5 10.5 0.5-3 0.5-1.5 0.5 4 1 8 0.5-4.5 0.5 0.5 0.5 4 0.5-5.5 1 0.5 0.5 4.5 0.5 1.5 0.5-3.5 0.5-1 1 3.5 0.5-4 0.5 7.5 0.5-3.5 0.5 1 1 3.5 0.5-5.5 0.5 4.5 0.5-2.5 0.5-0.5" fill="none" stroke="#00B0F0" stroke-width="5.0" stroke-linejoin="round" stroke-linecap="round" clip-path="url(#clip2)"/>
<path d="M270 3733 l0.5-2.5 0.5-0.5 1 32.5 0.5-26 0.5 14.5 0.5-17.5 0.5 4 1-2 0.5-0.5 0.5-8.5 0.5 0 0.5 33.5 1-24.5 0.5 9 0.5-21.5 0.5 6.5 0.5 17 1-29 0.5 28 0.5-5.5 0.5-9 0.5-10 1 9.5 0.5 17.5 0.5-10 0.5 2.5 0.5 4 1-9.5 0.5 4 0.5 3.5 0.5-7 0.5 3.5 1-13 0.5 23 0.5 6.5 0.5-22 0.5-12.5 1 12.5 0.5 1 0.5-13 0.5 13 0.5-2 1 6.5 0.5 6 0.5 2 0.5-13 0.5 4.5 1 10 0.5 0 0.5-4 0.5 7 0.5-0.5 1-17.5 0.5 15 0.5-8 0.5 6.5 0.5-7.5 1-4.5 0.5 13 0.5-11 0.5-3.5 0.5 20.5 1-7 0.5 4.5 0.5-8.5 0.5-2.5 0.5-2 1 9 0.5-9 0.5 25 0.5-14.5 0.5 13.5 1-5 0.5-20.5 0.5 16.5 0.5-20 0.5 26.5 1-14 0.5 13 0.5-22.5 0.5 25 0.5-12 1 2 0.5-10 0.5-1 0.5-5 0.5 10 1-8 0.5 15 0.5-2.5 0.5-8 0.5 18.5 1-5 0.5-16 0.5 1.5 0.5 1 0.5 7.5 1-5 0.5-1.5 0.5 24 0.5-9 0.5 17.5 1-14.5 0.5-2 0.5-8 0.5-1.5 0.5 1.5 1-8.5 0.5 10.5 0.5-0.5 0.5 9.5 0.5 8 1-7.5 0.5-18 0.5-3.5 0.5 3.5 0.5 2.5 1 10 0.5-7 0.5-4.5 0.5 33 0.5-32 1-8.5 0.5 25 0.5-16.5 0.5 14.5 0.5-30 1 43.5 0.5-6 0.5 15 0.5-19 0.5 3.5 1-21 0.5 20 0.5-23.5 0.5 3 0.5 4.5 1-2 0.5 9 0.5-8 0.5 17.5 0.5-11 1-8.5 0.5 18.5 0.5-1 0.5-17 0.5 4.5 1 1.5 0.5 11.5 0.5 0.5 0.5-4 0.5-4 1 11 0.5-5 0.5-7 0.5 3.5 0.5 17.5 1-22.5 0.5 9.5 0.5-1.5 0.5 1.5 0.5-1.5 1 9.5 0.5-32.5 0.5 25 0.5-7.5 0.5-14.5 1 17 0.5 7 0.5 0.5 0.5-4 0.5 8.5 1 5.5 0.5 6 0.5-15.5 0.5 3 0.5 13 1-12 0.5 10.5 0.5-2 0.5 10.5 0.5-18.5 1 1 0.5-1 0.5 9.5 0.5-11 0.5 2 1 0 0.5-3.5 0.5 2.5 0.5-7.5 0.5 1.5 1 6.5 0.5-5 0.5 20 0.5-15.5 0.5-10 1-17 0.5 54.5 0.5 8.5 0.5-27 0.5-9 1-1.5 0.5-6 0.5 27.5 0.5-27 0.5 17.5 1-7.5 0.5 2.5 0.5-13.5 0.5 23 0.5-21.5 1-8.5 0.5 15 0.5 10 0.5 10 0.5-12 1 11.5 0.5-16 0.5 7.5 0.5-16 0.5 6.5 1 6.5 0.5 1 0.5-1 0.5-1 0.5-14 1 38 0.5-27.5 0.5 9 0.5 4.5 0.5-2.5 1-6.5 0.5 7.5 0.5-4.5 0.5-1 0.5 22 1-35.5 0.5 35.5 0.5-36.5 0.5-6 0.5 25 1-8.5 0.5 11.5 0.5-0.5 0.5-5 0.5 11.5 1-22 0.5 20 0.5-4 0.5-8 0.5-9.5 1 21.5 0.5 5.5 0.5-12 0.5 11.5 0.5-10 1-4 0.5 2 0.5 8.5 0.5-14.5 0.5 14.5 1-33 0.5 20 0.5-0.5 0.5 23.5 0.5-25 1-5 0.5 6 0.5 2.5 0.5 15 0.5-0.5 1-10.5 0.5-2 0.5 20 0.5-25 0.5 12.5 1 10 0.5-4 0.5-3 0.5 0.5 0.5 13.5 1-18.5 0.5 7.5 0.5-9 0.5 10.5 0.5-12 1 10.5 0.5 7.5 0.5-18 0.5 10 0.5 16.5 1-33 0.5 14 0.5 3.5 0.5 14.5 0.5-44.5 1 26.5 0.5 0 0.5-7 0.5 13.5 0.5 7 1 2.5 0.5-20.5 0.5 20.5 0.5-42 0.5 20.5 1-8 0.5 36.5 0.5-22 0.5 10 0.5 1.5 1 3.5 0.5-4 0.5 4.5 0.5-4.5 0.5-15.5 1 5 0.5 13 0.5-11.5 0.5 7 0.5-19.5 1 22.5 0.5 5 0.5-0.5 0.5-11.5 0.5-2 1-0.5 0.5 7.5 0.5 4 0.5-18.5 0.5 15 1-2.5 0.5 5 0.5 7 0.5-4.5 0.5-10.5 1 4.5 0.5-15 0.5 5.5 0.5 10 0.5-6 1 21.5 0.5-25 0.5-0.5 0.5 20 0.5-9.5 1-5 0.5 0 0.5-6 0.5-1.5 0.5 9.5 1-16 0.5 33 0.5-5.5 0.5-7.5 0.5-3.5 1 0.5 0.5-10 0.5 7.5 0.5 1 0.5 3.5 1 4.5 0.5-2.5 0.5 18.5 0.5-23.5 0.5 10.5 1-16 0.5 26.5 0.5-4 0.5-9.5 0.5-15.5 1 13 0.5-18.5 0.5 28 0.5-39 0.5 38.5 1-17 0.5 17 0.5-11.5 0.5 25 0.5-33.5 1 12 0.5 0 0.5 10.5 0.5-10.5 0.5-6 1-11 0.5-5 0.5 18.5 0.5-23.5 0.5 15.5 1 6 0.5-17 0.5 8.5 0.5-26 0.5-18 1 8.5 0.5-3 0.5-35 0.5 10 0.5-16 1-11.5 0.5-34 0.5 16 0.5-26 0.5 5.5 1-21 0.5 4 0.5 8 0.5-6 0.5 3.5 1 58 0.5 6 0.5-5.5 0.5 0.5 0.5 31.5 1 13 0.5 9 0.5 8 0.5-5.5 0.5 5 1 7 0.5-2 0.5 33 0.5-12.5 0.5 7.5 1-9.5 0.5 28 0.5-9 0.5-2 0.5-9 1 9.5 0.5-4.5 0.5-2.5 0.5 16 0.5-12 1 0 0.5 2 0.5 2 0.5-9 0.5 23.5 1-9 0.5-14.5 0.5 14 0.5-13.5 0.5 15 1-6.5 0.5 6.5 0.5-15.5 0.5 1.5 0.5 8.5 1-4 0.5 11 0.5-0.5 0.5-7.5 0.5 27 1-14.5 0.5-10.5 0.5 10.5 0.5 5 0.5-7.5 1 0 0.5-10.5 0.5 11.5 0.5-0.5 0.5-3 1-15.5 0.5 17.5 0.5 0.5 0.5 0.5 0.5-2.5 1-3 0.5 14.5 0.5-15 0.5 21.5 0.5-12 1-8.5 0.5-1 0.5 1 0.5 8.5 0.5 5.5 1-10.5 0.5 9 0.5-4 0.5-5 0.5 0 1-17.5 0.5 29 0.5-17 0.5 2 0.5 21.5 1-21.5 0.5 5 0.5-5.5 0.5 6.5 0.5 28 1-32 0.5 7 0.5-2.5 0.5 17 0.5 1 1-25 0.5 36.5 0.5-16.5 0.5-11.5 0.5-6.5 1 5 0.5 1.5 0.5 16.5 0.5-20 0.5-8.5 1 14 0.5 11.5 0.5-4 0.5-5 0.5 4 1-11 0.5 3.5 0.5 17 0.5-8.5 0.5-14.5 1 35.5 0.5-49 0.5 19 0.5 19 0.5-14.5 1 1 0.5 28 0.5-21 0.5 10 0.5-15.5 1 12.5 0.5-4.5 0.5-6.5 0.5 2 0.5 12.5 1-25.5 0.5 17 0.5-15.5 0.5 29.5 0.5-13 1-7 0.5-5.5 0.5 25 0.5-22.5 0.5-19.5 1 33.5 0.5-10.5 0.5 6.5 0.5 10 0.5-5 1 12 0.5-10.5 0.5-13.5 0.5-1.5 0.5 8.5 1-4.5 0.5 7 0.5 12 0.5-13.5 0.5 9 1 8.5 0.5-20 0.5 13 0.5 0.5 0.5 2.5 1-17 0.5 11 0.5-5 0.5 5.5 0.5 1.5 1-1 0.5-4.5 0.5-8.5 0.5-8.5 0.5 21 1 0.5 0.5-2 0.5 0 0.5 18 0.5-23.5 1 14.5 0.5-14.5 0.5 12 0.5 2 0.5 8 1-24 0.5 6.5 0.5-3 0.5 10 0.5-1.5 1 2 0.5-10.5 0.5-3.5 0.5 18.5 0.5-6.5 1-7 0.5-2.5 0.5 31 0.5-28 0.5 10 1 14 0.5-13.5 0.5-4.5 0.5-1.5 0.5 3 1-9.5 0.5-10 0.5-10 0.5 15 0.5-13.5 1 29 0.5-24.5 0.5 17.5 0.5-2.5 0.5-19 1-14 0.5 1 0.5 16 0.5-25.5 0.5 20 1-15 0.5-6.5 0.5-2.5 0.5 8.5 0.5-19 1 25 0.5 9 0.5-22 0.5-5.5 0.5 9.5 1 20.5 0.5 1 0.5 11.5 0.5-6 0.5 16 1 17.5 0.5-21 0.5-20.5 0.5 18 0.5 2.5 1 1 0.5 0.5 0.5 6 0.5 17 0.5-12 1 7 0.5 4 0.5-15 0.5 6 0.5 3 1-5.5 0.5 6 0.5-4 0.5 5 0.5-4.5 1 20.5 0.5-23 0.5 15 0.5 7.5 0.5-20.5 1-6.5 0.5 18.5 0.5 8 0.5-6.5 0.5-8 1 5.5 0.5-6.5 0.5 11.5 0.5 7 0.5-8 1-28.5 0.5 24.5 0.5-9.5 0.5 17 0.5-3.5 1-11.5 0.5 13 0.5-0.5 0.5-1.5 0.5-9 1 10.5 0.5-14 0.5 8.5 0.5 19 0.5-4.5 1-8.5 0.5 5 0.5-8 0.5-1 0.5 8.5 1 19.5 0.5-26 0.5-2 0.5 24 0.5-7 1 10.5 0.5-31.5 0.5 16.5 0.5 25.5 0.5-29 1-11 0.5 24 0.5 5 0.5-18 0.5 7.5 1 6.5 0.5-23.5 0.5 23 0.5-9.5 0.5 10 1-21 0.5 8 0.5-8.5 0.5 0 0.5 17.5 1 8.5 0.5-11.5 0.5 10 0.5-9 0.5-8 1 13.5 0.5-2 0.5 9 0.5-11 0.5-6.5 1 1.5 0.5 7 0.5-13.5 0.5-0.5 0.5 23.5 1-9 0.5 5 0.5 2.5 0.5-8.5 0.5-2.5 1-8 0.5 2.5 0.5 16 0.5-21.5 0.5 15.5 1-4.5 0.5 0.5 0.5-3 0.5 17.5 0.5-23.5 1 3 0.5 5 0.5 9 0.5-2 0.5-1.5 1-5 0.5 18 0.5-16 0.5 15 0.5-15.5 1 7.5 0.5 10 0.5-37.5 0.5 29 0.5-20 1 34.5 0.5-26.5 0.5 4 0.5-15 0.5 6.5 1 14.5 0.5-12 0.5 11 0.5 8 0.5-21 1 2.5 0.5 10 0.5-21.5 0.5 19.5 0.5 3 1 18.5 0.5-6 0.5-27.5 0.5 13.5 0.5-6 1-15 0.5 7.5 0.5 14 0.5 2.5 0.5-15.5 1 18 0.5 4.5 0.5-22.5 0.5 20 0.5-8.5 1-8 0.5 1 0.5 1.5 0.5 13.5 0.5 4 1-11.5 0.5-3.5 0.5-9.5 0.5 19 0.5 6 1-8.5 0.5-8.5 0.5 15 0.5-12 0.5 3.5 1 12 0.5-19 0.5-13.5 0.5 29 0.5-14 1 7.5 0.5-8 0.5 17.5 0.5-9 0.5-4.5 1-8 0.5 15 0.5-10 0.5 0 0.5 7 1 12.5 0.5-16 0.5 15 0.5-5 0.5-5 1-8 0.5 3.5 0.5 11.5 0.5-7 0.5-16.5 1 4 0.5-3.5 0.5 15.5 0.5-10 0.5 6.5 1-4.5 0.5 7.5 0.5-5 0.5-1.5 0.5 7 1 2 0.5 0 0.5-6.5 0.5-5 0.5 9 1 10 0.5-8 0.5-10 0.5 17.5 0.5 1.5 1-11 0.5 12 0.5-18.5 0.5 8.5 0.5-10 1 7 0.5 5 0.5-7.5 0.5 5.5 0.5 10.5 1-11.5 0.5 10 0.5-13.5 0.5 0 0.5-2 1 4.5 0.5-4 0.5 22.5 0.5-16.5 0.5 4.5 1-3 0.5-1.5 0.5-9 0.5 16.5 0.5-11.5 1-22 0.5 29 0.5-4.5 0.5 15 0.5 5.5 1-24 0.5 1.5 0.5-6 0.5 24 0.5-5 1-18 0.5 17 0.5-3.5 0.5-27 0.5 14 1-2 0.5 23.5 0.5-7.5 0.5-1 0.5 15.5 1-16 0.5-0.5 0.5 10.5 0.5-24 0.5 15.5 1-0.5 0.5 4 0.5-6 0.5-11.5 0.5 24 1-2.5 0.5 3 0.5-8 0.5-2.5 0.5 6.5 1-3 0.5-7 0.5 19.5 0.5-20.5 0.5 8.5 1 2 0.5 4.5 0.5-16 0.5-2 0.5 18.5 1-15 0.5 20.5 0.5-18.5 0.5 2 0.5 15 1-14.5 0.5 9 0.5-7 0.5-2.5 0.5 17 1-3 0.5 2 0.5-16 0.5 4.5 0.5 8.5 1 11 0.5-11 0.5-25 0.5 19.5 0.5-14 1 21 0.5 9 0.5-6 0.5-5 0.5-4 1 12 0.5 10.5 0.5-26 0.5 23 0.5-15.5 1 7.5 0.5-5.5 0.5-1.5 0.5-4.5 0.5 0.5 1 14.5 0.5-5.5 0.5 6 0.5-18 0.5 5 1 13 0.5 8.5 0.5-21 0.5 12.5 0.5-12.5 1-12 0.5 15 0.5 8 0.5-8.5 0.5-4.5 1 2 0.5 1.5 0.5 1.5 0.5 3.5 0.5 5.5 1-12 0.5 15 0.5-13.5 0.5 5 0.5-7 1-12.5 0.5 25 0.5-24.5 0.5 8.5 0.5 9 1-10 0.5 12 0.5-9 0.5 1 0.5-2 1 9.5 0.5-10.5 0.5-5.5 0.5 25.5 0.5 5 1-27.5 0.5-0.5 0.5 22 0.5-8.5 0.5 22 1-19.5 0.5 19 0.5-48.5 0.5 34 0.5 2 1-20 0.5-5.5 0.5 28 0.5-16.5 0.5-3.5 1-4.5 0.5-0.5 0.5 13 0.5-8.5 0.5-1 1-15 0.5 10 0.5 9 0.5-9 0.5-1.5 1 12.5 0.5-26 0.5 19 0.5 0 0.5 7.5 1-27.5 0.5 18 0.5 4 0.5-14.5 0.5 21.5 1 9 0.5-26 0.5 18.5 0.5-28.5 0.5 12.5 1 0.5 0.5-11 0.5 14 0.5 17.5 0.5-38 1-7 0.5 34.5 0.5 1 0.5-28 0.5 12.5 1-12.5 0.5 26 0.5-15.5 0.5-3 0.5 23 1-8 0.5-2 0.5-4 0.5-2 0.5 6 1-1.5 0.5-8 0.5-11 0.5 2 0.5 14.5 1-5.5 0.5 9.5 0.5 1.5 0.5-21 0.5 12 1 9.5 0.5 0 0.5-1 0.5-12.5 0.5 16.5 1 15 0.5-15 0.5 5 0.5-14 0.5 8 1 4.5 0.5-15.5 0.5 4.5 0.5 4.5 0.5-6 1-5 0.5 18.5 0.5-10.5 0.5-3.5 0.5 16.5 1-17 0.5 2.5 0.5-0.5 0.5 10.5 0.5-1 1 23 0.5-32 0.5 12.5 0.5-10.5 0.5 7 1 4 0.5-11.5 0.5 6 0.5 7 0.5-5 1 1.5 0.5-7 0.5 2.5 0.5 2 0.5-1 1-4 0.5 0.5 0.5-1 0.5 13 0.5-6 1 0 0.5 6 0.5-7.5 0.5-7 0.5 9.5 1 7 0.5-9.5 0.5 1.5 0.5 13 0.5-35.5 1 1.5 0.5 1 0.5 19.5 0.5-5.5 0.5 2 1 5 0.5 7.5 0.5-9.5 0.5-0.5 0.5 3 1 9.5 0.5-11 0.5 4.5 0.5 4 0.5 19.5 1-18 0.5-18.5 0.5 8 0.5-6.5 0.5 11 1-5 0.5 12 0.5-18 0.5-2 0.5 14.5 1 0 0.5-10 0.5 16 0.5-2 0.5-11.5 1 8.5 0.5 4.5 0.5-1 0.5-8 0.5-3.5 1 0.5 0.5 8 0.5-4.5 0.5-13.5 0.5 3.5 1 23 0.5-11.5 0.5 3.5 0.5-4.5 0.5-5.5 1 13.5 0.5-36 0.5 40.5 0.5-30 0.5 35 1-30 0.5 0 0.5 9.5 0.5 8 0.5-5.5 1-0.5 0.5-28 0.5 37 0.5-2.5 0.5-18.5 1 14.5 0.5 5.5 0.5-29 0.5 20 0.5 3 1-20 0.5 5 0.5 11.5 0.5-0.5 0.5 0.5 1-23.5 0.5 31.5 0.5-4.5 0.5-6 0.5 7.5 1-11 0.5 17.5 0.5-22.5 0.5 3.5 0.5-2.5 1 9.5 0.5 2.5 0.5 7.5 0.5-14.5 0.5-4 1 7 0.5 20 0.5-5.5 0.5-3 0.5-7.5 1 2.5 0.5-0.5 0.5-5.5 0.5 13 0.5-6 1-2 0.5-12 0.5 5.5 0.5 3.5 0.5 5 1-2 0.5 8 0.5-15.5 0.5 10 0.5-7 1 3.5 0.5 3.5 0.5-10.5 0.5 6.5 0.5 10 1-4.5 0.5 2.5 0.5 3.5 0.5-1 0.5-8.5 1-2.5 0.5-16.5 0.5 29 0.5-10 0.5-12 1 8 0.5 17.5 0.5-18 0.5-7.5 0.5 24.5 1-13 0.5 5.5 0.5-13.5 0.5 10 0.5-4.5 1-2 0.5-7.5 0.5-9.5 0.5 19.5 0.5-2 1-5.5 0.5 11.5 0.5 4 0.5-12.5 0.5 12.5 1-5.5 0.5-10 0.5 6 0.5-8 0.5 17 1-5.5 0.5-2 0.5-2 0.5 6.5 0.5-26 1 26.5 0.5 2.5 0.5-17.5 0.5 14.5 0.5-7 1 10.5 0.5-25 0.5 4.5 0.5 18 0.5-13.5 1-11.5 0.5 15 0.5-6 0.5-1.5 0.5 3 1 5.5 0.5 7.5 0.5-17 0.5-0.5 0.5-5 1 9.5 0.5-5.5 0.5-16 0.5-8.5 0.5-3 1 6 0.5-12.5 0.5 9 0.5-14 0.5-11 1 4.5 0.5-2 0.5-1 0.5-12 0.5 18 1-11.5 0.5 3 0.5 11 0.5-2.5 0.5-5 1 12 0.5 7 0.5 6 0.5 12 0.5-20 1 26.5 0.5-5.5 0.5 13 0.5-10.5 0.5 4.5 1 4.5 0.5 3 0.5 0.5 0.5 12 0.5-13 1 18.5 0.5-9.5 0.5 10.5 0.5-0.5 0.5-9 1 2.5 0.5-1.5 0.5 2.5 0.5 10.5 0.5-15 1 19 0.5-5 0.5-11 0.5-13 0.5 14.5 1 9 0.5-5.5 0.5 4.5 0.5-3 0.5 2.5 1 13 0.5-8.5 0.5-8 0.5 0.5 0.5-6 1-2.5 0.5 23 0.5-8.5 0.5 1.5 0.5-8 1 11 0.5-12.5 0.5-5.5 0.5 4 0.5 11.5 1-2 0.5-16 0.5 32.5 0.5-26 0.5-6 1 2.5 0.5 18.5 0.5-8.5 0.5 8 0.5-8.5 1 1.5 0.5-5.5 0.5 2 0.5-9 0.5 18.5 1-12.5 0.5 13.5 0.5-19 0.5 2.5 0.5 11 1-6.5 0.5-9.5 0.5 23 0.5-15 0.5-11 1 16.5 0.5-2.5 0.5 6 0.5-19.5 0.5 25 1-9 0.5-1.5 0.5 22 0.5-30.5 0.5 13.5 1-11 0.5 0 0.5 2.5 0.5-7.5 0.5 5 1 0 0.5 5.5 0.5 10.5 0.5 3 0.5-15.5 1 2 0.5 3 0.5-3 0.5 1.5 0.5 1 1-5 0.5 11 0.5 1.5 0.5 2.5 0.5-20.5 1 19.5 0.5 2 0.5-28 0.5 12 0.5-4.5 1 13 0.5-2.5 0.5-1.5 0.5-2 0.5-22 1 11 0.5 10 0.5 1 0.5-5.5 0.5 32 1-23.5 0.5-23 0.5 13 0.5 10 0.5-22.5 1 27 0.5 4 0.5-17.5 0.5 12 0.5-10 1 0.5 0.5 7.5 0.5-2 0.5-11.5 0.5 22.5 1 0.5 0.5-6.5 0.5 10.5 0.5-21.5 0.5 3.5 1 3.5 0.5-5 0.5 12 0.5-3 0.5-10 1 0.5 0.5 1.5 0.5-3 0.5 7.5 0.5-0.5 1 13.5 0.5-11.5 0.5-15.5 0.5 9.5 0.5-6 1 6.5 0.5-3.5 0.5-9 0.5 3.5 0.5 9 1 10.5 0.5-1 0.5-13.5 0.5 11 0.5-24 1 33 0.5-10 0.5-1 0.5-0.5 0.5-1.5 1-4 0.5 9 0.5 5 0.5-22.5 0.5 5 1-9 0.5 27.5 0.5-3 0.5-18.5 0.5 9 1-27 0.5 21 0.5-5.5 0.5-12.5 0.5 37.5 1-18 0.5 7 0.5 10.5 0.5-20 0.5-12 1 12.5 0.5 7.5 0.5-17 0.5 6.5 0.5 18.5 1-4.5 0.5-18.5 0.5 11.5 0.5 2 0.5 7.5 1-11 0.5 2.5 0.5 6 0.5-6 0.5 11 1-14 0.5 19.5 0.5-9 0.5-17.5 0.5 18 1-34 0.5 28 0.5 8.5 0.5-25.5 0.5 19.5 1-1.5 0.5 1 0.5-8.5 0.5 21 0.5-23 1 17.5 0.5-8.5 0.5-2 0.5 12.5 0.5 16 1-30.5 0.5 0 0.5 7.5 0.5-8 0.5 10.5 1-11 0.5-5 0.5 4 0.5 9 0.5-2 1 0 0.5-12 0.5 3.5 0.5 5.5 0.5-4 1-6.5 0.5 12.5 0.5-2.5 0.5 13.5 0.5-12.5 1 2.5 0.5 1.5 0.5-2.5 0.5 14.5 0.5-9 1-7 0.5-2.5 0.5-1 0.5 2.5 0.5 14.5 1-12.5 0.5 1.5 0.5 3.5 0.5-10.5 0.5 16 1-20.5 0.5-2.5 0.5 10 0.5-3 0.5 8.5 1-2 0.5-6 0.5 4 0.5 9 0.5-4 1-13 0.5-4 0.5 17.5 0.5-1.5 0.5-13.5 1 12.5 0.5 9 0.5-9 0.5-9.5 0.5 17.5 1-9 0.5 0 0.5-12 0.5 18 0.5-11 1 6 0.5 3.5 0.5-6.5 0.5-2 0.5 7 1-19.5 0.5 15.5 0.5-11.5 0.5 2.5 0.5 12.5 1-7 0.5-3 0.5 10.5 0.5-9 0.5-3 1 6.5 0.5 8 0.5-2.5 0.5-14 0.5 5 1 5 0.5 11 0.5-9 0.5 2.5 0.5 2.5 1-5.5 0.5 6 0.5-6.5 0.5 25.5 0.5-27.5 1-11.5 0.5 26 0.5-14.5 0.5 14 0.5-11 1-11.5 0.5 10.5 0.5-1 0.5-1 0.5 3 1-1.5 0.5-2.5 0.5-0.5 0.5 7 0.5-3.5 1-5.5 0.5 3 0.5-0.5 0.5-12.5 0.5 22.5 1-8.5 0.5-8.5 0.5-1 0.5-0.5 0.5 0.5 1 9 0.5 3.5 0.5 6 0.5-7 0.5-22.5 1 12 0.5 3.5 0.5 0.5 0.5-1.5 0.5 8 1-16 0.5-0.5 0.5 19 0.5 5.5 0.5-14 1-8.5 0.5 7.5 0.5-14 0.5 14.5 0.5 1 1-1.5 0.5 20 0.5-14.5 0.5 0.5 0.5-7.5 1 4.5 0.5 3 0.5-4 0.5-1 0.5 3 1 2 0.5 4 0.5-10 0.5-8.5 0.5 19 1-12 0.5-2 0.5-7.5 0.5 9.5 0.5 7 1 7 0.5-7 0.5-4 0.5-4 0.5 14.5 1-15 0.5 11 0.5 1.5 0.5 4 0.5-17.5 1-5.5 0.5 10 0.5-2 0.5-3 0.5 3 1 3 0.5-11.5 0.5 3 0.5-8 0.5 17 1-13.5 0.5 1 0.5 6 0.5-21.5 0.5 14.5 1-9 0.5-1 0.5-8.5 0.5 5 0.5-6.5 1 2 0.5 5 0.5-11.5 0.5 8 0.5-15 1 15 0.5-10 0.5-5.5 0.5-5 0.5 8.5 1 5 0.5-12 0.5-5.5 0.5 8 0.5-14.5 1 28 0.5 6.5 0.5-6 0.5-11 0.5 8 1-1 0.5 13 0.5-4 0.5 2.5 0.5 17 1 6 0.5-8 0.5 6.5 0.5-0.5 0.5-20.5 1 18 0.5-11 0.5 24 0.5-16 0.5-5 1 22 0.5-2 0.5-6.5 0.5-1.5 0.5 14 1-8.5 0.5-9.5 0.5 0.5 0.5 12 0.5 8.5 1-5 0.5-4.5 0.5-3 0.5-6 0.5 10 1-15.5 0.5-16.5 0.5 21 0.5-2 0.5 9 1 2 0.5 5.5 0.5-5.5 0.5-10 0.5-6 1 12.5 0.5-3.5 0.5-11 0.5 9.5 0.5 0.5 1-3 0.5-3.5 0.5 7.5 0.5-8 0.5 15 1 8.5 0.5-14 0.5-4.5 0.5 1 0.5 3.5 1-3 0.5 4.5 0.5-4 0.5 4.5 0.5 5 1-5.5 0.5 4.5 0.5 6.5 0.5-15 0.5 16.5 1-22 0.5 11 0.5 6.5 0.5-25.5 0.5 21 1-0.5 0.5-9 0.5 23 0.5-35.5 0.5 15.5 1 21.5 0.5-7 0.5-20 0.5 11 0.5-5.5 1-6 0.5 11 0.5-6.5 0.5-3.5 0.5 14.5 1-9 0.5-1 0.5-14 0.5 14.5 0.5-7 1 5 0.5 12.5 0.5-13 0.5-4.5 0.5 12.5 1-5 0.5 6.5 0.5-8.5 0.5 4.5 0.5 1 1 3.5 0.5-12 0.5 12 0.5-6 0.5 4.5 1-3.5 0.5 3 0.5-14 0.5-2.5 0.5 10 1 10.5 0.5-12 0.5-3.5 0.5 3.5 0.5-14 1 9.5 0.5 13 0.5-19 0.5 12.5 0.5 2 1-15 0.5 7.5 0.5 9 0.5 0 0.5-3 1 9 0.5 0.5 0.5-4 0.5 1.5 0.5 1.5 1-4 0.5-11 0.5 32.5 0.5-27.5 0.5 2.5 1 12.5 0.5-21 0.5 10.5 0.5-0.5 0.5-5.5 1 1.5 0.5 2 0.5 27 0.5-29.5 0.5 8 1-1.5 0.5 16.5 0.5-26 0.5 14.5 0.5-17 1-18.5 0.5 47 0.5-17.5 0.5 3.5 0.5 4 1-3.5 0.5-4.5 0.5-3.5 0.5 14.5 0.5-11.5 1-12 0.5 1.5 0.5 8.5 0.5 2 0.5-3.5 1 3.5 0.5 0 0.5-7.5 0.5 8 0.5-1.5 1 7 0.5-6.5 0.5-18 0.5-3 0.5 2 1 23.5 0.5-9 0.5 12 0.5-23 0.5 26 1-12.5 0.5 5.5 0.5-7.5 0.5 28 0.5-16 1-19.5 0.5 15 0.5-21.5 0.5 33.5 0.5-4 1-26 0.5 16 0.5 0 0.5 5.5 0.5-7 1 2 0.5-13 0.5 13.5 0.5-5 0.5 1 1-7.5 0.5 1.5 0.5 11.5 0.5-23 0.5 18.5 1 4 0.5 4 0.5-15.5 0.5 11.5 0.5 10.5 1-18.5 0.5 3.5 0.5-0.5 0.5-23 0.5 17 1-3.5 0.5 16.5 0.5-6.5 0.5 8.5 0.5-2 1-14.5 0.5 10 0.5 3 0.5-4.5 0.5-3.5 1 5.5 0.5-2 0.5-7 0.5 15.5 0.5-17.5 1 8.5 0.5-18.5 0.5 6 0.5 9 0.5-2 1 11 0.5 4.5 0.5 4.5 0.5-6.5 0.5-0.5 1 5 0.5-7 0.5-3 0.5-8.5 0.5 24.5 1-19 0.5-5.5 0.5 4 0.5 11 0.5-10.5 1 13 0.5-12.5 0.5 2 0.5-23 0.5 23 1 2 0.5-4.5 0.5 15 0.5-15.5 0.5-3 1-9.5 0.5-3.5 0.5 29 0.5-16 0.5 3.5 1 4 0.5-15 0.5 9.5 0.5-14.5 0.5 6.5 1 14 0.5-13.5 0.5 13 0.5 6 0.5-2.5 1-12.5 0.5 17 0.5-13.5 0.5 1.5 0.5-9.5 1 24.5 0.5-18.5 0.5-5 0.5 13.5 0.5-4.5 1 11 0.5-15.5 0.5-8.5 0.5 14 0.5 4 1-23 0.5 32 0.5-7.5 0.5-14.5 0.5 12 1 1.5 0.5-4 0.5-13.5 0.5 11 0.5-8.5 1 2.5 0.5 8 0.5 12 0.5-3 0.5-3 1-5 0.5 0.5 0.5 8.5 0.5-10.5 0.5 0 1-16 0.5 5.5 0.5-1 0.5 9.5 0.5 9 1-1.5 0.5-1.5 0.5-18 0.5 17.5 0.5-3.5 1 3.5 0.5-14.5 0.5 23 0.5-22 0.5-6 1 20.5 0.5 0.5 0.5-4.5 0.5 0 0.5-11.5 1 9.5 0.5-11 0.5 7.5 0.5-3 0.5 8 1 5 0.5 5.5 0.5 3.5 0.5-16.5 0.5 18 1-23.5 0.5 5 0.5 0.5 0.5 1 0.5 14 1-9 0.5-15 0.5 10.5 0.5 10.5 0.5-5 1 4 0.5-0.5 0.5-16 0.5 14.5 0.5-3.5 1-15 0.5 12 0.5-0.5 0.5 0 0.5-0.5 1 11 0.5-22.5 0.5 36 0.5-8.5 0.5-7.5 1-19.5 0.5 9.5 0.5 7 0.5-11.5 0.5-7.5 1 10 0.5-6 0.5 16.5 0.5 5.5 0.5-3 1-4 0.5-9 0.5-1.5 0.5 8 0.5-3.5 1 6.5 0.5-14.5 0.5-4.5 0.5 18 0.5-27.5 1 24.5 0.5-8 0.5 13.5 0.5-4.5 0.5-2 1-1 0.5 24.5 0.5-30 0.5-2.5 0.5 21 1-17 0.5 1 0.5 13.5 0.5-3 0.5-20.5 1 8 0.5 10 0.5 2 0.5-25.5 0.5 28.5 1-10.5 0.5-1.5 0.5-4 0.5 7 0.5 11.5 1 4 0.5-20.5 0.5-6.5 0.5 14.5 0.5-10 1 16 0.5-12 0.5 0.5 0.5-13 0.5 13.5 1 10 0.5-13.5 0.5 2.5 0.5 0.5 0.5-19 1 21 0.5 1.5 0.5-8.5 0.5 8 0.5 23 1-24 0.5 7 0.5-5 0.5 11.5 0.5-15 1-9 0.5 11 0.5 4 0.5-5.5 0.5-2.5 1 10 0.5-3 0.5-9.5 0.5 9 0.5 2 1-14.5 0.5 11.5 0.5 0.5 0.5 8 0.5-23.5 1 17.5 0.5 9 0.5-24.5 0.5 17 0.5-4 1 6.5 0.5-2 0.5-6 0.5 11 0.5-14.5 1 7.5 0.5-3 0.5 0.5 0.5 0.5 0.5 3 1-1.5 0.5 3 0.5 10.5 0.5-22.5 0.5 8 1-17.5 0.5 20.5 0.5 4.5 0.5-22 0.5 17 1-14.5 0.5 29.5 0.5-8 0.5-7 0.5-8.5 1 15.5 0.5-11 0.5 14 0.5-10.5 0.5 9.5 1-4.5 0.5 0.5 0.5-15.5 0.5 2 0.5 4 1-10 0.5 7.5 0.5-6.5 0.5 8.5 0.5 13.5 1-38 0.5 12.5 0.5 7.5 0.5 6.5 0.5-9.5 1 10.5 0.5 5.5 0.5-7 0.5 2.5 0.5-4.5 1 5 0.5-10 0.5 7 0.5 10.5 0.5-7.5 1-2.5 0.5-6.5 0.5 14 0.5-15.5 0.5 12 1-15.5 0.5 1 0.5 21.5 0.5-32 0.5 10 1 12.5 0.5-6 0.5-1 0.5-9.5 0.5 6 1 21 0.5-19 0.5 4 0.5-1 0.5 15 1-27 0.5 17.5 0.5-5 0.5-0.5 0.5 4.5 1 4 0.5-17 0.5 1 0.5 10 0.5 4.5 1 7 0.5-18.5 0.5-17 0.5 27.5 0.5-4 1 7.5 0.5-3 0.5 2.5 0.5-6.5 0.5-6.5 1 12.5 0.5 0 0.5-3.5 0.5-2 0.5 11.5 1-3 0.5-2 0.5 12.5 0.5-25 0.5 12.5 1-11.5 0.5-1.5 0.5 19.5 0.5-14 0.5-1.5 1 2.5 0.5 4 0.5-5 0.5-11.5 0.5 19 1-2.5 0.5 0.5 0.5-1.5 0.5 15 0.5-14.5 1-5 0.5 5.5 0.5-13 0.5 27.5 0.5-21 1 13 0.5-19.5 0.5 5.5 0.5 10.5 0.5-4.5 1 6.5 0.5-12.5 0.5 2.5 0.5-7 0.5-4 1 21 0.5-20.5 0.5 9 0.5-7.5 0.5 22 1-14 0.5 8.5 0.5 2.5 0.5-14.5 0.5 10 1-3.5 0.5-16.5 0.5 12 0.5-1 0.5-4.5 1 31 0.5-11 0.5 6 0.5-6 0.5-29 1 12 0.5 13.5 0.5-7 0.5-4.5 0.5 3 1-7 0.5-2.5 0.5 18 0.5-9.5 0.5-6.5 1 13.5 0.5-6.5 0.5 11 0.5-10 0.5-6 1 16.5 0.5-10 0.5-2.5 0.5-3 0.5 9.5 1 17 0.5-21 0.5-11.5 0.5-13.5 0.5 25.5 1 0 0.5 0 0.5-4 0.5 12 0.5-19.5 1 11.5 0.5-4.5 0.5 15.5 0.5-13.5 0.5-1 1-11.5 0.5 17 0.5 2.5 0.5-14 0.5 10 1 21 0.5-30.5 0.5 7 0.5 3 0.5-4.5 1 7 0.5-5 0.5 8 0.5-11.5 0.5 8 1 2 0.5-11 0.5-10 0.5 19 0.5 8 1-24 0.5 17.5 0.5-7 0.5-11 0.5 6 1 0 0.5 8.5 0.5-1.5 0.5-16.5 0.5 15 1-8 0.5 4 0.5 16 0.5-24.5 0.5 7.5 1 1 0.5 11.5 0.5-24.5 0.5 23 0.5 1 1-4 0.5 2.5 0.5 6.5 0.5-13.5 0.5-9 1 4.5 0.5 1.5 0.5 10 0.5-11 0.5 16.5 1-0.5 0.5-15.5 0.5 2.5 0.5 11.5 0.5 17 1-23.5 0.5 19.5 0.5-28.5 0.5 17.5 0.5-9 1-1 0.5 13 0.5-10.5 0.5-2 0.5 5.5 1 0 0.5 0.5 0.5-12.5 0.5 3 0.5 2 1-6.5 0.5 1 0.5 4 0.5 7 0.5-14.5 1-3 0.5 22.5 0.5-10.5 0.5-20.5 0.5 31 1-22 0.5 6 0.5-0.5 0.5 11 0.5-6.5 1 0.5 0.5-8.5 0.5 12 0.5-5.5 0.5-11 1 15.5 0.5 0 0.5 10 0.5 0 0.5-14 1-4.5 0.5-15.5 0.5 24 0.5-0.5 0.5-8.5 1 13 0.5-2.5 0.5-2.5 0.5-9 0.5 17 1 12 0.5-24.5 0.5-4 0.5 15 0.5 1.5 1-4.5 0.5 5.5 0.5-2 0.5-14 0.5 2 1 3 0.5 18 0.5-8.5 0.5 0 0.5 10.5 1-27 0.5-5 0.5 14.5 0.5-0.5 0.5-0.5 1-1.5 0.5 16.5 0.5-28.5 0.5 13 0.5 1 1 2.5 0.5-8.5 0.5 17.5 0.5-7.5 0.5 4.5 1 1 0.5 1.5 0.5-9.5 0.5 0 0.5 1 1-2.5 0.5-12.5 0.5 22 0.5-18 0.5 11 1-8.5 0.5 20.5 0.5-23 0.5 6.5 0.5 13 1 16.5 0.5-44 0.5 27 0.5-12 0.5 10.5 1-8.5 0.5 9 0.5 1 0.5-8 0.5-15 1 20 0.5-10.5 0.5-4 0.5 12 0.5-12 1-7 0.5 24 0.5 8 0.5-1 0.5-17.5 1-4.5 0.5 0.5 0.5-11 0.5 34 0.5-9 1-9 0.5-0.5 0.5 6 0.5-12 0.5 3.5 1 6.5 0.5-3 0.5 8 0.5-15 0.5 9.5 1-12.5 0.5 8.5 0.5 6 0.5 2.5 0.5 2 1-3 0.5 1.5 0.5-11 0.5-8.5 0.5-10 1 17 0.5 16.5 0.5-9.5 0.5-3.5 0.5-4.5 1-0.5 0.5 11 0.5-1 0.5 3 0.5-3.5 1 3 0.5-5.5 0.5-1 0.5 27 0.5-36 1 23 0.5-29.5 0.5 14.5 0.5 4 0.5 1.5 1-15.5 0.5 7 0.5 1.5 0.5-18 0.5 27 1-9 0.5-6.5 0.5 14.5 0.5 16 0.5-29.5 1 2.5 0.5 3.5 0.5-7 0.5 7.5 0.5 0 1 23.5 0.5-29 0.5 10 0.5-10.5 0.5-16 1 23 0.5 6.5 0.5-6.5 0.5-1.5 0.5-1.5 1 6 0.5-5.5 0.5-2 0.5 2.5 0.5-2.5 1 5 0.5-3 0.5 5.5 0.5 3 0.5 2.5 1-1 0.5-4.5 0.5-13 0.5 24.5 0.5-4.5 1-3.5 0.5-9.5 0.5 0 0.5 4.5 0.5 7 1-17.5 0.5 12.5 0.5 8.5 0.5-4 0.5-6.5 1-9 0.5-7.5 0.5 16.5 0.5-12 0.5 10.5 1 11.5 0.5-12.5 0.5-8.5 0.5 25 0.5-16 1-0.5 0.5-4 0.5-12 0.5 7.5 0.5 23.5 1-14 0.5 13 0.5-13 0.5-15.5 0.5 14 1-4 0.5 13 0.5-13.5 0.5 10.5 0.5-9 1 10.5 0.5-17.5 0.5 16.5 0.5-9.5 0.5-7.5 1 14 0.5 12.5 0.5-15 0.5 14 0.5-13.5 1-1.5 0.5 0.5 0.5 6 0.5-7 0.5 11 1-4.5 0.5 10.5 0.5-16 0.5-8 0.5 1.5 1 3.5 0.5 5 0.5 1 0.5-6 0.5-4 1 9.5 0.5-8.5 0.5 17 0.5-31.5 0.5 21.5 1-20.5 0.5 20 0.5 5.5 0.5-14 0.5 8 1 15 0.5-16.5 0.5-14 0.5 8 0.5 11.5 1-11.5 0.5 8 0.5 5 0.5 6.5 0.5-4.5 1 1.5 0.5-16 0.5 18 0.5-9.5 0.5-11 1 20 0.5-15 0.5 3 0.5 11.5 0.5-16.5 1 8 0.5-2.5 0.5 6.5 0.5 9 0.5-7.5 1-7 0.5 3 0.5-16 0.5 21 0.5 2 1 0 0.5-11.5 0.5 16.5 0.5-14.5 0.5-11 1 9 0.5 6.5 0.5-10 0.5 22.5 0.5-14 1 2 0.5-17.5 0.5 7 0.5 11 0.5-3.5 1-3 0.5-1 0.5 0.5 0.5 17.5 0.5-4.5 1-12.5 0.5 5 0.5-1.5 0.5-1 0.5-3.5 1 1.5 0.5 15.5 0.5-17.5 0.5 0.5 0.5 4 1 10 0.5-7.5 0.5-3 0.5-2 0.5 13 1 2.5 0.5-2 0.5-2.5 0.5-10 0.5 11.5 1-10 0.5-6 0.5 4.5 0.5-3.5 0.5 6 1-4 0.5 18 0.5-20 0.5 6 0.5 12.5 1-16.5 0.5-3.5 0.5 18 0.5-7.5 0.5 3 1-3.5 0.5 14 0.5-20.5 0.5-3 0.5-2.5 1-0.5 0.5-1 0.5 30 0.5-23.5 0.5 6 1-21 0.5 13 0.5 9.5 0.5-4 0.5 9.5 1-17 0.5 14.5 0.5-8 0.5 14 0.5-39.5 1 25.5 0.5-2 0.5 4 0.5-3 0.5 10 1-17 0.5 8.5 0.5-2 0.5 7.5 0.5-15 1 7 0.5 7 0.5-2.5 0.5-21.5 0.5 17.5 1 18.5 0.5-17 0.5-10 0.5 23 0.5-1 1-0.5 0.5 1 0.5-17.5 0.5 9.5 0.5 0 1-3.5 0.5 3 0.5-4.5 0.5-2.5 0.5 10" fill="none" stroke="#FF0000" stroke-width="5.0" stroke-linejoin="round" stroke-linecap="round" clip-path="url(#clip2)"/>
<path d="M270 3709 l0.5-7.5 0.5 15.5 1-19.5 0.5 5.5 0.5 13 0.5-14 0.5 9 1-4 0.5-0.5 0.5-8 0.5 6 0.5-11.5 1 7 0.5 4.5 0.5-7 0.5 4.5 0.5 2.5 1-6 0.5 7 0.5-13.5 0.5 11.5 0.5-4.5 1 3.5 0.5-9 0.5 6.5 0.5-6.5 0.5-6 1 12 0.5 6 0.5-2 0.5-8.5 0.5 15 1-15.5 0.5 15 0.5-4.5 0.5-3 0.5 3 1 5.5 0.5-8 0.5-1.5 0.5 7.5 0.5 0.5 1 5 0.5-12.5 0.5 4 0.5 3.5 0.5 9.5 1-3.5 0.5-5 0.5 3 0.5-2.5 0.5 5 1-4 0.5-1 0.5 7 0.5-8.5 0.5 7 1-3.5 0.5 1 0.5 12 0.5-12 0.5 1.5 1 12 0.5-9 0.5-2.5 0.5 6.5 0.5 5.5 1-4 0.5-14.5 0.5 8 0.5 1 0.5-3 1-2 0.5 13.5 0.5-3.5 0.5-6.5 0.5-2 1-4.5 0.5-4.5 0.5 12.5 0.5 2 0.5-1.5 1-1 0.5 0 0.5 0 0.5 0.5 0.5 0.5 1 7.5 0.5-5.5 0.5 4 0.5-2 0.5-8.5 1 1 0.5 11.5 0.5-4.5 0.5 7 0.5-11.5 1 4 0.5-4 0.5-3.5 0.5 6 0.5 9 1-5 0.5 3 0.5-2 0.5-2 0.5 1.5 1-5 0.5-2.5 0.5 12.5 0.5-14.5 0.5 7.5 1-10.5 0.5 10 0.5 3 0.5-2.5 0.5 11 1-11 0.5-8 0.5 5.5 0.5 2.5 0.5 1 1 9 0.5-1.5 0.5-3 0.5-6.5 0.5-4 1 8.5 0.5-4 0.5 6.5 0.5-0.5 0.5-1.5 1 9.5 0.5-15.5 0.5 4.5 0.5 0.5 0.5 10.5 1-10 0.5-5 0.5 4.5 0.5 4.5 0.5-7 1 8.5 0.5 1 0.5-11.5 0.5 1.5 0.5 5.5 1-20.5 0.5 26 0.5-6.5 0.5-3 0.5 1 1 3.5 0.5-2 0.5 5 0.5-12 0.5 10.5 1 0 0.5-4 0.5-4.5 0.5-12.5 0.5 24 1 4.5 0.5-28.5 0.5 28.5 0.5-9 0.5-0.5 1 2 0.5 0 0.5 5 0.5-19.5 0.5 7.5 1 6.5 0.5-7.5 0.5 4 0.5-11 0.5 24 1-12 0.5 14.5 0.5-8 0.5-1 0.5-1.5 1 1 0.5-9 0.5 2 0.5 13 0.5-6.5 1-4 0.5 8.5 0.5-14.5 0.5 6.5 0.5 5 1 6 0.5-12 0.5 6.5 0.5 4.5 0.5-7 1 11 0.5-11 0.5 18 0.5-15.5 0.5-3.5 1-9.5 0.5 15.5 0.5-6 0.5-9 0.5 16.5 1-8 0.5 2.5 0.5 5 0.5-6.5 0.5 4.5 1 1 0.5 7 0.5-23.5 0.5 7 0.5 3 1 3.5 0.5 12 0.5-7.5 0.5-14.5 0.5 5 1-2.5 0.5 8.5 0.5-8 0.5 13.5 0.5 11 1-16.5 0.5 6 0.5-9.5 0.5-8.5 0.5 4 1 10.5 0.5 5 0.5-1 0.5-14 0.5 7 1 6 0.5-10 0.5-6.5 0.5 8.5 0.5 4.5 1-3 0.5 0 0.5-3 0.5 7.5 0.5-7 1 7.5 0.5-7.5 0.5-3.5 0.5 11 0.5-3 1 0 0.5-4 0.5 9 0.5 10 0.5-10.5 1-4.5 0.5-0.5 0.5 2.5 0.5 7 0.5-16 1 0 0.5 5 0.5 8 0.5-4.5 0.5 1 1 0 0.5-0.5 0.5-15 0.5 13.5 0.5-4.5 1 8 0.5-3.5 0.5 2.5 0.5-4 0.5 0.5 1 5.5 0.5-5 0.5-12 0.5 4 0.5 6.5 1 10 0.5 3 0.5-0.5 0.5 3.5 0.5-7.5 1 4.5 0.5-6 0.5 2.5 0.5-6.5 0.5 22 1-24 0.5 6 0.5-3 0.5 3.5 0.5 4.5 1-9 0.5-11 0.5 28.5 0.5-13.5 0.5 5.5 1-6.5 0.5 4 0.5 2 0.5-6.5 0.5-4.5 1 7 0.5 2.5 0.5-6.5 0.5 6.5 0.5-2.5 1-2.5 0.5 5 0.5-4 0.5 7 0.5 7 1-13 0.5-3.5 0.5-3 0.5 16 0.5-8.5 1 1.5 0.5 3 0.5-4 0.5-3.5 0.5-1.5 1 3.5 0.5 17 0.5-13 0.5-8.5 0.5 1.5 1-1.5 0.5 20.5 0.5-19 0.5 10.5 0.5 1.5 1-15.5 0.5 12.5 0.5 3.5 0.5-10.5 0.5 13.5 1-12 0.5-1 0.5 8.5 0.5-4.5 0.5-11 1 18 0.5-14.5 0.5 18 0.5-9 0.5-13 1 8.5 0.5 6 0.5-5 0.5-3 0.5-3.5 1 6 0.5 6.5 0.5-15 0.5 12.5 0.5-9 1 13 0.5-4.5 0.5-6 0.5 4 0.5-0.5 1 11.5 0.5-13 0.5 8 0.5-3.5 0.5 2 1 2 0.5 4.5 0.5-12 0.5-11 0.5 13.5 1-13 0.5 14 0.5-9 0.5 18 0.5-18.5 1 9.5 0.5 1.5 0.5-3.5 0.5-1 0.5-8.5 1 7.5 0.5 12 0.5-15 0.5-3 0.5 4.5 1 0.5 0.5 0.5 0.5 3.5 0.5-11.5 0.5 4.5 1 2 0.5 0 0.5-3 0.5 4 0.5-2.5 1-4.5 0.5-4 0.5 7 0.5 0 0.5-10 1 7 0.5-4.5 0.5-15.5 0.5 4.5 0.5-18 1-3 0.5-9.5 0.5-12.5 0.5-14.5 0.5-22.5 1-21 0.5-10.5 0.5-17.5 0.5-40 0.5-25 1-22 0.5-8 0.5-7 0.5 6 0.5 17.5 1 12.5 0.5 30.5 0.5 13 0.5 21.5 0.5 30.5 1 17.5 0.5 9 0.5 15.5 0.5 27.5 0.5 7.5 1 19.5 0.5 3 0.5-9.5 0.5 17.5 0.5 5.5 1 7 0.5-8 0.5 2 0.5 9.5 0.5-6 1 6 0.5 1 0.5 6 0.5-5.5 0.5 1 1-12 0.5 11 0.5 10.5 0.5-10.5 0.5 6.5 1-1 0.5-14 0.5 11.5 0.5-9.5 0.5 19.5 1-6.5 0.5-0.5 0.5-3.5 0.5-9 0.5 6 1 4.5 0.5 18.5 0.5-21 0.5-1 0.5 0 1 7.5 0.5 5.5 0.5-6 0.5-8 0.5 1.5 1 6.5 0.5 5.5 0.5-2 0.5-8.5 0.5 1 1 1 0.5-12 0.5 18.5 0.5-8 0.5 9.5 1-5.5 0.5-2.5 0.5 4.5 0.5 1 0.5 5.5 1-5.5 0.5 5.5 0.5-18 0.5 5.5 0.5-0.5 1-1 0.5-1 0.5 8 0.5 3 0.5 1 1 3 0.5-11 0.5 4 0.5 6.5 0.5-3.5 1-6.5 0.5-2 0.5 2 0.5 14 0.5-13 1-5.5 0.5 18 0.5-1.5 0.5-0.5 0.5 0.5 1 3.5 0.5-15.5 0.5 20 0.5-5.5 0.5-7.5 1-5.5 0.5-4 0.5 2 0.5 14 0.5-2 1-7.5 0.5 1.5 0.5 6 0.5-9 0.5-2 1 7.5 0.5-5 0.5-10 0.5 32.5 0.5-16.5 1 2 0.5-4.5 0.5 6.5 0.5-8.5 0.5-2 1 3.5 0.5-0.5 0.5-4.5 0.5 2 0.5 2.5 1 12.5 0.5-7 0.5-4.5 0.5-3 0.5-11 1 19 0.5 2 0.5-10 0.5 3.5 0.5 3 1 0.5 0.5 4.5 0.5-0.5 0.5-9.5 0.5 5 1-2.5 0.5-3 0.5 8 0.5-18 0.5 11 1 12.5 0.5-15.5 0.5 12 0.5-3 0.5 4.5 1-2.5 0.5-2 0.5-15 0.5-1.5 0.5 11.5 1-6.5 0.5 12 0.5-6 0.5 3 0.5 10 1-10 0.5 3 0.5-1 0.5-2 0.5 7.5 1-2.5 0.5-12.5 0.5 6.5 0.5-2.5 0.5 8.5 1 7.5 0.5-29 0.5 14 0.5 7 0.5 6.5 1-17 0.5 16.5 0.5-15.5 0.5 6 0.5 7.5 1-10.5 0.5 0.5 0.5-9.5 0.5 12.5 0.5-9.5 1 9 0.5 2.5 0.5-8 0.5 14 0.5-11.5 1-3.5 0.5 14 0.5-5.5 0.5 0 0.5-3 1 2.5 0.5-4.5 0.5 3 0.5-13.5 0.5 4.5 1 6.5 0.5-0.5 0.5 0 0.5-15.5 0.5 3 1 1 0.5-5 0.5-10 0.5 3 0.5 2 1 0 0.5-12 0.5 6.5 0.5-12 0.5-1 1-3 0.5-7.5 0.5-14 0.5 15.5 0.5-14 1-7.5 0.5-3.5 0.5 14 0.5-10 0.5 24 1-13 0.5 2 0.5 12.5 0.5 1.5 0.5 2.5 1 1.5 0.5 14.5 0.5 0.5 0.5 4.5 0.5 2.5 1-2 0.5 17 0.5-10.5 0.5 1 0.5 7 1 4.5 0.5 9.5 0.5 2 0.5-10 0.5 11 1-2 0.5 5 0.5-10 0.5 0.5 0.5 0 1 7.5 0.5-4 0.5 4.5 0.5-6.5 0.5 13 1-4 0.5-6.5 0.5-10.5 0.5 9 0.5 2 1-4 0.5 12 0.5-11.5 0.5-0.5 0.5 2.5 1 4 0.5-3.5 0.5 5 0.5-1.5 0.5 12 1-15 0.5-3 0.5 7.5 0.5 7 0.5-6.5 1 1.5 0.5-8 0.5 15.5 0.5-1.5 0.5-18.5 1 11 0.5 7 0.5-10.5 0.5 11.5 0.5-3.5 1 4 0.5-6 0.5-5 0.5 2.5 0.5-2 1 8 0.5 0.5 0.5-6.5 0.5 0.5 0.5 3.5 1-9.5 0.5 5.5 0.5 11.5 0.5-14.5 0.5-3 1 7 0.5-5 0.5 0.5 0.5 4.5 0.5-4.5 1 7 0.5-6 0.5 0.5 0.5 9 0.5 0 1-6.5 0.5-19 0.5 21 0.5-4 0.5 2.5 1 4.5 0.5-3 0.5 12.5 0.5-16.5 0.5-0.5 1 10.5 0.5-11.5 0.5 1.5 0.5 0 0.5 6.5 1-3.5 0.5-11 0.5 10 0.5-4 0.5 2 1-1 0.5-2 0.5-9 0.5 9 0.5-5.5 1-1 0.5 7.5 0.5 10 0.5-7.5 0.5 8 1-7 0.5 8 0.5-15 0.5 7.5 0.5 6 1-2.5 0.5-12.5 0.5 11 0.5-18 0.5 18 1 12.5 0.5-8.5 0.5-2.5 0.5-7 0.5 0 1 14 0.5-17 0.5 7 0.5 2.5 0.5-10.5 1 7 0.5 6 0.5-4 0.5-3.5 0.5 10.5 1-6.5 0.5 2.5 0.5 1.5 0.5-1.5 0.5-2.5 1-1.5 0.5-3 0.5 7 0.5-3.5 0.5-10.5 1 14 0.5 2 0.5-2 0.5-4.5 0.5 7 1-4.5 0.5-1.5 0.5-3 0.5 0.5 0.5 4 1 0 0.5 2 0.5-5.5 0.5 6 0.5 6 1-8 0.5 17 0.5-11 0.5-6.5 0.5 0 1 13 0.5-15 0.5-9 0.5 22 0.5-6 1-2.5 0.5-1.5 0.5-4.5 0.5 1.5 0.5 10.5 1-3.5 0.5-8.5 0.5 9.5 0.5-10 0.5 0.5 1 4 0.5-3 0.5-5 0.5 8.5 0.5 7 1-8.5 0.5-5 0.5 10.5 0.5-6 0.5 3.5 1-4.5 0.5 0.5 0.5-1.5 0.5 16.5 0.5-17 1 6.5 0.5-4 0.5-0.5 0.5 7.5 0.5-13.5 1 8.5 0.5-2 0.5-1.5 0.5 0 0.5-1 1-0.5 0.5 3.5 0.5 6 0.5-4 0.5-15 1 1 0.5 18.5 0.5-9.5 0.5 8.5 0.5-10.5 1 3 0.5 0.5 0.5 2.5 0.5-6 0.5 4 1 0 0.5-8 0.5 8 0.5 2 0.5 3 1-5 0.5-2 0.5 0.5 0.5-1.5 0.5 3 1 3 0.5-11 0.5 11.5 0.5-0.5 0.5 4 1-7 0.5-2.5 0.5-5.5 0.5 11 0.5-4 1 5 0.5 0 0.5-7.5 0.5 11.5 0.5-7.5 1 2.5 0.5-1 0.5 3.5 0.5-15 0.5 10 1 5.5 0.5-7.5 0.5-4 0.5 1.5 0.5 5 1-7.5 0.5 6 0.5 2.5 0.5 2.5 0.5 4.5 1-4.5 0.5-5.5 0.5-4 0.5 5 0.5 1.5 1 14.5 0.5-17.5 0.5 1 0.5-8.5 0.5 21 1-6 0.5-2 0.5 6 0.5-4.5 0.5-5 1 4 0.5 16 0.5-28 0.5 25.5 0.5-16.5 1-7 0.5 5.5 0.5 3.5 0.5 4 0.5-12 1 10 0.5 0.5 0.5-1 0.5-13 0.5 17.5 1-12 0.5 8.5 0.5-7.5 0.5 6.5 0.5 6.5 1-2 0.5-7.5 0.5-6.5 0.5-0.5 0.5 9.5 1-11 0.5 10 0.5 0 0.5-2 0.5 0 1 11.5 0.5 1 0.5-14.5 0.5-6 0.5 16 1 10 0.5-18.5 0.5 3.5 0.5-7 0.5 12.5 1-6 0.5-18.5 0.5 15.5 0.5 0 0.5-6.5 1 5 0.5-3 0.5-9 0.5 17 0.5-10 1 6 0.5 2 0.5 0 0.5-4.5 0.5 14.5 1-10 0.5 0 0.5-6 0.5-7 0.5 15 1-9.5 0.5 7 0.5 2.5 0.5-2 0.5 1.5 1-5 0.5 8.5 0.5-8 0.5 4 0.5-3.5 1 0.5 0.5-3 0.5 6 0.5 0 0.5-4 1 2 0.5-0.5 0.5-1 0.5 1.5 0.5-6.5 1 2 0.5 24 0.5-22.5 0.5-5 0.5-7 1 19.5 0.5-13 0.5 3 0.5 8.5 0.5 2 1-8.5 0.5 8 0.5-10.5 0.5 13.5 0.5-9 1-2.5 0.5 9 0.5 8 0.5-9 0.5-11 1 9.5 0.5-4.5 0.5 2 0.5-1 0.5 1 1-4 0.5-14 0.5 19 0.5-4.5 0.5 4.5 1 5 0.5-8 0.5 14 0.5-15 0.5-2 1-7.5 0.5 19.5 0.5-1.5 0.5-6 0.5-12.5 1 3 0.5 1 0.5 7 0.5 0 0.5-12.5 1 24 0.5-8 0.5-4.5 0.5-5 0.5 7 1-1 0.5-1.5 0.5 4 0.5-4.5 0.5 5.5 1 1.5 0.5-5.5 0.5-1.5 0.5 5.5 0.5-1.5 1-4 0.5 0 0.5 3.5 0.5-15.5 0.5 13 1-9.5 0.5 13.5 0.5-5 0.5 14.5 0.5-17 1 9.5 0.5-7.5 0.5-17.5 0.5 20.5 0.5 5 1-25.5 0.5 9.5 0.5 16.5 0.5-18.5 0.5 20 1-8.5 0.5-3 0.5-6.5 0.5 1.5 0.5 11.5 1-3.5 0.5 6.5 0.5-21.5 0.5 14.5 0.5 5 1-4.5 0.5-3 0.5-9.5 0.5 13.5 0.5 0.5 1-3.5 0.5-5 0.5 6 0.5 4 0.5-10.5 1 1.5 0.5 4 0.5-6 0.5 0.5 0.5 0.5 1-1.5 0.5 0 0.5 17 0.5-13 0.5 6.5 1-10.5 0.5 11 0.5-6 0.5 1 0.5 3 1 6.5 0.5-11 0.5-2.5 0.5 2.5 0.5 5 1 2 0.5 10.5 0.5-12.5 0.5-1.5 0.5-3.5 1 4 0.5 15 0.5-7 0.5 0.5 0.5-26.5 1 21.5 0.5 5.5 0.5-16 0.5 12 0.5-3.5 1-1.5 0.5 2 0.5-5 0.5 7 0.5 0 1 1 0.5 0 0.5-2.5 0.5 4.5 0.5 2 1-7 0.5 3 0.5 7 0.5-18.5 0.5 7 1 3 0.5 2 0.5-3 0.5-4 0.5 8.5 1-10 0.5 5 0.5 10.5 0.5-8.5 0.5-7 1 12 0.5-3.5 0.5 3.5 0.5 0.5 0.5-3.5 1-5.5 0.5 5.5 0.5 0.5 0.5-3 0.5 5 1-3 0.5 1.5 0.5-13 0.5 18.5 0.5-12 1-2 0.5 6.5 0.5-5 0.5 2.5 0.5 0.5 1-0.5 0.5 4.5 0.5-7.5 0.5 7 0.5-2.5 1 2.5 0.5 2 0.5-1 0.5-9.5 0.5 6.5 1-0.5 0.5 2 0.5-3.5 0.5 7.5 0.5-12.5 1 12.5 0.5-3.5 0.5 3.5 0.5-5 0.5 7.5 1-7 0.5 0 0.5 3.5 0.5-12 0.5 8.5 1 8.5 0.5-6.5 0.5-9.5 0.5 8 0.5 2.5 1-4.5 0.5 3.5 0.5-5 0.5 3 0.5 1.5 1 10 0.5-4.5 0.5-9 0.5 7.5 0.5-7.5 1 10.5 0.5-3 0.5-19 0.5 15.5 0.5-8.5 1 4 0.5 14.5 0.5-17 0.5 5.5 0.5 4 1-4.5 0.5 7.5 0.5-5 0.5-7.5 0.5 13 1-4.5 0.5-4 0.5 3.5 0.5-0.5 0.5 4.5 1-7.5 0.5 5.5 0.5 3 0.5-20 0.5 15 1-6 0.5 11.5 0.5-10.5 0.5 11 0.5-6.5 1 4.5 0.5-18.5 0.5 14 0.5 1.5 0.5-14.5 1 1.5 0.5 13 0.5 0 0.5-2 0.5-12 1 12 0.5 0 0.5-1.5 0.5-1.5 0.5 0.5 1-3.5 0.5-8 0.5 12.5 0.5-2.5 0.5-5 1 8.5 0.5-1.5 0.5-0.5 0.5-5.5 0.5 15.5 1-8 0.5-4 0.5 5 0.5 1 0.5-8.5 1-7 0.5 17 0.5-6 0.5 6.5 0.5 6.5 1-6.5 0.5-2 0.5-2.5 0.5-7.5 0.5 12 1-5 0.5-4.5 0.5 5.5 0.5 2.5 0.5-4.5 1 9.5 0.5-6 0.5 5.5 0.5-14 0.5 19.5 1-10 0.5-15.5 0.5 18 0.5 1 0.5-17 1 4.5 0.5-4 0.5 8 0.5-11.5 0.5-4.5 1 0.5 0.5 6.5 0.5-11.5 0.5 15.5 0.5-24 1 3.5 0.5-10.5 0.5-2 0.5 3 0.5 5 1-11.5 0.5 3 0.5-15 0.5 4.5 0.5-14.5 1 8 0.5-15 0.5-10.5 0.5 9 0.5-4.5 1-2.5 0.5 3 0.5-6 0.5 9 0.5-5 1 1.5 0.5 13.5 0.5 0.5 0.5 0 0.5 19.5 1 0 0.5 1 0.5 6 0.5-1 0.5 17 1-8 0.5 15 0.5-7 0.5-1.5 0.5 2 1 6.5 0.5 2 0.5 4 0.5 6 0.5 0.5 1-2 0.5-7 0.5 9 0.5-7 0.5 15.5 1-8 0.5 2 0.5 2.5 0.5 2 0.5-5 1-5 0.5 0.5 0.5 5.5 0.5-2 0.5 4 1-15.5 0.5 0 0.5 10.5 0.5-2 0.5 1.5 1-0.5 0.5 10.5 0.5-5.5 0.5-9 0.5 3 1 0.5 0.5 2.5 0.5-1 0.5 5.5 0.5-3.5 1-1.5 0.5 16.5 0.5-12.5 0.5-1.5 0.5 10.5 1-9 0.5 2.5 0.5-4.5 0.5 0 0.5 0.5 1 0.5 0.5 18.5 0.5-14.5 0.5-9.5 0.5 7 1 6 0.5-2 0.5-5.5 0.5 7 0.5-15 1-6.5 0.5 9 0.5 2 0.5 4.5 0.5 10.5 1-7.5 0.5-5.5 0.5-2 0.5 5.5 0.5-10 1 11.5 0.5-3.5 0.5 0.5 0.5-3 0.5-0.5 1 2.5 0.5 12.5 0.5-10.5 0.5 2.5 0.5-9 1-0.5 0.5 4.5 0.5 6 0.5-15.5 0.5 11 1-15 0.5 21 0.5-7 0.5-3 0.5-1.5 1 6 0.5 13 0.5-9.5 0.5-7.5 0.5 9.5 1-4 0.5 6.5 0.5-14.5 0.5 5.5 0.5 7.5 1-8.5 0.5-0.5 0.5-7 0.5 12.5 0.5 6 1-9.5 0.5-8 0.5 10 0.5-7.5 0.5 9 1 2 0.5-1 0.5-4.5 0.5 6.5 0.5-12 1 7 0.5 2 0.5-1 0.5-6 0.5 2.5 1 0.5 0.5-3 0.5 2.5 0.5 8 0.5-5 1 14.5 0.5-16.5 0.5 2.5 0.5-6.5 0.5 15 1-5 0.5-12 0.5 6 0.5 0.5 0.5 4.5 1-7.5 0.5 6 0.5 3.5 0.5-0.5 0.5-4.5 1-2.5 0.5 7 0.5-7 0.5-5.5 0.5 2.5 1 6.5 0.5 8.5 0.5-23.5 0.5 29 0.5-20 1 8 0.5-14.5 0.5 19 0.5-9 0.5 3.5 1-6 0.5 3 0.5 15.5 0.5-12 0.5-7.5 1 5 0.5-4 0.5 2 0.5-13 0.5 21.5 1-11.5 0.5-0.5 0.5-10 0.5 20 0.5-5 1 2.5 0.5 1.5 0.5-17.5 0.5 8 0.5 9.5 1-2.5 0.5 14 0.5-20.5 0.5 3 0.5 10 1-9.5 0.5 6.5 0.5-2 0.5 1.5 0.5 0 1 0.5 0.5-0.5 0.5-5.5 0.5-2.5 0.5 13.5 1-4 0.5-10.5 0.5 5 0.5 4.5 0.5-9 1 8 0.5-16.5 0.5 18 0.5-2 0.5 0 1-5.5 0.5 4.5 0.5-8 0.5 11 0.5 11.5 1-12.5 0.5-1.5 0.5-7 0.5 4 0.5-2 1 1 0.5-5 0.5 8.5 0.5-17 0.5 16.5 1 0 0.5-6.5 0.5 5 0.5-2.5 0.5-5 1 18 0.5-10 0.5-4 0.5-4.5 0.5 6 1 7 0.5-21 0.5 23 0.5-5 0.5-5.5 1 15.5 0.5-8 0.5-2 0.5-3 0.5-5 1 12.5 0.5 0 0.5-15 0.5 6.5 0.5 2 1 8.5 0.5-10 0.5 3.5 0.5 15.5 0.5-31.5 1 28.5 0.5-5 0.5-12.5 0.5 3.5 0.5 5.5 1-7.5 0.5 2 0.5 14.5 0.5-20 0.5 2 1 3 0.5 1.5 0.5 2.5 0.5-4 0.5-1.5 1 1 0.5-0.5 0.5-4 0.5 12.5 0.5 5 1-4.5 0.5 4.5 0.5-9 0.5 9.5 0.5-9.5 1-1 0.5 10 0.5-7.5 0.5-2 0.5 5.5 1 5 0.5-17.5 0.5 6 0.5 3.5 0.5-4 1 2 0.5-9.5 0.5 11.5 0.5-7.5 0.5 0.5 1-1 0.5 0.5 0.5 0 0.5 6 0.5-6.5 1 0.5 0.5-2 0.5 7.5 0.5 8.5 0.5-10.5 1-3.5 0.5-2 0.5 6 0.5 1 0.5 12.5 1-19.5 0.5 10 0.5-13.5 0.5 19 0.5-13 1 8 0.5-5.5 0.5 1 0.5 8.5 0.5-9.5 1 0.5 0.5 1 0.5-5.5 0.5 7.5 0.5-6.5 1 5 0.5-2.5 0.5 6 0.5 14 0.5-16.5 1-3.5 0.5-2.5 0.5 5.5 0.5 0.5 0.5 6 1-0.5 0.5-12.5 0.5 5.5 0.5 1.5 0.5 7 1 4.5 0.5-14 0.5 0.5 0.5 3 0.5-0.5 1 4 0.5-10.5 0.5 3.5 0.5 18.5 0.5-9.5 1-11 0.5-3.5 0.5 14 0.5-0.5 0.5-16.5 1 10 0.5 4 0.5-1 0.5 1.5 0.5-4.5 1-8 0.5 3 0.5 5.5 0.5 13 0.5-16.5 1 5 0.5-6.5 0.5 2.5 0.5-5 0.5-2.5 1 9 0.5-4.5 0.5 1 0.5 5 0.5-10 1 6 0.5 4 0.5 0 0.5 0 0.5-5 1 2.5 0.5 1 0.5 7 0.5-8.5 0.5-10 1 27.5 0.5-22 0.5 4.5 0.5-7 0.5 8 1-12.5 0.5 16 0.5-6.5 0.5-3 0.5 9.5 1-12 0.5 0.5 0.5 14.5 0.5-21.5 0.5 12.5 1-10 0.5-2.5 0.5 2 0.5-6 0.5 8 1-6.5 0.5-1.5 0.5 4 0.5-7 0.5 6.5 1-6.5 0.5-7 0.5-10.5 0.5 13 0.5-10.5 1-1.5 0.5-0.5 0.5 0.5 0.5-0.5 0.5-2 1-2.5 0.5-4 0.5 14.5 0.5-14.5 0.5 1 1 8 0.5-7 0.5-1 0.5 3.5 0.5 2.5 1-3.5 0.5 0.5 0.5 12.5 0.5-2 0.5 8 1-5 0.5 7 0.5-2 0.5-2 0.5-1.5 1 15 0.5-5 0.5 16.5 0.5-9.5 0.5 15 1-9.5 0.5-0.5 0.5 10.5 0.5-24 0.5 12.5 1 6.5 0.5-5 0.5 6 0.5-11 0.5 4 1-0.5 0.5 4.5 0.5-10 0.5 6.5 0.5 7.5 1-1 0.5-5.5 0.5 12 0.5 0 0.5-4.5 1-9 0.5 8.5 0.5-8 0.5 18.5 0.5-20 1 8 0.5 3.5 0.5-12 0.5-4.5 0.5 14 1-1 0.5 4.5 0.5-6.5 0.5-7.5 0.5 10 1-4.5 0.5 1.5 0.5 0 0.5 10.5 0.5-4 1-2.5 0.5 5 0.5 2.5 0.5-3.5 0.5-4 1-5 0.5 9.5 0.5-7 0.5 11 0.5-11 1 2.5 0.5-1.5 0.5-2 0.5-5.5 0.5 6.5 1 3.5 0.5-0.5 0.5 6.5 0.5-5 0.5-10 1 27 0.5-33 0.5 18.5 0.5-12 0.5 11 1 5 0.5 2 0.5-10 0.5-3 0.5 5.5 1 4 0.5-1.5 0.5 1 0.5-7.5 0.5 2.5 1-1.5 0.5 0 0.5-9.5 0.5 11.5 0.5-1.5 1 1.5 0.5 1.5 0.5-18 0.5 14.5 0.5-2 1-1 0.5 6 0.5-5.5 0.5-4 0.5 6.5 1 2 0.5-13.5 0.5 4.5 0.5 1 0.5 2.5 1 6 0.5 3 0.5-5.5 0.5-5 0.5-7 1 5.5 0.5 8 0.5-0.5 0.5 9 0.5 4 1-11 0.5 1 0.5 0 0.5 3 0.5-3 1-6.5 0.5-3 0.5 16 0.5-18 0.5 12 1-6.5 0.5-1.5 0.5 0 0.5 4 0.5 1 1-4.5 0.5 0.5 0.5 3.5 0.5 2 0.5-2.5 1 0.5 0.5-9 0.5 18 0.5-14.5 0.5 1 1 11 0.5-2 0.5-2 0.5 0 0.5-1 1-5 0.5 16.5 0.5-16.5 0.5 5 0.5 7 1-4 0.5-10 0.5 4 0.5 5 0.5-6.5 1-3 0.5 19.5 0.5-6 0.5-23.5 0.5 15 1 0 0.5 9 0.5-5 0.5-2 0.5 5 1-4.5 0.5 6.5 0.5-3.5 0.5-4.5 0.5-2.5 1 6.5 0.5-7.5 0.5 10 0.5-9.5 0.5 7 1-11 0.5 10 0.5-2 0.5 6.5 0.5-9.5 1-1 0.5-4 0.5 5.5 0.5 8.5 0.5-5 1 0 0.5-5.5 0.5-0.5 0.5 7.5 0.5 1.5 1-10 0.5 3.5 0.5 6 0.5-9.5 0.5 7 1 9.5 0.5-5 0.5 3 0.5-6.5 0.5-2.5 1 5.5 0.5-23 0.5 6.5 0.5 12 0.5 0 1-5.5 0.5-2 0.5 10 0.5-3.5 0.5 0 1 11 0.5-13 0.5-4 0.5-1 0.5 9 1-8 0.5 6.5 0.5-7 0.5 9 0.5-5 1 10.5 0.5-22.5 0.5 13.5 0.5-3 0.5 8.5 1 1 0.5 0 0.5-12.5 0.5-2 0.5 10 1 6 0.5-5 0.5 9.5 0.5-9.5 0.5-15.5 1 16 0.5-10.5 0.5-3 0.5 12 0.5 3 1-1 0.5-8 0.5 10 0.5-1.5 0.5-2 1 0.5 0.5 8.5 0.5-8 0.5 0 0.5 4 1-5 0.5-1 0.5 6.5 0.5-8.5 0.5-4.5 1 15 0.5-10.5 0.5 1 0.5 4 0.5 0 1-5 0.5 3.5 0.5 11 0.5-8 0.5-10 1 20 0.5-17 0.5 5.5 0.5-7.5 0.5 3.5 1 9.5 0.5-9.5 0.5 8.5 0.5-15.5 0.5 1 1 10.5 0.5 0 0.5 0.5 0.5-2.5 0.5 5 1-7.5 0.5-3 0.5 3.5 0.5 0 0.5 6.5 1-11.5 0.5 10.5 0.5-11.5 0.5 9.5 0.5 11.5 1-12 0.5-6 0.5 16 0.5-14 0.5 3 1-2.5 0.5 1.5 0.5 12.5 0.5 0 0.5-13.5 1 7 0.5-7 0.5 8.5 0.5-11 0.5 4.5 1 3.5 0.5-0.5 0.5 1.5 0.5-2.5 0.5-2.5 1-1 0.5-2 0.5 9.5 0.5-6 0.5-5 1 15.5 0.5 4.5 0.5-31.5 0.5 10.5 0.5 3 1 3.5 0.5-3 0.5 2 0.5-3 0.5 14.5 1-22.5 0.5 13 0.5-2.5 0.5-13.5 0.5 11.5 1 10 0.5-8 0.5-4.5 0.5 5 0.5-1 1-3 0.5 9 0.5-7.5 0.5 1.5 0.5-2 1 3 0.5 6 0.5-16.5 0.5 18 0.5-14.5 1 8.5 0.5-5.5 0.5 9 0.5 3 0.5-2.5 1-10 0.5 7 0.5-2 0.5-12 0.5 12 1 2.5 0.5-1 0.5 6 0.5-13.5 0.5 15 1-20 0.5 10.5 0.5 15.5 0.5-12 0.5 7.5 1-2.5 0.5-14 0.5 7 0.5 11.5 0.5-18 1 8.5 0.5-20.5 0.5 21 0.5-8 0.5-3 1 7.5 0.5-7 0.5 9 0.5 1 0.5-8 1-3 0.5 3 0.5 7 0.5-7 0.5 10 1 0 0.5-7.5 0.5 3.5 0.5 1.5 0.5 1.5 1 4 0.5-2.5 0.5 1 0.5-6 0.5-4.5 1 7.5 0.5 1.5 0.5-2 0.5-11.5 0.5 6 1-4.5 0.5 1 0.5 6.5 0.5 2 0.5-10 1 11.5 0.5-3 0.5 4.5 0.5-2 0.5-11.5 1 8 0.5 0 0.5-8 0.5 8 0.5 0 1 9 0.5-7 0.5-11.5 0.5 6.5 0.5 8 1-4 0.5 14.5 0.5-3.5 0.5-16 0.5 8 1 0.5 0.5-11.5 0.5-2 0.5 5.5 0.5 10.5 1-16 0.5 17 0.5-2.5 0.5-9.5 0.5 4.5 1 4 0.5-6 0.5 2.5 0.5-6 0.5 5 1 2.5 0.5-15 0.5 12 0.5 4 0.5-4 1-3.5 0.5 13 0.5 5.5 0.5-2 0.5-7.5 1-4 0.5-11 0.5 10 0.5 10.5 0.5-7.5 1-6 0.5 8.5 0.5-13.5 0.5 14.5 0.5-21 1 20 0.5 1.5 0.5 2.5 0.5-16.5 0.5 19 1-11 0.5 5.5 0.5 3 0.5-5 0.5-6 1-1 0.5 3.5 0.5-0.5 0.5 10 0.5-10 1-3 0.5 4.5 0.5-6.5 0.5-12 0.5 34 1-16.5 0.5 3 0.5-2 0.5-1.5 0.5-6.5 1 9 0.5 4.5 0.5 2 0.5-6 0.5 9 1-18 0.5 8 0.5 1.5 0.5 0 0.5-8 1 12.5 0.5-7 0.5 18.5 0.5-23 0.5 3.5 1 1.5 0.5-7 0.5 12.5 0.5-6.5 0.5 9.5 1 0.5 0.5-17.5 0.5 7 0.5 7 0.5 2.5 1-3.5 0.5-3 0.5-3 0.5 4 0.5 8.5 1-13 0.5-2 0.5 14 0.5-5 0.5 2.5 1-8.5 0.5-1.5 0.5-8.5 0.5 9.5 0.5 4.5 1-1.5 0.5-1.5 0.5 2.5 0.5-1 0.5 4 1 6 0.5-10.5 0.5 4 0.5-1.5 0.5-0.5 1-10 0.5 4 0.5-3.5 0.5 11.5 0.5-0.5 1-0.5 0.5-2.5 0.5 4 0.5-6.5 0.5-15.5 1 11 0.5 7.5 0.5-14.5 0.5 11.5 0.5 0 1-6.5 0.5 3.5 0.5-3.5 0.5-4.5 0.5 13 1-7 0.5 6 0.5-1 0.5 8 0.5-9.5 1 5 0.5 3.5 0.5-9.5 0.5 2 0.5-4.5 1 18.5 0.5-4.5 0.5 2 0.5 0 0.5-4.5 1-10 0.5-4 0.5-3 0.5 9 0.5 6.5 1-4 0.5-5.5 0.5-11 0.5 19 0.5 1.5 1-7 0.5-5.5 0.5 11 0.5 1.5 0.5-8 1 1 0.5 4.5 0.5 7.5 0.5-11 0.5 2 1-4 0.5 3 0.5-0.5 0.5 2.5 0.5 3 1-5 0.5 1 0.5 1.5 0.5-2.5 0.5 9.5 1-2 0.5-6 0.5-2.5 0.5-3 0.5 12.5 1-6.5 0.5 4 0.5-1.5 0.5-3.5 0.5 4.5 1-5 0.5-4.5 0.5 10.5 0.5-6 0.5-6 1 7.5 0.5 14 0.5-12.5 0.5 2 0.5-13 1 21 0.5-21 0.5-4.5 0.5 5.5 0.5 4 1 5 0.5-6.5 0.5 8 0.5-16 0.5 14 1-5.5 0.5-7.5 0.5 16 0.5 0 0.5 3 1-2 0.5 8.5 0.5-19 0.5-7.5 0.5 8.5 1 14 0.5-5.5 0.5-10 0.5 2.5 0.5 7.5 1-2 0.5-1 0.5-5 0.5 4 0.5-9 1 11 0.5 3 0.5-3.5 0.5-7 0.5 4.5 1 4 0.5-9 0.5 6.5 0.5-5 0.5-5.5 1 16 0.5-5.5 0.5 1 0.5 1 0.5 1 1-3 0.5-3 0.5 8.5 0.5-18.5 0.5 3.5 1 9 0.5 6.5 0.5-11.5 0.5 8.5 0.5 0.5 1-7 0.5-2 0.5 17.5 0.5-8.5 0.5-7 1 0 0.5 12 0.5-8 0.5-8 0.5 14 1 2 0.5-8 0.5-3 0.5 3 0.5-2.5 1-4 0.5 2 0.5 15.5 0.5-10.5 0.5 7.5 1 2 0.5-0.5 0.5-9 0.5-0.5 0.5-2.5 1-3.5 0.5 6.5 0.5 9.5 0.5-8 0.5-9 1-0.5 0.5 7 0.5-5 0.5 3.5 0.5-5.5 1 17.5 0.5-6 0.5-0.5 0.5-20.5 0.5 11 1 7.5 0.5-4 0.5-0.5 0.5-5 0.5 0.5 1 0 0.5 4.5 0.5 10 0.5-9 0.5 8.5 1-11 0.5-0.5 0.5 8 0.5 1.5 0.5-6 1 3 0.5 3.5 0.5 3.5 0.5-22 0.5 9 1 12.5 0.5-1 0.5-16.5 0.5 10.5 0.5 12.5 1-20 0.5 12 0.5-12.5 0.5-0.5 0.5 18.5 1-6 0.5 2.5 0.5-8 0.5 4 0.5-1 1-1 0.5-1 0.5 1 0.5-5.5 0.5 3.5 1 0 0.5-5 0.5 0.5 0.5-7.5 0.5 10 1 1.5 0.5-4 0.5 10 0.5-7.5 0.5 2 1 1.5 0.5-5 0.5 4 0.5 6.5 0.5 1 1-7 0.5-10.5 0.5 9.5 0.5-8.5 0.5 0.5 1 5 0.5 1 0.5-3 0.5-4.5 0.5 5.5 1 8 0.5-12.5 0.5 3.5 0.5 5 0.5-2 1-0.5 0.5 6 0.5 0 0.5-6.5 0.5 0.5 1-2.5 0.5-7.5 0.5 14.5 0.5-6 0.5 12 1-7.5 0.5-11 0.5 5 0.5-6 0.5 6.5 1-1.5 0.5 9 0.5-3.5 0.5 2 0.5 7.5 1-14 0.5-0.5 0.5 0.5 0.5 7 0.5 3 1-5.5 0.5 0 0.5 7 0.5 5.5 0.5-22 1 5 0.5 6.5 0.5 6.5 0.5-8.5 0.5-2.5 1 8.5 0.5-8.5 0.5 1 0.5 5.5 0.5-3 1-4 0.5-5 0.5 9.5 0.5 12 0.5-8.5 1-7 0.5-5.5 0.5-0.5 0.5-6.5 0.5 22 1-6 0.5-4 0.5 2 0.5 2.5 0.5 0.5 1-8.5 0.5 7.5 0.5 8 0.5-15 0.5-0.5 1 12.5 0.5-8.5 0.5 1.5 0.5-0.5 0.5 0 1 2 0.5-6 0.5-3 0.5 7.5 0.5-6.5 1 8 0.5-6 0.5 4.5 0.5 0.5 0.5-2 1 0.5 0.5 8 0.5-6.5 0.5 2.5 0.5 1 1-11.5 0.5 12.5 0.5-2 0.5 8.5 0.5-14 1-3 0.5 4 0.5-5.5 0.5 13.5 0.5 8.5 1-10.5 0.5 0 0.5-6 0.5 2 0.5-1 1-3 0.5 6.5 0.5-4.5 0.5-2.5 0.5-2.5 1 10 0.5 8 0.5-7.5 0.5-7.5 0.5-1 1 11.5 0.5-12 0.5 8 0.5-5 0.5 0.5 1 15 0.5-10 0.5-14 0.5 15.5 0.5 0 1-2.5 0.5 11 0.5-16.5 0.5 6 0.5-6 1 9.5 0.5-6.5 0.5-1.5 0.5-3.5 0.5 9 1-6.5 0.5-11.5 0.5 13.5 0.5-0.5 0.5 2 1-8.5 0.5 8 0.5-6.5 0.5 9.5 0.5 4 1 5.5 0.5-5.5 0.5-3.5 0.5-0.5 0.5-2 1-4.5 0.5 9.5 0.5-7.5 0.5 10 0.5-4 1-5.5 0.5 11.5 0.5-24 0.5 16.5 0.5-3 1 2 0.5-10 0.5 7 0.5 6.5 0.5-6.5 1 11.5 0.5-1 0.5-11.5 0.5-7 0.5 12.5 1-2 0.5 1.5 0.5-1 0.5-7.5 0.5 3.5 1 14.5 0.5-20 0.5 16.5 0.5-7.5 0.5 4.5 1-5.5 0.5-6.5 0.5-2 0.5 16 0.5-13 1 8.5 0.5-5.5 0.5 2 0.5 1 0.5 0 1-2.5 0.5-0.5 0.5 4 0.5-5 0.5 5 1 0.5 0.5-3 0.5 2.5 0.5-8.5 0.5 8.5 1 7.5 0.5-11 0.5-2.5 0.5 21.5 0.5-16 1 3.5 0.5 1.5 0.5-8.5 0.5 4 0.5-8.5 1 9 0.5-8 0.5 6.5 0.5-2.5 0.5-2 1-9.5 0.5 19 0.5-4.5 0.5-8 0.5 9 1 14 0.5-26.5 0.5 10 0.5-2.5 0.5 5 1-11.5 0.5 11 0.5-3 0.5 2.5 0.5 2 1 2.5 0.5-21 0.5 10 0.5 5.5 0.5-3.5 1-8.5 0.5 8.5 0.5-6 0.5 10 0.5-1.5 1 0.5 0.5 11 0.5-11.5 0.5 10 0.5-4 1-2 0.5-4.5 0.5 5 0.5 4 0.5-7 1-5 0.5 3.5 0.5-4 0.5 4.5 0.5 11.5 1-9 0.5-1 0.5-2.5 0.5 3 0.5-7 1 3 0.5 12.5 0.5-12.5 0.5 0 0.5-2 1-1 0.5 10.5 0.5-5 0.5 0 0.5-0.5 1 6 0.5 0.5 0.5-5 0.5 1 0.5 2.5 1 1 0.5-5.5 0.5-3 0.5 1.5 0.5-9 1 7.5 0.5 3 0.5 2 0.5-11.5 0.5 10.5 1 6.5 0.5-7 0.5-2 0.5-1 0.5 7 1 3 0.5-11 0.5 2.5 0.5 10 0.5-9" fill="none" stroke="#FFC000" stroke-width="5.0" stroke-linejoin="round" stroke-linecap="round" clip-path="url(#clip2)"/>
<path d="M270 4302 l1-1.5 1 3 1 0.5 1-1 1-1.5 1 0.5 1-2 1 1 1-0.5 1 0 1-0.5 1-1 1 2 1-5.5 1-4 1-4 1-8 1-6.5 1-8 1-7.5 1 3.5 1 3 1 9.5 1 7 1 8.5 1 2.5 1 3 1 4 1 0 1 5 1-2 1 2.5 1-1 1 0.5 1-2.5 1 2.5 1 0.5 1 0.5 1-2.5 1 2.5 1-0.5 1-0.5 1 0.5 1-1.5 1 3 1 1.5 1-0.5 1-1.5 1 0.5 1-1.5 1 0 1 0.5 1 0.5 1-1.5 1 3 1-1.5 1 1.5 1-2 1 1.5 1 1.5 1-1 1 0 1 0.5 1-1 1 0 1-1 1 2.5 1-1 1-2 1 2.5 1-1.5 1 0.5 1 1.5 1-1 1 0 1-1 1 2 1-1.5 1 1.5 1-2 1 2 1 0 1 1 1-1.5 1 0 1 0 1 1 1-1 1 2 1-3 1 1 1 1 1 0 1 1 1 0.5 1-2 1-0.5 1 3 1-4 1 3.5 1-2 1 0 1 2 1 0 1-1.5 1 1 1 0 1-0.5 1-0.5 1 2 1-2.5 1 1.5 1 2 1-2 1-0.5 1 0.5 1-0.5 1 0.5 1 0 1 0.5 1-0.5 1 0 1 0 1-0.5 1 1 1-1 1 1.5 1-0.5 1-3 1 2.5 1 1 1-1 1 1 1 0 1-0.5 1-0.5 1 0 1 2 1 0 1-1.5 1 0.5 1 1 1-3.5 1 3 1-1 1 0.5 1 0 1 0 1 2.5 1-1.5 1 0 1 2 1-4 1 1.5 1 0 1 0.5 1 0 1 1.5 1-2.5 1 1 1 2 1-1.5 1-0.5 1 0.5 1-0.5 1 0 1-0.5 1 1 1 1.5 1-1.5 1-1 1-0.5 1 1 1 2 1 0 1 0 1-1.5 1 1.5 1-0.5 1 0.5 1-1.5 1 1.5 1-0.5 1 0 1 0 1 3 1-3 1-1 1 0 1-1.5 1 0.5 1 2 1 1.5 1-2 1 1.5 1 0 1-0.5 1 1 1 0 1 0.5 1-1.5 1 0.5 1-1 1-0.5 1-0.5 1 0.5 1 1.5 1 0.5 1 0 1-2 1 2 1-2.5 1 1.5 1 1 1-1 1 1 1 0 1 0.5 1-0.5 1 0 1 0.5 1-1.5 1 0.5 1 0.5 1-0.5 1-1.5 1 2.5 1-1 1-0.5 1 0.5 1 0 1-0.5 1-0.5 1 0 1-0.5 1 1.5 1 0 1-1.5 1 2.5 1 0 1-2 1 2 1-2 1-0.5 1-0.5 1 1.5 1 1 1-3.5 1-0.5 1-1 1 2.5 1-0.5 1 0.5 1-4.5 1 0.5 1 0.5 1-1.5 1-0.5 1-2 1-2.5 1-2.5 1-1.5 1-2 1-6.5 1-13.5 1-16.5 1-31.5 1-62 1-82 1-106.5 1-103.5 1-39 1 54.5 1 104.5 1 103.5 1 83 1 52.5 1 30.5 1 14 1 11.5 1 5.5 1 2.5 1 3.5 1 3 1 2 1 2 1 1.5 1 0.5 1 0.5 1 0 1 0.5 1 0 1 0.5 1 2 1 1.5 1-3 1 5 1-4 1 0 1-0.5 1 2 1 1.5 1-0.5 1 0 1-0.5 1 0.5 1 0 1 0 1 1.5 1-1 1-1 1 1 1 1.5 1-1 1-1 1 0.5 1 1 1-1.5 1 1.5 1-0.5 1-1 1-1 1 3.5 1 0 1-1.5 1 1.5 1-2 1 1.5 1 0.5 1-3 1 1 1 1.5 1-2.5 1 0 1-1 1-2 1-1.5 1 1.5 1-4.5 1-0.5 1 0 1 2 1 2 1-0.5 1 4 1 1.5 1-0.5 1 2 1 1.5 1-1.5 1 1 1-2.5 1 4 1-1.5 1 1.5 1-1.5 1-0.5 1 1.5 1-0.5 1-1.5 1 3 1-2 1-1 1 3 1-1.5 1 1 1 1 1-2 1 0 1 1 1-1.5 1 1.5 1-1.5 1 2.5 1-1 1 0.5 1-2.5 1 2.5 1 0.5 1-4 1 1.5 1 0.5 1 1 1-2 1 2 1 0 1-2 1 2.5 1-0.5 1-1 1 0.5 1-4 1 4.5 1-1.5 1-3 1-1.5 1-2.5 1-1.5 1-3.5 1-9.5 1-10 1-21.5 1-27 1-34.5 1-30 1-14 1 11 1 32 1 34 1 28.5 1 20 1 10 1 9 1 6 1 3 1 2 1 0 1 1.5 1 2 1-1.5 1 1 1 0.5 1 2.5 1-2 1 0.5 1 2 1-2 1 3 1-1.5 1 0.5 1-2 1 0 1 3 1-1.5 1-2 1 3.5 1-1.5 1 1.5 1-1 1-0.5 1 0 1 0.5 1 1.5 1-2.5 1 0 1 0.5 1 1 1 0.5 1-1.5 1 2 1 0 1-1 1-1 1 2.5 1-0.5 1-2.5 1 0.5 1 0 1-1 1-1 1-2 1-2 1-3 1-4.5 1-7.5 1-3 1 0 1 1 1 2.5 1 7 1 2.5 1 6 1 0 1 3.5 1 2.5 1-1.5 1 1 1-1 1-0.5 1 2.5 1 1 1-2 1 2 1-0.5 1 0.5 1 1 1 0 1-3 1 2 1-1 1-1 1 2 1-0.5 1-1.5 1 1 1 0 1 1 1-1 1 0.5 1-1.5 1 1 1 0.5 1-1.5 1 0 1 1.5 1-1.5 1 4 1-2.5 1 0.5 1-1.5 1 0 1 1.5 1 1 1-1 1-3.5 1 1 1 2.5 1-3.5 1 2 1 0 1-2 1-1 1-2 1 0.5 1 0.5 1-2 1 2.5 1 0 1 1 1 2 1 0.5 1 0.5 1-1 1 3.5 1-3.5 1 2 1-2.5 1 1.5 1 1 1-0.5 1-2 1 2.5 1 0 1 1.5 1-2.5 1-0.5 1 1.5 1-1.5 1 1.5 1-1.5 1 1 1 1 1-2 1-1 1 1.5 1 1 1-1.5 1-0.5 1 0.5 1 1.5 1 0.5 1-0.5 1 0.5 1 2 1-3 1-1 1-1 1 3 1-2.5 1-0.5 1 3 1-2.5 1 2 1-3 1-2 1-1.5 1-1.5 1-5 1-1 1-3.5 1-3 1 4 1 2.5 1 3 1 3.5 1 2.5 1 3 1-1 1 2 1 0.5 1-2 1 2 1-0.5 1-1 1 0.5 1 0.5 1 0.5 1 1 1-2 1 2 1 0 1 1 1-2.5 1 0 1 0.5 1 2 1-3 1 1.5 1-0.5 1-0.5 1 2.5 1-2.5 1 0 1-0.5 1 2 1 1 1-1.5 1-1.5 1 2.5 1-1.5 1 0.5 1 0 1-1 1 2 1-1 1-2.5 1 1.5 1 0.5 1-1.5 1-1 1 1 1-1.5 1-0.5 1-0.5 1-0.5 1 0 1 2 1 0 1 2 1 1.5 1-0.5 1-0.5 1 0 1 0.5 1-0.5 1 2.5 1-0.5 1-0.5 1-0.5 1-2 1 2 1 1.5 1-3.5 1 2.5 1 0.5 1-1.5 1 1 1 0 1-1.5 1 1 1-0.5 1 0 1 0.5 1-0.5 1 0.5 1-1.5 1 0 1-0.5 1 1 1 2 1-2 1 2.5 1-1.5 1 0 1-2 1 0 1 1.5 1-1.5 1-3.5 1 0.5 1 0 1-5.5 1-7.5 1-5.5 1-10.5 1-11 1-3 1 4 1 7.5 1 11 1 9 1 7 1 3.5 1 2 1 2 1 1 1 0.5 1-0.5 1 1 1 1.5 1-1.5 1-1.5 1 1 1-1.5 1 0.5 1 0.5 1 1 1 0.5 1-1.5 1 1.5 1 0 1-1 1-1.5 1 2.5 1-3 1 5 1-4 1 2.5 1-1 1-1 1 1.5 1 3 1-3 1 0 1-2 1 1 1 0 1 3 1-2 1 0.5 1 2 1-2.5 1-0.5 1 1 1 0.5 1-2 1 0.5 1 0 1 1.5 1-0.5 1-2 1-1 1 3.5 1-1.5 1 0 1 1 1 0 1 0 1 0 1 0.5 1-1 1 1.5 1-2 1-0.5 1 0 1 0 1-0.5 1 2 1-2 1 1.5 1 1 1 1 1-2.5 1 3.5 1-2.5 1 2 1-1.5 1-1.5 1-1 1 1 1-1.5 1 3 1 0 1-2 1 2 1-1 1 1 1-1.5 1-2 1 1 1-1.5 1-2 1 0 1-2.5 1-2 1-1.5 1 1 1 1 1 0.5 1 3 1-1 1 3 1 2.5 1-1.5 1 4 1-1.5 1 0 1 1 1 1 1-1.5 1-1 1 0.5 1 0 1 0.5 1 0 1-0.5 1 0 1-1 1 0.5 1 1 1-2 1 1 1 1 1-1.5 1-1.5 1 0.5 1 1.5 1-1 1 0 1-0.5 1-1 1-1.5 1-1 1 0 1-3.5 1-3 1-5 1-8 1-14.5 1-23.5 1-30 1-37.5 1-31.5 1-15.5 1 17 1 33.5 1 34.5 1 32 1 22 1 15 1 7.5 1 4.5 1 4 1 1 1 3.5 1 1.5 1-3.5 1 3 1-0.5 1 0.5 1 0.5 1 0.5 1 1 1-1.5 1 0.5 1 0.5 1 0 1 0 1 0 1 2 1-0.5 1-1 1 2.5 1-3 1-0.5 1 1.5 1 0.5 1-0.5 1-1.5 1 1 1 1 1-2.5 1 1 1 0 1-1.5 1-2 1-2.5 1 0.5 1-2.5 1-0.5 1-0.5 1 1 1 3.5 1 0.5 1 1 1 1 1 0.5 1 2 1 1.5 1-0.5 1 0 1-0.5 1 0 1-2 1 3 1 0.5 1-1.5 1 0.5 1-2 1 1.5 1-0.5 1 2 1-1.5 1-0.5 1 2.5 1-1 1 0.5 1 1.5 1-3 1 1.5 1-1 1-0.5 1 0.5 1 0.5 1 2 1-0.5 1-2 1 0.5 1 0.5 1-1 1 0 1 1.5 1-1 1-1.5 1 1 1 2 1 0 1-1.5 1 1 1-1.5 1-2 1 2.5 1-1.5 1 3 1-1 1-1 1 1 1-0.5 1-0.5 1-2.5 1 2.5 1 0.5 1-1.5 1 0.5 1 1 1 1 1-3 1 3 1-2.5 1 0 1-0.5 1 0.5 1 1 1-3.5 1 4 1 0 1 0 1-2 1 0 1 0.5 1-2 1-1 1-0.5 1-2.5 1-1.5 1-2.5 1-3 1-3.5 1-1 1-1.5 1 1 1 2.5 1 3.5 1 3.5 1 2.5 1 1.5 1 1.5 1 1 1 2 1-1 1 1.5 1-0.5 1 0 1 0 1 0.5 1-0.5 1 1.5 1-1.5 1-1 1 2 1-2.5 1 4 1-2.5 1 1.5 1-1 1 2.5 1-4 1 1.5 1-1.5 1 0 1 0.5 1 3 1-1 1 0.5 1-3 1 1.5 1-3.5 1 3.5 1-0.5 1-1.5 1 3 1-4.5 1 0 1-1 1 2.5 1-1 1 2 1 0 1 0 1 0 1 1.5 1 0.5 1-0.5 1-0.5 1-1 1 1 1 2 1-0.5 1-3.5 1 3 1-1 1 2 1-0.5 1-2 1 1.5 1-2 1 2.5 1-1 1 0.5 1-1 1 0.5 1 0.5 1-2.5 1 0.5 1-1.5 1 0.5 1 2 1-2.5 1-1 1 1 1-5.5 1-1 1-2 1-0.5 1-3 1-1.5 1 1.5 1 3 1 2.5 1 2.5 1 2.5 1 0 1 1 1 2 1 1 1-0.5 1-2.5 1 4 1-2.5 1 1.5 1 0 1-1 1 1.5 1-1.5 1 1 1-1 1 1 1 1.5 1-1.5 1-3 1 1 1 1 1-1 1-1 1-1 1 0 1-1 1-0.5 1-1.5 1-4.5 1-9 1-10 1-17 1-24.5 1-25 1-22.5 1-7 1 15.5 1 25 1 23.5 1 23 1 16 1 6.5 1 6 1 3 1 3 1-1 1 2 1 0 1 0.5 1 2 1 1 1-1 1 1.5 1 0.5 1-1 1 1 1-1.5 1 0.5 1-1 1 0.5 1 1.5 1-1 1 0.5 1-0.5 1-1 1 0.5 1 1 1-1 1 1 1-3.5 1-0.5 1-3.5 1-2 1-4 1-2 1-3 1-3.5 1-1.5 1 2.5 1 2.5 1 2 1 6 1-1 1 4 1 3.5 1 1.5 1 1 1-1.5 1 2.5 1 1.5 1-2 1 0.5 1-0.5 1-0.5 1 2.5 1-1 1 0.5 1-0.5 1 2 1-1 1-1 1-0.5 1 2 1-3 1 2.5 1-3 1 2.5 1-1 1 0 1-1 1-2 1 0 1-4 1-1.5 1 0 1-5.5 1-2 1-4.5 1-3.5 1 1 1 4.5 1 3 1 4 1 1 1 3.5 1 4 1 1.5 1 0.5 1 0 1 0 1 1 1-2 1 2.5 1 0.5 1 0.5 1-1 1 0.5 1 1.5 1-1.5 1 1 1 1 1-1.5 1 1 1-3.5 1 2.5 1 0.5 1-1 1 2.5 1-2 1-1 1 1.5 1-2 1-1.5 1 0 1-1.5 1-0.5 1-0.5 1-2 1-0.5 1-0.5 1-2 1 0.5 1 4.5 1-1.5 1 1.5 1-0.5 1 3.5 1 1 1-0.5 1 0.5 1 1 1 1 1 0.5 1-2.5 1 0 1 1.5 1 1.5 1-2 1 0.5 1-0.5 1 2.5 1 0 1-4 1 4 1-3 1 1.5 1-1 1 2 1-2 1 0.5 1-0.5 1 0 1 0.5 1-1 1 0 1 0 1-2 1 3.5 1-3.5 1 0 1-2 1 1 1 3 1-1.5 1 0 1 1 1 0.5 1 0.5 1-1 1-1 1 2 1 0.5 1-0.5 1 0.5 1 0 1-0.5 1 1 1 1 1-1.5 1 1 1-0.5 1-2 1 3 1-0.5 1-2 1-0.5 1 2 1-1 1-1 1 0.5 1-3 1 2.5 1-2 1-3.5 1-1.5 1-2.5 1 1 1 0 1 0.5 1 1 1 3 1 0.5 1 1.5 1 1.5 1 1 1 0 1 1 1-1.5 1 1 1 2 1 0.5 1-0.5 1-1.5 1-1.5 1 2 1-2 1 2.5 1-0.5 1-1 1 1.5 1 1 1-3 1 2.5 1-1 1-0.5 1 2 1-4 1 0 1 1 1-1 1 0 1-1.5 1 0.5 1 0.5 1 0 1-2.5 1-1 1 2 1-1.5 1 1.5 1 1 1 2 1-1 1 0.5 1 2 1 0.5 1-1 1-1.5 1 1 1-1.5 1 3 1 0 1-1.5 1-1 1 1 1-2.5 1 4.5 1-0.5 1 1.5 1-4 1 1 1 0 1 0.5 1 1 1-1.5 1 2.5 1-1 1 0 1-2 1-1.5 1 1.5 1 2.5 1 0 1-1 1 0.5 1 1.5 1-3.5 1 0.5 1 1 1 0 1 0.5 1-2 1 1 1-1 1 0 1 2.5 1-2 1 1.5 1-1 1-0.5 1-0.5 1 2 1 0.5 1-0.5 1-1 1 1 1 0 1-0.5 1-1 1 0.5 1 1.5 1-0.5 1-1 1 0.5 1-1 1 0.5 1 2 1-1.5 1-2.5 1 3 1-1 1-0.5 1 2 1-0.5 1 0 1 0.5 1-2 1 1.5 1-2.5 1 1 1 1 1 0 1 1.5 1-2.5 1-0.5 1 0.5 1-1 1 1 1 1 1-1 1 0 1 0 1 0.5 1 1.5 1-1 1-1.5 1 1 1 0 1 1.5 1-2.5 1-1 1-1 1 1 1 0 1 0.5 1-3 1 1 1-4 1-1 1 2 1-0.5 1-1.5 1 1 1 0.5 1 0.5 1 2 1 2 1 0 1-2 1 3 1-1 1 1 1 0.5 1 1.5 1-1 1-1 1 2 1-1 1 0 1 0.5 1-0.5 1-0.5 1 1.5 1-1.5 1 1.5 1-3 1 3.5 1-1.5 1-1.5 1 0 1 0 1-1.5 1-1.5 1-1.5 1 0 1-3 1 0 1-1 1 0.5 1 1 1 0.5 1 1.5 1-1 1 2.5 1 1.5 1 1.5 1 1.5 1 1 1 1 1-1.5 1 0 1 1.5 1-2 1 2.5 1-0.5 1-1.5 1 1.5 1-2.5 1 2 1-0.5 1 1.5 1-3 1 1 1-0.5 1-0.5 1-0.5 1-0.5 1 0.5 1-4 1 1 1-3 1 0.5 1-1.5 1-1.5 1 0 1-1 1 1.5 1 2 1 1 1 3.5 1-2 1 1.5 1 2 1-1.5 1 1 1 3.5 1-2 1-1 1 3.5 1 0 1-1.5 1 0 1-1 1 0 1-0.5 1 2.5 1-1.5 1 0 1 1.5 1-2 1 1 1 0.5 1-1.5 1-2 1 2.5 1-0.5 1-2 1-1.5 1-1.5 1-2 1 1.5 1-2.5 1 1.5 1 2 1 0.5 1 0.5 1 0 1 1.5 1 1 1 1.5 1-2 1 2.5 1-1 1 0 1 0 1 0 1 1 1 0.5 1 0 1-1 1 1 1 0.5 1 1 1-2 1 0.5 1 0 1-0.5 1-1 1-2.5 1 4 1-3 1 0.5 1-0.5 1-1.5 1-0.5 1-1 1 0 1 0.5 1-1.5 1-0.5 1 1 1 1 1-0.5 1 2 1 1.5 1 0.5 1 0 1 0.5 1 0 1-0.5 1 1 1 2 1-1.5 1 0 1 1 1-1 1-3 1 5.5 1-1.5 1-2 1 2 1 0 1 1 1-3.5 1 1.5 1-2.5 1-1 1 2.5 1-1.5 1 0 1-1 1 0 1-1 1 0.5 1-2 1-1.5 1 0 1 1.5 1 2 1-2 1 3 1-2.5 1 3 1 1.5 1-1 1 1 1 0.5 1 1.5 1-2.5 1 3.5 1-1.5 1-1 1 0 1-1 1 1 1 0.5 1-1 1 1 1 0 1-1.5 1 1 1-0.5 1 3 1-4 1 0.5 1-1.5 1 1 1-2 1 0 1-1.5 1-2.5 1-1.5 1 2.5 1-1.5 1 3 1-0.5 1-0.5 1 1.5 1 1.5 1 1 1-1 1 0.5 1 1.5 1 1.5 1-1 1-0.5 1 0.5 1 0.5 1 0 1 0 1-1.5 1 2 1 1 1-0.5 1-1.5 1-2 1 1.5 1 1.5 1-3 1 0.5 1 1 1-4.5 1-2 1-2 1-1.5 1-1.5 1-2" fill="none" stroke="#00B050" stroke-width="5.0" stroke-linejoin="round" stroke-linecap="round" clip-path="url(#clip2)"/>
<circle cx="512.6" cy="3685.1" r="19.0" fill="#00B0F0"/>
<circle cx="641.9" cy="3957.4" r="19.0" fill="#00B0F0"/>
<circle cx="1051.6" cy="3915.1" r="19.0" fill="#00B0F0"/>
<circle cx="1303.6" cy="3956.6" r="19.0" fill="#00B0F0"/>
<circle cx="1381.6" cy="4035.6" r="19.0" fill="#00B0F0"/>
<circle cx="1675.4" cy="4036.7" r="19.0" fill="#00B0F0"/>
<circle cx="1882.4" cy="4036.7" r="19.0" fill="#00B0F0"/>
<circle cx="1951.4" cy="4036.7" r="19.0" fill="#00B0F0"/>
<circle cx="524.0" cy="3442.4" r="19.0" fill="#FFC000"/>
<circle cx="655.5" cy="3646.0" r="19.0" fill="#FFC000"/>
<circle cx="1071.2" cy="3617.7" r="19.0" fill="#FFC000"/>
<circle cx="1327.8" cy="3646.0" r="19.0" fill="#FFC000"/>
<circle cx="515.2" cy="3617.7" r="19.0" fill="#FF0000"/>
<circle cx="643.9" cy="3780.3" r="19.0" fill="#FF0000"/>
<circle cx="1056.4" cy="3820.4" r="19.0" fill="#FF0000"/>
<circle cx="1309.8" cy="3835.0" r="19.0" fill="#FF0000"/>
<rect x="276.6" y="4154.7" width="37.0" height="37.0" rx="2" fill="#00B050"/>
<rect x="526.6" y="3748.3" width="37.0" height="37.0" rx="2" fill="#00B050"/>
<rect x="659.8" y="4087.2" width="37.0" height="37.0" rx="2" fill="#00B050"/>
<rect x="1087.8" y="4073.8" width="37.0" height="37.0" rx="2" fill="#00B050"/>
<rect x="1350.6" y="4140.1" width="37.0" height="37.0" rx="2" fill="#00B050"/>
<path d="M957.3 3457.7L974.3 3491.7L940.3 3491.7Z" fill="#fff" stroke="#000000" stroke-width="6.0" stroke-linejoin="round"/>
<path d="M1163.5 3578.3L1180.5 3612.3L1146.5 3612.3Z" fill="#fff" stroke="#000000" stroke-width="6.0" stroke-linejoin="round"/>
<path d="M1854.3 3644.6L1871.3 3678.6L1837.3 3678.6Z" fill="#fff" stroke="#000000" stroke-width="6.0" stroke-linejoin="round"/>
<line x1="960.2" y1="3444.0" x2="960.2" y2="4363.0" stroke="#000" stroke-width="3.0" stroke-dasharray="18.6 5.45"/>
<line x1="1160.4" y1="3444.0" x2="1160.4" y2="4363.0" stroke="#000" stroke-width="3.0" stroke-dasharray="18.6 5.45"/>
<line x1="1856.0" y1="3444.0" x2="1856.0" y2="4363.0" stroke="#000" stroke-width="3.0" stroke-dasharray="18.6 5.45"/>
<path d="M270.0 3431.6H1978.4V4375.4" fill="none" stroke="#000" stroke-width="3.0"/>
<rect x="266.0" y="3428.1" width="8.0" height="950.8" fill="#000"/>
<rect x="266.0" y="4371.9" width="1713.9" height="7.0" fill="#000"/>
<rect x="252.0" y="4371.9" width="18.0" height="7" fill="#000"/>
<text x="220.0" y="4394.9" text-anchor="end" style="font-family:'Liberation Sans',Arial,sans-serif;font-size:60px">0</text>
<rect x="252.0" y="4237.1" width="18.0" height="7" fill="#000"/>
<text x="220.0" y="4260.1" text-anchor="end" style="font-family:'Liberation Sans',Arial,sans-serif;font-size:60px">50</text>
<rect x="252.0" y="4102.2" width="18.0" height="7" fill="#000"/>
<text x="220.0" y="4125.2" text-anchor="end" style="font-family:'Liberation Sans',Arial,sans-serif;font-size:60px">100</text>
<rect x="252.0" y="3967.4" width="18.0" height="7" fill="#000"/>
<text x="220.0" y="3990.4" text-anchor="end" style="font-family:'Liberation Sans',Arial,sans-serif;font-size:60px">150</text>
<rect x="252.0" y="3832.6" width="18.0" height="7" fill="#000"/>
<text x="220.0" y="3855.6" text-anchor="end" style="font-family:'Liberation Sans',Arial,sans-serif;font-size:60px">200</text>
<rect x="252.0" y="3697.8" width="18.0" height="7" fill="#000"/>
<text x="220.0" y="3720.8" text-anchor="end" style="font-family:'Liberation Sans',Arial,sans-serif;font-size:60px">250</text>
<rect x="252.0" y="3562.9" width="18.0" height="7" fill="#000"/>
<text x="220.0" y="3585.9" text-anchor="end" style="font-family:'Liberation Sans',Arial,sans-serif;font-size:60px">300</text>
<rect x="252.0" y="3428.1" width="18.0" height="7" fill="#000"/>
<text x="220.0" y="3451.1" text-anchor="end" style="font-family:'Liberation Sans',Arial,sans-serif;font-size:60px">350</text>
<rect x="256.0" y="4304.5" width="14.0" height="7" fill="#000"/>
<rect x="256.0" y="4169.7" width="14.0" height="7" fill="#000"/>
<rect x="256.0" y="4034.8" width="14.0" height="7" fill="#000"/>
<rect x="256.0" y="3900.0" width="14.0" height="7" fill="#000"/>
<rect x="256.0" y="3765.2" width="14.0" height="7" fill="#000"/>
<rect x="256.0" y="3630.3" width="14.0" height="7" fill="#000"/>
<rect x="256.0" y="3495.5" width="14.0" height="7" fill="#000"/>
<rect x="266.5" y="4375.4" width="7" height="18.5" fill="#000"/>
<text x="270.0" y="4466.0" text-anchor="middle" style="font-family:'Liberation Sans',Arial,sans-serif;font-size:60px">20</text>
<rect x="408.9" y="4375.4" width="7" height="13.5" fill="#000"/>
<rect x="551.2" y="4375.4" width="7" height="18.5" fill="#000"/>
<text x="554.7" y="4466.0" text-anchor="middle" style="font-family:'Liberation Sans',Arial,sans-serif;font-size:60px">30</text>
<rect x="693.6" y="4375.4" width="7" height="13.5" fill="#000"/>
<rect x="836.0" y="4375.4" width="7" height="18.5" fill="#000"/>
<text x="839.5" y="4466.0" text-anchor="middle" style="font-family:'Liberation Sans',Arial,sans-serif;font-size:60px">40</text>
<rect x="978.3" y="4375.4" width="7" height="13.5" fill="#000"/>
<rect x="1120.7" y="4375.4" width="7" height="18.5" fill="#000"/>
<text x="1124.2" y="4466.0" text-anchor="middle" style="font-family:'Liberation Sans',Arial,sans-serif;font-size:60px">50</text>
<rect x="1263.1" y="4375.4" width="7" height="13.5" fill="#000"/>
<rect x="1405.4" y="4375.4" width="7" height="18.5" fill="#000"/>
<text x="1408.9" y="4466.0" text-anchor="middle" style="font-family:'Liberation Sans',Arial,sans-serif;font-size:60px">60</text>
<rect x="1547.8" y="4375.4" width="7" height="13.5" fill="#000"/>
<rect x="1690.2" y="4375.4" width="7" height="18.5" fill="#000"/>
<text x="1693.7" y="4466.0" text-anchor="middle" style="font-family:'Liberation Sans',Arial,sans-serif;font-size:60px">70</text>
<rect x="1832.5" y="4375.4" width="7" height="13.5" fill="#000"/>
<rect x="1974.9" y="4375.4" width="7" height="18.5" fill="#000"/>
<text x="1978.4" y="4466.0" text-anchor="middle" style="font-family:'Liberation Sans',Arial,sans-serif;font-size:60px">80</text>
<text x="897.0" y="4543.6" style="font-family:'Liberation Sans',Arial,sans-serif;font-size:60px"><tspan font-weight="bold">2 Theta</tspan> (degree)</text>
<text transform="translate(72.0 4076.0) rotate(-90)" style="font-family:'Liberation Sans',Arial,sans-serif;font-size:60px"><tspan font-weight="bold">Intensity</tspan> (a.u.)</text>
<text x="1076.0" y="4834.0" text-anchor="middle" style="font-family:'Liberation Serif','Times New Roman',serif;font-size:104px">(<tspan font-weight="bold">c</tspan>)</text>
<path d="M313.4 50.0L325.6 75.8L301.1 75.8Z" fill="#fff" stroke="#000000" stroke-width="3.0" stroke-linejoin="miter"/>
<text transform="translate(347.8 80.5) scale(1 1.090)" style="font-family:'Liberation Sans',Arial,sans-serif;font-size:52.0px">Co</text>
<circle cx="475.6" cy="59.6" r="14.5" fill="none" stroke="#000000" stroke-width="5.0"/>
<text transform="translate(513.5 80.5) scale(1 1.090)" style="font-family:'Liberation Sans',Arial,sans-serif;font-size:52.0px">CoO</text>
<circle cx="686.0" cy="60.5" r="17.5" fill="#00B0F0"/>
<text transform="translate(718.0 80.5) scale(1 1.090)" style="font-family:'Liberation Sans',Arial,sans-serif;font-size:52.0px">CeO2</text>
<circle cx="920.0" cy="60.5" r="18.0" fill="#000000"/>
<text transform="translate(954.3 80.5) scale(1 1.090)" style="font-family:'Liberation Sans',Arial,sans-serif;font-size:52.0px">LaOCl</text>
<circle cx="1167.0" cy="60.5" r="17.5" fill="#ED7D31"/>
<text transform="translate(1206.0 80.5) scale(1 1.090)" style="font-family:'Liberation Sans',Arial,sans-serif;font-size:52.0px">SmOCl</text>
<line x1="1409.5" y1="62.7" x2="1468.5" y2="62.7" stroke="#000000" stroke-width="4.7" stroke-linecap="round"/>
<text transform="translate(1476.5 81.0) scale(1 1.090)" style="font-family:'Liberation Sans',Arial,sans-serif;font-size:52.0px">Co-La</text>
<line x1="1654.0" y1="62.7" x2="1711.0" y2="62.7" stroke="#00B0F0" stroke-width="4.7" stroke-linecap="round"/>
<text transform="translate(1717.5 81.0) scale(1 1.090)" style="font-family:'Liberation Sans',Arial,sans-serif;font-size:52.0px">Co-Ce</text>
<line x1="1905.0" y1="62.7" x2="1964.0" y2="62.7" stroke="#ED7D31" stroke-width="4.7" stroke-linecap="round"/>
<text transform="translate(1968.5 81.0) scale(1 1.090)" style="font-family:'Liberation Sans',Arial,sans-serif;font-size:52.0px">Co-Sm</text>
<path d="M174.4 1667.0L187.4 1693.0L161.4 1693.0Z" fill="#fff" stroke="#000000" stroke-width="6.0" stroke-linejoin="round"/>
<text transform="translate(211.0 1698.5) scale(1 1.085)" style="font-family:'Liberation Sans',Arial,sans-serif;font-size:53.0px">Co</text>
<circle cx="513.0" cy="1679.5" r="16.5" fill="#00B0F0"/>
<text transform="translate(545.5 1698.5) scale(1 1.085)" style="font-family:'Liberation Sans',Arial,sans-serif;font-size:53.0px">CeO2</text>
<circle cx="846.7" cy="1679.5" r="15.5" fill="#ED7D31"/>
<text transform="translate(883.6 1698.5) scale(1 1.085)" style="font-family:'Liberation Sans',Arial,sans-serif;font-size:53.0px">Sm2O3</text>
<circle cx="1182.0" cy="1679.5" r="15.5" fill="#FF0000"/>
<text transform="translate(1220.0 1698.5) scale(1 1.085)" style="font-family:'Liberation Sans',Arial,sans-serif;font-size:53.0px">Gd2O3</text>
<circle cx="1518.0" cy="1679.0" r="15.5" fill="#FFC000"/>
<text transform="translate(1557.5 1698.5) scale(1 1.085)" style="font-family:'Liberation Sans',Arial,sans-serif;font-size:53.0px">Dy2O3</text>
<rect x="1841.3" y="1664.2" width="29.0" height="29.0" rx="2" fill="#00B050"/>
<text transform="translate(1892.0 1698.5) scale(1 1.085)" style="font-family:'Liberation Sans',Arial,sans-serif;font-size:53.0px">Yb2O3</text>
<line x1="148.0" y1="1748.2" x2="207.0" y2="1748.2" stroke="#00B0F0" stroke-width="4.5" stroke-linecap="round"/>
<text transform="translate(210.5 1767.0) scale(1 1.085)" style="font-family:'Liberation Sans',Arial,sans-serif;font-size:53.0px">Co-Ce</text>
<line x1="483.0" y1="1748.2" x2="541.0" y2="1748.2" stroke="#ED7D31" stroke-width="4.5" stroke-linecap="round"/>
<text transform="translate(545.5 1767.0) scale(1 1.085)" style="font-family:'Liberation Sans',Arial,sans-serif;font-size:53.0px">Co-Sm</text>
<line x1="821.0" y1="1748.2" x2="878.0" y2="1748.2" stroke="#FF0000" stroke-width="4.5" stroke-linecap="round"/>
<text transform="translate(883.5 1767.0) scale(1 1.085)" style="font-family:'Liberation Sans',Arial,sans-serif;font-size:53.0px">Co-Gd</text>
<line x1="1156.5" y1="1748.2" x2="1213.0" y2="1748.2" stroke="#FFC000" stroke-width="4.5" stroke-linecap="round"/>
<text transform="translate(1219.5 1767.0) scale(1 1.085)" style="font-family:'Liberation Sans',Arial,sans-serif;font-size:53.0px">Co-Dy</text>
<line x1="1491.0" y1="1748.2" x2="1548.0" y2="1748.2" stroke="#00B050" stroke-width="4.5" stroke-linecap="round"/>
<text transform="translate(1553.5 1767.0) scale(1 1.085)" style="font-family:'Liberation Sans',Arial,sans-serif;font-size:53.0px">Co-Yb</text>
<circle cx="340.0" cy="3317.0" r="18.2" fill="#00B0F0"/>
<text transform="translate(376.3 3338.0) scale(1 1.080)" style="font-family:'Liberation Sans',Arial,sans-serif;font-size:60.0px">CeO2</text>
<circle cx="686.0" cy="3317.0" r="18.5" fill="#FFC000"/>
<text transform="translate(720.0 3338.0) scale(1 1.080)" style="font-family:'Liberation Sans',Arial,sans-serif;font-size:60.0px">Dy2O3</text>
<circle cx="1030.3" cy="3317.2" r="18.8" fill="#FF0000"/>
<text transform="translate(1067.3 3338.0) scale(1 1.080)" style="font-family:'Liberation Sans',Arial,sans-serif;font-size:60.0px">Gd2O3</text>
<rect x="1357.0" y="3299.4" width="36.0" height="36.0" rx="2" fill="#00B050"/>
<text transform="translate(1416.5 3338.0) scale(1 1.080)" style="font-family:'Liberation Sans',Arial,sans-serif;font-size:60.0px">Yb2O3</text>
<line x1="1696.0" y1="3317.8" x2="1749.5" y2="3317.8" stroke="#000000" stroke-width="5.0" stroke-linecap="round"/>
<text transform="translate(1753.0 3338.0) scale(1 1.080)" style="font-family:'Liberation Sans',Arial,sans-serif;font-size:60.0px">Co</text>
<line x1="313.8" y1="3390.3" x2="371.3" y2="3390.3" stroke="#00B0F0" stroke-width="5.0" stroke-linecap="round"/>
<text transform="translate(375.0 3408.0) scale(1 1.080)" style="font-family:'Liberation Sans',Arial,sans-serif;font-size:60.0px">Co-Ce</text>
<line x1="658.5" y1="3390.3" x2="714.5" y2="3390.3" stroke="#FF0000" stroke-width="5.0" stroke-linecap="round"/>
<text transform="translate(718.0 3408.0) scale(1 1.080)" style="font-family:'Liberation Sans',Arial,sans-serif;font-size:60.0px">Co-Gd</text>
<line x1="1003.5" y1="3390.3" x2="1060.7" y2="3390.3" stroke="#FFC000" stroke-width="5.0" stroke-linecap="round"/>
<text transform="translate(1067.0 3408.0) scale(1 1.080)" style="font-family:'Liberation Sans',Arial,sans-serif;font-size:60.0px">Co-Dy</text>
<line x1="1349.0" y1="3390.3" x2="1406.3" y2="3390.3" stroke="#00B050" stroke-width="5.0" stroke-linecap="round"/>
<text transform="translate(1410.0 3408.0) scale(1 1.080)" style="font-family:'Liberation Sans',Arial,sans-serif;font-size:60.0px">Co-Yb</text>
<text x="2008" y="454.7" text-anchor="end" fill="#ED7D31" style="font-family:'Liberation Sans',Arial,sans-serif;font-weight:bold;font-size:36px">SmOCl</text>
<text x="1998.5" y="648.6" text-anchor="end" fill="#00B0F0" style="font-family:'Liberation Sans',Arial,sans-serif;font-weight:bold;font-size:36px">CeO<tspan font-size="23px" dy="7">2</tspan></text>
<text x="2008" y="943.3" text-anchor="end" fill="#000" style="font-family:'Liberation Sans',Arial,sans-serif;font-weight:bold;font-size:36px">LaOCl</text>
</svg>
</body></html>
